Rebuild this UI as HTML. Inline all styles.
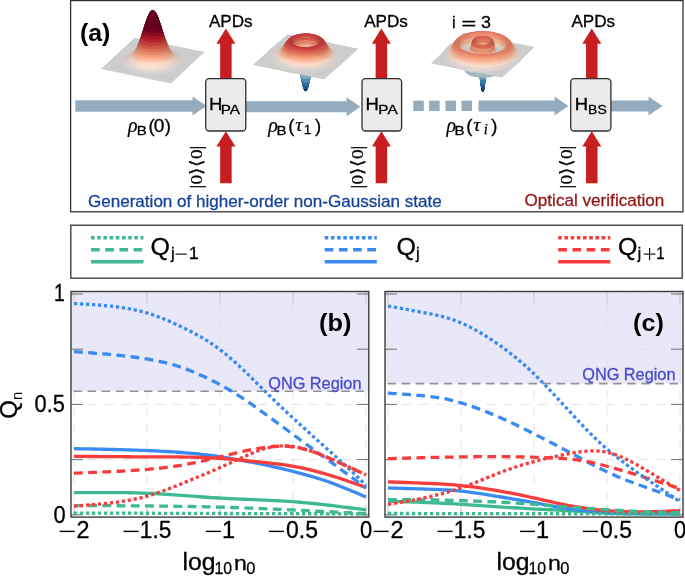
<!DOCTYPE html>
<html><head><meta charset="utf-8"><title>figure</title><style>html,body{margin:0;padding:0;background:#fff;width:685px;height:576px;overflow:hidden}svg{display:block;font-family:"Liberation Sans",sans-serif;will-change:transform}</style></head><body>
<svg width="685" height="576" viewBox="0 0 685 576" font-family="Liberation Sans, sans-serif">
<rect x="70.6" y="0.6" width="612.4" height="211.2" fill="none" stroke="#333" stroke-width="1.3"/>
<text x="79.92" y="40.68" font-size="24.8" font-weight="bold" textLength="30.46" lengthAdjust="spacingAndGlyphs">(a)</text>
<polygon points="101.0,69.1 170.9,83.5 204.6,52.1 134.7,37.8" fill="#cdcdcd"/>
<path fill="#ccc9c6" d="M157 47.8l.6-1.5l-6-.1l.1 1.5zM152.6 47.7l-.1-1.5l-6 .3l.8 1.5zM161.4 48.2l1.3-1.4l-6-.5l-.6 1.5zM148.3 47.9l-.8-1.5l-6 .8l1.5 1.4zM165.5 48.9l1.8-1.3l-5.8-1l-1.3 1.4z"/>
<path fill="#c9c3c0" d="M156.7 48.3l.7-1.4l-5.8-.1l.1 1.4zM152.7 48.2l-.1-1.4l-5.8 .3l1 1.3z"/>
<path fill="#ccc9c6" d="M144.2 48.3l-1.5-1.3l-5.6 1.2l1.9 1.2z"/>
<path fill="#c9c3c0" d="M160.8 48.6l1.5-1.2l-5.8-.5l-.7 1.3zM148.8 48.3l-1-1.3l-5.6 .8l1.6 1.1zM164.7 49.3l1.7-1l-5.3-1l-1.5 1.2z"/>
<path fill="#ccc9c6" d="M169.4 49.9l2-1.1l-5.3-1.5l-1.8 1.2z"/>
<path fill="#c6bdb7" d="M156.4 48.5l1.1-1l-5.8-.2l.2 1.1zM152.8 48.4l-.2-1.1l-5.5 .5l1.1 .9z"/>
<path fill="#c9c3c0" d="M145 48.7l-1.7-1.1l-5.1 1.3l1.7 .9z"/>
<path fill="#ccc9c6" d="M140.2 49l-2-1.2l-5.1 1.7l2.1 1z"/>
<path fill="#c6bdb7" d="M160.1 48.8l1.1-.7l-4.9-.8l-1.2 1zM149.3 48.4l-1.2-.9l-4.8 .9l1.2 .7z"/>
<path fill="#c9c3c0" d="M168.3 50.2l1.9-.8l-4.8-1.4l-1.8 1z"/>
<path fill="#c6bdb7" d="M163.8 49.4l1.3-.6l-4.5-1.1l-1.3 .7zM145.2 48.7l-1.3-.7l-4.4 1.3l1.4 .6z"/>
<path fill="#ccc6c3" d="M140.9 49.3l-1.9-.9l-4.7 1.6l2 .7z"/>
<path fill="#bdb1a8" d="M156.1 47.4l.9 .8l-5.3 .2l.3-1z"/>
<path fill="#ccc9c6" d="M172.9 51.1l2.3-.9l-4.7-1.8l-2.2 1z"/>
<path fill="#c0b1ab" d="M152.9 47.3l-.3 1.1l-4.8-.1l.8-.7z"/>
<path fill="#bdb1a8" d="M159.6 47.7l.8 .7l-4.3 0l-.7-.8z"/>
<path fill="#c0b4ab" d="M149.1 47.9l-.7 .7l-4.2 .1l.8-.7z"/>
<path fill="#ccc9c6" d="M136.3 50l-2.3-.9l-4.6 2l2.4 .8z"/>
<path fill="#c6bdb7" d="M167.1 50.3l1.6-.5l-4.1-1.4l-1.5 .6z"/>
<path fill="#c0b1ab" d="M163 48.3l.9 .7l-3.9-.2l-.7-.7z"/>
<path fill="#ccc3c0" d="M171.5 51.4l2.2-.7l-4.3-1.8l-2.1 .8z"/>
<path fill="#c9c0ba" d="M141.5 49.3l-1.6-.5l-4 1.6l1.7 .4z"/>
<path fill="#baa89f" d="M156.1 47.2l.6 1.2l-4.9-.1l.1-1.2z"/>
<path fill="#c3b4ab" d="M145.3 48.4l-.7 .7l-3.8 .3l.9-.7z"/>
<path fill="#baa89f" d="M152.8 47.1l-.1 1.2l-4.9 .3l.8-1.2zM159.4 47.5l1 1.1l-4.8-.3l-.6-1.2z"/>
<path fill="#ccc6c3" d="M137.3 50.3l-2.1-.7l-4.2 1.9l2.2 .6z"/>
<path fill="#baab9f" d="M149.7 47.2l-.8 1.3l-4.6 .4l.9-1.1z"/>
<path fill="#c0b4ab" d="M166.2 49.1l1 .7l-3.5-.4l-.7-.7z"/>
<path fill="#ccc9c6" d="M175.9 52.6l2.6-.7l-4.2-2.2l-2.5 .8z"/>
<path fill="#b4a296" d="M156 46.8l.4 1.3l-4.6-.1l.1-1.3z"/>
<path fill="#b7a296" d="M152.8 46.7l-.1 1.3l-4.6 .2l.6-1.3z"/>
<path fill="#baa89f" d="M162.7 48l.9 1l-4.2-.4l-.9-1.1z"/>
<path fill="#c6bdb7" d="M170.2 51.4l1.9-.4l-3.7-1.7l-1.8 .5z"/>
<path fill="#b4a296" d="M159.2 47.1l.9 1.4l-4.7-.4l-.4-1.3z"/>
<path fill="#c3b7ae" d="M141.8 49.1l-1.1-.2l-3.2 1.4l1.3 .1z"/>
<path fill="#bdaba2" d="M146.1 47.8l-.8 1l-4.1 .5l.8-1z"/>
<path fill="#b7a599" d="M149.7 46.8l-.6 1.4l-4.7 .6l1.1-1.4z"/>
<path fill="#ccc0ba" d="M138.2 50.3l-1.9-.4l-3.6 1.9l2 .3z"/>
<path fill="#cfc9c9" d="M132.9 51.3l-2.6-.7l-4 2.4l2.6 .6z"/>
<path fill="#ccc6c3" d="M174.3 52.8l2.4-.5l-3.8-2.1l-2.3 .6z"/>
<path fill="#b7a296" d="M162.3 47.6l1 1.3l-4.4-.6l-1-1.4z"/>
<path fill="#b19c8d" d="M155.9 46.2l.3 1.5l-4.4-.1l.1-1.5z"/>
<path fill="#b49c8d" d="M152.8 46.1l-.1 1.5l-4.4 .2l.4-1.5z"/>
<path fill="#baab9f" d="M165.7 48.8l.8 .9l-3.7-.5l-.7-.9z"/>
<path fill="#baa599" d="M146.7 47.2l-1 1.4l-4.2 .7l1-1.3z"/>
<path fill="#b19c8d" d="M159 46.5l.7 1.5l-4.4-.4l-.3-1.5z"/>
<path fill="#c3b4ab" d="M168.8 51l1.6 0l-3-1.6l-1.4 .1z"/>
<path fill="#b49f90" d="M149.8 46.2l-.5 1.5l-4.4 .6l.8-1.6z"/>
<path fill="#c0aea5" d="M142.7 48.6l-.7 .9l-3.6 .6l.7-.9z"/>
<path fill="#cfc9c3" d="M134.1 51.4l-2.4-.5l-3.6 2.3l2.5 .4z"/>
<path fill="#c6bab1" d="M138.9 50l-1.5 0l-2.9 1.7l1.7 0z"/>
<path fill="#b49c8d" d="M161.9 47l1.1 1.6l-4.4-.7l-.7-1.6z"/>
<path fill="#b7a599" d="M165.2 48.3l1 1.2l-3.9-.7l-.9-1.3z"/>
<path fill="#c9c0ba" d="M172.8 52.7l2.2-.2l-3.3-2l-2.1 .3z"/>
<path fill="#ab9081" d="M155.8 45.4l.3 1.7l-4.2-.1l0-1.7z"/>
<path fill="#ae9081" d="M152.8 45.4l0 1.7l-4.2 .2l.4-1.7z"/>
<path fill="#b79f93" d="M146.9 46.5l-.9 1.6l-4.3 .8l1.1-1.6z"/>
<path fill="#bda89c" d="M143.3 48l-.9 1.2l-3.7 .8l.9-1.2z"/>
<path fill="#ab9081" d="M158.7 45.7l.6 1.7l-4.2-.4l-.3-1.7z"/>
<path fill="#ae9384" d="M149.9 45.5l-.4 1.7l-4.2 .5l.7-1.7z"/>
<path fill="#bdaba2" d="M168.4 49.8l.7 .9l-3.2-.7l-.6-.9z"/>
<path fill="#ccc9c6" d="M178.3 54.3l2.8-.4l-3.6-2.5l-2.8 .6z"/>
<path fill="#ccc3bd" d="M135.3 51.4l-2.2-.2l-3.2 2.1l2.3 .1z"/>
<path fill="#b49f90" d="M164.7 47.7l1.1 1.5l-3.9-.8l-1-1.6z"/>
<path fill="#c3b1a8" d="M139.5 49.6l-.6 .9l-3.1 .8l.7-.9z"/>
<path fill="#ae9081" d="M161.5 46.2l.9 1.8l-4.1-.7l-.6-1.7z"/>
<path fill="#b19684" d="M147.1 45.8l-.7 1.8l-4.1 .8l1-1.9z"/>
<path fill="#c3b7ae" d="M171.2 52.2l1.9 .1l-2.7-1.8l-1.8 0z"/>
<path fill="#a58472" d="M155.7 44.5l.3 1.9l-4-.1l0-1.9z"/>
<path fill="#bda296" d="M143.9 47.2l-1 1.6l-3.8 .9l1-1.5z"/>
<path fill="#a58472" d="M152.9 44.4l0 1.9l-4 .2l.3-1.9z"/>
<path fill="#cfccc9" d="M130 52.7l-2.8-.5l-3.4 2.7l2.9 .3z"/>
<path fill="#baa599" d="M167.8 49.3l.9 1.1l-3.4-.8l-.8-1.1z"/>
<path fill="#ccc6c3" d="M176.6 54.3l2.7-.2l-3.2-2.4l-2.7 .4z"/>
<path fill="#a58472" d="M158.5 44.7l.5 1.9l-4-.4l-.3-1.9z"/>
<path fill="#a88775" d="M150.1 44.5l-.3 1.9l-4 .5l.6-1.9z"/>
<path fill="#c3ab9f" d="M140.3 49l-.8 1.1l-3.2 .9l.8-1.1z"/>
<path fill="#c9bdb4" d="M136.3 51l-1.9 .1l-2.6 1.9l2-.2z"/>
<path fill="#ae9384" d="M164.1 46.9l1.2 1.8l-3.9-.9l-1-1.9z"/>
<path fill="#cfc9c6" d="M131.5 52.8l-2.7-.2l-3.1 2.5l2.8 .1z"/>
<path fill="#a88472" d="M161.1 45.2l.8 2l-3.9-.6l-.6-1.9z"/>
<path fill="#b79f93" d="M167.1 48.6l1 1.4l-3.4-.9l-.9-1.5z"/>
<path fill="#b79987" d="M144.5 46.2l-1 1.9l-3.8 1l1.1-1.8z"/>
<path fill="#c0aea5" d="M170.8 50.9l.6 .8l-2.7-.8l-.5-.8z"/>
<path fill="#ccc0ba" d="M174.9 54.1l2.5 0l-2.8-2.3l-2.4 .1z"/>
<path fill="#ab8778" d="M147.4 44.8l-.6 2l-3.9 .8l.9-2z"/>
<path fill="#9f7866" d="M155.6 43.3l.2 2.1l-3.8-.1l0-2.1z"/>
<path fill="#a27866" d="M152.9 43.2l0 2.1l-3.8 .2l.3-2.1z"/>
<path fill="#c0a899" d="M141 48.1l-.9 1.4l-3.3 1l.9-1.4z"/>
<path fill="#9f7866" d="M158.2 43.5l.5 2.1l-3.8-.3l-.2-2.1z"/>
<path fill="#c9b4ab" d="M136.7 50.8l-.5 .8l-2.5 .9l.6-.8z"/>
<path fill="#a27b66" d="M150.2 43.3l-.3 2.1l-3.8 .5l.6-2.1z"/>
<path fill="#cfc6c0" d="M132.8 52.7l-2.5 0l-2.7 2.4l2.6-.1z"/>
<path fill="#bda89c" d="M170 50.4l.8 1.1l-2.8-.9l-.7-1.1z"/>
<path fill="#a88775" d="M163.6 45.8l1.1 2.1l-3.8-1l-.9-2z"/>
<path fill="#b19684" d="M166.5 47.7l1.1 1.8l-3.5-1l-1-1.8z"/>
<path fill="#b18d7b" d="M144.9 45.2l-.9 2.1l-3.8 1.1l1.2-2.1z"/>
<path fill="#a27866" d="M160.7 44l.8 2.2l-3.7-.6l-.5-2.1z"/>
<path fill="#c6bab1" d="M173.1 53.5l2.3 .4l-2.3-2.1l-2.2-.3z"/>
<path fill="#cfc9c9" d="M180.1 56.1l3-.1l-2.8-2.8l-2.8 .3z"/>
<path fill="#c6b1a2" d="M137.6 50.1l-.6 1l-2.6 1l.7-1.1z"/>
<path fill="#a57b69" d="M147.7 43.6l-.6 2.2l-3.7 .8l.8-2.2z"/>
<path fill="#ba9c8d" d="M141.7 47.1l-1 1.8l-3.3 1.1l1-1.7z"/>
<path fill="#bda596" d="M169.3 49.6l.9 1.4l-2.9-1l-.8-1.4z"/>
<path fill="#9c6c57" d="M155.4 41.9l.2 2.3l-3.7-.1l0-2.3zM152.9 41.8l0 2.3l-3.7 .2l.3-2.3z"/>
<path fill="#ccc0b7" d="M134.1 52.2l-2.3 .4l-2.2 2.2l2.4-.5z"/>
<path fill="#9c6c57" d="M157.9 42.1l.5 2.3l-3.6-.3l-.2-2.3z"/>
<path fill="#cfc9c3" d="M178.2 56l3 .1l-2.7-2.7l-2.9 .1z"/>
<path fill="#a27b66" d="M163.1 44.6l1 2.3l-3.6-.9l-.8-2.2z"/>
<path fill="#ab8a78" d="M165.8 46.7l1.1 2.1l-3.4-1.1l-1.1-2.1z"/>
<path fill="#9f6f5a" d="M150.4 41.9l-.3 2.3l-3.6 .5l.5-2.4z"/>
<path fill="#c3b1a8" d="M172.2 53l1.2 .2l-1.9-1.8l-1.1-.1z"/>
<path fill="#cfccc9" d="M127.5 54.4l-2.9-.2l-2.6 2.9l3 0z"/>
<path fill="#c6ab9c" d="M138.4 49.2l-.8 1.3l-2.7 1l.8-1.4z"/>
<path fill="#ab816c" d="M145.3 44l-.9 2.3l-3.6 1.1l1.1-2.4z"/>
<path fill="#b4907e" d="M142.4 46l-1 2.1l-3.3 1.1l1.1-2z"/>
<path fill="#9c6c57" d="M160.3 42.5l.7 2.4l-3.6-.6l-.5-2.4z"/>
<path fill="#b79987" d="M168.5 48.7l1 1.7l-2.9-1.1l-.9-1.7z"/>
<path fill="#a2725a" d="M148 42.1l-.5 2.4l-3.5 .7l.8-2.4z"/>
<path fill="#ccc3bd" d="M176.4 55.7l2.8 .3l-2.3-2.6l-2.8-.2z"/>
<path fill="#ccbaae" d="M134.6 51.9l-1.2 .2l-1.8 1.9l1.3-.2z"/>
<path fill="#d2c9c6" d="M129.3 54.3l-3 0l-2.5 2.9l3.1-.2z"/>
<path fill="#c3ae9f" d="M171.9 51.6l.6 1l-2.2-1l-.6-1z"/>
<path fill="#c0a290" d="M139.2 48.2l-.9 1.6l-2.7 1.1l.9-1.7z"/>
<path fill="#96604b" d="M155.3 40.2l.2 2.5l-3.5-.1l0-2.5z"/>
<path fill="#a87e69" d="M165.2 45.4l1.2 2.4l-3.4-1.2l-1.1-2.4z"/>
<path fill="#96604b" d="M152.9 40.2l0 2.5l-3.5 .2l.3-2.6z"/>
<path fill="#9f6f5a" d="M162.5 43.1l.9 2.5l-3.4-.9l-.7-2.4z"/>
<path fill="#ccb4a8" d="M135.3 51.4l-1.1 .3l-1.5 1.7l1.2-.3z"/>
<path fill="#96604b" d="M157.7 40.5l.4 2.6l-3.5-.3l-.2-2.6z"/>
<path fill="#d2c6c3" d="M131 54l-2.9 .4l-2.1 2.7l2.9-.5z"/>
<path fill="#c0a899" d="M171 50.8l.7 1.3l-2.3-1l-.7-1.2z"/>
<path fill="#99604e" d="M150.5 40.3l-.3 2.6l-3.5 .4l.5-2.6z"/>
<path fill="#b18d7b" d="M167.8 47.6l1 2l-2.9-1.1l-1-2z"/>
<path fill="#b1846f" d="M143 44.6l-1.1 2.4l-3.3 1.2l1.1-2.4z"/>
<path fill="#c9bdb4" d="M174.5 55l2.6 .7l-1.9-2.3l-2.5-.6z"/>
<path fill="#a5755d" d="M145.7 42.5l-.8 2.5l-3.4 1l1-2.6z"/>
<path fill="#96604b" d="M159.9 40.9l.7 2.6l-3.4-.6l-.4-2.6z"/>
<path fill="#ba9381" d="M140 47l-.9 1.9l-2.8 1.2l1-2z"/>
<path fill="#ccb1a2" d="M136.2 50.5l-.6 1.2l-2.1 1.1l.7-1.3z"/>
<path fill="#9c634e" d="M148.2 40.5l-.5 2.6l-3.4 .7l.7-2.7z"/>
<path fill="#d2c3ba" d="M132.4 53.4l-2.6 .7l-1.7 2.4l2.7-.8z"/>
<path fill="#ba9c8d" d="M170.2 49.9l.8 1.6l-2.3-1.1l-.8-1.5z"/>
<path fill="#c9b4ab" d="M173.6 54.4l1.5 .4l-1.5-2.1l-1.5-.4z"/>
<path fill="#a2725a" d="M164.5 43.9l1.2 2.7l-3.3-1.2l-1-2.6z"/>
<path fill="#cfccc9" d="M181.2 58.1l3 .1l-1.8-3l-2.9 .1z"/>
<path fill="#ab816c" d="M167 46.3l1.1 2.3l-2.9-1.2l-1-2.3z"/>
<path fill="#99604e" d="M162 41.4l.9 2.7l-3.3-.8l-.7-2.7z"/>
<path fill="#8d513f" d="M155.2 38.4l.2 2.8l-3.4-.1l0-2.8zM152.9 38.3l0 2.8l-3.4 .2l.3-2.8z"/>
<path fill="#ab7860" d="M143.6 43l-1 2.7l-3.2 1.3l1.2-2.7z"/>
<path fill="#c6a593" d="M137.1 49.4l-.7 1.5l-2.1 1.1l.8-1.5z"/>
<path fill="#cfc9c6" d="M179.3 57.9l3 .3l-1.7-2.9l-2.9-.1z"/>
<path fill="#c6b1a5" d="M172.6 53.7l1.4 .5l-1.3-1.9l-1.3-.4z"/>
<path fill="#8d513f" d="M157.4 38.6l.4 2.8l-3.3-.3l-.2-2.8z"/>
<path fill="#9f6651" d="M146.1 40.9l-.7 2.7l-3.2 1l.9-2.8z"/>
<path fill="#b78772" d="M140.8 45.6l-1 2.3l-2.7 1.2l1-2.3z"/>
<path fill="#d2bdb1" d="M133.1 53l-1.5 .5l-1.4 2.2l1.6-.5z"/>
<path fill="#905442" d="M150.7 38.4l-.3 2.8l-3.3 .4l.5-2.8z"/>
<path fill="#b4907e" d="M169.4 48.7l.9 1.9l-2.3-1.2l-.8-1.8z"/>
<path fill="#d2ccc9" d="M125.6 56.3l-2.9 0l-1.5 3.1l3-.2z"/>
<path fill="#8d513f" d="M159.5 39l.6 2.8l-3.2-.5l-.4-2.8z"/>
<path fill="#cfc6c0" d="M177.3 57.4l3.1 .8l-1.7-2.9l-3-.5z"/>
<path fill="#cfbaab" d="M133.8 52.5l-1.4 .5l-1.2 2l1.5-.6z"/>
<path fill="#c6ab9c" d="M171.7 52.8l1.3 .6l-1.1-1.7l-1.2-.5z"/>
<path fill="#935442" d="M148.6 38.6l-.5 2.8l-3.2 .7l.7-2.9z"/>
<path fill="#c09987" d="M138 48.2l-.8 1.8l-2.2 1.2l.8-1.8z"/>
<path fill="#9c634e" d="M163.9 42.1l1.1 2.9l-3.1-1.1l-.9-2.8z"/>
<path fill="#a8755d" d="M166.3 44.7l1.1 2.6l-2.9-1.2l-1-2.6z"/>
<path fill="#d2ccc9" d="M127.5 56l-2.9 .2l-1.5 3l3-.4z"/>
<path fill="#a56954" d="M144.1 41.3l-1 2.9l-3.1 1.3l1.2-2.9z"/>
<path fill="#b17b63" d="M141.5 43.9l-1 2.6l-2.7 1.3l1.1-2.6z"/>
<path fill="#cfc0b7" d="M175.4 56.5l2.9 1.1l-1.4-2.7l-2.9-1z"/>
<path fill="#905442" d="M161.5 39.5l.8 2.9l-3.1-.8l-.6-2.9z"/>
<path fill="#d2b7a5" d="M134.6 51.8l-1.3 .6l-1 1.8l1.4-.7z"/>
<path fill="#b1846f" d="M168.5 47.3l1 2.2l-2.3-1.2l-.9-2.1z"/>
<path fill="#d5c9c3" d="M129.5 55.5l-3 .6l-1.4 3l3.1-.9z"/>
<path fill="#c0a290" d="M171.4 51.1l.7 1.4l-1.7-1.1l-.6-1.4z"/>
<path fill="#844236" d="M155.1 36.3l.2 3l-3.2-.1l0-3zM153 36.2l0 3l-3.2 .2l.2-3z"/>
<path fill="#965745" d="M146.5 38.9l-.7 2.9l-3.1 .9l.9-3z"/>
<path fill="#844236" d="M157.1 36.5l.4 3l-3.2-.3l-.2-3z"/>
<path fill="#bd8d78" d="M138.8 46.7l-.8 2.1l-2.2 1.2l.9-2.1z"/>
<path fill="#874536" d="M150.9 36.3l-.2 3l-3.2 .4l.5-3z"/>
<path fill="#ccbaae" d="M174.4 55.9l1.8 .8l-1.1-2.4l-1.8-.7z"/>
<path fill="#ccab99" d="M135.3 50.9l-.5 1.3l-1.5 1l.6-1.4z"/>
<path fill="#d5c6bd" d="M131.3 54.6l-3 1.2l-1.2 2.8l3-1.3z"/>
<path fill="#9f6651" d="M165.5 42.9l1.1 2.9l-2.8-1.3l-1.1-2.9z"/>
<path fill="#844236" d="M159.1 36.8l.6 3.1l-3.1-.5l-.4-3z"/>
<path fill="#ba9681" d="M170.5 49.9l.7 1.7l-1.7-1.1l-.7-1.7z"/>
<path fill="#935442" d="M163.2 40.1l1 3.1l-3-1.1l-.9-3z"/>
<path fill="#8a4536" d="M148.9 36.5l-.5 3.1l-3.1 .6l.7-3.1z"/>
<path fill="#ab7860" d="M167.7 45.7l1 2.5l-2.3-1.2l-.9-2.5z"/>
<path fill="#ccb4a8" d="M173.5 55.1l1.7 .9l-.9-2.2l-1.6-.8z"/>
<path fill="#ab6c57" d="M142.3 42.1l-1 2.9l-2.6 1.3l1.1-2.9z"/>
<path fill="#9c5a48" d="M144.7 39.4l-.9 3.1l-2.9 1.2l1.1-3.1z"/>
<path fill="#d5c3b7" d="M132 54.2l-1.8 .9l-.9 2.5l1.8-.9z"/>
<path fill="#c69f8a" d="M136.3 49.5l-.6 1.6l-1.5 1.1l.7-1.7z"/>
<path fill="#b78169" d="M139.7 45l-.9 2.4l-2.1 1.3l.9-2.4z"/>
<path fill="#874536" d="M160.9 37.3l.8 3.1l-3-.7l-.6-3.1z"/>
<path fill="#cfccc9" d="M181.5 60.1l2.9 .3l-.7-3.1l-2.8-.1z"/>
<path fill="#ccb1a2" d="M172.5 54.1l1.6 1l-.7-2l-1.5-.9z"/>
<path fill="#d5bdb1" d="M132.8 53.6l-1.7 1l-.8 2.3l1.7-1z"/>
<path fill="#904839" d="M147 36.8l-.7 3.1l-2.9 .9l.9-3.2z"/>
<path fill="#b78772" d="M169.6 48.5l.8 2l-1.7-1.2l-.7-2z"/>
<path fill="#d2ccc6" d="M179.6 59.7l2.9 .5l-.7-3l-2.9-.3z"/>
<path fill="#7b332a" d="M154.9 34l.2 3.2l-3.1-.1l0-3.2z"/>
<path fill="#7e332a" d="M153 33.9l0 3.2l-3.1 .2l.2-3.2z"/>
<path fill="#995745" d="M164.7 40.9l1.2 3.2l-2.7-1.3l-1.1-3.2z"/>
<path fill="#7b332a" d="M156.8 34.2l.4 3.2l-3-.3l-.2-3.2z"/>
<path fill="#d2c9c3" d="M177.6 59.1l2.9 .9l-.7-2.9l-2.9-.7z"/>
<path fill="#7e362d" d="M151 34l-.2 3.2l-3 .4l.4-3.2z"/>
<path fill="#a56954" d="M166.8 43.9l1 2.8l-2.3-1.3l-.9-2.7z"/>
<path fill="#c6a596" d="M171.5 53l1.5 1.1l-.6-1.8l-1.4-1z"/>
<path fill="#d8baab" d="M133.6 52.8l-1.6 1l-.6 2.1l1.6-1.1z"/>
<path fill="#c3937b" d="M137.2 48l-.7 1.9l-1.6 1.1l.7-2z"/>
<path fill="#8a4539" d="M162.6 37.9l1 3.3l-2.8-1l-.8-3.2z"/>
<path fill="#a25d4b" d="M143 40l-1 3.1l-2.6 1.3l1.1-3.1z"/>
<path fill="#7e332a" d="M158.7 34.5l.6 3.3l-2.9-.5l-.4-3.2z"/>
<path fill="#d2cfcc" d="M124.5 58.2l-2.8 .2l-.4 3.1l2.9-.4z"/>
<path fill="#b1725a" d="M140.5 43.1l-.9 2.7l-2.1 1.3l1-2.7z"/>
<path fill="#d2c3ba" d="M175.7 58.1l3 1.5l-.7-2.9l-2.9-1.3z"/>
<path fill="#81362d" d="M149.2 34.2l-.5 3.2l-2.9 .6l.6-3.3z"/>
<path fill="#934b3c" d="M145.2 37.2l-.9 3.3l-2.8 1.1l1.1-3.3z"/>
<path fill="#d5ccc9" d="M126.4 57.9l-2.8 .4l-.4 3l2.9-.6z"/>
<path fill="#b17b63" d="M168.7 46.8l.8 2.3l-1.7-1.2l-.8-2.3z"/>
<path fill="#d2b19f" d="M134.4 51.8l-1.5 1.2l-.5 2l1.5-1.2z"/>
<path fill="#c09987" d="M170.6 51.7l1.4 1.2l-.5-1.7l-1.4-1.1z"/>
<path fill="#d5ccc6" d="M128.3 57.3l-2.9 .8l-.4 2.9l2.9-1z"/>
<path fill="#d2bdb1" d="M174.7 57.3l2 1.3l-.6-2.8l-2-1.3z"/>
<path fill="#7e362d" d="M160.4 35l.8 3.3l-2.8-.7l-.6-3.3z"/>
<path fill="#c0846c" d="M138.1 46.3l-.7 2.2l-1.6 1.2l.7-2.3z"/>
<path fill="#873930" d="M147.4 34.5l-.7 3.3l-2.8 .8l.8-3.4z"/>
<path fill="#d8c9c0" d="M130.3 56.2l-2.9 1.4l-.4 2.9l2.9-1.6z"/>
<path fill="#9c5a48" d="M166 41.8l1 3l-2.2-1.3l-1-3z"/>
<path fill="#d2baab" d="M173.7 56.5l1.9 1.4l-.4-2.6l-1.9-1.3z"/>
<path fill="#cfa590" d="M135.3 50.6l-1.5 1.3l-.4 1.8l1.5-1.3z"/>
<path fill="#904839" d="M164 38.7l1.2 3.4l-2.7-1.3l-1-3.4z"/>
<path fill="#bd8d78" d="M169.6 50.2l1.4 1.3l-.4-1.5l-1.3-1.3z"/>
<path fill="#752424" d="M154.8 31.6l.2 3.3l-2.9 0l0-3.3zM153 31.5l0 3.3l-2.9 .2l.2-3.3z"/>
<path fill="#ab6f57" d="M167.8 44.9l.8 2.6l-1.7-1.2l-.8-2.6z"/>
<path fill="#dbc6ba" d="M131.3 55.4l-2 1.3l-.4 2.9l2-1.4z"/>
<path fill="#a8604e" d="M141.3 41l-.9 3l-2.1 1.3l1-3z"/>
<path fill="#994e3c" d="M143.7 37.8l-1 3.4l-2.5 1.3l1.1-3.4z"/>
<path fill="#752424" d="M156.6 31.8l.4 3.4l-2.9-.3l-.2-3.3z"/>
<path fill="#d2b7a5" d="M172.8 55.5l1.8 1.5l-.3-2.4l-1.8-1.4z"/>
<path fill="#782724" d="M151.2 31.6l-.2 3.4l-2.9 .4l.4-3.4z"/>
<path fill="#84362d" d="M161.9 35.6l1 3.4l-2.7-1l-.8-3.4z"/>
<path fill="#dbc3b4" d="M132.2 54.6l-1.9 1.5l-.3 2.7l1.9-1.6z"/>
<path fill="#c99681" d="M136.2 49.2l-1.4 1.4l-.3 1.6l1.4-1.5z"/>
<path fill="#ba755d" d="M139 44.3l-.7 2.5l-1.5 1.2l.8-2.5z"/>
<path fill="#8a3930" d="M145.8 34.9l-.9 3.4l-2.7 1.1l1-3.5z"/>
<path fill="#752424" d="M158.2 32.1l.6 3.4l-2.8-.5l-.4-3.4z"/>
<path fill="#ccab99" d="M171.8 54.3l1.7 1.6l-.2-2.2l-1.7-1.5z"/>
<path fill="#7b2727" d="M149.5 31.7l-.4 3.4l-2.8 .6l.6-3.4z"/>
<path fill="#ba8169" d="M169.4 47.9l.6 2l-1.1-1l-.6-2z"/>
<path fill="#dec0b1" d="M133 53.7l-1.8 1.6l-.2 2.5l1.8-1.7z"/>
<path fill="#934b3c" d="M165.1 39.5l1 3.3l-2.2-1.3l-1-3.3z"/>
<path fill="#782724" d="M159.8 32.5l.8 3.5l-2.7-.7l-.6-3.4z"/>
<path fill="#a25d4b" d="M166.9 42.7l.9 2.9l-1.7-1.2l-.8-2.8z"/>
<path fill="#d2ccc9" d="M181.1 62.1l2.8 .5l.4-3.1l-2.8-.3z"/>
<path fill="#c99f8a" d="M170.8 52.9l1.6 1.7l-.1-2.1l-1.6-1.7z"/>
<path fill="#d2ccc9" d="M179.2 61.5l2.8 .7l.4-3l-2.8-.5z"/>
<path fill="#873930" d="M163.2 36.2l1.1 3.6l-2.5-1.2l-1-3.5z"/>
<path fill="#dbb7a2" d="M133.9 52.7l-1.7 1.7l-.1 2.4l1.7-1.8z"/>
<path fill="#c68a6f" d="M137 47.6l-1.4 1.6l-.2 1.5l1.4-1.6z"/>
<path fill="#7e2727" d="M147.9 32l-.6 3.5l-2.7 .8l.8-3.5z"/>
<path fill="#d5c9c3" d="M177.3 60.8l2.8 1.1l.4-2.8l-2.8-.9z"/>
<path fill="#9f513f" d="M142.1 38.7l-.9 3.2l-2 1.3l1-3.3z"/>
<path fill="#903c33" d="M144.4 35.3l-1 3.6l-2.4 1.3l1.1-3.6z"/>
<path fill="#d5c6bd" d="M175.4 59.6l2.8 1.6l.3-2.7l-2.8-1.4z"/>
<path fill="#b16651" d="M139.9 42.1l-.7 2.8l-1.5 1.2l.8-2.8z"/>
<path fill="#b1725a" d="M168.5 46l.6 2.3l-1.1-1l-.6-2.3z"/>
<path fill="#6c151e" d="M154.7 29l.2 3.5l-2.8 0l0-3.5z"/>
<path fill="#d5ab93" d="M134.8 51.4l-1.7 1.9l0 2.2l1.7-1.9z"/>
<path fill="#6c151e" d="M153 29l0 3.5l-2.7 .1l.2-3.5z"/>
<path fill="#7b2727" d="M161.2 33l.9 3.6l-2.6-.9l-.8-3.5z"/>
<path fill="#c3937b" d="M169.8 51.3l1.6 1.9l0-1.9l-1.6-1.8z"/>
<path fill="#d5c3b7" d="M174.4 58.8l1.8 1.4l.3-2.7l-1.8-1.2z"/>
<path fill="#6c151e" d="M156.3 29.2l.4 3.5l-2.7-.2l-.2-3.5z"/>
<path fill="#6f181e" d="M151.4 29l-.2 3.5l-2.7 .3l.4-3.5z"/>
<path fill="#d5cfcc" d="M126 59.8l-2.8 .6l.7 2.9l2.8-.8z"/>
<path fill="#812a27" d="M146.4 32.4l-.8 3.6l-2.5 1l1-3.7z"/>
<path fill="#d2cfcc" d="M124.1 60.2l-2.8 .4l.7 3.1l2.8-.6z"/>
<path fill="#d8c0b1" d="M173.5 57.9l1.8 1.6l.3-2.7l-1.8-1.5z"/>
<path fill="#d8cfc9" d="M127.9 59.1l-2.8 1l.6 2.8l2.8-1.2z"/>
<path fill="#c07b60" d="M137.9 45.7l-.5 2.2l-1 .9l.6-2.2z"/>
<path fill="#6c151e" d="M157.8 29.5l.6 3.5l-2.7-.4l-.4-3.5z"/>
<path fill="#deccc3" d="M129.8 57.9l-2.8 1.5l.6 2.7l2.7-1.7z"/>
<path fill="#994e3f" d="M166 40.4l.9 3.1l-1.6-1.2l-.8-3.1z"/>
<path fill="#8a3930" d="M164.3 37l1 3.5l-2.1-1.3l-1-3.5z"/>
<path fill="#d29c84" d="M135.7 50l-1.6 2l.1 2l1.6-2.1z"/>
<path fill="#72181e" d="M149.8 29.2l-.4 3.5l-2.6 .5l.6-3.6z"/>
<path fill="#d8bdab" d="M172.5 56.8l1.8 1.9l.3-2.7l-1.8-1.8z"/>
<path fill="#deccbd" d="M130.8 57.1l-1.8 1.3l.6 2.6l1.7-1.4z"/>
<path fill="#c0876c" d="M168.9 49.5l1.5 2l0-1.7l-1.5-2z"/>
<path fill="#a8634e" d="M167.5 43.8l.6 2.6l-1.1-1l-.6-2.5z"/>
<path fill="#963f33" d="M142.9 36.2l-.9 3.5l-2 1.3l1-3.5z"/>
<path fill="#a55442" d="M140.8 39.8l-.8 3l-1.5 1.2l.8-3.1z"/>
<path fill="#7e2727" d="M162.4 33.6l1.1 3.8l-2.4-1.2l-1-3.7z"/>
<path fill="#e1c9ba" d="M131.7 56.2l-1.7 1.5l.6 2.6l1.7-1.7z"/>
<path fill="#d5b19f" d="M171.6 55.6l1.7 2.2l.3-2.7l-1.8-2.1z"/>
<path fill="#6f181e" d="M159.3 29.9l.8 3.6l-2.6-.6l-.6-3.6z"/>
<path fill="#751821" d="M148.3 29.4l-.6 3.6l-2.5 .7l.8-3.7z"/>
<path fill="#872a2a" d="M145.1 32.7l-1 3.8l-2.3 1.3l1.1-3.8z"/>
<path fill="#e4c6b4" d="M132.7 55.1l-1.7 1.8l.6 2.6l1.7-1.9z"/>
<path fill="#cf9075" d="M136.6 48.2l-1.6 2.2l.1 1.9l1.6-2.2z"/>
<path fill="#b76954" d="M138.9 43.4l-.5 2.4l-1 .9l.6-2.5z"/>
<path fill="#cfa590" d="M170.6 54.1l1.7 2.4l.4-2.5l-1.7-2.3z"/>
<path fill="#ba785d" d="M167.9 47.4l1.5 2.2l.1-1.6l-1.5-2.2z"/>
<path fill="#e1bda8" d="M133.6 53.8l-1.7 2.1l.6 2.6l1.7-2.2z"/>
<path fill="#72181e" d="M160.6 30.3l.9 3.7l-2.4-.9l-.8-3.7z"/>
<path fill="#600c18" d="M154.5 26.4l.2 3.5l-2.6 0l0-3.5z"/>
<path fill="#903c33" d="M165.1 37.8l.9 3.4l-1.6-1.2l-.8-3.3z"/>
<path fill="#600c18" d="M153 26.3l0 3.5l-2.6 .1l.2-3.5z"/>
<path fill="#781821" d="M147 29.7l-.8 3.7l-2.4 1l1-3.8z"/>
<path fill="#600c18" d="M156 26.5l.4 3.6l-2.6-.2l-.2-3.5z"/>
<path fill="#9f513f" d="M166.6 41.3l.7 2.8l-1.1-1l-.6-2.8z"/>
<path fill="#cc9981" d="M169.6 52.4l1.6 2.5l.4-2.3l-1.6-2.5z"/>
<path fill="#812a2a" d="M163.4 34.3l1.1 3.7l-2-1.2l-1-3.7z"/>
<path fill="#630c18" d="M151.6 26.4l-.2 3.5l-2.6 .3l.4-3.6z"/>
<path fill="#deae99" d="M134.6 52.3l-1.7 2.4l.6 2.6l1.6-2.5z"/>
<path fill="#c98166" d="M137.6 46.3l-1.5 2.3l.2 1.7l1.5-2.4z"/>
<path fill="#9c4236" d="M141.7 37.2l-.8 3.2l-1.4 1.1l.8-3.3z"/>
<path fill="#600c18" d="M157.4 26.8l.6 3.6l-2.5-.4l-.4-3.6z"/>
<path fill="#8d2d2d" d="M143.8 33.5l-.9 3.6l-1.9 1.2l1-3.7z"/>
<path fill="#d8ccc6" d="M176.3 62.4l2.7 1.2l1.3-2.7l-2.8-1.1z"/>
<path fill="#d8c9c0" d="M174.5 61.1l2.6 1.7l1.2-2.6l-2.7-1.6z"/>
<path fill="#630c1b" d="M150.1 26.5l-.4 3.6l-2.5 .5l.6-3.6z"/>
<path fill="#ae5745" d="M139.8 41l-.6 2.7l-.9 .9l.6-2.8z"/>
<path fill="#d5cfc9" d="M178.2 63.3l2.7 .9l1.4-2.8l-2.8-.7z"/>
<path fill="#dbc6ba" d="M173.6 60.3l1.6 1.4l1.2-2.5l-1.7-1.3z"/>
<path fill="#b16651" d="M166.9 45.1l1.5 2.4l.1-1.5l-1.5-2.3z"/>
<path fill="#751821" d="M161.7 30.9l1.1 3.9l-2.3-1.1l-1-3.8z"/>
<path fill="#d8a28a" d="M135.5 50.7l-1.6 2.7l.6 2.4l1.6-2.7z"/>
<path fill="#d2cfcc" d="M180 64l2.8 .7l1.5-3l-2.8-.5z"/>
<path fill="#c68a6f" d="M168.7 50.5l1.6 2.7l.5-2.2l-1.6-2.6z"/>
<path fill="#dbc3b7" d="M172.7 59.3l1.6 1.6l1.2-2.4l-1.7-1.5z"/>
<path fill="#630c18" d="M158.7 27.2l.8 3.7l-2.4-.6l-.6-3.6z"/>
<path fill="#7e1b21" d="M145.8 30.1l-1 3.9l-2.3 1.2l1.1-3.9z"/>
<path fill="#dec0b1" d="M171.8 58.2l1.6 1.9l1.1-2.4l-1.6-1.8z"/>
<path fill="#660c1b" d="M148.8 26.7l-.6 3.7l-2.4 .7l.8-3.7z"/>
<path fill="#bd6f57" d="M138.5 44.1l-1.5 2.5l.2 1.6l1.5-2.6z"/>
<path fill="#e1cfc6" d="M130 59.6l-2.7 1.6l1.5 2.5l2.6-1.8z"/>
<path fill="#dbd2cc" d="M128.2 60.8l-2.7 1.2l1.6 2.6l2.6-1.3z"/>
<path fill="#d59678" d="M136.4 48.9l-1.6 2.8l.6 2.3l1.5-2.9z"/>
<path fill="#dbb7a2" d="M170.9 56.8l1.5 2.1l1.1-2.3l-1.6-2z"/>
<path fill="#872a2a" d="M164.2 35.1l.9 3.5l-1.6-1.1l-.8-3.5z"/>
<path fill="#963f33" d="M165.6 38.7l.7 3.1l-1.1-1l-.6-3z"/>
<path fill="#e4cfc3" d="M131 58.8l-1.7 1.3l1.4 2.4l1.6-1.5z"/>
<path fill="#d8cfcc" d="M126.3 61.7l-2.8 .8l1.7 2.8l2.7-1z"/>
<path fill="#e7ccbd" d="M131.9 57.8l-1.6 1.6l1.4 2.3l1.6-1.7z"/>
<path fill="#c07b60" d="M167.7 48.4l1.5 2.9l.5-2l-1.6-2.8z"/>
<path fill="#630c1b" d="M159.9 27.6l.9 3.8l-2.3-.8l-.8-3.7z"/>
<path fill="#eaccba" d="M132.8 56.7l-1.6 1.8l1.4 2.3l1.5-1.9z"/>
<path fill="#d5ab96" d="M169.9 55.3l1.5 2.4l1.1-2.3l-1.5-2.3z"/>
<path fill="#a85442" d="M165.9 42.6l1.5 2.6l.1-1.4l-1.5-2.5z"/>
<path fill="#781821" d="M162.6 31.6l1.1 3.9l-2-1.2l-1-3.8z"/>
<path fill="#93302d" d="M142.6 34.5l-.8 3.4l-1.4 1.1l.8-3.5z"/>
<path fill="#d2cfcc" d="M124.4 62.2l-2.8 .6l1.7 2.9l2.7-.8z"/>
<path fill="#a54539" d="M140.8 38.4l-.6 2.9l-.9 .9l.6-3z"/>
<path fill="#6c0f1b" d="M147.5 27l-.8 3.8l-2.3 .9l1-3.8z"/>
<path fill="#4e0615" d="M154.4 23.7l.2 3.5l-2.4 0l0-3.5z"/>
<path fill="#510615" d="M153.1 23.7l0 3.5l-2.4 .1l.2-3.6z"/>
<path fill="#e7c0ae" d="M133.8 55.3l-1.5 2.1l1.3 2.2l1.5-2.2z"/>
<path fill="#510615" d="M155.7 23.9l.4 3.6l-2.4-.2l-.2-3.5z"/>
<path fill="#841b24" d="M144.6 30.8l-.9 3.8l-1.8 1.2l1-3.8z"/>
<path fill="#cf8469" d="M137.4 46.9l-1.5 3l.6 2.1l1.5-3z"/>
<path fill="#510615" d="M151.7 23.7l-.2 3.6l-2.4 .3l.4-3.6z"/>
<path fill="#b45a48" d="M139.4 41.7l-1.5 2.7l.2 1.5l1.5-2.8z"/>
<path fill="#d29c84" d="M169 53.6l1.5 2.7l1.1-2.3l-1.5-2.6z"/>
<path fill="#e4b49f" d="M134.7 53.8l-1.5 2.3l1.3 2.2l1.4-2.4z"/>
<path fill="#510615" d="M157 24.1l.6 3.6l-2.4-.4l-.4-3.6z"/>
<path fill="#b76954" d="M166.8 46.1l1.5 3l.5-1.9l-1.5-3z"/>
<path fill="#690c1b" d="M160.9 28.1l1.1 3.9l-2.2-1.1l-.9-3.9z"/>
<path fill="#540618" d="M150.4 23.8l-.4 3.6l-2.4 .5l.6-3.6z"/>
<path fill="#6f0f1e" d="M146.5 27.3l-1 4l-2.2 1.2l1.1-4z"/>
<path fill="#8d2d2d" d="M164.7 36l.7 3.3l-1-.9l-.6-3.2z"/>
<path fill="#cf9075" d="M168.1 51.6l1.4 3l1.1-2.2l-1.5-2.9z"/>
<path fill="#e1a88d" d="M135.6 52.1l-1.5 2.6l1.3 2.2l1.4-2.7z"/>
<path fill="#510615" d="M158.2 24.4l.8 3.7l-2.3-.6l-.6-3.6z"/>
<path fill="#7e1b21" d="M163.3 32.3l.9 3.7l-1.5-1.1l-.8-3.6z"/>
<path fill="#9c4236" d="M165 39.9l1.5 2.7l.2-1.2l-1.4-2.7z"/>
<path fill="#c6725a" d="M138.3 44.6l-1.5 3.2l.6 2l1.5-3.2z"/>
<path fill="#570618" d="M149.2 24l-.6 3.7l-2.3 .7l.8-3.7z"/>
<path fill="#993030" d="M141.7 35.6l-.6 3.1l-.9 .9l.6-3.2z"/>
<path fill="#e1ccc0" d="M172.3 61.6l1.5 1.5l1.9-2.2l-1.6-1.4z"/>
<path fill="#8a1b24" d="M143.5 31.7l-.8 3.6l-1.4 1.1l.8-3.6z"/>
<path fill="#deccc3" d="M173.1 62.6l2.5 1.9l2-2.4l-2.6-1.7z"/>
<path fill="#e1c9ba" d="M171.4 60.6l1.5 1.7l1.9-2.2l-1.6-1.6z"/>
<path fill="#de997b" d="M136.5 50.1l-1.4 2.9l1.3 2.1l1.4-3z"/>
<path fill="#ab483c" d="M140.4 39.1l-1.5 2.9l.2 1.4l1.5-2.9z"/>
<path fill="#ae5745" d="M165.8 43.5l1.5 3.2l.5-1.8l-1.5-3.2z"/>
<path fill="#6c0f1b" d="M161.7 28.7l1.1 3.9l-1.9-1.1l-1-3.9z"/>
<path fill="#e4c6b4" d="M170.6 59.4l1.4 1.9l1.8-2.1l-1.5-1.8z"/>
<path fill="#c98166" d="M167.2 49.4l1.4 3.3l1.1-2.2l-1.4-3.2z"/>
<path fill="#540618" d="M159.2 24.8l.9 3.8l-2.2-.8l-.8-3.7z"/>
<path fill="#d8cfc9" d="M174.8 64l2.5 1.4l2.2-2.5l-2.7-1.3z"/>
<path fill="#e1bda8" d="M169.7 58l1.4 2.2l1.8-2.1l-1.5-2.1z"/>
<path fill="#5a0618" d="M148.1 24.3l-.8 3.8l-2.2 .9l1-3.9z"/>
<path fill="#750f1e" d="M145.4 27.9l-.9 3.9l-1.8 1.1l1-3.9z"/>
<path fill="#d5cfcc" d="M176.5 65l2.6 1.1l2.3-2.7l-2.8-.9z"/>
<path fill="#ba5d4b" d="M139.3 42.1l-1.5 3.4l.6 1.9l1.5-3.4z"/>
<path fill="#deb199" d="M168.9 56.4l1.3 2.4l1.7-2l-1.4-2.3z"/>
<path fill="#3f0012" d="M154.3 21.2l.2 3.5l-2.3 0l0-3.5z"/>
<path fill="#420012" d="M153.1 21.1l0 3.5l-2.3 .1l.2-3.5z"/>
<path fill="#e7d2c6" d="M131.8 60.3l-1.6 1.4l2.1 2.1l1.5-1.6z"/>
<path fill="#d88a6c" d="M137.5 47.9l-1.4 3.2l1.2 2.1l1.3-3.3z"/>
<path fill="#edd2c3" d="M132.6 59.3l-1.5 1.6l2.1 2.1l1.4-1.7z"/>
<path fill="#e4d5c9" d="M130.9 61.2l-2.6 1.8l2.3 2.3l2.4-2z"/>
<path fill="#3f0012" d="M155.4 21.3l.4 3.5l-2.3-.2l-.2-3.5z"/>
<path fill="#f0cfbd" d="M133.5 58.1l-1.5 1.9l2 2l1.4-2z"/>
<path fill="#420012" d="M151.9 21.1l-.2 3.5l-2.3 .3l.4-3.5z"/>
<path fill="#93302d" d="M164 37.1l1.4 2.9l.2-1.1l-1.4-2.8z"/>
<path fill="#841b24" d="M163.7 33.1l.7 3.4l-1-.9l-.6-3.3z"/>
<path fill="#d2cfcc" d="M178.2 65.8l2.7 .9l2.4-2.8l-2.8-.7z"/>
<path fill="#c06f57" d="M166.2 47l1.4 3.6l1.1-2.2l-1.4-3.5z"/>
<path fill="#edc6b1" d="M134.4 56.8l-1.4 2.1l2 2l1.3-2.2z"/>
<path fill="#570618" d="M160.1 25.3l1.1 4l-2.1-1l-.9-3.9z"/>
<path fill="#dba28a" d="M168 54.6l1.3 2.7l1.7-2l-1.4-2.6z"/>
<path fill="#ded2cc" d="M129.1 62.5l-2.7 1.4l2.4 2.4l2.5-1.5z"/>
<path fill="#420012" d="M156.6 21.5l.6 3.6l-2.2-.4l-.4-3.5z"/>
<path fill="#450015" d="M150.8 21.2l-.4 3.6l-2.2 .5l.6-3.6z"/>
<path fill="#5d0918" d="M147.2 24.5l-1 4l-2.1 1.1l1.1-4z"/>
<path fill="#a54539" d="M164.8 40.7l1.5 3.4l.5-1.7l-1.5-3.3z"/>
<path fill="#eabaa2" d="M135.3 55.2l-1.4 2.3l1.9 1.9l1.3-2.4z"/>
<path fill="#6f0f1e" d="M162.4 29.4l.9 3.8l-1.4-1l-.8-3.7z"/>
<path fill="#901e27" d="M142.7 32.7l-.6 3.2l-.9 .8l.6-3.3z"/>
<path fill="#9f3333" d="M141.3 36.3l-1.5 3l.3 1.3l1.5-3.1z"/>
<path fill="#d8d2cf" d="M127.3 63.5l-2.8 1l2.6 2.6l2.6-1.2z"/>
<path fill="#cc755d" d="M138.4 45.5l-1.4 3.4l1.2 2l1.3-3.5z"/>
<path fill="#d59678" d="M167.1 52.6l1.3 2.9l1.7-1.9l-1.4-2.8z"/>
<path fill="#420012" d="M157.6 21.8l.8 3.6l-2.2-.5l-.6-3.6z"/>
<path fill="#780f1e" d="M144.4 28.8l-.8 3.6l-1.3 1l.8-3.7z"/>
<path fill="#e7ab93" d="M136.2 53.4l-1.4 2.6l1.9 1.9l1.3-2.7z"/>
<path fill="#b14b3c" d="M140.2 39.4l-1.5 3.5l.6 1.8l1.5-3.6z"/>
<path fill="#450015" d="M149.7 21.4l-.6 3.6l-2.1 .6l.8-3.7z"/>
<path fill="#b45a48" d="M165.3 44.3l1.4 3.8l1-2.1l-1.4-3.7z"/>
<path fill="#5a0618" d="M160.9 25.9l1.1 3.9l-1.8-1.1l-1-3.9z"/>
<path fill="#d5cfcf" d="M125.5 64.2l-2.8 .8l2.7 2.7l2.6-1z"/>
<path fill="#e49f81" d="M137.1 51.4l-1.3 2.9l1.8 1.8l1.2-2.9z"/>
<path fill="#cf8469" d="M166.3 50.3l1.2 3.2l1.6-1.9l-1.3-3.1z"/>
<path fill="#450015" d="M158.5 22.1l.9 3.7l-2.1-.7l-.8-3.7z"/>
<path fill="#60091b" d="M146.2 25.1l-.9 3.9l-1.7 1.1l1-3.9z"/>
<path fill="#8a1b24" d="M163 34.1l1.4 3l.2-1.1l-1.4-2.9z"/>
<path fill="#480015" d="M148.7 21.6l-.8 3.7l-2.1 .8l1-3.8z"/>
<path fill="#c3634e" d="M139.3 42.9l-1.4 3.7l1.2 2l1.3-3.8z"/>
<path fill="#993030" d="M163.9 37.8l1.5 3.5l.5-1.6l-1.5-3.5z"/>
<path fill="#750f1e" d="M162.8 30.1l.7 3.5l-1-.8l-.6-3.4z"/>
<path fill="#e7cfc0" d="M169.7 61.8l1.3 1.8l2.5-1.9l-1.5-1.7z"/>
<path fill="#eaccba" d="M168.9 60.6l1.3 2l2.4-1.9l-1.4-1.9z"/>
<path fill="#e4cfc3" d="M170.5 62.9l1.4 1.6l2.6-2l-1.5-1.5z"/>
<path fill="#e7c3ae" d="M168.2 59.1l1.2 2.2l2.3-1.8l-1.4-2.1z"/>
<path fill="#de8d6f" d="M138 49.2l-1.3 3.1l1.7 1.8l1.2-3.2z"/>
<path fill="#961e27" d="M142.3 33.4l-1.5 3.1l.3 1.2l1.5-3.2z"/>
<path fill="#e1d2c6" d="M171.2 63.9l2.3 2.1l2.8-2.1l-2.5-1.9z"/>
<path fill="#3c0012" d="M154.1 18.7l.2 3.4l-2.1 0l0-3.4z"/>
<path fill="#e4b49f" d="M167.4 57.5l1.2 2.5l2.3-1.8l-1.3-2.4z"/>
<path fill="#c6725a" d="M165.4 47.8l1.2 3.5l1.6-1.8l-1.3-3.4z"/>
<path fill="#3f0012" d="M153.1 18.6l0 3.4l-2.1 .1l.2-3.4z"/>
<path fill="#7e0f21" d="M143.6 29.8l-.6 3.3l-.9 .8l.6-3.4z"/>
<path fill="#a53633" d="M141.2 36.6l-1.5 3.7l.6 1.7l1.5-3.7z"/>
<path fill="#450015" d="M159.4 22.6l1.1 3.9l-2-1l-1-3.8z"/>
<path fill="#ab483c" d="M164.4 41.5l1.3 4l1-2l-1.4-3.9z"/>
<path fill="#3c0012" d="M155.2 18.8l.4 3.4l-2.1-.2l-.2-3.4z"/>
<path fill="#5d0918" d="M161.4 26.5l.9 3.8l-1.4-1l-.8-3.7z"/>
<path fill="#3f0012" d="M152.1 18.7l-.2 3.4l-2.1 .3l.4-3.4z"/>
<path fill="#e1a88d" d="M166.6 55.6l1.2 2.7l2.2-1.7l-1.3-2.6z"/>
<path fill="#4b0015" d="M147.9 21.8l-1 3.9l-2 1.1l1.1-4z"/>
<path fill="#f3d5c3" d="M134.7 59.5l-1.4 2l2.6 1.8l1.2-2z"/>
<path fill="#f0d5c6" d="M133.9 60.7l-1.4 1.7l2.7 1.8l1.3-1.8z"/>
<path fill="#3f0012" d="M156.1 19l.6 3.4l-2.1-.3l-.4-3.4z"/>
<path fill="#dbd2cc" d="M172.8 65.4l2.4 1.7l2.9-2.3l-2.6-1.5z"/>
<path fill="#f3ccb4" d="M135.6 58.1l-1.3 2.2l2.5 1.7l1.2-2.3z"/>
<path fill="#edd5c9" d="M133.1 61.8l-1.5 1.6l2.8 1.9l1.3-1.7z"/>
<path fill="#66091b" d="M145.2 25.9l-.8 3.7l-1.3 .9l.8-3.7z"/>
<path fill="#3f0012" d="M151.1 18.7l-.4 3.4l-2.1 .4l.6-3.5z"/>
<path fill="#d27b60" d="M138.9 46.7l-1.3 3.4l1.7 1.7l1.2-3.5z"/>
<path fill="#b74e3f" d="M140.3 40.1l-1.3 3.9l1.2 1.9l1.3-4z"/>
<path fill="#f0bda5" d="M136.4 56.4l-1.3 2.4l2.4 1.7l1.2-2.5z"/>
<path fill="#de997e" d="M165.8 53.5l1.1 3l2.1-1.6l-1.2-2.9z"/>
<path fill="#e7d8cc" d="M132.3 62.7l-2.4 2l2.9 2l2.2-2.2z"/>
<path fill="#3f0012" d="M157 19.3l.8 3.5l-2-.5l-.6-3.5z"/>
<path fill="#bd604b" d="M164.5 45.2l1.2 3.7l1.5-1.8l-1.3-3.6z"/>
<path fill="#edb196" d="M137.2 54.6l-1.2 2.6l2.3 1.6l1.1-2.7z"/>
<path fill="#420015" d="M150.2 18.9l-.6 3.5l-2 .6l.8-3.6z"/>
<path fill="#480015" d="M160 23.1l1.1 3.9l-1.7-1l-1-3.9z"/>
<path fill="#901e27" d="M162.9 34.8l1.5 3.6l.5-1.5l-1.5-3.6z"/>
<path fill="#d8cfcc" d="M174.3 66.6l2.5 1.3l3.1-2.4l-2.7-1.1z"/>
<path fill="#7b0f1e" d="M162.1 31.1l1.4 3l.2-1l-1.4-3z"/>
<path fill="#d88a6c" d="M165 51.2l1.1 3.2l2.1-1.6l-1.2-3.1z"/>
<path fill="#4e0018" d="M146.9 22.3l-.9 3.8l-1.6 1l1-3.9z"/>
<path fill="#eaa284" d="M138.1 52.5l-1.2 2.9l2.3 1.5l1.1-3z"/>
<path fill="#e1d5cf" d="M130.6 64.1l-2.5 1.6l3.1 2.1l2.3-1.7z"/>
<path fill="#9f3333" d="M163.5 38.5l1.3 4.1l1-1.9l-1.4-4.1z"/>
<path fill="#60091b" d="M161.8 27.1l.7 3.5l-.9-.8l-.6-3.4z"/>
<path fill="#c96651" d="M139.8 44l-1.2 3.6l1.6 1.6l1.2-3.7z"/>
<path fill="#420012" d="M157.9 19.6l.9 3.6l-2-.7l-.8-3.6z"/>
<path fill="#841221" d="M143.2 30.4l-1.5 3.2l.3 1.1l1.5-3.2z"/>
<path fill="#9c212a" d="M142.2 33.6l-1.5 3.8l.6 1.6l1.5-3.8z"/>
<path fill="#450015" d="M149.3 19l-.8 3.6l-2 .8l1-3.7z"/>
<path fill="#69091e" d="M144.5 26.8l-.6 3.3l-.8 .7l.6-3.4z"/>
<path fill="#ab3636" d="M141.2 37.1l-1.3 4.1l1.1 1.9l1.3-4.2z"/>
<path fill="#d2cfcc" d="M175.8 67.5l2.5 1.1l3.3-2.6l-2.8-.9z"/>
<path fill="#e49072" d="M138.9 50.2l-1.2 3.1l2.2 1.5l1.1-3.2z"/>
<path fill="#b14b3f" d="M163.7 42.3l1.2 3.9l1.5-1.7l-1.3-3.8z"/>
<path fill="#cc755d" d="M164.2 48.7l1.1 3.4l2-1.5l-1.2-3.4z"/>
<path fill="#dbd2cf" d="M128.9 65.2l-2.7 1.2l3.4 2.3l2.4-1.4z"/>
<path fill="#4b0015" d="M160.5 23.6l.9 3.7l-1.3-.9l-.8-3.7z"/>
<path fill="#edc6b1" d="M166.2 60.1l1.1 2.3l2.8-1.6l-1.2-2.2z"/>
<path fill="#f0d2bd" d="M166.9 61.6l1.1 2.1l2.9-1.6l-1.3-2z"/>
<path fill="#420015" d="M158.6 19.9l1.1 3.8l-1.9-.9l-1-3.7z"/>
<path fill="#eabaa2" d="M165.5 58.4l1 2.5l2.7-1.5l-1.2-2.4z"/>
<path fill="#edd2c3" d="M167.6 62.9l1.2 1.9l3-1.7l-1.3-1.8z"/>
<path fill="#3f0012" d="M154 16.4l.2 3.2l-2 0l0-3.2zM153.1 16.4l0 3.2l-2 .1l.2-3.2z"/>
<path fill="#510318" d="M146.1 23.1l-.8 3.6l-1.2 .9l.8-3.7z"/>
<path fill="#bd4e42" d="M140.7 41.1l-1.2 3.8l1.6 1.6l1.1-3.9z"/>
<path fill="#ead2c6" d="M168.3 64.1l1.2 1.7l3.1-1.7l-1.4-1.6z"/>
<path fill="#3f0012" d="M154.9 16.5l.4 3.2l-2-.2l-.2-3.2z"/>
<path fill="#480015" d="M148.6 19.2l-1 3.8l-1.9 1l1.1-3.8z"/>
<path fill="#e7ae93" d="M164.9 56.5l1 2.8l2.6-1.5l-1.2-2.7z"/>
<path fill="#d87e63" d="M139.7 47.7l-1.2 3.4l2.1 1.4l1-3.5z"/>
<path fill="#3f0012" d="M152.3 16.4l-.2 3.2l-2 .2l.4-3.2z"/>
<path fill="#7e0f21" d="M162 31.7l1.5 3.7l.5-1.4l-1.5-3.6z"/>
<path fill="#961e27" d="M162.5 35.4l1.3 4.2l1-1.8l-1.4-4.2z"/>
<path fill="#3f0012" d="M155.7 16.7l.6 3.2l-2-.3l-.4-3.2z"/>
<path fill="#c3634e" d="M163.4 45.9l1.1 3.7l1.9-1.5l-1.2-3.6z"/>
<path fill="#66091b" d="M161.1 28l1.4 3.1l.2-.9l-1.4-3z"/>
<path fill="#f6cfba" d="M137.2 59.2l-1.2 2.3l3 1.5l1-2.3z"/>
<path fill="#e49f81" d="M164.2 54.4l1 3l2.6-1.4l-1.1-2.9z"/>
<path fill="#420015" d="M151.4 16.4l-.5 3.2l-1.9 .4l.6-3.3z"/>
<path fill="#f9d8c6" d="M136.4 60.7l-1.2 2l3.1 1.5l1.1-2.1z"/>
<path fill="#e4d5c9" d="M168.9 65.1l2 2.3l3.4-1.9l-2.3-2.1z"/>
<path fill="#f3c3a8" d="M137.9 57.5l-1.2 2.5l2.9 1.4l1-2.6z"/>
<path fill="#d5d2cf" d="M127.2 66l-2.7 1l3.6 2.4l2.5-1.2z"/>
<path fill="#f3d8c9" d="M135.7 62l-1.3 1.8l3.2 1.6l1.1-1.9z"/>
<path fill="#8a1224" d="M143.1 30.5l-1.5 3.8l.6 1.5l1.4-3.9z"/>
<path fill="#f3b499" d="M138.7 55.7l-1.1 2.7l2.8 1.4l1-2.8z"/>
<path fill="#a53633" d="M162.8 39.2l1.2 4.1l1.4-1.6l-1.2-4z"/>
<path fill="#450015" d="M159.2 20.4l1.1 3.7l-1.6-1l-1-3.7z"/>
<path fill="#3f0012" d="M156.5 16.9l.8 3.3l-1.9-.5l-.6-3.3z"/>
<path fill="#9f212a" d="M142.2 34l-1.3 4.2l1.1 1.8l1.3-4.3z"/>
<path fill="#6f091e" d="M144.2 27.3l-1.5 3.2l.3 1l1.5-3.3z"/>
<path fill="#f0dbcc" d="M134.9 63.1l-1.4 1.7l3.3 1.6l1.2-1.8z"/>
<path fill="#de8d6f" d="M163.5 52l1 3.2l2.5-1.4l-1.1-3.2z"/>
<path fill="#4e0018" d="M160.8 24.2l.7 3.4l-.9-.7l-.6-3.4z"/>
<path fill="#420015" d="M150.6 16.5l-.7 3.3l-1.9 .6l.8-3.4z"/>
<path fill="#cf6951" d="M140.6 45l-1.1 3.6l2 1.4l1-3.7z"/>
<path fill="#f0a587" d="M139.4 53.5l-1.1 3l2.7 1.3l.9-3z"/>
<path fill="#4b0015" d="M147.7 19.7l-.9 3.7l-1.5 .9l1-3.7z"/>
<path fill="#b13936" d="M141.6 38.1l-1.2 4l1.5 1.5l1.1-4.1z"/>
<path fill="#ded2cc" d="M170.2 66.7l2.1 1.8l3.6-2l-2.4-1.7z"/>
<path fill="#540318" d="M145.4 23.9l-.6 3.3l-.8 .6l.6-3.3z"/>
<path fill="#ead8cf" d="M134.2 64.1l-2.2 2.2l3.5 1.7l1.9-2.4z"/>
<path fill="#420015" d="M157.2 17.2l1 3.4l-1.9-.7l-.8-3.4z"/>
<path fill="#b74e3f" d="M162.6 43l1.1 3.9l1.9-1.4l-1.2-3.8z"/>
<path fill="#ea9675" d="M140.2 51.2l-1.1 3.2l2.6 1.3l.9-3.3z"/>
<path fill="#d57b60" d="M162.8 49.4l.9 3.5l2.4-1.3l-1.1-3.4z"/>
<path fill="#450015" d="M149.9 16.7l-.9 3.4l-1.9 .8l1-3.5z"/>
<path fill="#480015" d="M159.6 20.8l.9 3.6l-1.2-.8l-.8-3.5z"/>
<path fill="#841221" d="M161.6 32.2l1.3 4.3l.9-1.8l-1.4-4.2z"/>
<path fill="#69091e" d="M161 28.5l1.5 3.7l.5-1.3l-1.5-3.7z"/>
<path fill="#c35145" d="M141.4 42.1l-1.1 3.8l2 1.3l1-3.9z"/>
<path fill="#9c212a" d="M161.9 36l1.2 4.2l1.4-1.6l-1.2-4.1z"/>
<path fill="#de8166" d="M140.9 48.6l-1 3.4l2.5 1.2l.9-3.5z"/>
<path fill="#f0c0a5" d="M163.4 59.2l.9 2.6l3.1-1.3l-1-2.5z"/>
<path fill="#f3ccb7" d="M164 61l.9 2.4l3.3-1.3l-1.1-2.3z"/>
<path fill="#420015" d="M157.8 17.5l1.1 3.6l-1.8-.9l-1-3.5z"/>
<path fill="#4e0018" d="M147 20.4l-.8 3.5l-1.1 .8l.8-3.5z"/>
<path fill="#edb196" d="M162.8 57.3l.8 2.8l3-1.2l-1-2.7z"/>
<path fill="#f6d5c3" d="M164.5 62.5l.9 2.2l3.4-1.4l-1.1-2.1z"/>
<path fill="#e1d8d2" d="M132.7 65.6l-2.3 1.8l3.8 1.8l2-1.9z"/>
<path fill="#510318" d="M160.1 25l1.4 3l.3-.9l-1.4-2.9z"/>
<path fill="#c96651" d="M162.1 46.6l.9 3.7l2.3-1.3l-1.1-3.6z"/>
<path fill="#8d1224" d="M143.1 30.9l-1.3 4.3l1.1 1.8l1.3-4.4z"/>
<path fill="#d8d2cf" d="M171.6 68l2.2 1.5l3.9-2.1l-2.5-1.4z"/>
<path fill="#480015" d="M149.3 16.8l-1 3.6l-1.8 .9l1.1-3.6z"/>
<path fill="#72091e" d="M144.1 27.4l-1.5 3.9l.6 1.5l1.4-3.9z"/>
<path fill="#3f0012" d="M153.9 14.4l.2 2.9l-1.8 0l0-2.9z"/>
<path fill="#f0d5c6" d="M165.1 63.9l1 2l3.5-1.4l-1.2-1.9z"/>
<path fill="#3f0012" d="M153.1 14.4l0 2.9l-1.8 .1l.3-2.9z"/>
<path fill="#eaa284" d="M162.2 55.1l.8 3.1l2.9-1.2l-1-3z"/>
<path fill="#ae3636" d="M161.9 39.9l1 4.1l1.8-1.4l-1.1-4z"/>
<path fill="#a5212d" d="M142.5 35l-1.2 4.1l1.5 1.5l1.1-4.2z"/>
<path fill="#3f0012" d="M154.6 14.5l.4 2.9l-1.8-.2l-.2-2.9z"/>
<path fill="#420012" d="M152.4 14.4l-.3 2.9l-1.8 .2l.5-2.9z"/>
<path fill="#f9c6ab" d="M139.8 58.5l-1 2.6l3.2 1.1l.8-2.6z"/>
<path fill="#5a031b" d="M145.2 24.4l-1.5 3.1l.3 1l1.5-3.2z"/>
<path fill="#fcd2bd" d="M139.1 60.2l-1 2.3l3.4 1.2l.9-2.4z"/>
<path fill="#f6b79c" d="M140.5 56.6l-1 2.8l3.1 1.1l.8-2.8z"/>
<path fill="#edd8c9" d="M165.7 65l1 1.8l3.6-1.5l-1.2-1.7z"/>
<path fill="#3f0012" d="M155.3 14.7l.6 3l-1.8-.3l-.4-2.9z"/>
<path fill="#d26954" d="M141.7 45.8l-1 3.7l2.4 1.2l.9-3.7z"/>
<path fill="#e49372" d="M161.7 52.7l.8 3.3l2.8-1.1l-1-3.2z"/>
<path fill="#fcdbc9" d="M138.5 61.8l-1.1 2.1l3.5 1.2l.9-2.2z"/>
<path fill="#420015" d="M151.7 14.4l-.5 3l-1.8 .4l.7-3z"/>
<path fill="#450015" d="M158.3 17.9l1 3.5l-1.5-.9l-1-3.5z"/>
<path fill="#4b0018" d="M159.9 21.4l.7 3.3l-.9-.6l-.6-3.2z"/>
<path fill="#f3a88a" d="M141.1 54.4l-.9 3l3 1.1l.8-3.1z"/>
<path fill="#b73c39" d="M142.3 39l-1.1 4l1.9 1.3l1-4.1z"/>
<path fill="#f9dbcc" d="M137.8 63.1l-1.1 1.9l3.6 1.3l.9-2z"/>
<path fill="#420012" d="M155.9 14.8l.8 3.1l-1.8-.5l-.6-3z"/>
<path fill="#4b0018" d="M148.5 17.3l-.9 3.5l-1.4 .8l1-3.5z"/>
<path fill="#bd5142" d="M161.4 43.6l.9 3.9l2.2-1.2l-1-3.8z"/>
<path fill="#510018" d="M146.4 21.1l-.6 3.1l-.7 .5l.6-3.2z"/>
<path fill="#dbd5cf" d="M131.2 66.8l-2.5 1.5l4 2l2.1-1.6z"/>
<path fill="#450015" d="M151.1 14.5l-.7 3.1l-1.8 .5l.9-3.1z"/>
<path fill="#ed9978" d="M141.8 52l-.9 3.3l2.9 1l.8-3.3z"/>
<path fill="#d87e63" d="M161.1 50.1l.8 3.5l2.7-1.1l-.9-3.5z"/>
<path fill="#e7d8cc" d="M166.2 66.1l1.7 2.4l3.9-1.6l-2-2.3z"/>
<path fill="#6f091e" d="M160.7 29.1l1.3 4.3l.9-1.7l-1.4-4.3z"/>
<path fill="#d5cfcf" d="M172.9 69l2.3 1.3l4.1-2.3l-2.6-1.2z"/>
<path fill="#f3dbcf" d="M137.2 64.3l-1.2 1.8l3.7 1.3l1-1.9z"/>
<path fill="#8a1224" d="M161 32.8l1.2 4.3l1.3-1.5l-1.2-4.2z"/>
<path fill="#c95445" d="M142.5 42.9l-1 3.9l2.3 1.1l.9-3.9z"/>
<path fill="#570318" d="M160 25.5l1.5 3.7l.5-1.3l-1.5-3.6z"/>
<path fill="#420015" d="M156.5 15.1l1 3.2l-1.8-.6l-.8-3.1z"/>
<path fill="#a2212d" d="M161.1 36.6l1 4.2l1.7-1.3l-1.1-4.1z"/>
<path fill="#e18466" d="M142.4 49.4l-.9 3.5l2.8 1l.7-3.5z"/>
<path fill="#450015" d="M150.5 14.6l-.9 3.2l-1.8 .7l1.1-3.3z"/>
<path fill="#780921" d="M144.1 27.7l-1.3 4.3l1 1.7l1.3-4.4z"/>
<path fill="#480015" d="M158.7 18.3l.9 3.3l-1.2-.7l-.8-3.3z"/>
<path fill="#931227" d="M143.4 31.8l-1.2 4.2l1.4 1.4l1.1-4.3z"/>
<path fill="#f6c3ab" d="M161 59.9l.7 2.6l3.5-1l-.9-2.6z"/>
<path fill="#cf6954" d="M160.5 47.2l.8 3.7l2.6-1l-.9-3.7z"/>
<path fill="#f3b499" d="M160.5 57.9l.7 2.9l3.3-1l-.8-2.8z"/>
<path fill="#5d031b" d="M145.1 24.4l-1.5 3.8l.6 1.4l1.4-3.9z"/>
<path fill="#f9cfba" d="M161.4 61.7l.7 2.4l3.6-1.1l-.9-2.4z"/>
<path fill="#eddbd2" d="M136.6 65.3l-1.9 2.4l4 1.4l1.6-2.5z"/>
<path fill="#4e0018" d="M159.2 22.1l1.4 2.9l.3-.8l-1.4-2.8zM147.8 17.9l-.8 3.2l-1.1 .7l.8-3.3z"/>
<path fill="#f0a887" d="M160.1 55.7l.6 3.1l3.2-.9l-.8-3z"/>
<path fill="#ab242d" d="M143.1 35.8l-1.1 4.1l1.8 1.2l1-4.2z"/>
<path fill="#b13939" d="M160.7 40.4l.9 4.1l2.1-1.2l-1-4z"/>
<path fill="#450015" d="M157 15.4l1.2 3.3l-1.7-.8l-1-3.3z"/>
<path fill="#f9d8c6" d="M161.9 63.2l.7 2.2l3.7-1.1l-1-2.2z"/>
<path fill="#d86c57" d="M143.1 46.6l-.9 3.7l2.6 .9l.7-3.8z"/>
<path fill="#ea9675" d="M159.6 53.2l.6 3.3l3.1-.9l-.8-3.3z"/>
<path fill="#f9ba9f" d="M142.5 57.4l-.8 2.8l3.4 .9l.6-2.9z"/>
<path fill="#fcc9ae" d="M142 59.4l-.8 2.6l3.5 .9l.6-2.7z"/>
<path fill="#e1d5cf" d="M167.3 67.8l1.8 2l4.2-1.7l-2.2-1.9z"/>
<path fill="#540018" d="M146.1 21.5l-1.5 3l.3 .9l1.5-3.1z"/>
<path fill="#480015" d="M150 14.7l-1 3.3l-1.6 .8l1.1-3.3z"/>
<path fill="#d5d2cf" d="M129.6 67.7l-2.6 1.3l4.3 2.1l2.2-1.4z"/>
<path fill="#f6ab8a" d="M143.1 55.2l-.8 3.1l3.3 .8l.6-3.1z"/>
<path fill="#ffd5bd" d="M141.5 61.1l-.9 2.4l3.7 .9l.7-2.5z"/>
<path fill="#bd3c39" d="M143.2 39.7l-1 4l2.2 1.1l.9-4.1z"/>
<path fill="#f6dbc9" d="M162.3 64.6l.8 2.1l3.9-1.1l-1-2z"/>
<path fill="#c35145" d="M159.9 44.2l.8 3.9l2.5-1l-.9-3.9z"/>
<path fill="#420015" d="M153.7 12.8l.2 2.6l-1.7 0l0-2.6zM153.2 12.7l0 2.6l-1.7 .1l.3-2.6z"/>
<path fill="#ffdecc" d="M140.9 62.7l-.9 2.2l3.8 1l.7-2.3z"/>
<path fill="#f09978" d="M143.6 52.7l-.8 3.3l3.1 .8l.6-3.4z"/>
<path fill="#4b0018" d="M158.9 18.7l.7 3.1l-.8-.5l-.6-3z"/>
<path fill="#de8166" d="M159.2 50.6l.6 3.6l2.9-.9l-.8-3.5z"/>
<path fill="#420015" d="M154.3 12.8l.4 2.6l-1.7-.1l-.2-2.6z"/>
<path fill="#72091e" d="M160.2 29.6l1.2 4.3l1.3-1.5l-1.2-4.2z"/>
<path fill="#420015" d="M152.6 12.7l-.3 2.6l-1.7 .2l.5-2.6z"/>
<path fill="#901224" d="M160.3 33.3l1 4.3l1.6-1.3l-1.1-4.2z"/>
<path fill="#480015" d="M157.4 15.7l1 3.2l-1.4-.7l-1-3.2z"/>
<path fill="#5a031b" d="M159.8 25.9l1.3 4.3l.9-1.6l-1.4-4.2z"/>
<path fill="#f0dbcc" d="M162.7 65.9l.8 1.9l4-1.2l-1-1.8z"/>
<path fill="#420015" d="M154.9 13l.7 2.7l-1.7-.3l-.4-2.6z"/>
<path fill="#510018" d="M147.3 18.6l-.6 2.9l-.7 .4l.6-3z"/>
<path fill="#cc5448" d="M143.8 43.6l-.9 3.9l2.5 .9l.7-4z"/>
<path fill="#450015" d="M152.1 12.7l-.5 2.6l-1.7 .3l.7-2.7z"/>
<path fill="#f9decf" d="M140.4 64l-.9 2l4 1l.7-2.1z"/>
<path fill="#4b0018" d="M149.3 15.1l-.9 3.1l-1.3 .7l1-3.2z"/>
<path fill="#e78469" d="M144.2 50.1l-.7 3.5l3 .8l.6-3.6z"/>
<path fill="#e4d8d2" d="M135.3 66.9l-2.1 2l4.3 1.5l1.7-2.1z"/>
<path fill="#a5212d" d="M160 37.2l.9 4.2l2-1.1l-1-4.1z"/>
<path fill="#7b0921" d="M144.3 28.5l-1.2 4.2l1.4 1.4l1.1-4.3z"/>
<path fill="#510018" d="M159.1 22.5l1.5 3.6l.5-1.2l-1.5-3.5z"/>
<path fill="#60031b" d="M145 24.6l-1.3 4.3l1 1.7l1.3-4.4z"/>
<path fill="#961227" d="M144 32.5l-1.1 4.2l1.7 1.2l1-4.3z"/>
<path fill="#420015" d="M155.4 13.1l.9 2.7l-1.7-.4l-.7-2.7z"/>
<path fill="#d56c54" d="M158.7 47.7l.6 3.8l2.8-.8l-.8-3.7z"/>
<path fill="#f6b79c" d="M158 58.4l.5 2.9l3.6-.7l-.7-2.9z"/>
<path fill="#f9c6ae" d="M158.4 60.4l.5 2.7l3.7-.8l-.7-2.6z"/>
<path fill="#f3ab8a" d="M157.7 56.1l.4 3.1l3.4-.7l-.6-3.1z"/>
<path fill="#450015" d="M151.6 12.8l-.7 2.7l-1.7 .5l.9-2.8z"/>
<path fill="#f6ded2" d="M139.9 65.2l-1 1.9l4.1 1l.8-1.9z"/>
<path fill="#b73c39" d="M159.3 40.9l.8 4.1l2.3-1l-.9-4z"/>
<path fill="#ae2430" d="M144 36.5l-1 4.2l2.1 1l.9-4.2z"/>
<path fill="#fcd2bd" d="M158.7 62.2l.5 2.5l3.8-.8l-.7-2.4z"/>
<path fill="#57001b" d="M146.1 21.5l-1.5 3.7l.6 1.4l1.5-3.7z"/>
<path fill="#dbd2cf" d="M168.4 69.1l1.9 1.7l4.4-1.8l-2.3-1.6z"/>
<path fill="#ed9978" d="M157.4 53.7l.4 3.4l3.3-.7l-.6-3.3z"/>
<path fill="#fcbd9f" d="M144.9 58l-.6 2.9l3.6 .6l.4-2.9z"/>
<path fill="#db6f57" d="M144.7 47.2l-.7 3.8l2.9 .7l.6-3.8z"/>
<path fill="#480015" d="M157.8 16l.9 3l-1.1-.6l-.8-3z"/>
<path fill="#f9ae8d" d="M145.3 55.8l-.6 3.1l3.5 .6l.4-3.1z"/>
<path fill="#ffc9b1" d="M144.5 60l-.6 2.7l3.8 .6l.4-2.7z"/>
<path fill="#450015" d="M155.8 13.3l1.1 2.9l-1.7-.6l-.9-2.8z"/>
<path fill="#ead8cf" d="M163.2 66.9l1.3 2.6l4.3-1.3l-1.7-2.5z"/>
<path fill="#4e0018" d="M158.2 19.5l1.5 2.7l.3-.8l-1.4-2.7z"/>
<path fill="#480015" d="M151.2 12.8l-1 2.9l-1.7 .7l1.1-3z"/>
<path fill="#fcdbc9" d="M159 63.8l.5 2.3l4-.8l-.7-2.2z"/>
<path fill="#f39c7b" d="M145.7 53.3l-.6 3.3l3.3 .5l.4-3.4z"/>
<path fill="#c03c3c" d="M144.4 40.4l-.9 4.1l2.4 .9l.7-4.1z"/>
<path fill="#ffd8c0" d="M144 61.8l-.7 2.5l3.9 .6l.4-2.5z"/>
<path fill="#4e0018" d="M148.7 15.7l-.7 2.9l-1 .6l.8-3z"/>
<path fill="#e48466" d="M157.1 51l.4 3.6l3.1-.6l-.6-3.6z"/>
<path fill="#c95445" d="M158.3 44.6l.6 4l2.7-.8l-.8-3.9z"/>
<path fill="#54001b" d="M147.1 18.8l-1.5 2.9l.3 .9l1.5-2.9z"/>
<path fill="#780921" d="M159.5 30l1 4.3l1.6-1.2l-1.1-4.2z"/>
<path fill="#e78769" d="M146.1 50.6l-.6 3.6l3.2 .5l.4-3.6z"/>
<path fill="#450015" d="M156.2 13.5l1.1 2.9l-1.6-.7l-1.1-2.9z"/>
<path fill="#ffe1cc" d="M143.6 63.4l-.7 2.3l4.1 .7l.5-2.3z"/>
<path fill="#5d031b" d="M159.3 26.4l1.2 4.2l1.2-1.4l-1.2-4.2z"/>
<path fill="#f9decc" d="M159.3 65.2l.5 2.1l4.1-.8l-.8-2.1z"/>
<path fill="#931227" d="M159.3 33.8l.9 4.3l1.9-1l-1-4.2z"/>
<path fill="#cf5748" d="M145.3 44.2l-.7 4l2.7 .7l.5-4z"/>
<path fill="#f9ba9f" d="M155.4 58.7l.2 2.9l3.7-.5l-.5-2.9z"/>
<path fill="#edded2" d="M139.3 66.3l-1.6 2.5l4.4 1.1l1.2-2.6z"/>
<path fill="#f6ab8a" d="M155.3 56.4l.2 3.2l3.6-.4l-.4-3.1z"/>
<path fill="#4b0015" d="M150.7 13l-1 2.9l-1.5 .7l1.1-2.9z"/>
<path fill="#fcc9ae" d="M155.6 60.7l.3 2.7l3.9-.5l-.5-2.7z"/>
<path fill="#d86c57" d="M156.8 48l.4 3.8l3-.6l-.6-3.8z"/>
<path fill="#54001b" d="M158.8 22.9l1.3 4.1l.8-1.6l-1.4-4.1z"/>
<path fill="#dbd5d2" d="M133.9 68.2l-2.2 1.7l4.6 1.6l1.8-1.8z"/>
<path fill="#f09978" d="M155.1 53.9l.2 3.4l3.4-.4l-.4-3.4z"/>
<path fill="#ab242d" d="M158.8 37.6l.7 4.2l2.2-.9l-.9-4.2z"/>
<path fill="#fcbd9f" d="M147.4 58.4l-.4 2.9l3.8 .3l.2-2.9z"/>
<path fill="#fcae8d" d="M147.7 56.2l-.4 3.1l3.6 .3l.2-3.2z"/>
<path fill="#4b0018" d="M158 16.4l.7 2.7l-.7-.4l-.6-2.7z"/>
<path fill="#7e0c21" d="M144.8 29.2l-1.1 4.2l1.6 1.1l1-4.3z"/>
<path fill="#63031e" d="M145.3 25.4l-1.2 4.2l1.3 1.3l1.1-4.2z"/>
<path fill="#ffccb1" d="M147.1 60.5l-.4 2.7l3.9 .3l.2-2.7z"/>
<path fill="#fce1cf" d="M143.2 64.8l-.7 2.1l4.2 .7l.5-2.1z"/>
<path fill="#ffd5c0" d="M155.8 62.5l.3 2.5l4-.5l-.5-2.5z"/>
<path fill="#9c1527" d="M144.8 33.1l-1 4.2l2 1l.9-4.3z"/>
<path fill="#f39c7b" d="M147.9 53.7l-.4 3.4l3.5 .3l.2-3.4z"/>
<path fill="#de6f57" d="M146.5 47.7l-.6 3.8l3 .5l.4-3.8z"/>
<path fill="#f3decf" d="M159.6 66.5l.6 2l4.3-.9l-.8-1.9z"/>
<path fill="#bd3c3c" d="M157.8 41.4l.6 4.1l2.6-.8l-.8-4.1z"/>
<path fill="#e78469" d="M154.9 51.2l.2 3.6l3.3-.4l-.4-3.6z"/>
<path fill="#540018" d="M148.2 16.3l-.6 2.6l-.6 .3l.6-2.7z"/>
<path fill="#5a001b" d="M146 21.6l-1.3 4.1l.9 1.6l1.3-4.2z"/>
<path fill="#480015" d="M156.6 13.8l1 2.8l-1.3-.6l-.9-2.8z"/>
<path fill="#f9ae8d" d="M152.7 56.5l0 3.2l3.7-.2l-.2-3.2z"/>
<path fill="#450015" d="M153.6 11.5l.2 2.2l-1.6 0l0-2.2z"/>
<path fill="#510018" d="M158.1 19.8l1.5 3.4l.4-1.2l-1.5-3.3z"/>
<path fill="#b42430" d="M145.1 37.1l-.9 4.2l2.3 .8l.7-4.2z"/>
<path fill="#fcbd9f" d="M152.7 58.8l0 2.9l3.8-.2l-.2-2.9z"/>
<path fill="#450015" d="M153.2 11.5l0 2.2l-1.6 .1l.3-2.2z"/>
<path fill="#ffd8c0" d="M146.8 62.3l-.4 2.5l4.1 .4l.2-2.5z"/>
<path fill="#fcae8d" d="M150.2 56.4l-.2 3.2l3.7 .1l0-3.2z"/>
<path fill="#fcbd9f" d="M150 58.7l-.2 2.9l3.8 .1l0-2.9z"/>
<path fill="#450015" d="M154 11.6l.5 2.2l-1.6-.1l-.2-2.2z"/>
<path fill="#ea8769" d="M148.2 51l-.4 3.6l3.3 .3l.2-3.6z"/>
<path fill="#450015" d="M152.8 11.4l-.3 2.2l-1.6 .2l.6-2.2z"/>
<path fill="#f39c7b" d="M152.7 54l0 3.4l3.5-.2l-.2-3.4z"/>
<path fill="#d5d2cf" d="M169.5 70.2l2 1.5l4.7-1.9l-2.4-1.4z"/>
<path fill="#4e0018" d="M150.1 13.4l-.9 2.7l-1.2 .6l1-2.8z"/>
<path fill="#ffc9b1" d="M152.8 60.8l0 2.7l4-.2l-.3-2.7z"/>
<path fill="#e1d8d2" d="M164 68.7l1.4 2.2l4.6-1.4l-1.8-2.1z"/>
<path fill="#ffdecc" d="M155.9 64.1l.3 2.3l4.2-.5l-.5-2.3z"/>
<path fill="#f39c7b" d="M150.3 53.9l-.2 3.4l3.5 .1l0-3.4z"/>
<path fill="#cc5748" d="M156.5 44.9l.4 4l2.9-.6l-.6-4z"/>
<path fill="#ffccb1" d="M149.9 60.8l-.2 2.7l4 .1l0-2.7z"/>
<path fill="#c33f3c" d="M145.8 40.9l-.7 4.1l2.6 .7l.5-4.2z"/>
<path fill="#450015" d="M154.4 11.6l.7 2.3l-1.6-.3l-.5-2.2z"/>
<path fill="#57001b" d="M147 18.7l-1.5 3.5l.5 1.3l1.5-3.6z"/>
<path fill="#450015" d="M152.4 11.4l-.6 2.3l-1.6 .3l.8-2.3z"/>
<path fill="#f6e1d2" d="M142.8 66l-.8 1.9l4.4 .7l.5-2z"/>
<path fill="#db6f57" d="M154.7 48.3l.2 3.8l3.1-.4l-.4-3.8z"/>
<path fill="#e78769" d="M152.7 51.3l0 3.6l3.3-.2l-.2-3.6z"/>
<path fill="#ffe1cc" d="M146.6 63.9l-.5 2.3l4.2 .4l.2-2.3z"/>
<path fill="#ffd8c0" d="M152.8 62.7l0 2.5l4.1-.2l-.3-2.5z"/>
<path fill="#d25748" d="M146.9 44.6l-.5 4l2.9 .5l.4-4z"/>
<path fill="#ea8769" d="M150.4 51.2l-.2 3.6l3.4 .1l0-3.6z"/>
<path fill="#ffd8c0" d="M149.8 62.6l-.2 2.5l4.1 .1l0-2.5z"/>
<path fill="#450015" d="M154.8 11.8l1 2.4l-1.6-.4l-.7-2.3z"/>
<path fill="#de6f5a" d="M148.5 48.1l-.4 3.8l3.2 .3l.2-3.8z"/>
<path fill="#480015" d="M152.1 11.4l-.8 2.4l-1.7 .5l1.1-2.4z"/>
<path fill="#510018" d="M157.2 17.1l1.5 2.5l.3-.8l-1.5-2.4z"/>
<path fill="#4b0018" d="M156.8 14.1l.8 2.6l-1-.5l-.8-2.6z"/>
<path fill="#7b0921" d="M158.6 30.4l.9 4.3l1.8-1l-1-4.2z"/>
<path fill="#f9decf" d="M156.1 65.6l.3 2.2l4.3-.5l-.5-2.1z"/>
<path fill="#60031b" d="M158.7 26.8l1 4.2l1.5-1.1l-1.1-4.1z"/>
<path fill="#991527" d="M158.2 34.2l.7 4.3l2.1-.9l-.9-4.2z"/>
<path fill="#57001b" d="M158.4 23.3l1.2 4.1l1.1-1.3l-1.2-4z"/>
<path fill="#de6f57" d="M152.6 48.3l0 3.8l3.2-.2l-.2-3.8z"/>
<path fill="#ffe1cc" d="M152.8 64.3l0 2.3l4.3-.2l-.3-2.3z"/>
<path fill="#ae2430" d="M157.4 38l.6 4.3l2.4-.7l-.7-4.2z"/>
<path fill="#510018" d="M149.5 13.8l-.7 2.5l-.9 .4l.8-2.6z"/>
<path fill="#e4dbd2" d="M138.3 68l-1.7 2.1l4.7 1.2l1.3-2.2z"/>
<path fill="#480015" d="M155.1 11.9l1.2 2.5l-1.7-.6l-1-2.5z"/>
<path fill="#eddbd2" d="M159.9 67.6l.9 2.7l4.6-.9l-1.4-2.6z"/>
<path fill="#57001b" d="M148.1 16.4l-1.5 2.6l.3 .9l1.5-2.7z"/>
<path fill="#de6f5a" d="M150.5 48.3l-.2 3.8l3.2 .1l0-3.8z"/>
<path fill="#fce1cf" d="M146.3 65.3l-.5 2.1l4.4 .4l.2-2.2z"/>
<path fill="#ffe1cc" d="M149.6 64.2l-.2 2.3l4.3 .1l0-2.3z"/>
<path fill="#c03c3c" d="M156.2 41.7l.4 4.2l2.7-.6l-.6-4.1z"/>
<path fill="#cf5748" d="M154.6 45.1l.2 4l3-.4l-.4-4z"/>
<path fill="#4b0015" d="M151.9 11.4l-1.1 2.5l-1.6 .6l1.2-2.5z"/>
<path fill="#810c24" d="M145.5 29.8l-1 4.2l1.9 .9l.9-4.3z"/>
<path fill="#66031e" d="M145.7 26l-1.1 4.2l1.5 1.1l1-4.2z"/>
<path fill="#9f152a" d="M145.8 33.7l-.8 4.3l2.2 .8l.7-4.3z"/>
<path fill="#d5d2cf" d="M132.6 69.2l-2.3 1.5l4.9 1.7l1.9-1.6z"/>
<path fill="#54001b" d="M157.9 20.1l1.3 4l.8-1.6l-1.4-3.9z"/>
<path fill="#d25748" d="M148.8 45l-.4 4l3 .3l.2-4z"/>
<path fill="#b42430" d="M146.4 37.6l-.7 4.2l2.5 .6l.5-4.3z"/>
<path fill="#5d001b" d="M146.2 22.3l-1.2 4l1.2 1.2l1.1-4.1z"/>
<path fill="#c33f3c" d="M147.4 41.4l-.5 4.2l2.8 .5l.4-4.2z"/>
<path fill="#f6ded2" d="M156.3 66.8l.3 2l4.5-.6l-.6-2z"/>
<path fill="#480015" d="M155.4 12.1l1.1 2.4l-1.4-.5l-1-2.4z"/>
<path fill="#f0ded5" d="M142.4 67.1l-1.2 2.6l4.7 .8l.8-2.7z"/>
<path fill="#fce1cf" d="M152.8 65.7l0 2.2l4.4-.2l-.3-2.2z"/>
<path fill="#d25748" d="M152.6 45.2l0 4l3-.2l-.2-4z"/>
<path fill="#4e0018" d="M157 14.4l.6 2.3l-.7-.2l-.6-2.3zM151.3 11.7l-1 2.4l-1.3 .5l1.1-2.4z"/>
<path fill="#5d001b" d="M147 18.9l-1.3 3.9l.9 1.5l1.3-4z"/>
<path fill="#d25748" d="M150.7 45.2l-.2 4l3 .1l0-4z"/>
<path fill="#fce1d2" d="M149.5 65.6l-.2 2.2l4.5 .1l0-2.2z"/>
<path fill="#f6e1d2" d="M146 66.6l-.5 2l4.5 .4l.2-2z"/>
<path fill="#540018" d="M157.1 17.3l1.5 3.2l.4-1.2l-1.5-3.1zM149.1 14.4l-.5 2.2l-.6 .2l.6-2.3z"/>
<path fill="#c33f3c" d="M154.4 41.9l.2 4.2l2.8-.4l-.4-4.2z"/>
<path fill="#dbd5cf" d="M164.9 70.1l1.5 1.9l4.9-1.4l-2-1.8z"/>
<path fill="#4b0015" d="M155.7 12.3l1 2.3l-1.1-.4l-.9-2.3z"/>
<path fill="#b42430" d="M155.8 38.3l.4 4.3l2.6-.5l-.6-4.3z"/>
<path fill="#c63f3c" d="M149 41.7l-.4 4.2l2.9 .3l.2-4.2z"/>
<path fill="#5a001b" d="M148 16.2l-1.5 3.3l.5 1.3l1.5-3.3z"/>
<path fill="#9c1527" d="M156.9 34.6l.6 4.3l2.3-.7l-.7-4.3z"/>
<path fill="#7e0c21" d="M157.6 30.8l.7 4.3l2-.8l-.9-4.3z"/>
<path fill="#63031e" d="M157.9 27.1l.9 4.2l1.7-.9l-1-4.2z"/>
<path fill="#510018" d="M150.8 12l-.8 2.2l-1 .4l.9-2.3z"/>
<path fill="#f6e1d2" d="M152.8 67l0 2l4.6-.2l-.3-2z"/>
<path fill="#5d001b" d="M157.9 23.6l1 4.1l1.4-1.1l-1.1-4z"/>
<path fill="#b72733" d="M147.8 38l-.5 4.3l2.6 .4l.4-4.3z"/>
<path fill="#480015" d="M153.4 10.7l.3 1.7l-1.4 0l0-1.7zM153.2 10.6l0 1.7l-1.5 .1l.4-1.7z"/>
<path fill="#c33f3c" d="M152.6 41.9l0 4.2l2.9-.2l-.2-4.2z"/>
<path fill="#f9e1d2" d="M149.4 66.9l-.2 2l4.6 .1l0-2z"/>
<path fill="#480015" d="M153.7 10.7l.6 1.8l-1.5-.1l-.3-1.7z"/>
<path fill="#c63f3c" d="M150.8 41.9l-.2 4.2l2.9 0l0-4.2z"/>
<path fill="#a2152a" d="M146.9 34.2l-.7 4.3l2.3 .6l.5-4.4z"/>
<path fill="#4b0015" d="M153 10.6l-.4 1.8l-1.5 .2l.7-1.8z"/>
<path fill="#840c24" d="M146.4 30.3l-.8 4.3l2.1 .7l.7-4.3z"/>
<path fill="#510018" d="M156.3 15l1.5 2.2l.2-.8l-1.5-2.2z"/>
<path fill="#5a001b" d="M157.5 20.4l1.2 3.9l1.1-1.3l-1.3-3.8z"/>
<path fill="#69031e" d="M146.3 26.5l-1 4.2l1.8 .9l.9-4.2z"/>
<path fill="#480015" d="M153.9 10.8l.9 1.9l-1.6-.3l-.6-1.8z"/>
<path fill="#4b0018" d="M152.9 10.6l-.7 1.8l-1.6 .3l1-1.9z"/>
<path fill="#4e0018" d="M155.9 12.5l.8 2.1l-.8-.3l-.7-2.1z"/>
<path fill="#edded2" d="M156.4 67.9l.5 2.7l4.8-.6l-.9-2.7z"/>
<path fill="#60001e" d="M146.6 22.9l-1.1 4l1.5 1l1-4.1z"/>
<path fill="#57001b" d="M149.1 14.3l-1.5 2.4l.3 .9l1.5-2.4z"/>
<path fill="#e4d8d2" d="M160.5 69.4l1 2.3l4.9-1l-1.5-2.2z"/>
<path fill="#4b0015" d="M154.2 10.9l1.2 1.9l-1.6-.4l-.9-1.9z"/>
<path fill="#b72430" d="M154.2 38.4l.2 4.3l2.7-.3l-.4-4.3z"/>
<path fill="#dbd5d2" d="M137.2 69.4l-1.9 1.8l5 1.3l1.4-2z"/>
<path fill="#540018" d="M150.3 12.5l-.7 2l-.7 .2l.7-2.1z"/>
<path fill="#4e0018" d="M152.8 10.5l-1 2l-1.5 .4l1.1-1.9z"/>
<path fill="#60001e" d="M147.1 19.5l-1.2 3.8l1.2 1.2l1.1-3.9z"/>
<path fill="#57001b" d="M157 17.6l1.4 3.7l.7-1.5l-1.4-3.6z"/>
<path fill="#b72733" d="M149.3 38.3l-.4 4.3l2.7 .2l.2-4.3z"/>
<path fill="#f0ded5" d="M145.8 67.7l-.8 2.7l4.8 .4l.4-2.8z"/>
<path fill="#4b0018" d="M154.4 11l1.1 1.8l-1.4-.3l-1-1.9z"/>
<path fill="#9f152a" d="M155.5 34.8l.4 4.4l2.4-.5l-.6-4.3z"/>
<path fill="#4e0018" d="M152.3 10.7l-1 1.9l-1.3 .3l1.1-1.8z"/>
<path fill="#5d001b" d="M147.9 16.4l-1.4 3.6l.8 1.4l1.3-3.7z"/>
<path fill="#b72733" d="M152.6 38.5l0 4.3l2.7-.1l-.2-4.3z"/>
<path fill="#810c24" d="M156.4 31.1l.6 4.3l2.2-.6l-.7-4.3z"/>
<path fill="#b72733" d="M150.9 38.4l-.2 4.3l2.7 0l0-4.3z"/>
<path fill="#510018" d="M156.1 12.7l.6 1.8l-.5 0l-.5-1.8z"/>
<path fill="#e4dbd5" d="M141.6 68.9l-1.3 2.2l5 .8l.9-2.3z"/>
<path fill="#a2152a" d="M148.2 34.5l-.5 4.3l2.5 .4l.4-4.4z"/>
<path fill="#540018" d="M156.2 15.2l1.5 2.9l.4-1.2l-1.6-2.8z"/>
<path fill="#66031e" d="M157 27.5l.7 4.3l1.9-.8l-.9-4.2z"/>
<path fill="#4e0018" d="M154.6 11.1l1 1.8l-1.1-.2l-.9-1.8z"/>
<path fill="#57001b" d="M150.1 12.8l-1.4 1.5l.2 .6l1.4-1.5z"/>
<path fill="#510018" d="M151.9 11l-.9 1.7l-1 .2l1-1.7z"/>
<path fill="#60001b" d="M157.2 24l.9 4.1l1.6-.9l-1-4z"/>
<path fill="#f0ded5" d="M152.9 68.1l.1 2.8l4.9-.3l-.5-2.7z"/>
<path fill="#870c24" d="M147.5 30.7l-.7 4.3l2.2 .6l.5-4.4z"/>
<path fill="#5a001b" d="M149 14l-1.5 3l.5 1.3l1.5-3.1z"/>
<path fill="#f0ded5" d="M149.3 68l-.4 2.8l4.9 .1l-.1-2.8z"/>
<path fill="#5d001b" d="M157.1 20.7l1.1 3.9l1.3-1l-1.2-3.8z"/>
<path fill="#6c031e" d="M147.1 27l-.8 4.2l1.9 .7l.7-4.3z"/>
<path fill="#a2152a" d="M154.1 35l.2 4.4l2.5-.3l-.4-4.4z"/>
<path fill="#4e0018" d="M154.8 11.2l.9 1.7l-.9-.1l-.8-1.6z"/>
<path fill="#63001e" d="M147.1 23.4l-1 4.1l1.7 .8l.9-4.1z"/>
<path fill="#d5d2cf" d="M165.7 71.3l1.6 1.7l5.2-1.5l-2.1-1.6z"/>
<path fill="#540018" d="M151.5 11.2l-.7 1.6l-.8 .1l.8-1.6z"/>
<path fill="#a2152a" d="M149.6 34.8l-.4 4.4l2.6 .2l.2-4.4z"/>
<path fill="#5a001b" d="M156.7 17.8l1.2 3.6l1-1.2l-1.3-3.5z"/>
<path fill="#540018" d="M155.3 13.3l1.6 1.9l.2-.9l-1.5-1.9z"/>
<path fill="#60001e" d="M147.4 20l-1.1 3.8l1.4 .9l1-3.9z"/>
<path fill="#a2152a" d="M152.6 35l0 4.4l2.6-.1l-.2-4.4z"/>
<path fill="#840c24" d="M155.2 31.3l.4 4.4l2.3-.5l-.6-4.3z"/>
<path fill="#5a001b" d="M150.1 12.5l-1.6 2.1l.2 1l1.6-2.1z"/>
<path fill="#a2152a" d="M151.1 35l-.2 4.4l2.6 0l0-4.4z"/>
<path fill="#60001e" d="M148 16.9l-1.2 3.5l1.1 1.1l1.2-3.6z"/>
<path fill="#510018" d="M155 11.4l.7 1.5l-.6 0l-.6-1.4z"/>
<path fill="#57001b" d="M156 15.4l1.4 3.3l.7-1.4l-1.4-3.2z"/>
<path fill="#510018" d="M153.2 10.3l.5 1.2l-1.4 0l.1-1.2zM153.3 10.3l-.1 1.2l-1.5 .1l.6-1.3z"/>
<path fill="#57001b" d="M151.1 11.6l-.6 1.4l-.5-.1l.6-1.5z"/>
<path fill="#870c24" d="M148.6 31.1l-.5 4.4l2.3 .4l.4-4.4z"/>
<path fill="#510018" d="M153.3 10.4l1.1 1.3l-1.6-.1l-.5-1.3zM153.4 10.2l-.7 1.3l-1.5 .1l1-1.3z"/>
<path fill="#69031e" d="M156 27.7l.6 4.3l2-.6l-.7-4.2z"/>
<path fill="#510018" d="M153.4 10.4l1 1.2l-1.3 0l-1-1.3z"/>
<path fill="#540018" d="M153.3 10.3l-.9 1.2l-1.2 0l.9-1.1z"/>
<path fill="#5d001b" d="M148.9 14.3l-1.4 3.2l.8 1.3l1.3-3.3z"/>
<path fill="#e4dbd2" d="M156.7 69.8l.6 2.4l5.1-.6l-1-2.3z"/>
<path fill="#510018" d="M153.5 10.4l.9 1.1l-1 .1l-.8-1.1z"/>
<path fill="#60001e" d="M156.4 24.2l.8 4.1l1.8-.7l-.9-4.1z"/>
<path fill="#540018" d="M152.9 10.5l-.8 1.1l-.9-.1l.8-1.1z"/>
<path fill="#6c0321" d="M148 27.4l-.7 4.3l2.1 .5l.5-4.3z"/>
<path fill="#57001b" d="M155.2 13.5l1.6 2.6l.3-1.3l-1.6-2.5z"/>
<path fill="#540018" d="M154.3 12.1l1.5 1.1l.1-.6l-1.4-1z"/>
<path fill="#dbd5d2" d="M161.1 70.8l1.1 2l5.2-1.1l-1.6-1.9z"/>
<path fill="#60001e" d="M156.5 21l.9 3.9l1.5-.8l-1-3.8z"/>
<path fill="#540018" d="M153.7 10.5l.8 1l-.8 .2l-.7-1z"/>
<path fill="#870c24" d="M153.9 31.5l.2 4.4l2.4-.3l-.4-4.4z"/>
<path fill="#d5d2cf" d="M136.1 70.5l-2 1.7l5.3 1.3l1.5-1.8z"/>
<path fill="#57001b" d="M152.5 10.7l-.7 1l-.7-.2l.8-1z"/>
<path fill="#5a001b" d="M151.1 11.4l-1.5 1.2l.1 .7l1.5-1.2z"/>
<path fill="#e7dbd5" d="M145.2 69.5l-.9 2.3l5.2 .5l.4-2.4z"/>
<path fill="#66001e" d="M147.8 23.8l-.9 4.1l1.8 .6l.7-4.2z"/>
<path fill="#5d001b" d="M150 12.2l-1.6 2.7l.4 1.4l1.6-2.8z"/>
<path fill="#870c24" d="M149.9 31.3l-.4 4.4l2.4 .2l.2-4.4z"/>
<path fill="#5d001b" d="M156.3 18l1.1 3.6l1.2-1l-1.2-3.5z"/>
<path fill="#540018" d="M153.8 10.5l.7 1l-.6 .2l-.6-.9z"/>
<path fill="#63001e" d="M147.9 20.4l-1 3.9l1.6 .8l.9-3.9z"/>
<path fill="#57001b" d="M152.2 10.8l-.6 .9l-.5-.2l.7-1z"/>
<path fill="#5a001b" d="M155.8 15.6l1.2 3.2l.9-1.1l-1.3-3.1z"/>
<path fill="#870c24" d="M152.5 31.5l0 4.4l2.4-.1l-.2-4.4zM151.2 31.5l-.2 4.4l2.4 0l0-4.4z"/>
<path fill="#63001e" d="M148.3 17.4l-1.1 3.5l1.3 .9l1-3.6z"/>
<path fill="#57001b" d="M154.3 12.1l1.7 1.6l.1-1l-1.7-1.6zM153.4 11.4l1.1 .2l.1-.5l-1.1-.1z"/>
<path fill="#6c0321" d="M154.9 27.9l.4 4.3l2.2-.4l-.6-4.3z"/>
<path fill="#5a001b" d="M152.1 10.9l-1.1 .2l0 .5l1.2-.3z"/>
<path fill="#ded5d2" d="M140.8 70.3l-1.4 2l5.3 .9l.9-2.1z"/>
<path fill="#5d001b" d="M151.2 11.1l-1.7 1.8l.1 1.1l1.7-1.8z"/>
<path fill="#60001e" d="M149 14.7l-1.3 3.1l1 1l1.2-3.2z"/>
<path fill="#5a001b" d="M155.1 13.6l1.4 2.8l.6-1.3l-1.5-2.7z"/>
<path fill="#6f0321" d="M149 27.7l-.5 4.3l2.2 .4l.4-4.3z"/>
<path fill="#e4dbd5" d="M152.9 70l.1 2.4l5.2-.3l-.6-2.4z"/>
<path fill="#57001b" d="M153.4 11.4l1.4 .5l-.1-.7l-1.4-.4z"/>
<path fill="#63001e" d="M155.5 24.5l.6 4.2l1.9-.6l-.7-4.1z"/>
<path fill="#5d001b" d="M152.2 10.8l-1.5 .5l-.1 .7l1.5-.6z"/>
<path fill="#60001e" d="M149.9 12.6l-1.5 2.7l.7 1.2l1.4-2.8z"/>
<path fill="#e7dbd5" d="M149 69.9l-.4 2.4l5.3 .1l-.1-2.4z"/>
<path fill="#5a001b" d="M154.3 12.2l1.7 2.3l.2-1.4l-1.7-2.2z"/>
<path fill="#63001e" d="M155.8 21.2l.8 3.9l1.7-.7l-.9-3.9z"/>
<path fill="#66001e" d="M148.6 24.1l-.7 4.1l1.9 .5l.5-4.2z"/>
<path fill="#5a001b" d="M153.4 11.4l1.7 .8l-.2-.9l-1.7-.8z"/>
<path fill="#6c0321" d="M153.7 28l.2 4.3l2.2-.3l-.4-4.3z"/>
<path fill="#60001e" d="M155.8 18.3l.9 3.6l1.4-.8l-1.1-3.6zM151.1 11l-1.7 2.2l.3 1.4l1.7-2.3zM152.4 10.5l-1.8 .9l-.2 1l1.8-1z"/>
<path fill="#6f0321" d="M150.2 27.9l-.4 4.3l2.3 .2l.2-4.3z"/>
<path fill="#66001e" d="M148.4 20.8l-.9 3.9l1.7 .6l.7-4z"/>
<path fill="#5d001b" d="M155.5 15.7l1.1 3.2l1.1-.9l-1.2-3.1z"/>
<path fill="#60001e" d="M152.5 12l1.3-1.7l-1.6 0zM153.3 11.9l-.1-1.5l-1.6 .1zM152.3 11.3l1.6-.7l-1.2-.3zM153.2 11.2l-.4-.9l-1.1 .4zM152.5 11.1l1.4-.3l-.9-.4zM153.1 11l-.5-.7l-.9 .5z"/>
<path fill="#5d001b" d="M154.9 13.7l1.3 2.8l.9-1l-1.4-2.7zM153.4 11.4l1.9 1.3l-.2-1.3l-1.9-1.3z"/>
<path fill="#66001e" d="M148.7 17.7l-1 3.6l1.4 .7l.9-3.6z"/>
<path fill="#60001e" d="M152.6 11l1.4-.1l-.8-.5z"/>
<path fill="#6f0321" d="M152.5 28.1l0 4.3l2.3-.1l-.2-4.3z"/>
<path fill="#60001e" d="M153 11l-.6-.6l-.7 .6z"/>
<path fill="#6f0321" d="M151.3 28l-.2 4.3l2.3 0l0-4.3z"/>
<path fill="#60001e" d="M152.7 11l1.4 0l-.7-.6zM152.4 10.2l-2 1.5l-.1 1.4l1.9-1.5z"/>
<path fill="#63001e" d="M149.2 15.1l-1.2 3.2l1.2 .8l1.1-3.3zM152.9 11l-.8-.6l-.7 .6z"/>
<path fill="#5d001b" d="M154.1 12.2l1.5 2.2l.6-1.1l-1.6-2.1z"/>
<path fill="#60001e" d="M152.7 11l1.6 .1l-.7-.7z"/>
<path fill="#66001e" d="M154.6 24.6l.4 4.2l2-.4l-.6-4.2z"/>
<path fill="#63001e" d="M152.9 11l-.9-.5l-.7 .7zM149.9 12.9l-1.3 2.7l.9 .9l1.2-2.8zM152.7 10.9l1.7 .3l-.7-.8zM152.9 10.9l-1.1-.4l-.7 .8zM150.9 11.3l-1.5 2.1l.6 1.1l1.5-2.2z"/>
<path fill="#60001e" d="M153.3 11.4l1.8 1.5l.2-1.2l-1.8-1.4z"/>
<path fill="#63001e" d="M152.7 10.9l1.9 .5l-.8-.9z"/>
<path fill="#69001e" d="M149.5 24.4l-.5 4.2l2 .3l.4-4.2z"/>
<path fill="#63001e" d="M152.9 10.9l-1.2-.3l-.7 1zM152.1 10.4l-1.7 1.4l.3 1.2l1.7-1.5zM152.7 10.9l1.9 .8l-.7-1.1zM155.1 21.4l.6 4l1.8-.5l-.8-3.9z"/>
<path fill="#66001e" d="M152.9 10.9l-1.3-.3l-.5 1.1z"/>
<path fill="#63001e" d="M152.7 10.9l1.7 .9l-.2-1.1z"/>
<path fill="#66001e" d="M152.9 10.9l-1.5-.1l-.1 1.1z"/>
<path fill="#63001e" d="M155.2 18.4l.8 3.7l1.5-.6l-.9-3.6z"/>
<path fill="#dbd5d2" d="M157.1 71.3l.6 2.1l5.5-.7l-1.1-2z"/>
<path fill="#60001e" d="M153.2 11.4l1.6 1.5l.5-1l-1.7-1.4z"/>
<path fill="#66001e" d="M152.7 10.9l1.4 .9l.1-1z"/>
<path fill="#60001e" d="M154 12.3l1.4 2.2l.8-.9l-1.5-2.1z"/>
<path fill="#66001e" d="M149.1 21l-.7 3.9l1.8 .5l.5-4z"/>
<path fill="#60001e" d="M155.1 15.9l1 3.3l1.3-.7l-1.1-3.2zM154.6 13.8l1.2 2.8l1.1-.8l-1.3-2.7z"/>
<path fill="#66001e" d="M152.9 10.9l-1.6 0l.2 1zM153.5 24.7l.2 4.2l2.1-.3l-.4-4.2zM152 10.6l-1.6 1.5l.6 .9l1.6-1.6zM152.7 10.9l1.3 1l.4-.9z"/>
<path fill="#69001e" d="M152.9 10.9l-1.7 .1l.5 .9z"/>
<path fill="#66001e" d="M150.9 11.6l-1.4 2.2l.9 .9l1.3-2.3z"/>
<path fill="#690021" d="M150.4 24.6l-.4 4.2l2.1 .2l.2-4.2z"/>
<path fill="#66001e" d="M149.1 18l-.9 3.6l1.6 .6l.7-3.7z"/>
<path fill="#d5d2cf" d="M161.7 72l1.1 1.8l5.6-1.1l-1.6-1.7z"/>
<path fill="#66001e" d="M150 13.2l-1.2 2.7l1.1 .8l1.1-2.8zM152.7 10.9l1.1 1l.7-.8zM149.4 15.4l-1.1 3.2l1.3 .7l.9-3.3z"/>
<path fill="#690021" d="M152.9 10.9l-1.8 .3l.8 .8z"/>
<path fill="#63001e" d="M153.1 11.4l1.5 1.6l.7-.8l-1.6-1.5z"/>
<path fill="#69001e" d="M152.7 10.9l.9 1.1l.9-.7z"/>
<path fill="#690021" d="M152.9 10.9l-1.8 .5l.9 .6z"/>
<path fill="#69001e" d="M152.5 24.7l0 4.2l2.1-.1l-.2-4.2z"/>
<path fill="#ded5d2" d="M144.7 71l-1 2.1l5.5 .5l.4-2.1z"/>
<path fill="#690021" d="M151.5 24.7l-.2 4.2l2.1 0l0-4.2z"/>
<path fill="#69001e" d="M151.9 10.7l-1.6 1.6l.8 .8l1.4-1.7z"/>
<path fill="#690021" d="M152.7 10.9l.8 1.2l1-.6z"/>
<path fill="#6c0021" d="M152.9 10.8l-1.8 .7l1.1 .5z"/>
<path fill="#66001e" d="M154.2 21.5l.4 4l1.9-.4l-.6-4z"/>
<path fill="#690021" d="M152.7 10.8l.6 1.3l1.1-.5z"/>
<path fill="#63001e" d="M153.8 12.3l1.2 2.3l1-.7l-1.3-2.2z"/>
<path fill="#6c0021" d="M152.9 10.8l-1.7 .9l1.1 .4zM152.7 10.8l.4 1.3l1.2-.3zM152.9 10.8l-1.5 1.1l1.2 .3zM152.7 10.7l.2 1.4l1.2-.2z"/>
<path fill="#66001e" d="M153 11.4l1.4 1.7l.9-.7l-1.5-1.6z"/>
<path fill="#6c0021" d="M152.9 10.7l-1.3 1.2l1.2 .2z"/>
<path fill="#66001e" d="M150.9 11.8l-1.3 2.2l1 .7l1.2-2.3z"/>
<path fill="#69001e" d="M149.9 21.3l-.5 4l1.9 .3l.4-4z"/>
<path fill="#6c0021" d="M152.7 10.7l-.1 1.5l1.2-.1zM152.9 10.7l-1 1.4l1.2 .1z"/>
<path fill="#63001e" d="M154.4 13.9l1 2.9l1.2-.7l-1.1-2.8z"/>
<path fill="#6c0021" d="M152.8 10.6l-.4 1.5l1.2-.1zM152.8 10.6l-.7 1.5l1.2 0z"/>
<path fill="#690021" d="M151.9 10.8l-1.5 1.7l.9 .6l1.3-1.8z"/>
<path fill="#66001e" d="M154.6 18.6l.6 3.7l1.7-.5l-.8-3.7z"/>
<path fill="#63001e" d="M154.6 16l.8 3.3l1.4-.6l-1-3.3z"/>
<path fill="#66001e" d="M150.2 13.4l-1.1 2.8l1.2 .6l1-2.9z"/>
<path fill="#69001e" d="M149.7 18.3l-.7 3.7l1.7 .4l.6-3.7zM152.9 11.3l1.2 1.8l1-.6l-1.4-1.7zM149.8 15.6l-.9 3.3l1.5 .5l.8-3.3z"/>
<path fill="#d8d2cf" d="M140 71.5l-1.5 1.8l5.6 .9l1-1.9z"/>
<path fill="#6c0021" d="M151.9 10.9l-1.3 1.8l1.1 .5l1.1-1.9z"/>
<path fill="#69001e" d="M153.4 21.6l.2 4l1.9-.2l-.4-4z"/>
<path fill="#66001e" d="M153.6 12.4l1.1 2.4l1.1-.6l-1.2-2.3z"/>
<path fill="#690021" d="M150.7 21.5l-.4 4l2 .2l.2-4zM151.1 11.9l-1.2 2.3l1.1 .6l1-2.4z"/>
<path fill="#ded5d2" d="M152.9 71.5l.1 2.1l5.6-.3l-.6-2.1z"/>
<path fill="#690021" d="M152.8 11.3l1 1.9l1.1-.5l-1.2-1.8z"/>
<path fill="#6c0021" d="M151.9 11l-1.2 1.9l1.1 .4l1-1.9z"/>
<path fill="#69001e" d="M152.5 21.6l0 4l2-.1l-.2-4z"/>
<path fill="#66001e" d="M154 14l.8 2.9l1.3-.5l-1-2.8z"/>
<path fill="#ded5d2" d="M148.8 71.4l-.5 2.1l5.6 .1l-.1-2.1z"/>
<path fill="#690021" d="M151.6 21.6l-.2 4l2 0l0-4z"/>
<path fill="#66001e" d="M153.9 18.7l.4 3.7l1.7-.4l-.6-3.7z"/>
<path fill="#6c0021" d="M152.7 11.3l.8 2l1.2-.3l-1-1.9z"/>
<path fill="#66001e" d="M154.1 16.1l.6 3.4l1.5-.5l-.8-3.3z"/>
<path fill="#690021" d="M150.5 13.6l-1 2.9l1.3 .5l.8-2.9z"/>
<path fill="#66001e" d="M153.4 12.4l.9 2.4l1.2-.5l-1.1-2.4z"/>
<path fill="#6f0021" d="M152 11l-1 2l1.2 .3l.7-2z"/>
<path fill="#690021" d="M150.3 18.5l-.6 3.7l1.8 .3l.4-3.7z"/>
<path fill="#6c0021" d="M151.2 12l-1 2.4l1.2 .4l.8-2.5zM152.6 11.3l.6 2l1.2-.2l-.8-2z"/>
<path fill="#690021" d="M150.3 15.8l-.8 3.3l1.6 .4l.6-3.4z"/>
<path fill="#6f0021" d="M152.1 11.1l-.7 2l1.2 .2l.5-2.1zM152.5 11.2l.3 2.1l1.2-.2l-.6-2zM152.2 11.1l-.5 2.1l1.3 .1l.2-2.1zM152.4 11.2l0 2.1l1.3-.1l-.3-2.1zM152.3 11.2l-.2 2.1l1.3 0l0-2.1z"/>
<path fill="#69001e" d="M153.2 18.7l.2 3.8l1.8-.2l-.4-3.7z"/>
<path fill="#66001e" d="M153.6 14l.7 3l1.4-.4l-.8-2.9z"/>
<path fill="#690021" d="M153.2 12.4l.7 2.5l1.3-.4l-.9-2.4zM151 18.6l-.4 3.7l1.8 .2l.2-3.8z"/>
<path fill="#6c0021" d="M151.4 12.2l-.8 2.5l1.3 .3l.6-2.5z"/>
<path fill="#690021" d="M150.8 13.8l-.8 2.9l1.4 .4l.6-3z"/>
<path fill="#69001e" d="M153.6 16.2l.4 3.4l1.6-.3l-.6-3.4z"/>
<path fill="#690021" d="M152.5 18.7l0 3.8l1.8-.1l-.2-3.8zM151.7 18.7l-.2 3.8l1.8 0l0-3.8zM150.7 16l-.6 3.4l1.6 .3l.4-3.4z"/>
<path fill="#6c0021" d="M152.9 12.4l.5 2.5l1.3-.3l-.7-2.5zM151.6 12.2l-.6 2.5l1.4 .2l.4-2.6z"/>
<path fill="#690021" d="M153.3 14.1l.5 3l1.5-.3l-.7-3z"/>
<path fill="#6c0021" d="M151.2 13.9l-.6 3l1.5 .2l.4-3z"/>
<path fill="#690021" d="M153 16.2l.2 3.4l1.7-.2l-.4-3.4z"/>
<path fill="#6c0021" d="M152.7 12.4l.3 2.6l1.4-.2l-.5-2.5z"/>
<path fill="#6f0021" d="M151.9 12.3l-.4 2.6l1.4 .1l.2-2.6z"/>
<path fill="#6c0021" d="M151.3 16.1l-.4 3.4l1.7 .1l.2-3.4zM152.4 12.4l0 2.6l1.4-.1l-.3-2.6z"/>
<path fill="#6f0021" d="M152.1 12.4l-.2 2.6l1.4 0l0-2.6z"/>
<path fill="#690021" d="M152.8 14.1l.2 3l1.5-.2l-.5-3zM152.4 16.2l0 3.4l1.7-.1l-.2-3.4z"/>
<path fill="#6c0021" d="M151.9 16.2l-.2 3.4l1.7 0l0-3.4zM151.6 14l-.4 3l1.5 .1l.2-3zM152.4 14.1l0 3l1.5-.1l-.2-3z"/>
<path fill="#d5d2cf" d="M157.4 72.5l.6 1.9l5.8-.7l-1.2-1.9z"/>
<path fill="#6c0021" d="M152 14.1l-.2 3l1.5 0l0-3z"/>
<path fill="#d8d2cf" d="M144.2 72.2l-1 1.9l5.8 .5l.5-2zM153 72.7l.1 2l5.9-.3l-.6-2zM148.5 72.6l-.5 2l5.9 .1l-.1-2z"/>
<polygon points="252.9,64.8 323.9,79.3 358.4,48.8 287.4,34.3" fill="#cdcdcd"/>
<path fill="#cccccc" d="M309.5 42.3l.7-2.8l-8 0l.5 2.8zM303.7 42.3l-.5-2.8l-7.9 .6l1.7 2.7zM315.3 42.8l1.9-2.7l-7.9-.6l-.7 2.8zM297.9 42.6l-1.7-2.7l-7.7 1.2l2.8 2.5zM320.9 43.7l3-2.5l-7.7-1.2l-1.9 2.6z"/>
<path fill="#ccc6c3" d="M309.1 43.3l.8-1.9l-7.3 0l.5 1.9z"/>
<path fill="#cccccc" d="M292.4 43.4l-2.8-2.4l-7.2 1.8l3.7 2.2z"/>
<path fill="#ccc9c3" d="M304 43.3l-.5-1.9l-7.3 .5l1.8 1.8z"/>
<path fill="#ccc6c3" d="M314.2 43.8l2-1.8l-7.3-.6l-.8 1.9z"/>
<path fill="#cccccc" d="M326 45l3.8-2.1l-7.1-1.8l-2.9 2.4z"/>
<path fill="#ccc9c6" d="M299 43.6l-1.7-1.8l-6.8 1.2l2.5 1.5z"/>
<path fill="#ccc6c3" d="M319.1 44.6l2.6-1.5l-6.7-1.2l-1.9 1.7z"/>
<path fill="#ccc0b7" d="M308.7 43.4l.6-.6l-6.6-.1l.7 .7z"/>
<path fill="#ccc0ba" d="M304.3 43.1l-.8-.7l-5.7 .8l.6 .5z"/>
<path fill="#ccc0b7" d="M313.7 43.8l.6-.5l-5.6-.9l-.7 .6z"/>
<path fill="#cccccc" d="M287.2 44.5l-3.7-2.1l-6.4 2.3l4.3 1.8z"/>
<path fill="#cfc9c6" d="M294.1 44.2l-2.6-1.5l-6.2 1.7l3 1.2z"/>
<path fill="#c9bab1" d="M308.7 42.3l.9 1l-6.9 0l.6-1z"/>
<path fill="#cccccc" d="M330.6 46.7l4.5-1.8l-6.3-2.4l-3.8 2.1z"/>
<path fill="#ccc0ba" d="M298.8 43.3l-.7-.5l-5.3 1.2l.8 .4z"/>
<path fill="#ccc9c6" d="M323.7 45.7l3.1-1.2l-6.1-1.8l-2.7 1.5z"/>
<path fill="#c9bab1" d="M304.4 42.3l-.6 1.1l-6 .1l.8-.8z"/>
<path fill="#ccc0b7" d="M318.5 44.6l.8-.4l-5.2-1.3l-.7 .5z"/>
<path fill="#c9bab1" d="M313.5 42.7l.8 .8l-5.8-.1l-.9-1.1z"/>
<path fill="#c9b4a5" d="M308.7 42l.4 1.3l-6.1 0l.3-1.3z"/>
<path fill="#ccbab1" d="M299.2 43l-.6 .8l-5.3 .4l.7-.7z"/>
<path fill="#c9bab1" d="M318.1 43.5l.7 .7l-5.2-.4l-.6-.7z"/>
<path fill="#c9b4a8" d="M304.2 41.9l-.3 1.3l-6.2 .4l1-1.3z"/>
<path fill="#c9b4a5" d="M313.3 42.4l1.1 1.4l-6.2-.5l-.4-1.3z"/>
<path fill="#ccc0ba" d="M293.9 44l-.9-.4l-4.9 1.6l1 .4zM322.9 45.7l1-.4l-4.8-1.7l-.9 .4z"/>
<path fill="#cfc9c6" d="M289.3 45.2l-3.2-1.2l-5.5 2.2l3.6 1z"/>
<path fill="#c9b4a8" d="M300 42.2l-1 1.4l-5.7 .6l1-1.2z"/>
<path fill="#c9ab9c" d="M308.7 41.3l.3 1.5l-5.8 0l.2-1.5z"/>
<path fill="#c9b4a8" d="M317.7 43.1l1 1.2l-5.6-.6l-1-1.3z"/>
<path fill="#ccc9c6" d="M327.7 47.2l3.7-.9l-5.4-2.2l-3.3 1.2z"/>
<path fill="#c9ae9c" d="M304.3 41.3l-.2 1.5l-5.8 .4l.7-1.6z"/>
<path fill="#ccbdb4" d="M294.2 43.8l-.5 .7l-4.8 .7l.7-.7z"/>
<path fill="#c6ab9c" d="M313 41.7l.8 1.6l-5.8-.5l-.3-1.6z"/>
<path fill="#cfcccc" d="M282.5 46l-4.4-1.8l-5.6 2.8l4.9 1.4z"/>
<path fill="#c9bab1" d="M322.4 44.6l.7 .7l-4.7-.7l-.5-.7z"/>
<path fill="#c9ae9f" d="M300 41.5l-.7 1.6l-5.8 .9l1.2-1.7z"/>
<path fill="#cccccc" d="M334.3 48.7l5.1-1.4l-5.4-2.9l-4.5 1.7z"/>
<path fill="#c9ae9c" d="M317.2 42.4l1.2 1.7l-5.7-.9l-.8-1.6z"/>
<path fill="#ccb7ab" d="M295.1 43.1l-.9 1.2l-5 .9l1-1.1z"/>
<path fill="#c09c87" d="M308.6 40.4l.2 1.8l-5.5 0l.2-1.8z"/>
<path fill="#cfc3bd" d="M289.4 45l-1.2-.3l-4.4 2l1.2 .3z"/>
<path fill="#c39c87" d="M304.3 40.4l-.2 1.8l-5.5 .4l.6-1.8z"/>
<path fill="#c9b4a8" d="M321.8 44.1l1 1.1l-4.9-.9l-.9-1.1z"/>
<path fill="#c09c87" d="M312.7 40.8l.7 1.8l-5.5-.4l-.2-1.8z"/>
<path fill="#ccc0ba" d="M326.8 47.1l1.3-.3l-4.3-2l-1.2 .3z"/>
<path fill="#cfbdb4" d="M289.7 44.9l-.8-.2l-3.9 1.8l1 .1z"/>
<path fill="#c39c8a" d="M300.2 40.6l-.6 1.9l-5.4 .8l1-1.9z"/>
<path fill="#ccb19f" d="M295.8 42.2l-1.1 1.7l-5.2 1l1.2-1.6z"/>
<path fill="#c39c87" d="M316.8 41.5l1.1 1.9l-5.4-.9l-.7-1.9z"/>
<path fill="#cfc9c6" d="M285.1 46.5l-3.8-.9l-4.7 2.6l4.1 .6z"/>
<path fill="#c9ae9f" d="M321.1 43.4l1.2 1.5l-5.1-1l-1.1-1.6z"/>
<path fill="#ccbdb1" d="M325.9 46.8l1-.1l-3.8-1.9l-.9 .2z"/>
<path fill="#bd8a72" d="M308.4 39.3l.2 2l-5.3 0l.2-2z"/>
<path fill="#bd8a75" d="M304.4 39.3l-.2 2l-5.3 .4l.5-2.1z"/>
<path fill="#bd8a72" d="M312.4 39.7l.6 2.1l-5.3-.4l-.2-2z"/>
<path fill="#cfc9c6" d="M331 49l4.2-.6l-4.6-2.6l-3.9 .8z"/>
<path fill="#cfbaab" d="M290.7 44.2l-.8 1.1l-4.4 1.1l.9-1.1z"/>
<path fill="#c69f8d" d="M296.3 41.1l-1 2l-5.2 1.2l1.3-2z"/>
<path fill="#ccb7a8" d="M325.4 45.4l.9 1.1l-4.2-1.1l-.8-1z"/>
<path fill="#c08d75" d="M300.4 39.5l-.5 2.1l-5.2 .8l.9-2.1z"/>
<path fill="#bd8a72" d="M316.3 40.3l.9 2.2l-5.1-.8l-.6-2.1z"/>
<path fill="#c39c8a" d="M320.5 42.4l1.3 2l-5.1-1.2l-1.1-2z"/>
<path fill="#d2c6bd" d="M285.5 46.4l-1.4-.2l-3.8 2.3l1.5 .1z"/>
<path fill="#cfcccc" d="M278.5 47.9l-5-1.4l-4.6 3.3l5.5 1z"/>
<path fill="#b77860" d="M308.3 38l.2 2.2l-5.1 0l.1-2.2z"/>
<path fill="#cfb4a2" d="M291.6 43.3l-1 1.5l-4.5 1.2l1.1-1.5z"/>
<path fill="#ba7b60" d="M304.5 38l-.1 2.2l-5.1 .4l.5-2.2z"/>
<path fill="#b77860" d="M312.1 38.3l.6 2.2l-5.1-.4l-.2-2.2z"/>
<path fill="#cfc3ba" d="M330 48.8l1.6-.1l-3.7-2.4l-1.5 .2z"/>
<path fill="#0f457e" d="M306.1 90.1l.1-3.4l-1.3 0l.1 3.4z"/>
<path fill="#0f427e" d="M306 90.1l-.1-3.4l-1.3 .1l.3 3.4z"/>
<path fill="#0f457e" d="M306.3 90.1l.4-3.4l-1.3-.1l-.1 3.4z"/>
<path fill="#ccb19f" d="M324.6 44.7l1.1 1.5l-4.3-1.2l-1-1.5z"/>
<path fill="#0f427b" d="M305.8 90l-.3-3.4l-1.2 .2l.5 3.4z"/>
<path fill="#0f457e" d="M306.4 90.2l.6-3.4l-1.2-.2l-.4 3.4z"/>
<path fill="#0f427b" d="M305.7 90l-.5-3.4l-1.2 .3l.7 3.3zM306.5 90.3l.8-3.3l-1.2-.3l-.6 3.4z"/>
<path fill="#063669" d="M305.6 91l.6-1.8l-1.1 0zM305.6 91l.3-1.9l-1.1 .1z"/>
<path fill="#d2c0b7" d="M286 46.2l-1.2-.1l-3.4 2.2l1.3 0z"/>
<path fill="#063669" d="M305.6 91l.9-1.8l-1.1-.1z"/>
<path fill="#063369" d="M305.7 91l.1-1.9l-1.1 .2z"/>
<path fill="#063669" d="M305.5 91l1.1-1.7l-1.1-.2z"/>
<path fill="#063369" d="M305.7 91l-.2-1.8l-1.1 .3z"/>
<path fill="#063669" d="M305.5 91l1.3-1.5l-1.1-.3z"/>
<path fill="#0f4278" d="M305.6 90l-.8-3.3l-1.1 .4l.9 3.3z"/>
<path fill="#063366" d="M305.7 90.9l-.4-1.8l-1 .4z"/>
<path fill="#063369" d="M305.5 90.9l1.5-1.4l-1-.4z"/>
<path fill="#0f427b" d="M306.6 90.3l1-3.3l-1.1-.4l-.8 3.3z"/>
<path fill="#063366" d="M305.7 90.9l-.6-1.7l-1 .5z"/>
<path fill="#cccccc" d="M337.2 51l5.5-.9l-4.3-3.3l-5 1.3z"/>
<path fill="#063366" d="M305.5 90.9l1.6-1.2l-1-.5z"/>
<path fill="#c38d78" d="M296.7 40l-.9 2.2l-5 1.2l1.2-2.3z"/>
<path fill="#1e60a5" d="M306.2 87.5l.1-4.6l-1.4 0l.1 4.6z"/>
<path fill="#063363" d="M305.7 90.9l-.8-1.7l-.9 .6z"/>
<path fill="#1e60a2" d="M305.9 87.5l-.1-4.6l-1.4 .1l.3 4.6z"/>
<path fill="#063366" d="M305.5 90.9l1.7-1.1l-.8-.6z"/>
<path fill="#1e60a5" d="M306.6 87.6l.3-4.6l-1.4-.1l-.1 4.6z"/>
<path fill="#0f3f75" d="M305.4 90l-.9-3.3l-1.1 .5l1.1 3.2z"/>
<path fill="#063063" d="M305.7 90.9l-1-1.7l-.7 .8z"/>
<path fill="#0f4278" d="M306.7 90.5l1.1-3.2l-1-.5l-1 3.3z"/>
<path fill="#063363" d="M305.5 90.9l1.7-.9l-.6-.8z"/>
<path fill="#1e60a2" d="M305.6 87.5l-.3-4.6l-1.4 .2l.5 4.5zM306.9 87.7l.5-4.5l-1.4-.2l-.3 4.6z"/>
<path fill="#063060" d="M305.7 90.9l-1.2-1.7l-.4 1z"/>
<path fill="#063063" d="M305.5 90.9l1.6-.7l-.4-1z"/>
<path fill="#06305d" d="M305.7 90.8l-1.5-1.7l0 1.2z"/>
<path fill="#ba7b60" d="M300.7 38.2l-.5 2.3l-5 .8l.8-2.3z"/>
<path fill="#0c3f72" d="M305.3 90l-1.1-3.3l-1 .7l1.2 3.2z"/>
<path fill="#063060" d="M305.5 90.8l1.5-.5l0-1.3z"/>
<path fill="#1e5d9f" d="M305.3 87.5l-.5-4.5l-1.3 .3l.7 4.5z"/>
<path fill="#0f3f75" d="M306.7 90.6l1.2-3.2l-.9-.7l-1.1 3.3z"/>
<path fill="#1e60a2" d="M307.1 87.8l.7-4.5l-1.3-.3l-.5 4.5z"/>
<path fill="#062d5d" d="M305.6 90.8l-1.6-1.4l.2 1.1z"/>
<path fill="#bd8a75" d="M319.8 41.2l1.3 2.3l-5-1.3l-1-2.2z"/>
<path fill="#063060" d="M305.6 90.8l1.3-.4l.2-1z"/>
<path fill="#062d5a" d="M305.6 90.8l-1.3-1l.1 .7z"/>
<path fill="#06305d" d="M305.6 90.8l1.2-.2l.1-.7z"/>
<path fill="#cfbdb4" d="M329 48.4l1.3 0l-3.3-2.2l-1.2 0z"/>
<path fill="#0c3c6f" d="M305.2 90l-1.3-3.2l-.8 .9l1.3 3.1z"/>
<path fill="#062d5a" d="M305.6 90.8l-1-.7l-.1 .5z"/>
<path fill="#b77860" d="M315.8 38.9l.9 2.3l-4.9-.8l-.6-2.3z"/>
<path fill="#062d5d" d="M305.6 90.8l1.1-.1l-.1-.5z"/>
<path fill="#1b5d9c" d="M305 87.5l-.7-4.5l-1.3 .4l.9 4.4z"/>
<path fill="#0f3f75" d="M306.7 90.8l1.4-3.2l-.8-.9l-1.3 3.3z"/>
<path fill="#062d57" d="M305.6 90.8l-.9-.6l.4-.3z"/>
<path fill="#1e5d9f" d="M307.4 87.9l.9-4.4l-1.3-.5l-.7 4.5z"/>
<path fill="#062d5a" d="M305.6 90.8l.5-.8l.5 .3z"/>
<path fill="#c9a28d" d="M292.4 42.1l-1.1 1.9l-4.5 1.3l1.2-1.9z"/>
<path fill="#062d57" d="M305.7 90.8l-1-.6l.6-.2z"/>
<path fill="#062d5a" d="M305.5 90.8l.4-.8l.7 .2z"/>
<path fill="#062a57" d="M305.7 90.9l-1.2-.7l.8-.2z"/>
<path fill="#062d57" d="M305.5 90.9l.3-.9l.9 .1z"/>
<path fill="#062a57" d="M305.8 91l-1.4-.9l1.1-.1zM305.4 91l.2-1l1.2 0z"/>
<path fill="#0c3c6c" d="M305.1 89.9l-1.4-3.4l-.6 1.3l1.5 3.2z"/>
<path fill="#062a54" d="M305.9 91.3l-1.6-1.4l1.5 .1z"/>
<path fill="#062a57" d="M305.3 91.4l0-1.3l1.5-.1zM305.6 91.6l-.8-1.6l1.3 0z"/>
<path fill="#0c3c72" d="M306.5 91.2l1.5-3.3l-.5-1.3l-1.5 3.3z"/>
<path fill="#1b5a99" d="M304.7 87.6l-.9-4.5l-1.2 .6l1 4.4z"/>
<path fill="#1e5d9c" d="M307.5 88.1l1-4.4l-1.2-.6l-.9 4.5z"/>
<path fill="#3681ba" d="M306.3 83.9l.1-5.4l-1.6 0l.1 5.4z"/>
<path fill="#d2bdae" d="M286.8 45.6l-.7 1l-3.6 1.3l.9-1z"/>
<path fill="#337eb7" d="M305.8 83.8l-.1-5.4l-1.6 .1l.3 5.3z"/>
<path fill="#3681ba" d="M306.8 84l.3-5.3l-1.6-.1l-.1 5.4z"/>
<path fill="#0c3969" d="M305.1 89.9l-1.6-2.7l-.3 .9l1.6 2.7z"/>
<path fill="#0c3c6f" d="M306.4 90.7l1.6-2.6l-.3-.8l-1.6 2.6z"/>
<path fill="#337eb7" d="M305.4 83.8l-.3-5.3l-1.6 .2l.5 5.3z"/>
<path fill="#c69f8a" d="M323.7 43.6l1.2 1.9l-4.4-1.3l-1.1-1.9z"/>
<path fill="#ae6651" d="M308.2 36.6l.2 2.3l-4.9 0l.1-2.3z"/>
<path fill="#3381ba" d="M307.3 84.1l.5-5.3l-1.6-.2l-.3 5.3z"/>
<path fill="#1b5796" d="M304.5 87.6l-1-4.4l-1.1 .8l1.1 4.4z"/>
<path fill="#1b5a99" d="M307.7 88.4l1.1-4.4l-1-.8l-1 4.5z"/>
<path fill="#0c3969" d="M305 89.9l-1.4-2l-.3 .4l1.4 2z"/>
<path fill="#0c396c" d="M306.5 90.2l1.4-1.8l-.3-.4l-1.4 1.9z"/>
<path fill="#cfccc9" d="M281.7 48.1l-4.3-.5l-3.9 3l4.6 .2z"/>
<path fill="#337bb4" d="M304.9 83.9l-.5-5.3l-1.5 .4l.7 5.3z"/>
<path fill="#ae6651" d="M304.6 36.6l-.1 2.3l-4.9 .4l.5-2.3z"/>
<path fill="#337eb7" d="M307.7 84.2l.7-5.3l-1.5-.4l-.5 5.3z"/>
<path fill="#0c3969" d="M304.3 90.4l-.8-2.6l.7 .2l.7 2.5z"/>
<path fill="#ae6651" d="M311.8 36.9l.5 2.3l-4.8-.4l-.2-2.3z"/>
<path fill="#0c3969" d="M306.2 90.6l.7-2.6l.7-.2l-.8 2.6z"/>
<path fill="#1b5490" d="M304.3 87.7l-1.2-4.5l-.9 1l1.2 4.4z"/>
<path fill="#cfb7ab" d="M328.4 47l.8 1l-3.4-1.3l-.7-1z"/>
<path fill="#1b5796" d="M307.7 88.7l1.3-4.4l-.9-1.1l-1.2 4.5z"/>
<path fill="#337bb1" d="M304.4 83.9l-.7-5.3l-1.4 .5l.8 5.2z"/>
<path fill="#0c3969" d="M304.3 90.5l-1-2.8l1 .4l.9 2.8z"/>
<path fill="#337eb4" d="M308.1 84.4l.9-5.2l-1.4-.5l-.7 5.3z"/>
<path fill="#0c3969" d="M305.9 90.9l.9-2.8l1-.4l-1 2.8z"/>
<path fill="#bd7e63" d="M297.1 38.6l-.8 2.4l-4.8 1.2l1.2-2.4z"/>
<path fill="#0c3969" d="M304.4 90.6l-1.1-2.9l1.3 .5l1.1 2.9z"/>
<path fill="#1b548d" d="M304.2 87.7l-1.4-4.4l-.7 1.2l1.4 4.4z"/>
<path fill="#0c3969" d="M305.6 91.2l1.1-3l1.3-.5l-1.2 3z"/>
<path fill="#1b5793" d="M307.6 88.8l1.4-4.3l-.6-1.1l-1.4 4.3z"/>
<path fill="#3078ae" d="M304 84l-.8-5.3l-1.3 .6l1 5.2z"/>
<path fill="#0c3969" d="M304.5 90.7l-1.1-2.9l1.4 .5l.9 2.9zM305.5 91.1l.9-2.8l1.4-.5l-1.1 2.9z"/>
<path fill="#5da5cc" d="M306.4 79.4l.1-5.8l-1.8 0l.1 5.8z"/>
<path fill="#337bb1" d="M308.4 84.6l1-5.2l-1.3-.7l-.9 5.3z"/>
<path fill="#cfc9c6" d="M333.6 51l4.7-.2l-3.7-3l-4.5 .5z"/>
<path fill="#5da2cc" d="M305.8 79.4l-.1-5.8l-1.8 .1l.3 5.8z"/>
<path fill="#d5b7a5" d="M287.8 44.7l-.9 1.4l-3.7 1.4l1-1.4z"/>
<path fill="#ba7b60" d="M319.1 39.8l1.2 2.5l-4.7-1.2l-.9-2.4z"/>
<path fill="#5da5cc" d="M307.1 79.5l.3-5.8l-1.8-.1l-.1 5.8z"/>
<path fill="#0c3969" d="M304.7 90.8l-.9-2.8l1.3 .3l.7 2.7zM305.4 91l.6-2.7l1.3-.3l-.9 2.8z"/>
<path fill="#c69078" d="M293.1 40.8l-1.2 2.3l-4.4 1.4l1.3-2.3z"/>
<path fill="#b16651" d="M301 36.8l-.5 2.3l-4.7 .7l.8-2.4z"/>
<path fill="#0c3969" d="M304.8 90.8l-.7-2.7l1.3 .2l.4 2.6z"/>
<path fill="#18518a" d="M304.1 87.8l-1.5-3.7l-.4 .8l1.5 3.7z"/>
<path fill="#0c3969" d="M305.3 91l.4-2.6l1.3-.2l-.6 2.7z"/>
<path fill="#5da2c9" d="M305.1 79.4l-.3-5.8l-1.7 .3l.5 5.7z"/>
<path fill="#0c3969" d="M304.9 90.9l-.4-2.6l1.3 .1l.2 2.6z"/>
<path fill="#5da2cc" d="M307.7 79.6l.5-5.7l-1.7-.3l-.3 5.8z"/>
<path fill="#0c3969" d="M305.2 91l.1-2.6l1.3-.1l-.4 2.6z"/>
<path fill="#1b548d" d="M307.5 88.4l1.5-3.5l-.4-.7l-1.5 3.6z"/>
<path fill="#0c3969" d="M305.1 90.9l-.2-2.6l1.3 0l-.1 2.6z"/>
<path fill="#ae6651" d="M315.2 37.5l.9 2.4l-4.7-.8l-.5-2.3z"/>
<path fill="#3075a8" d="M303.7 84.2l-1-5.3l-1.2 .8l1.1 5.2z"/>
<path fill="#3078ae" d="M308.6 84.9l1.1-5.2l-1.1-.9l-1 5.3z"/>
<path fill="#5a9fc6" d="M304.5 79.5l-.5-5.7l-1.6 .4l.7 5.7z"/>
<path fill="#5da2c9" d="M308.3 79.8l.7-5.7l-1.6-.4l-.5 5.7z"/>
<path fill="#c08d75" d="M322.9 42.4l1.3 2.2l-4.3-1.4l-1.2-2.3z"/>
<path fill="#18518a" d="M303.2 88.2l-.6-3.5l.5 .2l.6 3.4z"/>
<path fill="#cfb4a2" d="M327.4 46.2l1 1.4l-3.5-1.4l-.9-1.4z"/>
<path fill="#18518a" d="M307.4 88.3l.6-3.5l.6-.2l-.6 3.5z"/>
<path fill="#d2c6c0" d="M282.2 47.9l-1.8 0l-3.1 2.7l1.8-.1z"/>
<path fill="#2d72a5" d="M303.4 84.3l-1.1-5.3l-1 1.1l1.2 5.2z"/>
<path fill="#5a9cc3" d="M303.9 79.6l-.7-5.7l-1.5 .5l.8 5.7z"/>
<path fill="#3075ab" d="M308.7 85.4l1.2-5.3l-1-1.2l-1.1 5.3z"/>
<path fill="#18518a" d="M303.3 88.4l-.8-3.9l.8 .5l.8 3.8z"/>
<path fill="#5a9fc6" d="M308.8 80.1l.8-5.7l-1.5-.6l-.7 5.7z"/>
<path fill="#a85442" d="M308.1 35.3l.2 2.2l-4.7 0l.1-2.2z"/>
<path fill="#18518a" d="M307.1 88.9l.8-3.9l.9-.5l-.9 3.9z"/>
<path fill="#a85442" d="M304.6 35.3l-.1 2.2l-4.7 .3l.5-2.2z"/>
<path fill="#96c6de" d="M306.5 74.5l.1-5.9l-1.9 0l.1 5.9zM305.7 74.5l-.1-5.9l-1.9 .1l.3 5.8z"/>
<path fill="#18518a" d="M303.4 88.6l-1-4.1l1.2 .7l1 4.1z"/>
<path fill="#96c6de" d="M307.4 74.6l.3-5.8l-1.9-.2l-.1 5.9z"/>
<path fill="#a85442" d="M311.5 35.6l.6 2.2l-4.6-.4l-.2-2.2z"/>
<path fill="#cfa590" d="M288.8 43.5l-1 1.8l-3.7 1.5l1.1-1.8z"/>
<path fill="#18518a" d="M306.6 89.3l1-4.1l1.2-.7l-1.1 4.1z"/>
<path fill="#5799bd" d="M303.3 79.7l-.8-5.7l-1.4 .7l1 5.6z"/>
<path fill="#2d6f9f" d="M303.2 84.4l-1.3-5.1l-.7 1.2l1.4 5.1z"/>
<path fill="#cfc3bd" d="M332.4 50.7l1.9 .1l-3-2.7l-1.8 0z"/>
<path fill="#5a9cc3" d="M309.2 80.4l1-5.6l-1.4-.7l-.8 5.7z"/>
<path fill="#3072a5" d="M308.6 85.5l1.4-5l-.6-1.1l-1.4 5z"/>
<path fill="#93c3db" d="M304.9 74.5l-.3-5.8l-1.9 .3l.5 5.8z"/>
<path fill="#d5c3ba" d="M282.9 47.7l-1.5 .1l-2.7 2.5l1.6-.2z"/>
<path fill="#b46954" d="M297.6 37.2l-.8 2.4l-4.6 1.1l1.1-2.5z"/>
<path fill="#96c6de" d="M308.2 74.8l.5-5.8l-1.9-.3l-.3 5.8z"/>
<path fill="#18518a" d="M303.6 88.7l-1.1-4.2l1.4 .7l1 4.1zM306.3 89.4l1-4.1l1.4-.7l-1.1 4.2z"/>
<path fill="#c37e63" d="M293.8 39.3l-1.2 2.5l-4.3 1.4l1.3-2.5z"/>
<path fill="#b16651" d="M318.4 38.3l1.2 2.5l-4.5-1.1l-.9-2.4z"/>
<path fill="#90c0d8" d="M304.1 74.6l-.5-5.8l-1.8 .4l.7 5.8z"/>
<path fill="#18518a" d="M303.8 88.9l-1-4l1.4 .5l.8 3.9z"/>
<path fill="#c9a28d" d="M326.5 45.1l1.1 1.8l-3.6-1.5l-1-1.8z"/>
<path fill="#2d6c9c" d="M303.1 84.5l-1.5-4.4l-.4 .7l1.5 4.4z"/>
<path fill="#93c3db" d="M308.9 75l.7-5.8l-1.8-.4l-.5 5.8z"/>
<path fill="#5496ba" d="M302.9 79.9l-1-5.7l-1.3 .9l1.1 5.6z"/>
<path fill="#18518a" d="M306.1 89.3l.7-3.9l1.4-.5l-.9 4z"/>
<path fill="#ab5442" d="M301.3 35.5l-.5 2.2l-4.6 .7l.8-2.3z"/>
<path fill="#2d6f9f" d="M308.5 85.1l1.5-4.2l-.4-.7l-1.5 4.3z"/>
<path fill="#5799c0" d="M309.5 80.7l1.1-5.6l-1.2-.9l-1 5.7z"/>
<path fill="#18518a" d="M304.1 89l-.8-3.9l1.4 .4l.6 3.8zM305.9 89.3l.5-3.8l1.4-.3l-.7 3.9z"/>
<path fill="#bd7b63" d="M322.1 40.9l1.3 2.5l-4.2-1.4l-1.2-2.5z"/>
<path fill="#a85442" d="M314.7 36.2l.9 2.3l-4.5-.7l-.6-2.3z"/>
<path fill="#cfc0b7" d="M331.3 50.2l1.7 .2l-2.6-2.5l-1.6-.2z"/>
<path fill="#cfcccc" d="M275.2 50l-5.3-.9l-3.2 3.6l5.7 .5z"/>
<path fill="#18518a" d="M304.3 89.1l-.6-3.8l1.4 .2l.4 3.8zM305.6 89.3l.3-3.8l1.4-.2l-.5 3.8z"/>
<path fill="#90bdd2" d="M303.3 74.8l-.7-5.8l-1.7 .6l.8 5.7z"/>
<path fill="#18518a" d="M304.6 89.2l-.4-3.8l1.4 .1l.1 3.7z"/>
<path fill="#d5c0b1" d="M283.6 47.2l-1.3 .3l-2.4 2.3l1.4-.3z"/>
<path fill="#18518a" d="M305.3 89.3l.1-3.7l1.4-.1l-.3 3.8z"/>
<path fill="#93c0d8" d="M309.5 75.3l.8-5.7l-1.7-.6l-.7 5.8z"/>
<path fill="#18518a" d="M305 89.2l-.1-3.7l1.4 0l-.1 3.7z"/>
<path fill="#2d6c9c" d="M302.2 84.9l-.6-4.3l.6 .3l.6 4.2z"/>
<path fill="#b7d2e1" d="M306.7 69.6l.1-5.7l-2.1 0l.1 5.7zM305.6 69.6l-.1-5.7l-2.1 .2l.3 5.7z"/>
<path fill="#2d6c9c" d="M308.4 85.3l.6-4.3l.6-.4l-.6 4.4z"/>
<path fill="#5490b4" d="M302.5 80.1l-1.1-5.7l-1.1 1.2l1.2 5.7z"/>
<path fill="#b7d2e1" d="M307.6 69.7l.3-5.7l-2.1-.2l-.1 5.7z"/>
<path fill="#5796ba" d="M309.7 81.2l1.2-5.7l-1-1.3l-1.1 5.8z"/>
<path fill="#c9937b" d="M289.7 42.1l-1.1 2.2l-3.7 1.5l1.2-2.2z"/>
<path fill="#b4cfde" d="M304.6 69.6l-.3-5.7l-2 .3l.5 5.7z"/>
<path fill="#b7d2e1" d="M308.6 69.9l.5-5.7l-2-.3l-.3 5.7z"/>
<path fill="#a24539" d="M308 34.3l.2 2l-4.5 0l.2-2z"/>
<path fill="#8db7cf" d="M302.7 75l-.8-5.8l-1.5 .8l1 5.7z"/>
<path fill="#2d6c9c" d="M302.3 85.2l-.8-4.7l.9 .7l.8 4.7z"/>
<path fill="#90bdd5" d="M310 75.7l1-5.7l-1.5-.8l-.8 5.8z"/>
<path fill="#a24539" d="M304.7 34.2l-.2 2l-4.5 .3l.5-2z"/>
<path fill="#2d6c9c" d="M307.9 85.9l.8-4.7l1-.7l-.9 4.8z"/>
<path fill="#d2baae" d="M330.2 49.5l1.5 .4l-2.3-2.3l-1.4-.3z"/>
<path fill="#a24539" d="M311.1 34.6l.6 2l-4.5-.4l-.2-2z"/>
<path fill="#b1ccdb" d="M303.7 69.7l-.5-5.7l-1.9 .5l.7 5.6z"/>
<path fill="#518dae" d="M302.3 80.3l-1.3-5.5l-.7 1.2l1.4 5.5z"/>
<path fill="#b4cfde" d="M309.5 70.2l.7-5.6l-1.9-.5l-.5 5.7z"/>
<path fill="#cfcccc" d="M339.1 53.4l5.7-.5l-3-3.6l-5.3 .9z"/>
<path fill="#c39078" d="M325.5 43.7l1.2 2.1l-3.6-1.5l-1.1-2.1z"/>
<path fill="#ab5745" d="M298.1 35.9l-.9 2.3l-4.4 1.1l1.2-2.4z"/>
<path fill="#5493b4" d="M309.6 81.4l1.4-5.4l-.7-1.2l-1.4 5.4z"/>
<path fill="#d8baa8" d="M284.6 46.3l-.8 1.3l-2.8 1.5l.9-1.4z"/>
<path fill="#b76c54" d="M294.5 37.9l-1.2 2.6l-4.2 1.4l1.3-2.6z"/>
<path fill="#2d6c9c" d="M302.5 85.5l-1-5l1.3 .8l1 4.9zM307.4 86.3l1-5l1.3-.9l-1.1 5z"/>
<path fill="#c6d5de" d="M306.8 64.8l.1-5.5l-2.3 0l.1 5.5z"/>
<path fill="#87b4c9" d="M302.1 75.2l-1-5.8l-1.4 1l1.1 5.7z"/>
<path fill="#a85442" d="M317.7 37l1.2 2.4l-4.4-1.1l-.9-2.4z"/>
<path fill="#c6d2db" d="M305.6 64.7l-.1-5.5l-2.3 .2l.3 5.5z"/>
<path fill="#c6d5de" d="M307.9 64.9l.3-5.5l-2.3-.2l-.1 5.5z"/>
<path fill="#8dbacf" d="M310.4 76.1l1.1-5.7l-1.3-1l-1 5.8z"/>
<path fill="#aec9d8" d="M302.8 69.9l-.7-5.7l-1.8 .6l.8 5.6z"/>
<path fill="#a54539" d="M301.6 34.4l-.5 2l-4.4 .7l.9-2.1z"/>
<path fill="#d2ccc9" d="M278.9 49.9l-4.7-.1l-3 3.4l5-.3z"/>
<path fill="#b46951" d="M321.2 39.4l1.3 2.6l-4.1-1.4l-1.2-2.6z"/>
<path fill="#b4cfdb" d="M310.2 70.5l.8-5.6l-1.8-.7l-.7 5.7z"/>
<path fill="#518aae" d="M302.1 80.4l-1.5-4.8l-.4 .8l1.5 4.8z"/>
<path fill="#2d6c9c" d="M302.8 85.7l-1.1-4.9l1.5 .8l.9 4.9z"/>
<path fill="#c3d2db" d="M304.4 64.8l-.3-5.5l-2.2 .3l.5 5.4z"/>
<path fill="#2d6c9c" d="M307.1 86.4l.9-4.8l1.5-.7l-1 4.9z"/>
<path fill="#a24539" d="M314.2 35.1l1 2.1l-4.4-.7l-.6-2z"/>
<path fill="#c6d5db" d="M309 65.1l.5-5.4l-2.2-.4l-.3 5.5z"/>
<path fill="#518db1" d="M309.5 81.1l1.5-4.6l-.4-.7l-1.5 4.7z"/>
<path fill="#d2b7a5" d="M329.7 47.9l.9 1.3l-2.7-1.5l-.8-1.3z"/>
<path fill="#c68166" d="M290.6 40.6l-1.1 2.4l-3.6 1.5l1.2-2.4z"/>
<path fill="#2d6c9c" d="M303.1 85.9l-.9-4.8l1.5 .6l.7 4.7z"/>
<path fill="#84aec3" d="M301.6 75.4l-1.1-5.8l-1.1 1.3l1.2 5.7z"/>
<path fill="#2d6c9c" d="M306.7 86.4l.7-4.7l1.5-.5l-.9 4.8z"/>
<path fill="#c0cfd8" d="M303.3 64.9l-.5-5.4l-2.1 .5l.7 5.4z"/>
<path fill="#abc3d2" d="M302 70.1l-.8-5.6l-1.6 .8l1 5.6z"/>
<path fill="#8ab4cc" d="M310.6 76.7l1.2-5.8l-1.1-1.3l-1.1 5.9z"/>
<path fill="#c3d2db" d="M310 65.4l.7-5.4l-2.1-.5l-.5 5.4z"/>
<path fill="#a23933" d="M307.8 33.6l.3 1.6l-4.4 0l.2-1.6z"/>
<path fill="#d2a893" d="M285.7 45.1l-.9 1.7l-2.9 1.6l1-1.7z"/>
<path fill="#aec9d8" d="M310.8 70.9l1-5.6l-1.6-.8l-.9 5.6z"/>
<path fill="#cccfd5" d="M306.9 60.2l.1-5.2l-2.5 0l.1 5.2z"/>
<path fill="#518aae" d="M301.2 80.9l-.6-4.7l.6 .4l.6 4.7z"/>
<path fill="#2d6c9c" d="M303.5 86.1l-.7-4.7l1.6 .4l.5 4.6zM306.3 86.4l.5-4.6l1.6-.4l-.7 4.7z"/>
<path fill="#c9cfd2" d="M305.5 60.2l-.1-5.2l-2.4 .2l.3 5.2z"/>
<path fill="#cfccc6" d="M335.2 53.1l5 .3l-2.8-3.4l-4.8 .1z"/>
<path fill="#ccd2d5" d="M308.2 60.3l.3-5.2l-2.4-.2l-.1 5.2z"/>
<path fill="#518aae" d="M309.3 81.4l.6-4.8l.7-.5l-.6 4.8z"/>
<path fill="#a23936" d="M304.9 33.6l-.2 1.6l-4.4 .3l.7-1.6z"/>
<path fill="#c07e63" d="M324.5 42.2l1.2 2.4l-3.5-1.5l-1.1-2.4z"/>
<path fill="#2d6c9c" d="M303.9 86.2l-.5-4.6l1.6 .3l.3 4.6z"/>
<path fill="#a23933" d="M310.8 33.9l.8 1.6l-4.4-.3l-.3-1.6z"/>
<path fill="#2d6c9c" d="M305.8 86.4l.3-4.5l1.6-.2l-.5 4.6z"/>
<path fill="#d5c9c3" d="M279.8 49.6l-2.1 .3l-2.4 3l2.1-.4z"/>
<path fill="#c9ccd2" d="M304.2 60.2l-.3-5.2l-2.4 .4l.5 5.2z"/>
<path fill="#2d6c9c" d="M304.4 86.3l-.3-4.5l1.6 .1l.1 4.5zM305.4 86.4l.1-4.5l1.6-.1l-.3 4.5z"/>
<path fill="#a84539" d="M298.6 34.8l-.9 2.1l-4.3 1l1.3-2.2z"/>
<path fill="#2d6c9c" d="M304.9 86.4l-.1-4.5l1.6 0l-.1 4.5z"/>
<path fill="#bdccd2" d="M302.2 65.1l-.7-5.4l-1.9 .7l.8 5.4z"/>
<path fill="#c9cfd2" d="M309.5 60.6l.5-5.2l-2.4-.4l-.3 5.2z"/>
<path fill="#b15745" d="M295.2 36.5l-1.2 2.5l-4 1.3l1.3-2.5z"/>
<path fill="#81a8bd" d="M301.3 75.7l-1.3-5.6l-.8 1.3l1.4 5.6z"/>
<path fill="#cca590" d="M328.6 46.7l1 1.7l-2.7-1.5l-.9-1.6z"/>
<path fill="#c3cfd8" d="M310.9 65.8l.9-5.4l-1.9-.7l-.7 5.4z"/>
<path fill="#a5c0cc" d="M301.3 70.4l-1-5.6l-1.4 1l1.1 5.6z"/>
<path fill="#518aae" d="M301.4 81.3l-.8-5.2l1 .8l.8 5.1z"/>
<path fill="#84b1c6" d="M310.6 76.9l1.4-5.4l-.7-1.2l-1.4 5.5z"/>
<path fill="#a54539" d="M317 35.8l1.3 2.2l-4.2-1.1l-1-2.2z"/>
<path fill="#518aae" d="M308.8 82.1l.8-5.2l1.1-.8l-.9 5.2z"/>
<path fill="#abc6d5" d="M311.3 71.4l1.1-5.6l-1.4-1.1l-1 5.6z"/>
<path fill="#a53936" d="M302 33.7l-.7 1.6l-4.4 .7l1.2-1.7z"/>
<path fill="#cfcfcf" d="M307 55.9l.1-5l-2.6 0l.1 5z"/>
<path fill="#ab5745" d="M320.4 38l1.3 2.5l-3.9-1.3l-1.2-2.5z"/>
<path fill="#c6c9cf" d="M302.9 60.4l-.5-5.2l-2.3 .5l.7 5.2z"/>
<path fill="#d8c6bd" d="M280.6 49.3l-1.9 .4l-2.1 2.8l1.9-.5z"/>
<path fill="#cccccc" d="M305.4 55.8l-.1-5l-2.6 .2l.3 5z"/>
<path fill="#a23933" d="M313.6 34.4l1.2 1.7l-4.4-.7l-.8-1.7z"/>
<path fill="#cfcfcf" d="M308.5 56l.3-5l-2.6-.2l-.1 5z"/>
<path fill="#c9cfd2" d="M310.6 60.9l.7-5.2l-2.2-.6l-.5 5.2z"/>
<path fill="#d2c6c0" d="M334.1 52.8l2.2 .4l-2.3-3.1l-2.2-.4z"/>
<path fill="#cf997e" d="M286.8 43.6l-1 2l-2.9 1.6l1.1-2.1z"/>
<path fill="#bd6c57" d="M291.4 39l-1.1 2.5l-3.5 1.5l1.3-2.5z"/>
<path fill="#bac6cf" d="M301.3 65.4l-.8-5.4l-1.8 .9l1 5.3z"/>
<path fill="#518aae" d="M301.6 81.6l-1.1-5.4l1.4 .9l1 5.4z"/>
<path fill="#c9cccc" d="M303.9 55.9l-.3-5l-2.5 .4l.5 5z"/>
<path fill="#518aae" d="M308.2 82.6l1-5.4l1.4-1l-1.1 5.4z"/>
<path fill="#81a8bd" d="M301.1 76l-1.5-4.9l-.4 .9l1.5 4.8z"/>
<path fill="#bdccd5" d="M311.7 66.3l1-5.3l-1.7-.9l-.9 5.4z"/>
<path fill="#cccccc" d="M309.9 56.3l.5-5l-2.5-.4l-.3 5z"/>
<path fill="#ab3333" d="M307.5 33.5l1 1l-5 0l.7-1z"/>
<path fill="#a2bac6" d="M300.8 70.7l-1.1-5.7l-1.2 1.3l1.2 5.6z"/>
<path fill="#81abc0" d="M310.5 76.7l1.5-4.7l-.4-.8l-1.5 4.8z"/>
<path fill="#ab3333" d="M305.3 33.4l-.7 1.1l-3.9-.1l.7-.7z"/>
<path fill="#c0c6c9" d="M301.7 60.6l-.7-5.2l-2.1 .7l.8 5.1z"/>
<path fill="#f3d2c0" d="M307.1 51.7l.1-4.9l-2.8 0l.1 4.9z"/>
<path fill="#b76954" d="M323.6 40.6l1.2 2.5l-3.4-1.5l-1.1-2.4z"/>
<path fill="#dbc3b4" d="M281.4 48.7l-1.7 .6l-1.8 2.6l1.7-.7z"/>
<path fill="#ab3333" d="M310.3 33.7l.7 .7l-3.7 .1l-.9-1z"/>
<path fill="#a8c0cf" d="M311.6 72l1.2-5.6l-1.1-1.4l-1.1 5.7z"/>
<path fill="#d2c3b7" d="M332.9 52.2l2 .6l-2-2.9l-2-.5z"/>
<path fill="#c6cccf" d="M311.6 61.4l.9-5.1l-2-.8l-.7 5.2z"/>
<path fill="#f0d2c0" d="M305.4 51.7l-.1-4.9l-2.8 .2l.3 4.9z"/>
<path fill="#c9937b" d="M327.5 45.3l1 2l-2.7-1.6l-1-2z"/>
<path fill="#f3d2c0" d="M308.7 51.9l.3-4.9l-2.8-.2l-.1 4.9z"/>
<path fill="#518aae" d="M301.9 81.9l-1-5.3l1.6 .8l.9 5.3z"/>
<path fill="#c9c9c9" d="M302.5 56.1l-.5-5l-2.4 .6l.7 5z"/>
<path fill="#518aae" d="M307.8 82.6l.9-5.2l1.6-.8l-1 5.3z"/>
<path fill="#a83936" d="M299.2 34.1l-1.1 1.7l-3.9 .8l1.2-1.6z"/>
<path fill="#cccccc" d="M311.2 56.7l.7-5l-2.4-.6l-.5 5z"/>
<path fill="#ab483c" d="M295.8 35.5l-1.2 2.2l-3.8 1.2l1.3-2.1z"/>
<path fill="#b4c0c9" d="M300.5 65.8l-1-5.4l-1.5 1.1l1.1 5.3z"/>
<path fill="#f0cfbd" d="M303.7 51.8l-.3-4.9l-2.7 .4l.5 4.8z"/>
<path fill="#81a8bd" d="M300.2 76.5l-.6-4.8l.7 .5l.6 4.8z"/>
<path fill="#ae3336" d="M302 34l-.6 .7l-3.3 .1l.7-.7z"/>
<path fill="#a53936" d="M316.3 35l1.2 1.6l-3.8-.8l-1.1-1.7z"/>
<path fill="#f0d2c0" d="M310.3 52.2l.5-4.8l-2.7-.4l-.3 4.9z"/>
<path fill="#518aae" d="M302.4 82.2l-.9-5.2l1.6 .6l.7 5.1z"/>
<path fill="#bac9cf" d="M312.2 66.8l1.1-5.3l-1.5-1.1l-1 5.4z"/>
<path fill="#81a8bd" d="M310.2 77.1l.6-4.9l.7-.6l-.6 4.9z"/>
<path fill="#f3ae8d" d="M307.2 47.8l.1-4.7l-3 0l.1 4.7z"/>
<path fill="#ab3333" d="M313 34.2l.7 .7l-3.3-.1l-.6-.7z"/>
<path fill="#518aae" d="M307.3 82.7l.7-5.1l1.6-.6l-.9 5.2z"/>
<path fill="#d5bdb1" d="M331.7 51.4l1.8 .7l-1.7-2.6l-1.8-.7z"/>
<path fill="#9cb4c0" d="M300.4 71l-1.3-5.5l-.8 1.4l1.4 5.4z"/>
<path fill="#a84539" d="M319.5 36.7l1.3 2.1l-3.7-1.1l-1.2-2.1z"/>
<path fill="#debdae" d="M282.3 48l-1.5 .7l-1.5 2.4l1.6-.8z"/>
<path fill="#f0ab8d" d="M305.3 47.7l-.1-4.7l-3 .2l.3 4.7z"/>
<path fill="#bdc3c6" d="M300.6 61l-.8-5.1l-1.9 .9l1 5.1z"/>
<path fill="#cc8769" d="M287.8 42l-1 2.2l-2.8 1.6l1.1-2.3z"/>
<path fill="#f3ae8d" d="M309 47.9l.3-4.7l-2.9-.2l-.1 4.7z"/>
<path fill="#c03639" d="M307.5 34.9l.3-1.4l-4 0l.2 1.5z"/>
<path fill="#a2bdc9" d="M311.6 72.3l1.4-5.3l-.7-1.3l-1.4 5.4z"/>
<path fill="#c3c9cc" d="M312.5 61.9l1-5.1l-1.8-1l-.9 5.1z"/>
<path fill="#c3c3c3" d="M301.1 56.4l-.7-5l-2.2 .8l.8 4.9z"/>
<path fill="#518aae" d="M302.9 82.4l-.7-5.1l1.7 .4l.5 5z"/>
<path fill="#b45a48" d="M292.2 37.6l-1.1 2.4l-3.4 1.4l1.2-2.4z"/>
<path fill="#c03639" d="M305 34.9l-.2-1.4l-4 .3l.8 1.4z"/>
<path fill="#518aae" d="M306.7 82.8l.5-5l1.7-.4l-.7 5.1z"/>
<path fill="#eaccba" d="M302.1 52l-.5-4.8l-2.6 .6l.7 4.8z"/>
<path fill="#c03639" d="M310.1 35.2l.8-1.4l-4-.3l-.3 1.4z"/>
<path fill="#c9c9c9" d="M312.3 57.1l.9-4.9l-2.2-.8l-.7 5z"/>
<path fill="#f0ab8d" d="M303.4 47.8l-.3-4.7l-2.9 .4l.5 4.6z"/>
<path fill="#f0cfbd" d="M311.8 52.6l.7-4.8l-2.5-.6l-.5 4.8z"/>
<path fill="#81a8bd" d="M300.4 76.9l-.8-5.3l1.1 .8l.8 5.2z"/>
<path fill="#518aae" d="M303.5 82.6l-.5-5l1.7 .3l.3 5z"/>
<path fill="#e48166" d="M307.3 44l.1-4.9l-3.2 0l.1 4.9z"/>
<path fill="#f0ab8d" d="M310.7 48.3l.5-4.6l-2.8-.5l-.3 4.7z"/>
<path fill="#518aae" d="M306.1 82.8l.3-5l1.7-.3l-.5 5z"/>
<path fill="#c68166" d="M326.5 43.7l1.1 2.3l-2.7-1.6l-1-2.2z"/>
<path fill="#81a8bd" d="M309.7 77.8l.8-5.3l1.1-.9l-.9 5.3z"/>
<path fill="#aebdc3" d="M299.9 66.1l-1.1-5.4l-1.2 1.4l1.2 5.3z"/>
<path fill="#ae5745" d="M322.6 39.1l1.2 2.4l-3.2-1.4l-1.1-2.3z"/>
<path fill="#e48166" d="M305.2 44l-.1-4.9l-3.2 .2l.4 4.9z"/>
<path fill="#cfcccc" d="M272.9 52.3l-5.5-.5l-1.7 3.8l5.7 .1z"/>
<path fill="#518aae" d="M304.1 82.7l-.3-5l1.8 .1l.1 4.9z"/>
<path fill="#d8baa8" d="M330.5 50.4l1.6 .9l-1.4-2.4l-1.6-.8z"/>
<path fill="#518aae" d="M305.4 82.8l.1-4.9l1.8-.1l-.3 4.9z"/>
<path fill="#e48166" d="M309.3 44.2l.4-4.9l-3.1-.2l-.1 4.9z"/>
<path fill="#518aae" d="M304.8 82.8l-.1-4.9l1.8 0l-.1 4.9z"/>
<path fill="#ae3336" d="M299 34.5l-.5 .7l-2.9 .3l.7-.7z"/>
<path fill="#cc3f3f" d="M307.5 36.8l.2-2.8l-3.6 0l.1 2.8z"/>
<path fill="#b7c3c9" d="M312.5 67.5l1.2-5.4l-1.2-1.5l-1.1 5.5z"/>
<path fill="#c03639" d="M302.6 35l-.7-1.4l-3.9 .6l1.2 1.3z"/>
<path fill="#9cb4c0" d="M300.2 71.4l-1.5-4.8l-.4 .9l1.5 4.7z"/>
<path fill="#d25a4b" d="M307.4 40l.2-4l-3.4 0l.1 4z"/>
<path fill="#d8ae99" d="M283.2 46.9l-1.4 .9l-1.3 2.1l1.5-1z"/>
<path fill="#c93f3f" d="M305.1 36.8l-.1-2.8l-3.6 .3l.4 2.7z"/>
<path fill="#c03639" d="M312.5 35.6l1.3-1.3l-3.9-.6l-.8 1.4z"/>
<path fill="#ae3336" d="M315.4 34.8l.7 .7l-2.9-.3l-.5-.6z"/>
<path fill="#a83c36" d="M296.3 35l-1 1.6l-3.4 .9l1.1-1.5z"/>
<path fill="#b7bdc0" d="M299.7 61.4l-1-5.1l-1.6 1.2l1.1 5.1z"/>
<path fill="#cc3f3f" d="M309.9 37l.5-2.7l-3.6-.3l-.2 2.8z"/>
<path fill="#d25a48" d="M305.1 39.9l-.1-4l-3.4 .2l.4 4z"/>
<path fill="#9fb7c3" d="M311.5 72.2l1.5-4.6l-.4-.8l-1.5 4.6z"/>
<path fill="#e17e63" d="M303.2 44.1l-.4-4.9l-3.1 .5l.6 4.9z"/>
<path fill="#eaa88a" d="M301.7 48.1l-.5-4.6l-2.7 .7l.7 4.6z"/>
<path fill="#d55a4b" d="M309.6 40.2l.4-4l-3.4-.3l-.2 4z"/>
<path fill="#e7c9b7" d="M300.6 52.3l-.7-4.8l-2.3 .8l.8 4.7z"/>
<path fill="#c0c0c0" d="M299.9 56.7l-.8-4.9l-2 1l1 4.9z"/>
<path fill="#bdc3c6" d="M313.1 62.5l1.1-5.1l-1.6-1.2l-1 5.1z"/>
<path fill="#e48166" d="M311.2 44.5l.6-4.9l-3-.5l-.4 4.9z"/>
<path fill="#81a8bd" d="M300.7 77.3l-1.1-5.5l1.5 1l1 5.5z"/>
<path fill="#f0ab8d" d="M312.3 48.7l.7-4.6l-2.7-.7l-.5 4.6z"/>
<path fill="#a53936" d="M318.6 35.9l1.1 1.5l-3.3-.9l-1-1.5z"/>
<path fill="#edcfbd" d="M313 53.1l.9-4.7l-2.3-.8l-.7 4.8z"/>
<path fill="#c6c6c6" d="M313.3 57.7l1-4.9l-1.9-1l-.9 4.9z"/>
<path fill="#81a8bd" d="M309 78.4l1-5.5l1.5-1l-1.1 5.5z"/>
<path fill="#c06f5a" d="M288.7 40.4l-1 2.3l-2.7 1.5l1.1-2.4z"/>
<path fill="#d2ccc9" d="M276.7 52l-4.8 .3l-1.6 3.5l5-.6z"/>
<path fill="#c93f3f" d="M302.7 36.9l-.4-2.7l-3.5 .5l.7 2.7z"/>
<path fill="#cf5748" d="M302.9 40l-.4-4l-3.3 .5l.6 4z"/>
<path fill="#d2a893" d="M329.4 49.1l1.5 1l-1.2-2.2l-1.5-1z"/>
<path fill="#ae483c" d="M293 36.5l-1.1 2l-3.1 1.2l1.2-2.1z"/>
<path fill="#cc3f3f" d="M312.1 37.4l.8-2.7l-3.4-.6l-.5 2.7z"/>
<path fill="#cfcccc" d="M339.9 55.9l5.7 0l-1.4-3.8l-5.5 .5z"/>
<path fill="#d25a48" d="M311.7 40.5l.7-4l-3.2-.5l-.4 4z"/>
<path fill="#abb7bd" d="M299.4 66.5l-1.3-5.3l-.8 1.5l1.4 5.2z"/>
<path fill="#c03639" d="M300.2 35.3l-1.2-1.3l-3.7 .9l1.6 1.2z"/>
<path fill="#9cb4c0" d="M299.3 72l-.6-4.7l.7 .6l.6 4.6z"/>
<path fill="#de7e63" d="M301.3 44.3l-.6-4.9l-2.9 .7l.8 4.8z"/>
<path fill="#ba6c57" d="M325.4 42.1l1.1 2.3l-2.6-1.5l-1-2.3z"/>
<path fill="#81a8bd" d="M301.1 77.7l-1-5.4l1.7 .9l.9 5.4z"/>
<path fill="#b1bdc6" d="M312.5 67.9l1.4-5.1l-.7-1.4l-1.4 5.1z"/>
<path fill="#d59c81" d="M284.4 45.4l-.8 1.8l-2 1.5l.9-1.9z"/>
<path fill="#81a8bd" d="M308.4 78.5l.9-5.3l1.7-.8l-1 5.4z"/>
<path fill="#9cb4c0" d="M311.2 72.6l.6-4.7l.8-.7l-.6 4.8z"/>
<path fill="#c03639" d="M314.7 36.2l1.7-1.1l-3.7-.9l-1.3 1.2z"/>
<path fill="#e17e66" d="M312.9 45l.9-4.8l-2.8-.7l-.6 4.9z"/>
<path fill="#a8483c" d="M321.6 37.9l1.2 2l-3-1.2l-1.1-2z"/>
<path fill="#e7a587" d="M300 48.4l-.7-4.6l-2.5 .9l.9 4.5z"/>
<path fill="#b4b7ba" d="M299 61.8l-1.1-5.2l-1.3 1.5l1.2 5.1z"/>
<path fill="#d8ccc3" d="M277.9 51.5l-2.3 .6l-1.5 3.4l2.3-.8z"/>
<path fill="#b13636" d="M296.3 35.2l-.8-.2l-2.3 1.3l1 .1z"/>
<path fill="#e1c6b4" d="M299.2 52.7l-.9-4.8l-2.1 1l1 4.7z"/>
<path fill="#eda88a" d="M313.7 49.3l.9-4.5l-2.4-.9l-.7 4.6z"/>
<path fill="#bababa" d="M298.9 57.2l-1-4.9l-1.7 1.2l1.1 4.8z"/>
<path fill="#bac0c3" d="M313.5 63.3l1.2-5.1l-1.2-1.5l-1.1 5.2z"/>
<path fill="#d2ccc9" d="M336 55.4l4.9 .7l-1.3-3.5l-4.8-.3z"/>
<path fill="#cf5748" d="M300.8 40.3l-.6-4l-3.1 .7l.9 3.9z"/>
<path fill="#c63f3f" d="M300.4 37.2l-.7-2.7l-3.3 .8l1 2.6z"/>
<path fill="#e7c9b7" d="M314.1 53.8l1-4.7l-2-1.1l-.9 4.8z"/>
<path fill="#81a8bd" d="M301.7 78l-.9-5.3l1.8 .6l.7 5.2z"/>
<path fill="#ae3336" d="M317.4 36.5l1-.1l-2.2-1.3l-.9 .2z"/>
<path fill="#c0c0c0" d="M314 58.4l1.1-4.9l-1.6-1.3l-1 4.9z"/>
<path fill="#d25748" d="M313.6 41.1l.9-3.9l-3-.8l-.7 4z"/>
<path fill="#81a8bd" d="M307.8 78.6l.7-5.2l1.8-.6l-.9 5.2z"/>
<path fill="#cc967e" d="M328.9 47l.8 1.8l-1.8-1.5l-.8-1.7z"/>
<path fill="#c93f3f" d="M314.2 38l1-2.6l-3.2-.8l-.8 2.7z"/>
<path fill="#dbc9c0" d="M279 50.9l-2.2 .9l-1.3 3.2l2.2-1z"/>
<path fill="#b75d48" d="M289.7 39l-1 2.2l-2.6 1.4l1.1-2.3z"/>
<path fill="#9cb4c0" d="M299.4 72.5l-.8-5.1l1.1 .9l.8 5.1z"/>
<path fill="#a8b4bd" d="M299.2 66.9l-1.5-4.5l-.4 1l1.5 4.5z"/>
<path fill="#d87b60" d="M299.5 44.7l-.8-4.9l-2.6 .9l1 4.8z"/>
<path fill="#ae3c39" d="M293.6 36l-.9 1.4l-2.8 .9l1-1.5z"/>
<path fill="#9cb4c0" d="M310.6 73.4l.8-5.1l1.2-.9l-.9 5.2z"/>
<path fill="#81a8bd" d="M302.3 78.3l-.7-5.2l1.8 .5l.5 5.1z"/>
<path fill="#abb7c0" d="M312.4 67.8l1.5-4.3l-.4-.9l-1.5 4.4z"/>
<path fill="#d5c9c0" d="M334.8 54.9l2.3 .8l-1.3-3.4l-2.2-.6z"/>
<path fill="#81a8bd" d="M307.1 78.7l.5-5.1l1.9-.4l-.7 5.1z"/>
<path fill="#cf8a6c" d="M285.5 43.7l-.8 2l-2 1.5l.9-2.1z"/>
<path fill="#de7e63" d="M314.4 45.6l1-4.8l-2.6-1l-.9 4.9z"/>
<path fill="#c03639" d="M298 35.8l-1.6-1.1l-3.5 1.2l2 1z"/>
<path fill="#dec6b7" d="M280 50.3l-2 1.1l-1.1 3l2-1.1z"/>
<path fill="#b15a48" d="M324.3 40.5l1.1 2.2l-2.5-1.4l-1-2.2z"/>
<path fill="#e1a284" d="M298.6 48.9l-.9-4.6l-2.2 1.1l1 4.5z"/>
<path fill="#a83c36" d="M320.6 37l1 1.5l-2.7-.9l-.9-1.4z"/>
<path fill="#81a8bd" d="M303 78.5l-.5-5.1l1.9 .3l.3 5z"/>
<path fill="#aeb4b4" d="M298.5 62.3l-1.3-5l-.9 1.6l1.4 5z"/>
<path fill="#81a8bd" d="M306.3 78.8l.3-5l1.9-.3l-.5 5.1z"/>
<path fill="#d5c6ba" d="M333.6 54.3l2.3 1.1l-1.2-3.3l-2.3-1z"/>
<path fill="#c03639" d="M316.7 36.9l2-.9l-3.4-1.3l-1.6 1.1z"/>
<path fill="#e7a587" d="M314.9 50l1-4.5l-2.1-1.1l-.9 4.6z"/>
<path fill="#dbc0ae" d="M298.1 53.2l-1-4.8l-1.8 1.3l1.1 4.7z"/>
<path fill="#c95445" d="M298.8 40.8l-.9-3.9l-2.8 1l1.1 3.9z"/>
<path fill="#81a8bd" d="M303.8 78.7l-.3-5l1.9 .2l.1 5z"/>
<path fill="#b7b7b7" d="M298.1 57.7l-1.1-5l-1.4 1.5l1.2 4.9z"/>
<path fill="#81a8bd" d="M305.5 78.8l.1-5l1.9-.1l-.3 5z"/>
<path fill="#b4babd" d="M313.5 63.7l1.4-4.9l-.8-1.5l-1.4 4.9z"/>
<path fill="#81a8bd" d="M304.7 78.7l-.1-5l2 0l-.1 5z"/>
<path fill="#c33f3c" d="M298.2 37.7l-1-2.6l-3 1l1.2 2.5z"/>
<path fill="#9cb4c0" d="M299.8 73l-1.1-5.4l1.5 1.1l1 5.3z"/>
<path fill="#c98469" d="M327.8 45.3l.9 2l-1.8-1.5l-.8-2z"/>
<path fill="#e4c6b4" d="M314.9 54.5l1.1-4.7l-1.7-1.3l-1 4.8z"/>
<path fill="#cf5748" d="M315.3 41.7l1.1-3.9l-2.7-1l-.9 3.9z"/>
<path fill="#bdbdbd" d="M314.4 59.2l1.2-4.9l-1.3-1.6l-1.2 5z"/>
<path fill="#9cb4c0" d="M309.8 74.1l1-5.3l1.6-1.1l-1.1 5.4z"/>
<path fill="#e1c3b1" d="M280.9 49.4l-1.9 1.2l-.9 2.8l1.9-1.3z"/>
<path fill="#a8b4bd" d="M298.3 67.6l-.6-4.4l.7 .6l.6 4.4z"/>
<path fill="#c63f3f" d="M316 38.7l1.3-2.5l-2.9-1.1l-1 2.6z"/>
<path fill="#d8c3b4" d="M332.4 53.4l2.1 1.2l-.9-3.1l-2.1-1.2z"/>
<path fill="#b13636" d="M294.3 35.9l-1.2-.1l-2 1.5l1.3 0z"/>
<path fill="#b14b3f" d="M290.6 37.8l-1 1.9l-2.4 1.3l1.1-2z"/>
<path fill="#a8b4bd" d="M312.1 68.3l.6-4.5l.8-.7l-.6 4.5z"/>
<path fill="#d57860" d="M297.9 45.2l-1-4.8l-2.3 1.2l1.2 4.7z"/>
<path fill="#c6725a" d="M286.6 42.1l-.8 2.1l-1.9 1.5l.9-2.2z"/>
<path fill="#ae3636" d="M319.1 37.4l1.4 0l-2-1.5l-1.3 0z"/>
<path fill="#9cb4c0" d="M300.3 73.4l-1-5.3l1.8 .9l.9 5.2z"/>
<path fill="#db7b63" d="M315.7 46.4l1.2-4.7l-2.3-1.2l-1 4.8z"/>
<path fill="#ae483c" d="M323.2 39.1l1 1.9l-2.3-1.2l-.9-1.9z"/>
<path fill="#dbbdab" d="M331.2 52.3l1.9 1.4l-.8-2.8l-1.9-1.3z"/>
<path fill="#deb19c" d="M281.9 48.3l-1.8 1.4l-.7 2.5l1.8-1.5z"/>
<path fill="#9cb4c0" d="M309.1 74.3l.9-5.2l1.8-.9l-1 5.3z"/>
<path fill="#abb1b4" d="M298.2 62.7l-1.5-4.3l-.4 1.1l1.5 4.3z"/>
<path fill="#db9c81" d="M297.3 49.4l-1-4.5l-1.9 1.3l1.1 4.5z"/>
<path fill="#c03639" d="M295.9 36.4l-1.8-.9l-3 1.5l2.1 .8z"/>
<path fill="#aeb4b7" d="M313.4 63.7l1.5-4.1l-.4-1l-1.5 4.2z"/>
<path fill="#c06f57" d="M326.6 43.6l.9 2.1l-1.7-1.4l-.8-2.1z"/>
<path fill="#e4a284" d="M315.8 50.8l1.1-4.5l-1.8-1.4l-1 4.6z"/>
<path fill="#d5baab" d="M297.2 53.8l-1.1-4.8l-1.4 1.6l1.2 4.7z"/>
<path fill="#b1b1b1" d="M297.5 58.2l-1.3-4.8l-.9 1.7l1.4 4.8z"/>
<path fill="#c65445" d="M297.1 41.3l-1.1-3.9l-2.5 1.2l1.2 3.8z"/>
<path fill="#a8b4bd" d="M298.5 68.2l-.8-4.9l1.2 1l.8 4.8z"/>
<path fill="#9cb4c0" d="M300.9 73.8l-.9-5.1l1.9 .7l.7 5.1z"/>
<path fill="#b13f39" d="M291.3 37.1l-.8 1.3l-2.1 1l.9-1.4z"/>
<path fill="#c03639" d="M318.3 37.8l2.2-.7l-3-1.5l-1.9 .9z"/>
<path fill="#dec0b1" d="M315.4 55.4l1.2-4.7l-1.3-1.6l-1.2 4.8z"/>
<path fill="#b7b7b7" d="M314.5 59.8l1.4-4.7l-.8-1.6l-1.4 4.7z"/>
<path fill="#a8b4bd" d="M311.5 69.2l.8-4.9l1.2-1l-.9 4.9z"/>
<path fill="#c03c3c" d="M296.3 38.3l-1.2-2.5l-2.6 1.3l1.4 2.4z"/>
<path fill="#cc5748" d="M316.6 42.5l1.3-3.8l-2.4-1.3l-1.1 3.9z"/>
<path fill="#9cb4c0" d="M308.4 74.4l.7-5.1l1.9-.7l-.9 5.1z"/>
<path fill="#d5ab96" d="M330 50.9l1.8 1.6l-.6-2.6l-1.8-1.5z"/>
<path fill="#db9f84" d="M283 46.9l-1.7 1.6l-.6 2.3l1.7-1.6z"/>
<path fill="#bd5d4b" d="M287.6 40.5l-.8 2l-1.8 1.4l.9-2.1z"/>
<path fill="#c63f3c" d="M317.5 39.6l1.4-2.4l-2.5-1.3l-1.3 2.5z"/>
<path fill="#ab3c36" d="M322.1 38.1l.9 1.4l-2-.9l-.8-1.3z"/>
<path fill="#cf755d" d="M296.5 45.8l-1.2-4.8l-2 1.4l1.3 4.7z"/>
<path fill="#9cb4c0" d="M301.7 74.1l-.7-5l2 .5l.5 5zM307.5 74.6l.5-5l2-.5l-.7 5z"/>
<path fill="#abb1b4" d="M297.3 63.5l-.6-4.2l.7 .7l.6 4.1z"/>
<path fill="#a8b4bd" d="M298.9 68.8l-1-5.1l1.6 1.1l1 5.1z"/>
<path fill="#d57860" d="M316.7 47.2l1.3-4.7l-1.9-1.4l-1.2 4.8z"/>
<path fill="#b75a48" d="M325.5 41.9l.9 2l-1.6-1.3l-.8-2z"/>
<path fill="#abb1b4" d="M313.1 64.3l.6-4.2l.8-.8l-.6 4.3z"/>
<path fill="#b43636" d="M292.5 36.7l-1.5 .1l-1.7 1.7l1.6-.2z"/>
<path fill="#d29981" d="M328.8 49.2l1.8 1.7l-.5-2.4l-1.8-1.7z"/>
<path fill="#9cb4c0" d="M302.6 74.3l-.5-4.9l2.1 .3l.3 4.9z"/>
<path fill="#d5997e" d="M296.3 50.1l-1.2-4.6l-1.5 1.6l1.2 4.5z"/>
<path fill="#a8b4bd" d="M310.6 69.9l1-5.1l1.7-1.1l-1.1 5.1z"/>
<path fill="#cfcccc" d="M271.5 54.8l-5.6-.1l-.1 3.9l5.6-.3z"/>
<path fill="#9cb4c0" d="M306.6 74.6l.3-4.9l2.1-.3l-.5 4.9z"/>
<path fill="#aeaeae" d="M297.2 58.8l-1.5-4.1l-.4 1.2l1.5 4.1z"/>
<path fill="#d2cfcc" d="M275.4 54.2l-4.8 .6l-.1 3.5l4.8-1z"/>
<path fill="#cfb4a5" d="M296.6 54.4l-1.3-4.7l-.9 1.8l1.4 4.6z"/>
<path fill="#9cb4c0" d="M303.6 74.5l-.3-4.9l2.1 .2l.1 4.9zM305.6 74.7l.1-4.9l2.1-.2l-.3 4.9z"/>
<path fill="#de9f81" d="M316.3 51.7l1.3-4.5l-1.4-1.7l-1.2 4.6z"/>
<path fill="#d58d6f" d="M284.1 45.2l-1.7 1.7l-.5 2.2l1.7-1.8z"/>
<path fill="#9cb4c0" d="M304.6 74.6l-.1-4.9l2.1 0l-.1 4.9z"/>
<path fill="#b13636" d="M320.5 38.5l1.7 .2l-1.7-1.8l-1.6-.2z"/>
<path fill="#b1b1b1" d="M314.4 59.9l1.5-3.9l-.4-1.1l-1.5 4z"/>
<path fill="#c05142" d="M295.6 42l-1.3-3.8l-2.1 1.5l1.4 3.7z"/>
<path fill="#b74e3f" d="M288.6 39.3l-.8 1.7l-1.6 1.2l.8-1.8z"/>
<path fill="#d8bdab" d="M315.5 56.1l1.4-4.5l-.8-1.7l-1.4 4.6z"/>
<path fill="#dbccc6" d="M276.6 53.7l-2.1 .7l-.1 3.3l2.1-.9z"/>
<path fill="#bd3639" d="M294.1 37.1l-2-.7l-2.5 1.8l2.2 .5z"/>
<path fill="#a8b4bd" d="M299.5 69.2l-1.1-5.1l1.9 1l.9 5z"/>
<path fill="#c65445" d="M317.7 43.5l1.4-3.7l-2-1.5l-1.3 3.8z"/>
<path fill="#deccc0" d="M277.8 53l-2.1 1.1l-.1 3.3l2.1-1.2z"/>
<path fill="#bd3c3c" d="M294.7 39l-1.4-2.4l-2.1 1.5l1.6 2.3z"/>
<path fill="#cf876c" d="M327.6 47.5l1.7 1.9l-.4-2.3l-1.7-1.8z"/>
<path fill="#a8b4bd" d="M309.8 70.2l.9-5l1.9-1l-1 5z"/>
<path fill="#abb1b4" d="M297.5 64.2l-.8-4.6l1.2 1l.8 4.5z"/>
<path fill="#c03639" d="M319.5 38.8l2.2-.5l-2.3-1.8l-2 .7z"/>
<path fill="#b14b3c" d="M324.3 40.5l.8 1.7l-1.5-1.1l-.7-1.6z"/>
<path fill="#cfcccc" d="M339.7 58.5l5.6 .4l.1-3.9l-5.6 0z"/>
<path fill="#d2ccc9" d="M335.8 57.6l4.8 1l.1-3.5l-4.8-.6z"/>
<path fill="#abb1b4" d="M312.4 65.2l.8-4.6l1.3-1l-.9 4.6z"/>
<path fill="#e1c9bd" d="M279 52l-2.1 1.5l-.1 3.3l2.1-1.6z"/>
<path fill="#c33c3c" d="M318.7 40.5l1.6-2.3l-2-1.6l-1.4 2.4z"/>
<path fill="#c9725a" d="M295.5 46.5l-1.4-4.8l-1.5 1.7l1.4 4.7z"/>
<path fill="#cc755d" d="M285.2 43.5l-1.6 1.7l-.5 2.1l1.7-1.8z"/>
<path fill="#d8c9c3" d="M334.6 57l2.1 .9l.1-3.3l-2.1-.7z"/>
<path fill="#b43f39" d="M289.7 38.3l-1.5 .8l-1 1.8l1.6-.8z"/>
<path fill="#d2755d" d="M317.3 48.2l1.5-4.7l-1.4-1.8l-1.4 4.8z"/>
<path fill="#aeaeae" d="M296.3 59.6l-.6-4l.7 .7l.6 3.9z"/>
<path fill="#a8b4bd" d="M300.2 69.7l-.9-4.9l2 .7l.7 4.8z"/>
<path fill="#d8c9bd" d="M333.4 56.3l2.1 1.2l.1-3.2l-2.1-1.1z"/>
<path fill="#cf937b" d="M295.6 50.7l-1.3-4.5l-.9 1.8l1.4 4.5z"/>
<path fill="#e7c6b4" d="M280.2 50.8l-2.1 1.9l-.1 3.2l2.1-2z"/>
<path fill="#a8b4bd" d="M308.9 70.4l.7-4.8l2.1-.7l-.9 4.9z"/>
<path fill="#c9ae9f" d="M296.2 55l-1.5-4l-.4 1.3l1.5 3.9z"/>
<path fill="#aeaeae" d="M314.1 60.4l.6-4l.8-.8l-.6 4.1z"/>
<path fill="#c3725a" d="M326.5 45.6l1.7 1.9l-.4-2.1l-1.7-1.8z"/>
<path fill="#d8997e" d="M316.5 52.5l1.4-4.3l-.8-1.8l-1.4 4.4z"/>
<path fill="#dbc6b7" d="M332.2 55.3l2.1 1.6l.1-3.2l-2.1-1.5z"/>
<path fill="#ae3c39" d="M322.5 40l1.6 .9l-.9-1.8l-1.6-.8z"/>
<path fill="#d2b7a8" d="M315.4 56.2l1.5-3.8l-.4-1.2l-1.5 3.9z"/>
<path fill="#abb1b4" d="M298 64.8l-1-4.8l1.7 1.2l1 4.8z"/>
<path fill="#a8b4bd" d="M301.1 70l-.7-4.8l2.1 .5l.5 4.7z"/>
<path fill="#e1b49f" d="M281.2 49.5l-2 2.1l0 3l2-2.2z"/>
<path fill="#b73639" d="M291.3 37.6l-1.9 .4l-1.4 2l1.9-.5z"/>
<path fill="#abb1b4" d="M311.4 66l1-4.8l1.8-1.2l-1.1 4.9z"/>
<path fill="#bd5142" d="M294.4 42.8l-1.4-3.8l-1.6 1.8l1.5 3.7z"/>
<path fill="#a8b4bd" d="M307.9 70.5l.5-4.7l2.2-.5l-.7 4.8z"/>
<path fill="#c3604e" d="M286.4 41.8l-1.7 1.7l-.4 2l1.7-1.8z"/>
<path fill="#e1c0ae" d="M331.1 54.1l2 2.1l.1-3.3l-2.1-1.9z"/>
<path fill="#c35145" d="M318.4 44.5l1.5-3.7l-1.5-1.8l-1.4 3.8z"/>
<path fill="#b43636" d="M321.4 39.6l2 .6l-1.3-2.1l-2-.5z"/>
<path fill="#a8b4bd" d="M302.2 70.3l-.5-4.7l2.2 .4l.3 4.7z"/>
<path fill="#bd3639" d="M292.6 38l-2.1-.5l-1.8 2l2.2 .3z"/>
<path fill="#a8b4bd" d="M306.8 70.7l.3-4.7l2.2-.3l-.5 4.7z"/>
<path fill="#ba3c39" d="M293.4 39.8l-1.6-2.3l-1.6 1.8l1.7 2.2z"/>
<path fill="#bd5d4b" d="M325.3 43.9l1.7 1.9l-.3-2.1l-1.7-1.8z"/>
<path fill="#aeaeae" d="M296.6 60.4l-.8-4.4l1.3 1l.8 4.3z"/>
<path fill="#dbb199" d="M329.9 52.6l2 2.3l.2-3.1l-2-2.2z"/>
<path fill="#dea287" d="M282.3 48l-1.9 2.3l.1 2.8l1.9-2.3z"/>
<path fill="#a8b4bd" d="M303.3 70.5l-.3-4.7l2.3 .2l.1 4.6z"/>
<path fill="#c36f57" d="M294.7 47.3l-1.6-4.8l-1 2l1.6 4.7z"/>
<path fill="#a8b4bd" d="M305.6 70.7l.1-4.6l2.3-.2l-.3 4.7z"/>
<path fill="#abb1b4" d="M298.7 65.3l-1.1-4.8l2 1.1l.9 4.7z"/>
<path fill="#a8b4bd" d="M304.5 70.7l-.1-4.6l2.3 0l-.1 4.6z"/>
<path fill="#aeaeae" d="M313.3 61.5l.8-4.4l1.4-1.1l-.9 4.4z"/>
<path fill="#bd3639" d="M320.3 39.9l2.2-.3l-1.6-2l-2.1 .5z"/>
<path fill="#bd3c3c" d="M319.4 41.6l1.7-2.2l-1.5-1.8l-1.6 2.3z"/>
<path fill="#abb1b4" d="M310.5 66.3l.9-4.7l2.1-1l-1 4.8z"/>
<path fill="#ba4e42" d="M287.6 40.3l-1.7 1.5l-.5 2l1.8-1.6z"/>
<path fill="#c99075" d="M295.3 51.4l-1.5-3.8l-.4 1.4l1.5 3.7z"/>
<path fill="#c3ab9c" d="M295.3 56l-.6-3.8l.8 .8l.6 3.7z"/>
<path fill="#cc725a" d="M317.4 49.2l1.6-4.6l-.9-1.9l-1.6 4.7z"/>
<path fill="#d89f84" d="M328.7 50.9l1.9 2.5l.3-2.9l-1.9-2.4z"/>
<path fill="#ccb1a2" d="M315 56.8l.6-3.8l.9-.9l-.6 3.9z"/>
<path fill="#d2967b" d="M316.3 52.7l1.5-3.6l-.4-1.3l-1.5 3.7z"/>
<path fill="#db9072" d="M283.5 46.3l-1.9 2.4l.1 2.7l1.9-2.5z"/>
<path fill="#b44b3f" d="M324.1 42.4l1.8 1.7l-.4-2.1l-1.8-1.6z"/>
<path fill="#abb1b4" d="M299.5 65.8l-.9-4.6l2.2 .8l.7 4.6z"/>
<path fill="#b73f3c" d="M288.9 39.1l-1.9 1.3l-.6 2.1l1.9-1.3z"/>
<path fill="#abb1b4" d="M309.5 66.6l.7-4.6l2.2-.8l-.9 4.6z"/>
<path fill="#aeaeae" d="M297.1 61l-1-4.6l1.8 1.2l1 4.6z"/>
<path fill="#b74e3f" d="M293.6 43.6l-1.6-3.9l-1 2.2l1.7 3.8z"/>
<path fill="#d58d6f" d="M327.5 49.1l1.9 2.6l.3-2.8l-1.9-2.5z"/>
<path fill="#aeaeae" d="M312.2 62.3l1-4.6l1.9-1.2l-1.1 4.7z"/>
<path fill="#d27860" d="M284.6 44.5l-1.9 2.4l.2 2.6l1.8-2.5z"/>
<path fill="#b43f39" d="M322.9 41.3l1.9 1.4l-.5-2.2l-1.9-1.4z"/>
<path fill="#bd5142" d="M318.6 45.7l1.7-3.8l-.9-2.2l-1.7 3.9z"/>
<path fill="#ba3939" d="M290.4 38.4l-2.2 .9l-.9 2.4l2.2-1z"/>
<path fill="#abb1b4" d="M300.6 66.2l-.7-4.5l2.3 .6l.5 4.5z"/>
<path fill="#bda596" d="M295.6 56.8l-.8-4.2l1.3 1.1l.8 4.1z"/>
<path fill="#abb1b4" d="M308.3 66.8l.5-4.5l2.3-.6l-.7 4.5z"/>
<path fill="#bd6c54" d="M294.3 48l-1.7-4l-.4 1.6l1.7 4z"/>
<path fill="#b43939" d="M292.5 40.7l-1.8-2.3l-.9 2.1l1.8 2.2z"/>
<path fill="#c38a72" d="M294.3 52.4l-.6-3.6l.8 .8l.6 3.5z"/>
<path fill="#bd3639" d="M291.4 38.9l-2.1-.3l-1 2.1l2.1 .2z"/>
<path fill="#dbcfc9" d="M276.3 56l-2 .8l1.2 3.1l2-1z"/>
<path fill="#c6ab9c" d="M314.1 57.9l.8-4.2l1.4-1.1l-.9 4.3z"/>
<path fill="#d5cfcc" d="M275.2 56.5l-4.8 1l1.3 3.4l4.7-1.3z"/>
<path fill="#e1cfc3" d="M277.5 55.2l-2 1.2l1.1 3.1l1.9-1.3z"/>
<path fill="#c9755d" d="M326.3 47.1l1.9 2.6l.3-2.6l-1.9-2.6z"/>
<path fill="#b73639" d="M321.8 40.8l2.3 1.1l-.9-2.5l-2.3-1z"/>
<path fill="#c66f5a" d="M317.3 49.5l1.7-3.8l-.3-1.5l-1.7 3.9z"/>
<path fill="#abb1b4" d="M301.7 66.6l-.5-4.5l2.4 .4l.3 4.4z"/>
<path fill="#cc9078" d="M316 53.4l.6-3.6l.9-.9l-.6 3.7z"/>
<path fill="#e7cfc0" d="M278.6 54.2l-1.9 1.5l1.1 3l1.9-1.6z"/>
<path fill="#aeaeae" d="M297.9 61.7l-1.1-4.6l2.1 1.1l.9 4.6z"/>
<path fill="#ba3c39" d="M319.6 42.8l1.8-2.2l-.8-2.1l-1.8 2.3z"/>
<path fill="#abb1b4" d="M307 66.9l.3-4.4l2.4-.4l-.5 4.5z"/>
<path fill="#c6634e" d="M285.8 42.8l-1.9 2.4l.1 2.5l1.9-2.5z"/>
<path fill="#bd3639" d="M320.7 41l2.1-.2l-.8-2.1l-2.1 .3z"/>
<path fill="#aeaeae" d="M311.2 62.7l.9-4.5l2.2-1.1l-1.1 4.6z"/>
<path fill="#cfcccc" d="M271.3 57.4l-5.7 .3l1.4 3.8l5.5-.8z"/>
<path fill="#eaccb7" d="M279.8 53l-1.9 1.9l1.1 3l1.8-2z"/>
<path fill="#abb1b4" d="M303 66.8l-.3-4.4l2.4 .2l.1 4.4zM305.7 67l.1-4.4l2.5-.2l-.3 4.4zM304.3 66.9l-.1-4.4l2.5 0l-.1 4.4z"/>
<path fill="#d8ccc6" d="M333.5 59.1l1.9 1l1.4-3.1l-2-.9z"/>
<path fill="#dbccc0" d="M332.4 58.3l1.9 1.3l1.4-3l-2-1.2z"/>
<path fill="#d2cfc9" d="M334.6 59.8l4.7 1.4l1.5-3.4l-4.8-1z"/>
<path fill="#c0604b" d="M325.2 45.3l1.9 2.6l.3-2.6l-1.9-2.5z"/>
<path fill="#e7baa2" d="M280.9 51.4l-1.8 2.2l1.1 2.9l1.8-2.4z"/>
<path fill="#e1c9ba" d="M331.2 57.2l1.8 1.6l1.3-3l-1.9-1.5z"/>
<path fill="#c05142" d="M287.1 41.2l-1.9 2.2l.1 2.5l1.9-2.3z"/>
<path fill="#b79f93" d="M296.2 57.5l-1-4.4l1.9 1.2l1 4.4z"/>
<path fill="#b14b3f" d="M293.1 44.4l-1.8-3.3l-.4 1.8l1.8 3.2z"/>
<path fill="#e4c6b4" d="M330.1 55.9l1.8 2l1.3-2.9l-1.9-1.9z"/>
<path fill="#aeaeae" d="M298.8 62.2l-.9-4.5l2.3 .8l.8 4.4z"/>
<path fill="#c0a599" d="M313 58.8l1-4.4l1.9-1.3l-1.1 4.5z"/>
<path fill="#aeaeae" d="M310 63l.7-4.4l2.3-.8l-.9 4.4z"/>
<path fill="#e4a88d" d="M282.1 49.7l-1.8 2.6l1.1 2.9l1.8-2.7z"/>
<path fill="#cfcccc" d="M338.3 61l5.5 .8l1.7-3.8l-5.7-.4z"/>
<path fill="#ba4e3f" d="M318.4 46.1l1.8-3.1l-.3-1.7l-1.8 3.1z"/>
<path fill="#bd876f" d="M294.7 53.3l-.8-4l1.4 1.1l.8 3.9z"/>
<path fill="#e1b49f" d="M329 54.4l1.8 2.4l1.3-2.9l-1.8-2.2z"/>
<path fill="#b76954" d="M293.4 49.1l-.8-3.7l.8 .9l.7 3.6z"/>
<path fill="#ba4e42" d="M324 43.7l1.9 2.4l.2-2.6l-2-2.3z"/>
<path fill="#bd423c" d="M288.4 39.9l-2.1 1.9l0 2.6l2.1-2z"/>
<path fill="#c68d72" d="M315 54.5l.8-4l1.5-1.2l-.9 4z"/>
<path fill="#c06c57" d="M316.9 50.1l.8-3.7l.9-.9l-.8 3.8z"/>
<path fill="#b13936" d="M291.9 41.7l-2-2.3l-.1 2.3l2 2.2z"/>
<path fill="#e19375" d="M283.3 47.8l-1.8 2.8l1.1 2.8l1.7-2.9z"/>
<path fill="#aeaeae" d="M300 62.7l-.7-4.3l2.4 .6l.6 4.3z"/>
<path fill="#dea287" d="M327.9 52.6l1.7 2.7l1.3-2.8l-1.8-2.5z"/>
<path fill="#bd3939" d="M289.6 39.6l-2.1 1l-.1 2.4l2.1-1.2z"/>
<path fill="#aeaeae" d="M308.7 63.2l.5-4.3l2.5-.6l-.7 4.3z"/>
<path fill="#b73f3c" d="M322.8 42.5l2 2.1l.1-2.7l-2.1-2z"/>
<path fill="#bd3639" d="M290.8 40l-2.1-.2l-.1 2.2l2.1 0z"/>
<path fill="#b49c8d" d="M297 58.2l-1.1-4.5l2.3 1.2l1 4.4z"/>
<path fill="#b73939" d="M319.3 43.9l2-2.1l0-2.2l-2 2.1z"/>
<path fill="#baa293" d="M311.8 59.3l.9-4.4l2.3-1.1l-1.1 4.4z"/>
<path fill="#ba3939" d="M321.6 41.9l2.1 1.2l.1-2.4l-2.1-1z"/>
<path fill="#db9072" d="M326.7 50.6l1.7 2.9l1.2-2.8l-1.8-2.8z"/>
<path fill="#aeaeae" d="M301.3 63l-.6-4.3l2.5 .4l.3 4.2z"/>
<path fill="#d57b63" d="M284.4 45.9l-1.8 2.9l1 2.8l1.7-3z"/>
<path fill="#bd3639" d="M320.4 42.1l2.1 0l.1-2.2l-2.1 .2z"/>
<path fill="#aeaeae" d="M307.3 63.4l.3-4.2l2.6-.4l-.5 4.3zM302.7 63.3l-.3-4.2l2.6 .2l.1 4.2z"/>
<path fill="#b7846c" d="M295.3 54.1l-1-4.2l1.9 1.3l1 4.2z"/>
<path fill="#aeaeae" d="M305.8 63.5l.1-4.2l2.6-.2l-.3 4.2z"/>
<path fill="#ae483c" d="M293 45.3l-1.6-2.5l0 1.3l1.6 2.4z"/>
<path fill="#aeaeae" d="M304.2 63.4l-.1-4.2l2.6 0l-.1 4.2z"/>
<path fill="#cf7860" d="M325.6 48.6l1.7 3l1.2-2.7l-1.7-2.8z"/>
<path fill="#c0876f" d="M313.8 55.5l1-4.2l2-1.3l-1.1 4.3z"/>
<path fill="#cc6651" d="M285.6 44.1l-1.8 2.8l1 2.7l1.7-2.9z"/>
<path fill="#b46651" d="M293.7 50.1l-1-4.1l1.4 1.2l.9 4z"/>
<path fill="#ae998a" d="M298.1 58.8l-.9-4.3l2.4 .9l.8 4.2z"/>
<path fill="#b44b3f" d="M318.1 46.5l1.6-2.3l.1-1.2l-1.6 2.4z"/>
<path fill="#b49c90" d="M310.6 59.6l.7-4.2l2.5-.9l-.9 4.3z"/>
<path fill="#ba6954" d="M315.9 51.3l1-4.1l1.5-1.2l-1 4.2z"/>
<path fill="#c6634e" d="M324.5 46.7l1.7 2.9l1.2-2.6l-1.8-2.7z"/>
<path fill="#c65145" d="M286.8 42.5l-1.8 2.5l.9 2.5l1.8-2.6z"/>
<path fill="#e4d2c6" d="M278.1 57.4l-1.9 1.3l2.3 2.8l1.8-1.4z"/>
<path fill="#ead2c3" d="M279.2 56.3l-1.8 1.6l2.2 2.7l1.7-1.7z"/>
<path fill="#ae3636" d="M291.8 42.7l-1.9-1.6l.3 1.9l1.8 1.5z"/>
<path fill="#ded2c9" d="M277 58.2l-2 1l2.4 2.9l1.9-1.1z"/>
<path fill="#f0cfba" d="M280.4 55l-1.8 1.9l2.1 2.6l1.7-2.1z"/>
<path fill="#ab9687" d="M299.4 59.3l-.8-4.2l2.6 .7l.6 4.1z"/>
<path fill="#c0423f" d="M288.1 41.4l-1.9 1.9l.9 2.4l1.8-2.1z"/>
<path fill="#b48169" d="M296.2 54.9l-1.1-4.3l2.4 1.2l1 4.2z"/>
<path fill="#c05142" d="M323.3 45l1.7 2.6l1.1-2.5l-1.8-2.4z"/>
<path fill="#b1998d" d="M309.1 59.9l.5-4.1l2.6-.6l-.7 4.2z"/>
<path fill="#edbda5" d="M281.5 53.4l-1.7 2.3l2.1 2.6l1.6-2.4z"/>
<path fill="#b13936" d="M319 44.4l1.8-1.4l.4-1.8l-1.8 1.4z"/>
<path fill="#bd3639" d="M290.6 41.1l-2.1 0l.8 2.1l2.1-.1z"/>
<path fill="#c03939" d="M289.3 40.9l-2 1.1l.8 2.2l1.9-1.3z"/>
<path fill="#ba846c" d="M312.5 56.1l.9-4.2l2.4-1.2l-1.1 4.3z"/>
<path fill="#d5cfcc" d="M275.9 58.8l-4.8 1.4l2.6 3.2l4.5-1.7z"/>
<path fill="#eaab90" d="M282.6 51.6l-1.7 2.6l2 2.5l1.6-2.7z"/>
<path fill="#ba423c" d="M322.2 43.7l1.8 2l1-2.3l-1.9-1.9z"/>
<path fill="#e4ccbd" d="M329.5 59l1.7 1.7l2.4-2.7l-1.8-1.6z"/>
<path fill="#e1cfc3" d="M330.5 60.2l1.8 1.4l2.5-2.8l-1.9-1.3z"/>
<path fill="#eac9b7" d="M328.4 57.6l1.6 2.1l2.3-2.6l-1.7-1.9z"/>
<path fill="#dbcfc6" d="M331.5 61.1l1.8 1.2l2.6-2.9l-2-1z"/>
<path fill="#ab9387" d="M300.9 59.7l-.6-4.1l2.7 .4l.4 4.1z"/>
<path fill="#ae634e" d="M294.4 51l-1.2-4.3l2 1.3l1.1 4.3z"/>
<path fill="#bd3639" d="M319.7 43.2l2.1 .2l1-2.1l-2.2 0z"/>
<path fill="#a84839" d="M292.6 46.7l-1-3.1l1.4 1.1l.9 3z"/>
<path fill="#bd3939" d="M321 43.1l1.9 1.3l1-2.2l-2-1.1z"/>
<path fill="#ae968a" d="M307.5 60.1l.3-4.1l2.7-.4l-.5 4.1z"/>
<path fill="#e7b7a2" d="M327.4 56l1.6 2.4l2.3-2.5l-1.7-2.3z"/>
<path fill="#b46651" d="M314.6 52.3l1.1-4.3l2.1-1.3l-1.2 4.4z"/>
<path fill="#e79978" d="M283.7 49.7l-1.6 2.8l2 2.4l1.5-2.9z"/>
<path fill="#ae4b3c" d="M317.1 47.8l.9-3.1l1.5-1.1l-1 3.1z"/>
<path fill="#a89387" d="M302.5 60l-.3-4.1l2.8 .2l.1 4z"/>
<path fill="#ab9387" d="M305.8 60.2l.1-4l2.8-.2l-.3 4.1z"/>
<path fill="#e4a58a" d="M326.3 54.1l1.5 2.7l2.2-2.5l-1.6-2.6z"/>
<path fill="#d5cfcc" d="M332.5 61.8l4.4 1.7l2.8-3.2l-4.8-1.4z"/>
<path fill="#a89387" d="M304.1 60.1l-.1-4l2.8 0l-.1 4z"/>
<path fill="#ae7e66" d="M297.4 55.5l-1-4.1l2.6 .9l.8 4z"/>
<path fill="#cfcfcc" d="M272.1 59.9l-5.6 .8l2.9 3.6l5.3-1.2z"/>
<path fill="#db7e66" d="M284.9 47.7l-1.6 2.8l1.9 2.4l1.5-3z"/>
<path fill="#b48169" d="M311.1 56.4l.7-4l2.6-.9l-.9 4.1z"/>
<path fill="#de9375" d="M325.3 52.1l1.5 2.9l2.1-2.4l-1.6-2.8z"/>
<path fill="#a83633" d="M292.2 43.6l-1.6-1l.6 1.5l1.5 .9z"/>
<path fill="#d26954" d="M286 45.7l-1.6 2.7l1.8 2.3l1.5-2.9z"/>
<path fill="#d57b63" d="M324.2 50l1.5 2.9l2.1-2.3l-1.6-2.8z"/>
<path fill="#a8604b" d="M295.4 51.8l-1.3-4.5l2.6 1.3l1.2 4.4z"/>
<path fill="#ab7b66" d="M298.8 56.1l-.8-4l2.7 .7l.6 3.9z"/>
<path fill="#cfcccc" d="M336 63.3l5.3 1.2l3.2-3.6l-5.6-.8z"/>
<path fill="#ae3636" d="M318.4 45l1.4-.9l.6-1.4l-1.5 .9z"/>
<path fill="#c95445" d="M287.2 44.1l-1.7 2.5l1.8 2.2l1.6-2.6z"/>
<path fill="#b17e66" d="M309.5 56.8l.5-3.9l2.8-.7l-.7 4z"/>
<path fill="#ae634e" d="M313.2 53l1.1-4.3l2.6-1.3l-1.3 4.4z"/>
<path fill="#cc6651" d="M323.2 48l1.5 2.9l2-2.2l-1.6-2.7z"/>
<path fill="#a54539" d="M293.3 47.7l-1.2-3.3l2 1.2l1.1 3.3z"/>
<path fill="#bd3639" d="M290.9 42.2l-2.2 .2l1.7 2l2.1-.3z"/>
<path fill="#c3453f" d="M288.4 42.9l-1.8 2l1.7 2.1l1.7-2.1z"/>
<path fill="#c3393c" d="M289.6 42.2l-1.9 1.3l1.6 2l1.8-1.4z"/>
<path fill="#ab483c" d="M315.6 48.9l1.1-3.3l2.1-1.2l-1.2 3.3z"/>
<path fill="#c35145" d="M322.1 46.2l1.5 2.6l1.9-2.1l-1.7-2.5z"/>
<path fill="#bd3639" d="M318.6 44.2l2.1 .3l1.8-2l-2.3-.2z"/>
<path fill="#ab7863" d="M300.5 56.5l-.6-3.9l2.9 .5l.4 3.9z"/>
<path fill="#ae7b66" d="M307.7 57l.3-3.9l2.9-.4l-.5 3.9z"/>
<path fill="#bd423c" d="M321 44.9l1.6 2.1l1.8-2l-1.7-2z"/>
<path fill="#bd3939" d="M319.9 44.1l1.8 1.4l1.7-1.9l-1.9-1.3z"/>
<path fill="#a87863" d="M302.2 56.8l-.4-3.8l3 .2l.1 3.8z"/>
<path fill="#ab7b63" d="M305.9 57l.1-3.8l3-.2l-.3 3.8z"/>
<path fill="#a55d4b" d="M296.7 52.5l-1.1-4.2l2.8 1l.9 4.2z"/>
<path fill="#f3d2c0" d="M281.7 56.9l-1.6 2.1l3 2.3l1.5-2.2z"/>
<path fill="#edd5c6" d="M280.7 58.3l-1.7 1.7l3.2 2.4l1.6-1.9z"/>
<path fill="#f0c0a8" d="M282.8 55.3l-1.6 2.4l2.9 2.3l1.4-2.5z"/>
<path fill="#a87863" d="M304 57l-.1-3.8l3 0l-.1 3.8z"/>
<path fill="#e7d5c9" d="M279.7 59.4l-1.8 1.4l3.3 2.5l1.6-1.6z"/>
<path fill="#ab604b" d="M311.6 53.5l.9-4.2l2.8-1l-1.1 4.2z"/>
<path fill="#edae93" d="M283.8 53.4l-1.5 2.6l2.9 2.2l1.4-2.7z"/>
<path fill="#a53333" d="M292.3 45.3l-1-1.6l1.8 .8l.9 1.6z"/>
<path fill="#e1d2cc" d="M278.6 60.3l-1.9 1.2l3.4 2.6l1.7-1.3z"/>
<path fill="#ea9c7b" d="M284.9 51.4l-1.5 2.8l2.8 2.1l1.4-2.9z"/>
<path fill="#edccba" d="M326.1 59.2l1.5 2.2l3.2-2.3l-1.6-2.1z"/>
<path fill="#eabda5" d="M325.1 57.5l1.4 2.5l3.1-2.2l-1.6-2.4z"/>
<path fill="#9f4239" d="M294.5 48.5l-1.3-3.4l2.6 1.3l1.2 3.4z"/>
<path fill="#e7cfc0" d="M327 60.7l1.5 1.9l3.3-2.4l-1.7-1.8z"/>
<path fill="#ab3636" d="M316.9 46.1l.9-1.6l1.9-.8l-1 1.7z"/>
<path fill="#e7ab8d" d="M324.2 55.6l1.4 2.7l3-2.1l-1.5-2.6z"/>
<path fill="#e4d2c6" d="M327.9 61.9l1.6 1.6l3.4-2.5l-1.8-1.5z"/>
<path fill="#e18166" d="M286 49.3l-1.5 2.9l2.7 2l1.4-3z"/>
<path fill="#a54539" d="M313.9 49.9l1.2-3.4l2.7-1.3l-1.3 3.5z"/>
<path fill="#a25d48" d="M298.3 53.1l-.9-4.1l2.9 .7l.7 4z"/>
<path fill="#e49678" d="M323.3 53.5l1.3 2.9l2.9-2.1l-1.5-2.8z"/>
<path fill="#ded2c9" d="M328.8 62.9l1.7 1.3l3.6-2.6l-1.9-1.2z"/>
<path fill="#bd3639" d="M291.7 43.3l-2.3 .4l2.4 1.8l2.1-.5z"/>
<path fill="#d5d2cc" d="M277.6 61l-4.6 1.7l3.8 2.9l4.2-2.1z"/>
<path fill="#d56c54" d="M287.1 47.3l-1.5 2.8l2.6 2l1.4-2.9z"/>
<path fill="#a85d4b" d="M309.9 53.8l.6-4l3-.7l-.9 4.1z"/>
<path fill="#d87e63" d="M322.3 51.3l1.3 3l2.8-2l-1.5-2.9z"/>
<path fill="#cc5748" d="M288.2 45.5l-1.6 2.5l2.4 1.9l1.4-2.7z"/>
<path fill="#c33c3c" d="M290.5 43.4l-1.8 1.4l2.3 1.7l1.6-1.5z"/>
<path fill="#bd3639" d="M317 45.1l2.1 .5l2.5-1.8l-2.3-.4z"/>
<path fill="#c6453f" d="M289.3 44.2l-1.6 2.1l2.3 1.8l1.5-2.2z"/>
<path fill="#cf6951" d="M321.3 49.2l1.3 2.9l2.7-1.9l-1.5-2.8z"/>
<path fill="#a25a48" d="M300 53.6l-.7-4l3.1 .5l.4 4z"/>
<path fill="#c0393c" d="M318.3 45.1l1.6 1.6l2.4-1.7l-1.8-1.4z"/>
<path fill="#c95445" d="M320.4 47.4l1.4 2.7l2.6-1.8l-1.5-2.6z"/>
<path fill="#d5cfcc" d="M329.7 63.7l4.1 2.1l4-2.9l-4.5-1.8z"/>
<path fill="#a55d48" d="M308 54l.4-4l3.1-.5l-.6 4z"/>
<path fill="#c3453f" d="M319.4 45.9l1.5 2.2l2.5-1.8l-1.6-2.1z"/>
<path fill="#9c4236" d="M295.9 49.3l-1.3-3.4l3 1.1l1 3.3z"/>
<path fill="#a23333" d="M293.6 46.2l-1.1-1.7l2.4 .8l1 1.7z"/>
<path fill="#9f5a48" d="M301.9 53.9l-.4-4l3.2 .2l.2 3.9z"/>
<path fill="#a24539" d="M312.2 50.4l1-3.3l3-1.1l-1.2 3.4z"/>
<path fill="#a25a48" d="M306 54.1l.1-3.9l3.2-.2l-.4 4z"/>
<path fill="#a53633" d="M315 47.1l1-1.7l2.5-.9l-1.1 1.8z"/>
<path fill="#9f5a48" d="M303.9 54.1l-.2-3.9l3.2 0l-.1 3.9z"/>
<path fill="#cfcfcc" d="M274 62.4l-5.5 1.2l4.3 3.3l5-1.6z"/>
<path fill="#bd3639" d="M292.9 44.3l-2.1 .6l2.8 1.6l2-.7z"/>
<path fill="#f6c3ab" d="M284.8 56.9l-1.4 2.5l3.7 1.9l1.2-2.6z"/>
<path fill="#f3b193" d="M285.8 55l-1.4 2.7l3.6 1.9l1.2-2.8z"/>
<path fill="#f6d5c0" d="M283.9 58.6l-1.5 2.2l3.8 2l1.3-2.3z"/>
<path fill="#994236" d="M297.6 50l-1-3.2l3.2 .8l.8 3.2z"/>
<path fill="#f09f7b" d="M286.8 52.9l-1.4 2.9l3.4 1.8l1.2-3z"/>
<path fill="#f0d8c9" d="M282.9 60.1l-1.6 1.9l4 2.1l1.4-2z"/>
<path fill="#bd3639" d="M315.2 45.8l2 .8l2.9-1.5l-2.1-.6z"/>
<path fill="#9c4236" d="M310.3 50.7l.7-3.2l3.2-.8l-1 3.2z"/>
<path fill="#e48469" d="M287.7 50.7l-1.4 3l3.3 1.7l1.2-3.1z"/>
<path fill="#c63c3c" d="M291.8 44.5l-1.7 1.6l2.8 1.5l1.5-1.7z"/>
<path fill="#f0c0a8" d="M322.3 58.8l1.2 2.6l3.8-1.9l-1.4-2.5z"/>
<path fill="#cfcccc" d="M332.8 65.4l4.9 1.7l4.5-3.3l-5.4-1.3z"/>
<path fill="#edae90" d="M321.5 56.8l1.2 2.8l3.7-1.8l-1.4-2.7z"/>
<path fill="#ead5cc" d="M282 61.3l-1.7 1.6l4.1 2.2l1.4-1.7z"/>
<path fill="#d86c57" d="M288.7 48.6l-1.4 2.9l3.2 1.7l1.2-3z"/>
<path fill="#9f3333" d="M295.1 47.1l-1.2-1.8l2.9 .8l1.1 1.8z"/>
<path fill="#f3d2bd" d="M323.1 60.6l1.3 2.3l4-2l-1.5-2.2z"/>
<path fill="#ea9978" d="M320.7 54.7l1.1 3l3.5-1.8l-1.3-2.9z"/>
<path fill="#c94842" d="M290.7 45.4l-1.5 2.2l2.9 1.5l1.3-2.3z"/>
<path fill="#cf5748" d="M289.7 46.8l-1.4 2.6l3 1.6l1.2-2.7z"/>
<path fill="#c33c3c" d="M316.4 45.9l1.4 1.7l2.9-1.5l-1.6-1.6z"/>
<path fill="#de8166" d="M319.9 52.4l1.1 3.1l3.4-1.7l-1.3-3z"/>
<path fill="#edd2c3" d="M323.9 62.1l1.3 2l4.1-2l-1.5-1.9z"/>
<path fill="#a23333" d="M312.8 48l1.1-1.9l3-.8l-1.2 1.8z"/>
<path fill="#e1d5cc" d="M281 62.2l-1.8 1.3l4.3 2.2l1.5-1.5z"/>
<path fill="#d56954" d="M319 50.3l1.1 3l3.3-1.6l-1.3-2.9z"/>
<path fill="#993f36" d="M299.5 50.5l-.7-3.1l3.3 .5l.5 3.1z"/>
<path fill="#c6453f" d="M317.3 46.9l1.3 2.3l3-1.5l-1.5-2.2z"/>
<path fill="#cc5448" d="M318.2 48.4l1.2 2.7l3.1-1.6l-1.4-2.7z"/>
<path fill="#9c4236" d="M308.2 51l.4-3.1l3.3-.5l-.7 3.1z"/>
<path fill="#e4d2c9" d="M324.7 63.4l1.4 1.7l4.3-2.1l-1.6-1.6z"/>
<path fill="#963f36" d="M301.6 50.8l-.5-3.1l3.4 .3l.2 3z"/>
<path fill="#e1d2cc" d="M325.4 64.4l1.5 1.5l4.4-2.2l-1.7-1.4z"/>
<path fill="#993f36" d="M306.1 51.1l.1-3l3.4-.2l-.4 3.1z"/>
<path fill="#bd3639" d="M294.5 45.2l-1.9 .8l3.2 1.3l1.8-.9z"/>
<path fill="#993f36" d="M303.8 51l-.2-3l3.4 0l-.1 3z"/>
<path fill="#9c3330" d="M297 47.8l-1.3-1.9l3.4 .8l1.1 2z"/>
<path fill="#bd3639" d="M313.1 46.4l1.7 1l3.3-1.3l-1.9-.8z"/>
<path fill="#d8d2cf" d="M280.1 63l-4.3 2.1l4.8 2.5l3.7-2.4z"/>
<path fill="#9f3333" d="M310.5 48.6l1.1-2l3.5-.8l-1.3 1.9z"/>
<path fill="#c93c3c" d="M293.6 45.5l-1.5 1.7l3.3 1.2l1.2-1.8z"/>
<path fill="#c63c3c" d="M314.2 46.6l1.2 1.8l3.4-1.2l-1.4-1.7z"/>
<path fill="#cc4842" d="M292.6 46.4l-1.3 2.3l3.4 1.2l1.1-2.4z"/>
<path fill="#f6b496" d="M288.3 56.4l-1.2 2.8l4.2 1.5l1-2.9z"/>
<path fill="#f39f7e" d="M289.2 54.2l-1.2 3l4 1.5l1-3.1z"/>
<path fill="#d5cfcc" d="M326.1 65.3l3.6 2.4l5-2.5l-4.2-2.1z"/>
<path fill="#e78769" d="M290 52l-1.2 3.1l3.8 1.4l1-3.1z"/>
<path fill="#f9c6ae" d="M287.5 58.4l-1.2 2.6l4.3 1.6l1-2.7z"/>
<path fill="#d25a48" d="M291.8 47.9l-1.2 2.7l3.5 1.3l1-2.8z"/>
<path fill="#db6f57" d="M290.9 49.8l-1.2 3l3.7 1.4l1-3.1z"/>
<path fill="#9c3330" d="M299.1 48.3l-1.1-1.9l3.7 .6l.7 1.8z"/>
<path fill="#f9d8c3" d="M286.7 60.1l-1.3 2.3l4.5 1.6l1.1-2.4z"/>
<path fill="#c94542" d="M315 47.6l1 2.4l3.5-1.2l-1.3-2.3z"/>
<path fill="#9f3330" d="M308.4 48.8l.6-1.8l3.7-.6l-1 1.9z"/>
<path fill="#bd3639" d="M296.5 45.9l-1.7 1l3.7 1l1.4-1.1z"/>
<path fill="#ed9c7b" d="M317.7 55.7l.9 3.1l4.1-1.4l-1.1-3z"/>
<path fill="#f0b193" d="M318.3 57.9l.9 2.9l4.2-1.5l-1.2-2.8z"/>
<path fill="#e18469" d="M317 53.4l.9 3.2l3.9-1.4l-1.1-3.1z"/>
<path fill="#cf5748" d="M315.6 49.2l1 2.8l3.6-1.3l-1.2-2.7z"/>
<path fill="#d86c57" d="M316.3 51.2l.9 3.1l3.8-1.3l-1.1-3z"/>
<path fill="#f3c3ab" d="M319 60l1 2.7l4.4-1.5l-1.2-2.6z"/>
<path fill="#f3d8c9" d="M285.9 61.7l-1.4 2l4.7 1.7l1.1-2.1z"/>
<path fill="#bd3639" d="M310.9 46.8l1.3 1.1l3.7-1l-1.7-1z"/>
<path fill="#f6d5c0" d="M319.6 61.8l1 2.4l4.6-1.6l-1.3-2.3z"/>
<path fill="#9c3030" d="M301.4 48.7l-.7-1.8l3.7 .3l.3 1.8z"/>
<path fill="#9c3330" d="M306.1 49l.2-1.8l3.7-.3l-.6 1.8z"/>
<path fill="#ead8cc" d="M285 62.9l-1.5 1.7l4.8 1.8l1.2-1.8z"/>
<path fill="#9c3030" d="M303.7 48.9l-.3-1.8l3.7 0l-.2 1.7z"/>
<path fill="#f0d5c6" d="M320.2 63.4l1.1 2.1l4.8-1.7l-1.3-2z"/>
<path fill="#c93c3c" d="M295.7 46.3l-1.2 1.8l3.6 .9l.9-1.9z"/>
<path fill="#c63c3c" d="M311.7 47.1l.9 1.9l3.7-.9l-1.2-1.9z"/>
<path fill="#bd3639" d="M298.7 46.5l-1.5 1.2l4 .6l.9-1.3z"/>
<path fill="#e7d5cc" d="M320.8 64.7l1.2 1.8l5-1.7l-1.4-1.8z"/>
<path fill="#e4d5cf" d="M284.2 63.9l-1.6 1.5l5 1.8l1.3-1.6z"/>
<path fill="#cf4842" d="M294.9 47.3l-1.1 2.4l3.8 .9l.8-2.5z"/>
<path fill="#cfcfcc" d="M276.9 64.6l-5.1 1.7l5.5 2.9l4.4-2z"/>
<path fill="#bd3639" d="M308.6 47.1l.8 1.3l4-.6l-1.4-1.2z"/>
<path fill="#d55a4b" d="M294.2 48.9l-1 2.8l3.9 1l.7-2.9z"/>
<path fill="#cc4842" d="M312.3 48.2l.7 2.5l3.8-.9l-1-2.4z"/>
<path fill="#de6f57" d="M293.5 50.8l-1 3.1l4.1 1l.7-3.1z"/>
<path fill="#ea876c" d="M292.8 53l-1 3.1l4.3 1.1l.7-3.2z"/>
<path fill="#f6a27e" d="M292.1 55.3l-1 3.1l4.4 1.1l.7-3.1z"/>
<path fill="#e1d5cc" d="M321.5 65.8l1.2 1.6l5.2-1.8l-1.5-1.5z"/>
<path fill="#bd3639" d="M301.2 46.9l-1 1.3l4 .3l.4-1.3z"/>
<path fill="#d25748" d="M312.8 49.8l.7 2.9l4-1l-1-2.8z"/>
<path fill="#f9b799" d="M291.4 57.6l-1 2.9l4.6 1.2l.7-3z"/>
<path fill="#bd3639" d="M306.2 47.2l.2 1.3l4-.3l-.8-1.3z"/>
<path fill="#db6f57" d="M313.3 51.9l.7 3.1l4.2-1l-.9-3.1z"/>
<path fill="#c93c3c" d="M298.1 46.9l-.9 1.9l3.9 .6l.6-2z"/>
<path fill="#e78769" d="M313.8 54.1l.7 3.2l4.3-1l-.9-3.2z"/>
<path fill="#fcc9b1" d="M290.7 59.6l-1 2.7l4.8 1.2l.8-2.7z"/>
<path fill="#f39f7e" d="M314.2 56.5l.7 3.1l4.5-1.1l-.9-3.1z"/>
<path fill="#bd3639" d="M303.7 47.2l-.4 1.4l4 0l-.2-1.4z"/>
<path fill="#cfcfcc" d="M328.7 67.3l4.3 2.1l5.7-2.8l-5-1.7z"/>
<path fill="#c93c3c" d="M309.1 47.5l.5 2l3.9-.6l-.9-1.9z"/>
<path fill="#f6b496" d="M314.7 58.7l.7 3l4.7-1.1l-.9-2.9z"/>
<path fill="#fcdbc6" d="M290.1 61.4l-1.1 2.4l5 1.3l.8-2.5z"/>
<path fill="#f6c6ae" d="M315.2 60.8l.7 2.7l4.9-1.2l-1-2.7z"/>
<path fill="#cf4842" d="M297.5 48l-.8 2.5l4 .6l.5-2.5z"/>
<path fill="#d8d2cf" d="M283.4 64.8l-3.8 2.5l5.7 2.1l3.1-2.7z"/>
<path fill="#c93c3f" d="M300.7 47.4l-.6 2l4 .3l.2-2z"/>
<path fill="#cf4842" d="M309.4 48.6l.4 2.5l4.1-.6l-.7-2.5z"/>
<path fill="#f9d8c3" d="M315.7 62.7l.7 2.5l5.1-1.2l-1-2.4z"/>
<path fill="#f6dbcc" d="M289.4 63l-1.1 2.1l5.2 1.3l.8-2.2z"/>
<path fill="#c93c3c" d="M306.3 47.7l.2 2l4-.3l-.5-2z"/>
<path fill="#d85a4b" d="M297 49.6l-.7 2.9l4.2 .7l.5-2.9z"/>
<path fill="#c93c3f" d="M303.5 47.6l-.2 2l4.1 0l-.2-2z"/>
<path fill="#d55a4b" d="M309.7 50.3l.4 2.9l4.2-.6l-.7-2.9z"/>
<path fill="#e16f5a" d="M296.5 51.6l-.7 3.1l4.4 .7l.5-3.2z"/>
<path fill="#f3d8c9" d="M316.1 64.3l.8 2.2l5.3-1.3l-1.1-2.1z"/>
<path fill="#ea8a6c" d="M295.9 53.9l-.7 3.2l4.6 .7l.4-3.3z"/>
<path fill="#d8d2cf" d="M322 66.7l3 2.7l5.8-2l-3.7-2.5z"/>
<path fill="#de6f57" d="M310 52.3l.4 3.2l4.4-.7l-.7-3.1z"/>
<path fill="#f6a281" d="M295.4 56.2l-.7 3.1l4.8 .8l.5-3.2z"/>
<path fill="#cf4842" d="M300.4 48.5l-.5 2.5l4.2 .3l.2-2.6z"/>
<path fill="#eddbcf" d="M288.7 64.3l-1.2 1.9l5.4 1.4l.9-1.9z"/>
<path fill="#ea876c" d="M310.3 54.6l.4 3.3l4.6-.7l-.7-3.2z"/>
<path fill="#cf4842" d="M306.4 48.8l.1 2.6l4.2-.3l-.4-2.5z"/>
<path fill="#f9b799" d="M294.9 58.5l-.7 3l5 .8l.5-3z"/>
<path fill="#f6a27e" d="M310.6 57l.4 3.2l4.8-.7l-.7-3.2z"/>
<path fill="#cf4842" d="M303.4 48.8l-.2 2.6l4.3 0l-.1-2.6z"/>
<path fill="#d85a4b" d="M300 50.1l-.5 2.9l4.4 .3l.2-3z"/>
<path fill="#f9b799" d="M310.9 59.3l.4 3l5-.8l-.7-3z"/>
<path fill="#ead8cc" d="M316.6 65.6l.8 1.9l5.5-1.3l-1.2-1.9z"/>
<path fill="#fcc9b1" d="M294.4 60.6l-.8 2.7l5.2 .8l.5-2.8z"/>
<path fill="#d85a4b" d="M306.5 50.5l.1 3l4.4-.3l-.4-2.9z"/>
<path fill="#e16f5a" d="M299.7 52.2l-.5 3.2l4.6 .4l.2-3.2z"/>
<path fill="#e4d8cf" d="M288.1 65.4l-1.3 1.6l5.6 1.4l1-1.7z"/>
<path fill="#f9c9b1" d="M311.1 61.4l.4 2.8l5.2-.8l-.7-2.7z"/>
<path fill="#d85a4b" d="M303.2 50.4l-.2 3l4.5 0l-.1-3z"/>
<path fill="#e16f5a" d="M306.6 52.5l.1 3.2l4.6-.3l-.4-3.2z"/>
<path fill="#ed8a6c" d="M299.4 54.5l-.4 3.3l4.8 .4l.2-3.3z"/>
<path fill="#ffdbc6" d="M293.9 62.4l-.8 2.5l5.4 .9l.5-2.5z"/>
<path fill="#ea876c" d="M306.7 54.8l.1 3.3l4.8-.3l-.4-3.3z"/>
<path fill="#e16f5a" d="M303.1 52.5l-.2 3.2l4.7 0l-.1-3.2z"/>
<path fill="#f9a281" d="M299 56.8l-.5 3.2l5 .4l.2-3.2z"/>
<path fill="#f6a281" d="M306.7 57.2l.1 3.2l5-.4l-.4-3.2z"/>
<path fill="#e4d5cf" d="M317 66.8l.9 1.7l5.7-1.4l-1.3-1.7z"/>
<path fill="#fcd8c6" d="M311.4 63.3l.4 2.5l5.4-.8l-.7-2.5z"/>
<path fill="#ed8a6c" d="M303 54.8l-.2 3.3l4.9 0l-.1-3.3z"/>
<path fill="#fcb799" d="M298.7 59.1l-.5 3l5.2 .4l.2-3z"/>
<path fill="#f9b799" d="M306.8 59.5l.1 3l5.2-.4l-.4-3z"/>
<path fill="#f9a281" d="M302.9 57.2l-.2 3.2l5.1 0l-.1-3.2z"/>
<path fill="#f6dbcc" d="M293.4 64l-.8 2.2l5.6 .9l.5-2.2z"/>
<path fill="#fcccb1" d="M298.4 61.3l-.5 2.8l5.4 .4l.2-2.8z"/>
<path fill="#fcb799" d="M302.7 59.5l-.2 3l5.3 0l-.1-3z"/>
<path fill="#f3dbcc" d="M311.7 64.9l.5 2.3l5.6-.9l-.8-2.2z"/>
<path fill="#fcc9b1" d="M306.9 61.7l.1 2.8l5.4-.4l-.4-2.8z"/>
<path fill="#fcccb1" d="M302.6 61.6l-.2 2.8l5.5 0l-.1-2.8z"/>
<path fill="#ffdbc6" d="M298.1 63.1l-.5 2.5l5.6 .4l.2-2.5z"/>
<path fill="#eddbcf" d="M292.9 65.4l-.9 2l5.8 .9l.6-2z"/>
<path fill="#ffdbc6" d="M307 63.6l.1 2.5l5.6-.4l-.4-2.5z"/>
<path fill="#cfcfcc" d="M280.6 66.6l-4.5 2.1l6.4 2.4l3.7-2.4z"/>
<path fill="#edd8cf" d="M312 66.3l.5 2l5.9-.9l-.9-2z"/>
<path fill="#d8d2cf" d="M287.4 66.2l-3.1 2.8l6.3 1.6l2.3-3z"/>
<path fill="#ffdbc6" d="M302.5 63.5l-.2 2.5l5.7 0l-.1-2.5z"/>
<path fill="#f6dbcc" d="M297.8 64.8l-.5 2.3l5.8 .5l.2-2.3zM307.1 65.2l.1 2.3l5.9-.4l-.5-2.3z"/>
<path fill="#e4d8cf" d="M292.4 66.5l-1 1.8l6 1l.6-1.8z"/>
<path fill="#d8d2cf" d="M317.4 67.7l2.2 3l6.4-1.5l-3-2.8z"/>
<path fill="#cfcfcc" d="M324.1 68.8l3.6 2.4l6.5-2.3l-4.4-2.1z"/>
<path fill="#f6dbcc" d="M302.4 65.2l-.2 2.3l5.9 0l-.1-2.3z"/>
<path fill="#e4d8cf" d="M312.2 67.4l.6 1.8l6.1-.9l-.9-1.8z"/>
<path fill="#eddbcf" d="M297.5 66.1l-.6 2l6.1 .5l.2-2zM307.1 66.6l.1 2.1l6.1-.4l-.5-2zM302.3 66.6l-.2 2.1l6.1 0l-.2-2.1z"/>
<path fill="#e7d8d2" d="M297.2 67.3l-.6 1.8l6.3 .5l.2-1.9z"/>
<path fill="#e4d8cf" d="M307.2 67.8l.2 1.9l6.3-.5l-.6-1.8z"/>
<path fill="#e7d8d2" d="M302.2 67.7l-.2 1.9l6.4 0l-.2-1.9z"/>
<path fill="#d8d2cf" d="M292 67.4l-2.4 3l6.7 1.1l1.5-3.1zM312.5 68.4l1.3 3.2l6.8-1l-2.2-3z"/>
<path fill="#cfcfcc" d="M285.1 68.3l-3.8 2.4l7.2 1.8l2.8-2.7z"/>
<path fill="#d8d2cf" d="M296.9 68.2l-1.5 3.2l7 .6l.6-3.2z"/>
<path fill="#cfcfcc" d="M318.9 69.9l2.7 2.7l7.3-1.8l-3.7-2.5z"/>
<path fill="#d8d2cf" d="M307.3 68.7l.4 3.2l7-.5l-1.3-3.2zM302 68.7l-.6 3.2l7.1 0l-.4-3.2z"/>
<path fill="#cfcfcc" d="M290.3 69.6l-2.9 2.7l7.6 1.2l1.8-2.9zM313.3 70.7l1.6 2.9l7.7-1.2l-2.7-2.8z"/>
<path fill="#cfcfcf" d="M295.8 70.5l-1.8 2.9l7.9 .6l.7-3z"/>
<path fill="#cfcfcc" d="M307.6 71.1l.5 3l7.9-.6l-1.6-3z"/>
<path fill="#cfcfcf" d="M301.7 71l-.7 3l8 0l-.5-3z"/>
<polygon points="252.9,64.8 323.9,79.3 358.4,48.8 343.1,56.6 343.1,57.2 343.0,57.8 342.9,58.3 342.7,58.9 342.5,59.4 342.3,60.0 342.0,60.5 341.7,61.1 341.3,61.6 340.9,62.1 340.4,62.7 339.9,63.2 339.3,63.7 338.7,64.2 338.1,64.7 337.4,65.2 336.7,65.6 336.0,66.1 335.2,66.5 334.4,67.0 333.5,67.4 332.6,67.8 331.7,68.2 330.7,68.6 329.7,69.0 328.7,69.3 327.7,69.7 326.6,70.0 325.5,70.3 324.4,70.6 323.3,70.9 322.1,71.1 320.9,71.4 319.7,71.6 318.5,71.8 317.2,72.0 316.0,72.2 314.7,72.3 313.4,72.5 312.2,72.6 310.9,72.7 309.6,72.7 308.3,72.8 307.0,72.8 305.7,72.8 304.3,72.8 303.0,72.8 301.7,72.8 300.4,72.7 299.1,72.6 297.9,72.5 296.6,72.4 295.3,72.3 294.1,72.1 292.8,71.9 291.6,71.7 290.4,71.5 289.2,71.3 288.0,71.0 286.9,70.8 285.8,70.5 284.7,70.2 283.6,69.9 282.6,69.5 281.5,69.2 280.6,68.8 279.6,68.5 278.7,68.1 277.8,67.7 276.9,67.2 276.1,66.8 275.3,66.4 274.5,65.9 273.8,65.4 273.2,65.0 272.5,64.5 271.9,64.0 271.4,63.5 270.9,63.0 270.4,62.4 270.0,61.9 269.6,61.4 269.2,60.8 268.9,60.3 268.7,59.7 268.5,59.2 268.3,58.6 268.2,58.1 268.1,57.5 268.1,57.0" fill="#cdcdcd"/>
<polygon points="431.1,63.2 502.1,77.6 534.5,46.9 463.5,32.5" fill="#cdcdcd"/>
<path fill="#c6c0bd" d="M487 38.7l1.4-1.3l-7.9-.2l.6 1.4z"/>
<path fill="#c9c0bd" d="M481.9 38.5l-.6-1.4l-7.2 .6l1.6 1z"/>
<path fill="#c6c0bd" d="M492.3 39.2l1.8-.9l-6.9-.9l-1.5 1.3z"/>
<path fill="#c9c0bd" d="M476.6 38.5l-1.7-1l-6.6 1.2l2.1 .8zM497.4 40l2.4-.7l-6.4-1.4l-1.9 .9z"/>
<path fill="#c9c3bd" d="M471.1 39l-2.2-.8l-6.1 1.6l2.8 .7z"/>
<path fill="#c0aea5" d="M487 37.4l.4 1.3l-6.6-.1l.1-1.3z"/>
<path fill="#c0b1a5" d="M481.8 37.2l-.1 1.3l-6.6 .3l.6-1.3z"/>
<path fill="#c0aea5" d="M492.2 37.8l.9 1.4l-6.6-.6l-.4-1.3z"/>
<path fill="#c9c0bd" d="M502.2 41.2l3.1-.5l-5.9-1.8l-2.5 .7z"/>
<path fill="#c3b1a5" d="M476.8 37.4l-.7 1.4l-6.6 .8l1.1-1.4z"/>
<path fill="#c0a89c" d="M486.9 36.7l.3 1.6l-6.4-.1l.1-1.6z"/>
<path fill="#c0ab9c" d="M481.9 36.6l-.1 1.6l-6.3 .3l.5-1.6z"/>
<path fill="#c3b1a5" d="M497.2 38.7l1.1 1.3l-6.3-.9l-.9-1.4z"/>
<path fill="#c0a89c" d="M492 37.2l.6 1.6l-6.3-.6l-.3-1.6z"/>
<path fill="#c9c3c0" d="M466.1 39.9l-2.9-.6l-5.6 2l3.4 .4z"/>
<path fill="#c3ab9c" d="M476.8 36.7l-.5 1.6l-6.3 .8l.8-1.7z"/>
<path fill="#bd9c8d" d="M486.8 35.8l.2 1.8l-6.2-.1l.1-1.8z"/>
<path fill="#c3b1a8" d="M471.7 38l-1 1.4l-6 1l1-1.3z"/>
<path fill="#bd9f8d" d="M481.9 35.6l-.1 1.8l-6.2 .3l.4-1.8z"/>
<path fill="#c0ab9c" d="M496.8 38l1 1.7l-6.2-1l-.7-1.7z"/>
<path fill="#bd9c8d" d="M491.7 36.2l.5 1.9l-6.1-.5l-.2-1.8z"/>
<path fill="#c9c3bd" d="M506.5 42.7l3.7-.3l-5.3-2.2l-3.2 .5z"/>
<path fill="#c3b1a5" d="M501.9 39.8l1 1.2l-5.7-1.1l-.9-1.3z"/>
<path fill="#c09f8d" d="M477 35.8l-.4 1.9l-6 .7l.7-1.9z"/>
<path fill="#c6ae9f" d="M472 37.3l-.9 1.7l-6.1 1.2l1.2-1.8z"/>
<path fill="#ba907b" d="M486.7 34.7l.2 2l-6-.1l.1-2z"/>
<path fill="#bd9f8d" d="M496.4 37l.9 1.9l-6-1l-.5-1.9z"/>
<path fill="#ba907b" d="M481.9 34.5l-.1 2l-6 .3l.4-2zM491.5 35.1l.5 2l-5.9-.5l-.2-2z"/>
<path fill="#c3ab9c" d="M501.3 39.1l1.1 1.7l-5.8-1.3l-1.1-1.8z"/>
<path fill="#c6b4a8" d="M466.6 39.2l-.9 1.2l-5.3 1.2l.9-1.2z"/>
<path fill="#bd907b" d="M477.2 34.7l-.4 2l-5.9 .7l.6-2.1z"/>
<path fill="#c3a290" d="M472.3 36.3l-.7 1.9l-5.9 1.2l1-2z"/>
<path fill="#ccc3c0" d="M461.5 41.2l-3.6-.4l-5 2.4l4 .2z"/>
<path fill="#b78169" d="M486.6 33.5l.2 2.1l-5.8-.1l.1-2.1z"/>
<path fill="#ba907b" d="M496 35.9l.8 2.1l-5.8-.9l-.5-2.1z"/>
<path fill="#b78169" d="M482 33.4l-.1 2.1l-5.8 .3l.4-2.1z"/>
<path fill="#c6aea2" d="M467.3 38.2l-1 1.7l-5.5 1.4l1.1-1.6z"/>
<path fill="#c09f8d" d="M500.8 38.1l1.2 2.1l-5.8-1.4l-.9-2z"/>
<path fill="#c6b1a8" d="M506.1 41.3l.9 1.2l-5-1.3l-.8-1.2z"/>
<path fill="#b78169" d="M491.2 33.9l.5 2.1l-5.8-.5l-.2-2.1z"/>
<path fill="#bddbea" d="M485.3 62l.2-3.1l-3.9-.1l.1 3.1z"/>
<path fill="#bdd8ea" d="M482.5 61.9l-.1-3.1l-3.9 .2l.3 3.1z"/>
<path fill="#bd937e" d="M472.6 35.2l-.7 2.1l-5.7 1.1l.9-2.2z"/>
<path fill="#ba846c" d="M477.4 33.6l-.4 2.1l-5.7 .7l.6-2.1z"/>
<path fill="#bddbea" d="M488 62.3l.4-3.1l-3.9-.3l-.2 3.1z"/>
<path fill="#c6d8e4" d="M485.4 59.8l.1-4.7l-4.1-.1l.1 4.8z"/>
<path fill="#c9c3c0" d="M510.2 44.4l4.3 0l-4.7-2.6l-3.9 .2z"/>
<path fill="#c6d8e4" d="M482.4 59.7l-.1-4.8l-4 .2l.2 4.7z"/>
<path fill="#aeccde" d="M485.1 62.4l.4-1.2l-3.9-.1l.2 1.3zM482.6 62.3l-.2-1.2l-4 .2l.7 1.2z"/>
<path fill="#bad8e7" d="M479.7 62l-.3-3.1l-3.8 .5l.5 3.1z"/>
<path fill="#c6d8e4" d="M488.3 60.1l.3-4.7l-4-.4l-.1 4.7z"/>
<path fill="#aeccde" d="M487.5 62.6l.9-1.2l-4-.4l-.4 1.2z"/>
<path fill="#c6ae9f" d="M505.4 40.5l1.1 1.6l-5.1-1.5l-1-1.6z"/>
<path fill="#ba8169" d="M495.6 34.7l.8 2.2l-5.6-.9l-.5-2.1z"/>
<path fill="#b7755d" d="M486.5 32.4l.2 2l-5.7-.1l.1-2z"/>
<path fill="#c6a293" d="M467.9 37.1l-1.1 2.1l-5.5 1.5l1.2-2z"/>
<path fill="#bdd8ea" d="M490.6 62.8l.6-3.1l-3.7-.6l-.4 3.1z"/>
<path fill="#c3d8e1" d="M479.5 59.8l-.2-4.7l-3.9 .5l.4 4.7z"/>
<path fill="#b7755d" d="M482 32.3l-.1 2l-5.7 .3l.4-2z"/>
<path fill="#bd907b" d="M500.3 36.9l1.1 2.2l-5.6-1.4l-.8-2.2z"/>
<path fill="#aecfde" d="M480.2 62.4l-.7-1.2l-4 .5l1.2 1.1z"/>
<path fill="#b7755d" d="M490.9 32.8l.5 2l-5.6-.5l-.2-2z"/>
<path fill="#c9b7ab" d="M462 40.6l-.8 1.1l-4.6 1.4l.9-1.1z"/>
<path fill="#c9d2d8" d="M485.5 56l.1-5.8l-4.2-.1l.1 5.8z"/>
<path fill="#c6d8e4" d="M491.1 60.6l.5-4.7l-3.9-.6l-.3 4.7z"/>
<path fill="#aeccde" d="M490 63l1.4-1.1l-4-.6l-.9 1.1z"/>
<path fill="#c6d2d8" d="M482.4 55.9l-.1-5.8l-4.2 .2l.2 5.8z"/>
<path fill="#bad5e7" d="M477 62.3l-.5-3.1l-3.6 .7l.7 3z"/>
<path fill="#c9d2d8" d="M488.6 56.3l.3-5.8l-4.1-.4l-.1 5.8z"/>
<path fill="#bd846c" d="M472.9 34l-.6 2.2l-5.5 1.1l.9-2.2z"/>
<path fill="#9cb4c0" d="M485 60.1l.2 2.3l-3.6-.1l.1-2.3z"/>
<path fill="#b7755d" d="M477.6 32.5l-.4 2l-5.6 .7l.7-2.1z"/>
<path fill="#aecfde" d="M477.8 62.6l-1.2-1.1l-3.8 .8l1.5 1z"/>
<path fill="#9cb4c0" d="M482.6 60l-.1 2.3l-3.6 .2l.3-2.3z"/>
<path fill="#c3d5e1" d="M476.7 60.2l-.4-4.7l-3.7 .7l.6 4.7z"/>
<path fill="#bad8e7" d="M493 63.4l.8-3l-3.5-.9l-.6 3.1z"/>
<path fill="#c6cfd5" d="M479.3 56l-.2-5.8l-4.1 .5l.4 5.8z"/>
<path fill="#c3a290" d="M504.8 39.5l1.2 2l-5.2-1.6l-1.1-2z"/>
<path fill="#9cb4c0" d="M487.4 60.3l.4 2.3l-3.6-.3l-.2-2.3z"/>
<path fill="#c0937e" d="M468.3 36l-1 2.2l-5.4 1.6l1.2-2.3z"/>
<path fill="#9cb4c0" d="M480.2 60.1l-.3 2.3l-3.5 .4l.6-2.4z"/>
<path fill="#aecfde" d="M492.2 63.6l1.5-.9l-3.6-1l-1.4 1z"/>
<path fill="#b46954" d="M486.4 31.6l.2 1.7l-5.6-.1l.1-1.7z"/>
<path fill="#b7755d" d="M495.2 33.5l.8 2.1l-5.5-.9l-.5-2.1z"/>
<path fill="#c6d2d8" d="M491.5 56.8l.5-5.8l-4-.7l-.3 5.8z"/>
<path fill="#ccb1a2" d="M462.8 39.6l-1 1.6l-4.7 1.6l1-1.6z"/>
<path fill="#c3d8e1" d="M493.7 61.3l.7-4.7l-3.6-.9l-.5 4.7z"/>
<path fill="#b76c54" d="M482.1 31.5l-.1 1.7l-5.5 .3l.4-1.7z"/>
<path fill="#ba846c" d="M499.7 35.7l1 2.3l-5.4-1.3l-.8-2.2z"/>
<path fill="#ccc6c3" d="M457.6 42.7l-4.2-.1l-4.3 2.7l4.6-.2z"/>
<path fill="#9cb4c0" d="M489.8 60.7l.7 2.4l-3.5-.6l-.4-2.4z"/>
<path fill="#cccccf" d="M485.6 51l.1-6.2l-4.4-.1l.1 6.2z"/>
<path fill="#b7d2e4" d="M474.5 62.8l-.7-3l-3.4 1l.9 3z"/>
<path fill="#b46954" d="M490.6 32l.6 1.8l-5.5-.5l-.2-1.7z"/>
<path fill="#cccccf" d="M482.3 50.9l-.1-6.2l-4.3 .2l.2 6.2z"/>
<path fill="#c6b4ab" d="M509.7 43l.8 1.1l-4.2-1.5l-.7-1.1z"/>
<path fill="#c3cfd2" d="M476.3 56.3l-.4-5.8l-3.9 .8l.6 5.8z"/>
<path fill="#cccccf" d="M488.8 51.4l.3-6.2l-4.3-.4l-.1 6.2z"/>
<path fill="#aecfde" d="M475.6 62.9l-1.5-.9l-3.4 1.1l1.6 .8z"/>
<path fill="#9cb4c0" d="M477.8 60.3l-.6 2.4l-3.5 .7l.8-2.4z"/>
<path fill="#c0d2db" d="M474 60.6l-.6-4.7l-3.5 1l.8 4.7z"/>
<path fill="#ba785d" d="M473.3 32.9l-.7 2.1l-5.4 1.1l.9-2.1z"/>
<path fill="#b76c54" d="M477.8 31.6l-.4 1.7l-5.5 .7l.8-1.8z"/>
<path fill="#b7d5e4" d="M495.2 64.2l1-3l-3.2-1.1l-.8 3z"/>
<path fill="#c9cccc" d="M479.1 51.1l-.2-6.2l-4.2 .5l.4 6.2z"/>
<path fill="#bd937e" d="M504.1 38.3l1.2 2.3l-5.1-1.7l-1.1-2.3z"/>
<path fill="#c6cfd5" d="M494.2 57.5l.7-5.8l-3.8-.9l-.5 5.8z"/>
<path fill="#9cb4c0" d="M491.9 61.3l.9 2.5l-3.4-.8l-.7-2.4z"/>
<path fill="#c9a593" d="M463.5 38.4l-1 2l-4.8 1.7l1.1-1.9z"/>
<path fill="#aecfde" d="M494.3 64.3l1.7-.7l-3.2-1.3l-1.7 .8z"/>
<path fill="#c06954" d="M486.2 31.3l.5 1.2l-5.6-.1l.2-1.2z"/>
<path fill="#c0876f" d="M468.8 34.8l-.9 2.3l-5.2 1.5l1.2-2.4z"/>
<path fill="#c9cccf" d="M491.9 51.9l.5-6.2l-4.1-.7l-.3 6.2z"/>
<path fill="#b76c54" d="M494.7 32.7l.9 1.8l-5.4-.9l-.6-1.8z"/>
<path fill="#c9aea2" d="M509 42.2l1 1.5l-4.4-1.7l-.9-1.5z"/>
<path fill="#c06954" d="M482.2 31.2l-.2 1.2l-5.6 .3l.8-1.2z"/>
<path fill="#a8b7c0" d="M484.9 57.2l.2 3.8l-3.4-.1l.1-3.8z"/>
<path fill="#c3d5de" d="M496 62.1l.8-4.6l-3.3-1.2l-.7 4.7z"/>
<path fill="#a8b7c0" d="M482.6 57.1l-.1 3.8l-3.4 .2l.3-3.8z"/>
<path fill="#ead2c3" d="M485.7 45.7l.1-5.8l-4.5-.1l.1 5.8z"/>
<path fill="#b7755d" d="M499.2 34.5l1.1 2.2l-5.3-1.3l-.8-2.2z"/>
<path fill="#a8b7c0" d="M487.2 57.4l.4 3.8l-3.4-.3l-.2-3.8z"/>
<path fill="#c06954" d="M490.3 31.7l1.1 1.3l-5.6-.5l-.5-1.2z"/>
<path fill="#eacfc0" d="M482.3 45.6l-.1-5.8l-4.5 .2l.2 5.8z"/>
<path fill="#9cb4c0" d="M475.7 60.7l-.9 2.5l-3.3 1l1.1-2.6z"/>
<path fill="#b4cfde" d="M472.2 63.4l-.9-3l-3 1.2l1 2.9z"/>
<path fill="#c0cccf" d="M473.5 56.9l-.6-5.8l-3.6 1l.7 5.8z"/>
<path fill="#ead2c3" d="M489.1 46.1l.3-5.8l-4.5-.4l-.1 5.8z"/>
<path fill="#a8b7c0" d="M480.3 57.2l-.3 3.8l-3.3 .4l.5-3.8z"/>
<path fill="#ccc3c0" d="M513.2 46.4l4.8 .4l-3.9-2.9l-4.5-.1z"/>
<path fill="#c6c9c9" d="M475.9 51.4l-.4-6.2l-4 .8l.6 6.1z"/>
<path fill="#aecfde" d="M473.4 63.4l-1.8-.8l-3 1.4l1.7 .6z"/>
<path fill="#c06954" d="M478.3 31.3l-.8 1.3l-5.3 .5l1-1.1z"/>
<path fill="#ba6c57" d="M473.7 32.1l-.8 1.8l-5.3 1.1l1.1-1.9z"/>
<path fill="#a8b7c0" d="M489.4 57.8l.6 3.9l-3.3-.5l-.4-3.8z"/>
<path fill="#e7cfc0" d="M478.9 45.8l-.2-5.8l-4.4 .5l.4 5.8z"/>
<path fill="#de755d" d="M486.1 32.6l.3-1.3l-5.3-.1l.1 1.3z"/>
<path fill="#ccbaae" d="M457.8 42.3l-.7 1l-3.8 1.6l.8-1.1z"/>
<path fill="#9cb4c0" d="M493.9 62l1.2 2.6l-3.3-1.1l-1-2.6z"/>
<path fill="#bd846c" d="M503.4 37l1.2 2.4l-5-1.7l-1.1-2.4z"/>
<path fill="#bdcfd8" d="M471.5 61.3l-.8-4.7l-3.2 1.3l.9 4.6z"/>
<path fill="#de755d" d="M482.2 32.5l-.1-1.3l-5.3 .3l.6 1.3z"/>
<path fill="#c69681" d="M464.2 37.2l-1.1 2.2l-4.7 1.7l1.2-2.2z"/>
<path fill="#c9cccc" d="M494.8 52.6l.7-6.1l-3.9-1l-.5 6.2z"/>
<path fill="#f3b193" d="M485.9 40.8l.1-4.9l-4.7-.1l.1 4.9z"/>
<path fill="#c6a593" d="M508.2 41.1l1.1 1.9l-4.4-1.8l-1-1.9z"/>
<path fill="#b7d2e1" d="M497.1 65.1l1.1-2.9l-2.9-1.4l-1 3z"/>
<path fill="#c3ccd2" d="M496.7 58.4l.8-5.7l-3.5-1.2l-.7 5.8z"/>
<path fill="#a8b7c0" d="M478.1 57.4l-.5 3.8l-3.2 .6l.7-3.9z"/>
<path fill="#c06954" d="M494.2 32.3l.9 1.1l-5.1-.6l-.9-1.2z"/>
<path fill="#f0b193" d="M482.3 40.7l-.1-4.9l-4.7 .2l.2 4.9z"/>
<path fill="#de755d" d="M490 33l.8-1.3l-5.3-.5l-.3 1.3z"/>
<path fill="#eacfc0" d="M492.3 46.6l.5-5.8l-4.3-.7l-.3 5.8z"/>
<path fill="#bd7860" d="M469.3 33.6l-1 2.2l-5.1 1.5l1.2-2.3z"/>
<path fill="#aecfde" d="M496 65.2l1.8-.6l-2.9-1.5l-1.8 .7z"/>
<path fill="#f3b193" d="M489.4 41.2l.3-4.9l-4.6-.4l-.1 4.9z"/>
<path fill="#ea8166" d="M486.1 34.1l.2-2.3l-5-.1l.1 2.4z"/>
<path fill="#063369" d="M482.8 91.2l.5-1.2l-1 0zM482.8 91.2l.4-1.3l-1 0z"/>
<path fill="#093c72" d="M483.3 90.9l.1-2.3l-1.1 0l0 2.3z"/>
<path fill="#063369" d="M482.8 91.2l.7-1.2l-1-.1z"/>
<path fill="#093c6f" d="M483.2 90.9l0-2.3l-1.1 .1l.1 2.3z"/>
<path fill="#063366" d="M482.8 91.2l.3-1.3l-1 .1z"/>
<path fill="#063369" d="M482.8 91.2l.8-1.1l-1-.2z"/>
<path fill="#093c72" d="M483.3 90.9l.2-2.3l-1.1-.1l-.1 2.3z"/>
<path fill="#b76c54" d="M498.6 33.6l1.2 1.9l-5.2-1.2l-.9-1.9z"/>
<path fill="#063366" d="M482.8 91.2l.1-1.3l-1 .2z"/>
<path fill="#09396f" d="M483.2 90.8l-.1-2.3l-1.1 .1l.3 2.3z"/>
<path fill="#063366" d="M482.7 91.2l.9-1l-1-.2zM482.9 91.2l0-1.3l-1 .3z"/>
<path fill="#093c6f" d="M483.4 91l.3-2.3l-1-.2l-.2 2.3z"/>
<path fill="#063366" d="M482.7 91.2l1-.9l-1-.3z"/>
<path fill="#063363" d="M482.9 91.2l-.1-1.3l-.9 .4z"/>
<path fill="#09396f" d="M483.1 90.8l-.3-2.3l-1 .2l.4 2.3z"/>
<path fill="#063366" d="M482.7 91.2l1.1-.8l-.9-.4z"/>
<path fill="#063063" d="M482.9 91.1l-.2-1.3l-.9 .5z"/>
<path fill="#09396f" d="M483.4 91l.4-2.3l-1-.3l-.3 2.3z"/>
<path fill="#063363" d="M482.7 91.1l1.1-.7l-.8-.5z"/>
<path fill="#ed9372" d="M486 36.8l.2-3.7l-4.9-.1l.1 3.7z"/>
<path fill="#063060" d="M482.9 91.1l-.3-1.3l-.8 .6z"/>
<path fill="#09396c" d="M483.1 90.8l-.4-2.3l-1 .3l.5 2.3z"/>
<path fill="#063063" d="M482.7 91.1l1.1-.6l-.7-.7z"/>
<path fill="#a8b7c0" d="M491.4 58.3l.7 3.9l-3.2-.8l-.6-3.9z"/>
<path fill="#09396f" d="M483.4 91.1l.5-2.3l-1-.3l-.4 2.3z"/>
<path fill="#063060" d="M482.9 91.1l-.5-1.3l-.6 .7z"/>
<path fill="#ea8166" d="M482.2 34l-.1-2.4l-5 .2l.3 2.3z"/>
<path fill="#063060" d="M482.7 91.1l1.1-.5l-.5-.8z"/>
<path fill="#06305d" d="M482.8 91.1l-.6-1.3l-.4 .9z"/>
<path fill="#09396c" d="M483 90.7l-.5-2.3l-1 .4l.5 2.3z"/>
<path fill="#063060" d="M482.8 91.1l1-.3l-.3-1.1z"/>
<path fill="#9cb4c0" d="M473.7 61.1l-1.1 2.6l-3.1 1.2l1.2-2.6z"/>
<path fill="#09396c" d="M483.5 91.1l.6-2.3l-.9-.4l-.5 2.3z"/>
<path fill="#062d5d" d="M482.8 91.1l-.9-1.5l-.1 1.2z"/>
<path fill="#de755d" d="M478.3 32.7l-.6-1.3l-5.2 .6l1.1 1.2z"/>
<path fill="#06305d" d="M482.8 91.1l.9-.2l0-1.2z"/>
<path fill="#062d5a" d="M482.8 91.1l-.9-1.1l0 1z"/>
<path fill="#093669" d="M483 90.7l-.5-2.3l-.9 .5l.6 2.2z"/>
<path fill="#062d5d" d="M482.8 91.1l.8-.1l0-.8z"/>
<path fill="#ed9072" d="M482.2 36.7l-.1-3.7l-4.8 .2l.3 3.6z"/>
<path fill="#062d57" d="M482.8 91.1l-.7-.7l-.1 .6z"/>
<path fill="#09396c" d="M483.5 91.2l.7-2.2l-.9-.6l-.6 2.3z"/>
<path fill="#c0d2db" d="M498 63.1l1-4.6l-3-1.4l-.8 4.6z"/>
<path fill="#062d5a" d="M482.8 91.1l.7 0l-.1-.5z"/>
<path fill="#062a57" d="M482.8 91.1l-.5-.4l-.2 .4z"/>
<path fill="#062d57" d="M482.8 91.1l.1-.7l.4 .3z"/>
<path fill="#093666" d="M482.9 90.7l-.6-2.3l-.8 .7l.7 2.3z"/>
<path fill="#062a54" d="M482.8 91.1l-.6-.5l.5-.2z"/>
<path fill="#062a57" d="M482.8 91.1l.1-.7l.5 .2z"/>
<path fill="#062a54" d="M482.8 91.1l-.7-.6l.6-.1z"/>
<path fill="#cfb4a5" d="M458.8 41.3l-.8 1.5l-3.9 1.7l.9-1.5z"/>
<path fill="#062a54" d="M482.7 91.1l.1-.7l.7 .1z"/>
<path fill="#093669" d="M483.4 91.4l.7-2.3l-.8-.8l-.7 2.3z"/>
<path fill="#062a54" d="M482.9 91.1l-.9-.7l.8 0zM482.7 91.1l.1-.7l.9 0z"/>
<path fill="#f0ae93" d="M478.7 40.9l-.2-4.9l-4.5 .5l.4 4.9z"/>
<path fill="#062a54" d="M482.9 91.2l-1.1-.8l1.1 0z"/>
<path fill="#124b87" d="M483.3 89.4l.1-3.1l-1.1 0l0 3.1z"/>
<path fill="#062a54" d="M482.7 91.2l0-.8l1.2-.1z"/>
<path fill="#124b84" d="M483.2 89.4l0-3.1l-1.1 .1l.1 3.1z"/>
<path fill="#062a54" d="M482.9 91.3l-1.3-1.1l1.3 .2z"/>
<path fill="#e4ccbd" d="M475.6 46.1l-.4-5.8l-4.2 .8l.6 5.8z"/>
<path fill="#062a54" d="M482.7 91.3l-.1-.9l1.3-.2z"/>
<path fill="#ea8166" d="M489.9 34.4l.4-2.3l-5-.4l-.2 2.3z"/>
<path fill="#124b87" d="M483.5 89.5l.2-3.1l-1.1-.1l-.1 3.1z"/>
<path fill="#093363" d="M482.9 90.6l-.7-2.4l-.7 .9l.8 2.3z"/>
<path fill="#062a54" d="M482.9 91.4l-1-1.1l1.2 .1zM482.7 91.5l-.3-1.1l1.2-.1zM482.8 91.5l-.6-1.1l1.1 0z"/>
<path fill="#124b84" d="M483.1 89.4l-.1-3.1l-1.1 .1l.2 3.1z"/>
<path fill="#c3c6c6" d="M473 52l-.6-6.1l-3.8 1.1l.7 6.1z"/>
<path fill="#093666" d="M483.4 91.6l.8-2.4l-.7-1l-.8 2.4z"/>
<path fill="#124b84" d="M483.6 89.5l.3-3.1l-1.1-.2l-.2 3.1z"/>
<path fill="#124884" d="M483 89.4l-.2-3.1l-1.1 .2l.3 3.1z"/>
<path fill="#ed9372" d="M489.6 37.2l.4-3.6l-4.8-.4l-.2 3.7z"/>
<path fill="#093360" d="M482.8 90.6l-.9-2.4l-.6 1.1l.9 2.4z"/>
<path fill="#c36954" d="M474.1 32l-.9 1.1l-4.8 .6l.9-1z"/>
<path fill="#124b84" d="M483.7 89.6l.4-3l-1.1-.3l-.3 3.1z"/>
<path fill="#093363" d="M483.2 91.5l1-2.1l-.5-1l-.9 2.2z"/>
<path fill="#124881" d="M482.8 89.4l-.3-3.1l-1.1 .3l.4 3z"/>
<path fill="#093360" d="M482.8 90.5l-1-1.8l-.4 .7l1 1.8z"/>
<path fill="#124884" d="M483.8 89.7l.4-3l-1-.4l-.4 3.1z"/>
<path fill="#093360" d="M483.2 91l1-1.5l-.4-.5l-1 1.5z"/>
<path fill="#12487e" d="M482.7 89.4l-.4-3.1l-1 .4l.5 3z"/>
<path fill="#bdc6cc" d="M470.9 57.6l-.7-5.8l-3.3 1.3l.9 5.7z"/>
<path fill="#09305d" d="M482.8 90.5l-.9-1.2l-.4 .3l.9 1.2z"/>
<path fill="#124881" d="M483.9 89.8l.5-3l-1-.5l-.4 3.1z"/>
<path fill="#b1ccdb" d="M470.1 64.2l-1.1-2.9l-2.6 1.5l1.2 2.9z"/>
<path fill="#093060" d="M483.2 90.8l.1-1.5l.5 0l-.1 1.5z"/>
<path fill="#de755d" d="M493.8 33.6l1.2-1.2l-5.2-.8l-.8 1.2z"/>
<path fill="#a8b7c0" d="M476 57.8l-.7 3.9l-3.1 .9l.8-4z"/>
<path fill="#12457b" d="M482.6 89.3l-.5-3.1l-1 .5l.5 3z"/>
<path fill="#09305d" d="M482 90.9l-.2-1.7l.6 .2l.2 1.7zM482.9 91.2l.3-1.9l.7-.3l-.3 1.9z"/>
<path fill="#12487e" d="M483.9 89.9l.6-3l-.9-.6l-.5 3.1z"/>
<path fill="#f0b193" d="M492.7 41.8l.5-4.9l-4.4-.7l-.3 4.9z"/>
<path fill="#ba785d" d="M502.8 35.8l1.2 2.3l-4.9-1.6l-1.1-2.3z"/>
<path fill="#aecfe1" d="M471.4 64.1l-1.9-.6l-2.7 1.6l1.9 .5z"/>
<path fill="#ea8166" d="M478.3 34.1l-.3-2.3l-4.9 .6l.6 2.3z"/>
<path fill="#09305d" d="M482 90.9l-.4-2l.8 .4l.4 2z"/>
<path fill="#c0967e" d="M507.4 39.9l1.1 2.2l-4.4-1.8l-1-2.2z"/>
<path fill="#124578" d="M482.5 89.3l-.6-3.1l-.9 .7l.6 3.1z"/>
<path fill="#09305d" d="M482.7 91.4l.5-2.1l.9-.5l-.5 2.1z"/>
<path fill="#c38a6f" d="M464.9 35.9l-1.1 2.3l-4.6 1.7l1.2-2.3z"/>
<path fill="#9cb4c0" d="M495.6 62.8l1.2 2.6l-2.9-1.2l-1.1-2.6z"/>
<path fill="#ea9072" d="M478.5 36.9l-.3-3.7l-4.7 .6l.5 3.6z"/>
<path fill="#09305d" d="M482 91l-.6-2.2l1.1 .5l.6 2.2z"/>
<path fill="#12457b" d="M483.9 90.1l.6-3.1l-.9-.8l-.6 3.1z"/>
<path fill="#09305d" d="M482.4 91.6l.7-2.3l1.2-.6l-.7 2.3zM482.1 91.1l-.7-2.3l1.2 .6l.6 2.2z"/>
<path fill="#124275" d="M482.5 89.3l-.6-3.2l-.8 1l.7 3.2z"/>
<path fill="#e7cfc0" d="M495.3 47.4l.7-5.7l-4.1-1l-.5 5.8z"/>
<path fill="#09305d" d="M482.4 91.5l.6-2.2l1.2-.5l-.7 2.2zM482.1 91.1l-.6-2.2l1.2 .4l.5 2.1z"/>
<path fill="#1e60a5" d="M483.4 87.3l.1-3.7l-1.2 0l0 3.7zM483.2 87.2l0-3.7l-1.2 .1l.1 3.7z"/>
<path fill="#c9b7ab" d="M512.8 45l.7 1.1l-3.4-1.7l-.6-1z"/>
<path fill="#09305d" d="M482.4 91.4l.4-2.1l1.1-.3l-.5 2.1z"/>
<path fill="#1e60a5" d="M483.6 87.3l.2-3.7l-1.2-.1l-.1 3.7z"/>
<path fill="#124278" d="M483.9 90.4l.7-3.3l-.8-1.1l-.7 3.3z"/>
<path fill="#09305d" d="M482.2 91.2l-.5-2.1l1.1 .3l.4 2z"/>
<path fill="#1e60a2" d="M483 87.2l-.1-3.7l-1.2 .1l.2 3.7z"/>
<path fill="#09305d" d="M482.4 91.4l.3-2l1.1-.2l-.4 2z"/>
<path fill="#bd6f57" d="M469.9 32.8l-1.1 1.9l-4.9 1.3l1.2-1.9z"/>
<path fill="#1e60a5" d="M483.8 87.4l.2-3.7l-1.2-.2l-.2 3.7z"/>
<path fill="#09305d" d="M482.2 91.2l-.4-2l1.1 .2l.2 2zM482.4 91.3l.2-2l1.1-.1l-.3 2z"/>
<path fill="#0f3f72" d="M482.4 89.3l-.8-3l-.6 1l.8 3z"/>
<path fill="#abb4b7" d="M484.8 53.1l.1 5l-3.3-.1l.1-5z"/>
<path fill="#09305d" d="M482.3 91.2l-.2-2l1.1 .1l.1 2zM482.4 91.3l0-2l1.1-.1l-.2 2zM482.3 91.3l-.1-2l1.1 0l0 2z"/>
<path fill="#1e60a2" d="M482.8 87.2l-.2-3.7l-1.2 .2l.3 3.7z"/>
<path fill="#c6c9c9" d="M497.4 53.6l.8-6.1l-3.6-1.2l-.7 6.1z"/>
<path fill="#1e60a2" d="M483.9 87.5l.3-3.7l-1.1-.3l-.2 3.7z"/>
<path fill="#124275" d="M483.7 90.1l.9-2.7l-.5-.8l-.9 2.8z"/>
<path fill="#abb4b7" d="M482.7 53l-.1 5l-3.2 .2l.2-5z"/>
<path fill="#c06954" d="M497.9 33.2l.9 1l-4.5-.7l-.8-1z"/>
<path fill="#a8b7c0" d="M493.3 59l.9 4l-3-1l-.7-4z"/>
<path fill="#1e5d9f" d="M482.6 87.2l-.3-3.7l-1.1 .3l.4 3.7z"/>
<path fill="#0f3f72" d="M482.4 89.3l-.9-2.4l-.4 .6l.9 2.4z"/>
<path fill="#ea8166" d="M493.5 35.1l.7-2.3l-4.8-.8l-.4 2.3z"/>
<path fill="#1e60a2" d="M484.1 87.6l.4-3.7l-1.1-.4l-.3 3.7z"/>
<path fill="#cfc6c3" d="M454.3 44.5l-4.8 .3l-3.5 3.1l5.1-.6z"/>
<path fill="#ed9072" d="M493.1 37.8l.6-3.6l-4.6-.8l-.4 3.6z"/>
<path fill="#b7c9d5" d="M469.3 62.1l-.9-4.6l-2.8 1.5l1.1 4.6z"/>
<path fill="#0f3f72" d="M483.7 89.6l.9-2.1l-.4-.4l-.9 2.1z"/>
<path fill="#abb4b7" d="M487 53.3l.3 5l-3.2-.3l-.1-5z"/>
<path fill="#1e5d9c" d="M482.4 87.2l-.4-3.7l-1.1 .4l.4 3.7z"/>
<path fill="#ccab96" d="M459.7 40.1l-.9 1.8l-4 1.8l1-1.9z"/>
<path fill="#0f3f72" d="M481.5 89.5l0-2.2l.5 .1l0 2.1z"/>
<path fill="#de755d" d="M474.5 33l-1-1.2l-5.1 1l1.4 1.1z"/>
<path fill="#edae90" d="M475.2 41.2l-.4-4.9l-4.3 .9l.6 4.8z"/>
<path fill="#1e5d9f" d="M484.2 87.7l.5-3.7l-1.1-.5l-.4 3.7z"/>
<path fill="#0f3f72" d="M483.6 89.8l.1-2.4l.6-.2l-.1 2.4z"/>
<path fill="#c0c9cf" d="M498.8 59.5l.9-5.7l-3.1-1.5l-.8 5.8z"/>
<path fill="#1b5a99" d="M482.3 87.2l-.4-3.7l-1 .6l.5 3.7z"/>
<path fill="#b4cfde" d="M498.6 66.2l1.2-2.8l-2.5-1.6l-1.1 2.9z"/>
<path fill="#0f3f72" d="M481.5 89.6l-.2-2.6l.7 .4l.2 2.6z"/>
<path fill="#abb4b7" d="M480.5 53.1l-.2 5l-3.2 .4l.4-5.1z"/>
<path fill="#1e5d9c" d="M484.3 87.9l.5-3.7l-1-.6l-.5 3.7z"/>
<path fill="#0f3f72" d="M483.3 90.2l.3-2.8l.8-.5l-.3 2.8z"/>
<path fill="#aecfde" d="M497.5 66.1l2-.4l-2.5-1.7l-2 .5z"/>
<path fill="#1b5796" d="M482.2 87.3l-.5-3.7l-1 .7l.6 3.7z"/>
<path fill="#0f3f72" d="M481.5 89.7l-.5-2.9l.9 .6l.4 2.9zM483 90.5l.5-3l1.1-.7l-.5 3z"/>
<path fill="#9cb4c0" d="M471.7 62l-1 2.5l-2.6 1.2l1.1-2.5z"/>
<path fill="#1b5a99" d="M484.4 88.1l.6-3.7l-.9-.9l-.6 3.8z"/>
<path fill="#0f3f72" d="M481.6 89.8l-.6-3.1l1.2 .8l.6 3.1z"/>
<path fill="#e1c9ba" d="M472.5 46.7l-.6-5.8l-3.9 1.1l.7 5.7z"/>
<path fill="#abb4b7" d="M489 53.7l.5 5.1l-3.1-.5l-.3-5.1z"/>
<path fill="#0f3f72" d="M482.9 90.5l.5-3l1.2-.6l-.6 3z"/>
<path fill="#1b5790" d="M482 87.3l-.6-3.9l-.9 1l.6 3.8z"/>
<path fill="#3078b4" d="M483.4 84.5l.1-4.1l-1.3 0l0 4.1zM483.2 84.4l0-4.1l-1.3 .1l.1 4.1z"/>
<path fill="#ccb1a5" d="M511.9 44.1l.8 1.5l-3.5-1.8l-.8-1.4z"/>
<path fill="#0f3f72" d="M481.7 89.9l-.6-3l1.2 .5l.5 2.9z"/>
<path fill="#3078b4" d="M483.7 84.5l.2-4.1l-1.3-.1l-.1 4.1z"/>
<path fill="#a8b7c0" d="M474.1 58.2l-.9 4l-2.9 1.1l1-4.1z"/>
<path fill="#1b5796" d="M484.3 88.3l.7-3.8l-.8-1.1l-.7 3.8z"/>
<path fill="#e77e63" d="M474.6 34.5l-.6-2.3l-4.6 .9l.8 2.3z"/>
<path fill="#3078b1" d="M482.9 84.4l-.1-4.1l-1.2 .1l.2 4.1z"/>
<path fill="#0f3f72" d="M482.8 90.4l.4-2.9l1.1-.5l-.5 2.9z"/>
<path fill="#ea9072" d="M474.9 37.3l-.5-3.6l-4.5 .9l.7 3.6z"/>
<path fill="#3078b4" d="M484 84.6l.2-4.1l-1.2-.2l-.2 4.1z"/>
<path fill="#0f3f72" d="M481.8 90l-.5-2.9l1.1 .4l.4 2.8z"/>
<path fill="#f0ae93" d="M495.9 42.6l.7-4.8l-4.2-1l-.5 4.9z"/>
<path fill="#2d75b1" d="M482.6 84.4l-.2-4.1l-1.2 .2l.3 4.1z"/>
<path fill="#0f3f72" d="M482.7 90.3l.3-2.8l1.1-.3l-.4 2.8z"/>
<path fill="#1b548d" d="M482 87.3l-.8-3.6l-.6 .9l.8 3.5z"/>
<path fill="#ba6c57" d="M502 34.8l1.1 1.8l-4.6-1.4l-1-1.9z"/>
<path fill="#0f3f72" d="M481.9 90.1l-.4-2.8l1.1 .3l.3 2.8z"/>
<path fill="#c0876f" d="M506.7 38.5l1.1 2.3l-4.3-1.8l-1-2.3z"/>
<path fill="#3078b1" d="M484.2 84.7l.3-4.1l-1.2-.3l-.2 4.1z"/>
<path fill="#de755d" d="M497.3 34.5l1.6-1l-5-1.2l-1.2 1.1z"/>
<path fill="#c0c3c3" d="M470.2 52.7l-.7-6.1l-3.4 1.4l.9 6.1z"/>
<path fill="#0f3f72" d="M482.6 90.3l.2-2.7l1.1-.2l-.3 2.8z"/>
<path fill="#1b5490" d="M484.2 88l.9-3.3l-.5-.8l-.9 3.3z"/>
<path fill="#c07b63" d="M465.5 34.7l-1.1 2.2l-4.5 1.6l1.2-2.2z"/>
<path fill="#0f3f72" d="M482 90.1l-.3-2.7l1.1 .2l.2 2.7z"/>
<path fill="#2d75ae" d="M482.4 84.4l-.3-4.1l-1.2 .3l.4 4.1z"/>
<path fill="#0f3f72" d="M482.5 90.3l.1-2.7l1.1-.1l-.2 2.7zM482.1 90.2l-.2-2.7l1.1 .1l.1 2.7zM482.4 90.2l0-2.7l1.1-.1l-.1 2.7zM482.3 90.2l-.1-2.7l1.1 0l0 2.7z"/>
<path fill="#abb4b7" d="M478.4 53.3l-.4 5.1l-3.1 .6l.6-5.1z"/>
<path fill="#c36c54" d="M469.9 32.9l-.8 1l-4.2 .8l.8-1z"/>
<path fill="#baccd8" d="M499.6 64.3l1.1-4.6l-2.6-1.7l-1 4.6z"/>
<path fill="#2d75ae" d="M484.4 84.8l.4-4.1l-1.2-.4l-.3 4.1z"/>
<path fill="#1b548d" d="M481.9 87.3l-.9-3l-.4 .5l.9 2.9z"/>
<path fill="#2d72ab" d="M482.2 84.5l-.4-4.1l-1.1 .5l.4 4.1z"/>
<path fill="#1b548d" d="M484.1 87.6l.9-2.6l-.4-.3l-.9 2.7z"/>
<path fill="#2d72ae" d="M484.6 85l.5-4.1l-1.1-.5l-.4 4.1z"/>
<path fill="#1b548d" d="M481 87.5l0-2.8l.5 .2l0 2.8z"/>
<path fill="#9cb4c0" d="M497 63.7l1 2.5l-2.3-1.2l-1-2.5z"/>
<path fill="#2d6fa5" d="M482 84.5l-.4-4.2l-1.1 .6l.5 4.1z"/>
<path fill="#c99984" d="M460.5 38.7l-1 2.1l-4 1.9l1.1-2.1z"/>
<path fill="#1b548d" d="M484 87.9l.1-3l.6-.3l-.1 3.1z"/>
<path fill="#a8b7c0" d="M494.9 59.8l1.1 4.2l-2.8-1.3l-.9-4.1z"/>
<path fill="#e4ccbd" d="M498 48.4l.8-5.7l-3.7-1.3l-.7 5.8z"/>
<path fill="#bac3c9" d="M468.6 58.4l-.9-5.7l-2.9 1.6l1 5.7z"/>
<path fill="#abb4b7" d="M490.9 54.2l.7 5.1l-3-.7l-.5-5.1z"/>
<path fill="#ea9072" d="M496.4 38.6l.7-3.6l-4.3-1.1l-.6 3.6z"/>
<path fill="#2d72ab" d="M484.7 85.2l.5-4.1l-1-.7l-.5 4.2z"/>
<path fill="#ea8166" d="M496.9 35.9l.9-2.2l-4.5-1.1l-.7 2.3z"/>
<path fill="#aec9d8" d="M468.4 65.1l-1.2-2.9l-2.2 1.7l1.3 2.8z"/>
<path fill="#1b548d" d="M481 87.7l-.2-3.3l.7 .5l.2 3.3z"/>
<path fill="#aecfe1" d="M469.7 64.8l-2-.4l-2.3 1.9l2.1 .3z"/>
<path fill="#1b548d" d="M483.7 88.4l.3-3.4l.9-.6l-.3 3.5z"/>
<path fill="#2a6ca2" d="M481.8 84.6l-.5-4.2l-1 .8l.5 4.2z"/>
<path fill="#1b548d" d="M481.1 87.8l-.5-3.6l1 .7l.4 3.6z"/>
<path fill="#2d6fa5" d="M484.8 85.5l.6-4.2l-1-.9l-.5 4.3z"/>
<path fill="#eaab8d" d="M472 41.9l-.6-4.8l-4 1.2l.8 4.8z"/>
<path fill="#c9a896" d="M511 43l.9 1.8l-3.6-1.9l-.9-1.8z"/>
<path fill="#1b548d" d="M483.4 88.7l.5-3.7l1.1-.8l-.6 3.7z"/>
<path fill="#4290c0" d="M483.5 81.2l.1-4.4l-1.3 0l0 4.4zM483.2 81.2l0-4.4l-1.3 .1l.1 4.4zM483.8 81.3l.2-4.4l-1.3-.1l-.1 4.4z"/>
<path fill="#2a699f" d="M481.6 84.6l-.6-4.3l-.9 1.1l.6 4.3z"/>
<path fill="#c3c6c6" d="M499.6 54.7l.9-6l-3.2-1.5l-.8 6.1z"/>
<path fill="#4290bd" d="M482.8 81.2l-.1-4.4l-1.3 .2l.2 4.4z"/>
<path fill="#1b548d" d="M481.2 87.9l-.6-3.7l1.2 .8l.5 3.7z"/>
<path fill="#4290c0" d="M484.2 81.4l.2-4.4l-1.3-.2l-.2 4.4z"/>
<path fill="#de755d" d="M471 33.7l-1.4-1.1l-4.8 1.4l1.7 1z"/>
<path fill="#2a6ca2" d="M484.8 85.7l.7-4.2l-.8-1.1l-.7 4.2z"/>
<path fill="#1b548d" d="M483.2 88.6l.5-3.6l1.2-.6l-.5 3.6z"/>
<path fill="#cfbdb1" d="M454.4 44.2l-1.2 .3l-2.4 2.5l1.2-.3z"/>
<path fill="#3f8dbd" d="M482.5 81.2l-.2-4.4l-1.3 .3l.3 4.4z"/>
<path fill="#abb4b7" d="M476.5 53.6l-.6 5.1l-2.9 .8l.8-5.2z"/>
<path fill="#c36954" d="M501.3 34.4l.8 1l-4-.9l-.7-1z"/>
<path fill="#1b548d" d="M481.3 88.1l-.5-3.5l1.2 .6l.4 3.5z"/>
<path fill="#4290bd" d="M484.5 81.5l.3-4.4l-1.3-.3l-.2 4.4z"/>
<path fill="#2a669c" d="M481.5 84.6l-.8-4l-.6 .9l.8 4z"/>
<path fill="#ccc6c3" d="M515.5 48.6l5.3 .8l-3.2-3.3l-5.1-.5z"/>
<path fill="#1b548d" d="M483.1 88.6l.4-3.5l1.2-.5l-.5 3.5z"/>
<path fill="#3f8aba" d="M482.2 81.2l-.3-4.4l-1.2 .4l.4 4.4z"/>
<path fill="#1b548d" d="M481.5 88.2l-.4-3.4l1.2 .4l.3 3.4z"/>
<path fill="#2a699f" d="M484.6 85.4l.9-3.7l-.5-.7l-.9 3.7z"/>
<path fill="#bd7b60" d="M505.9 37.3l1.1 2.2l-4.2-1.7l-1-2.2z"/>
<path fill="#3f8dba" d="M484.7 81.6l.4-4.4l-1.2-.4l-.3 4.4z"/>
<path fill="#1b548d" d="M483 88.5l.3-3.4l1.2-.3l-.4 3.4z"/>
<path fill="#c06f5a" d="M466 34l-1 1.8l-4.3 1.4l1.1-1.8z"/>
<path fill="#a8b7c0" d="M472.5 58.7l-1 4.2l-2.6 1.5l1.2-4.3z"/>
<path fill="#b4c6cf" d="M467.5 63.1l-1.1-4.6l-2.3 1.8l1.2 4.6z"/>
<path fill="#1b548d" d="M481.6 88.2l-.3-3.4l1.2 .3l.3 3.4zM482.8 88.5l.2-3.3l1.2-.2l-.3 3.4z"/>
<path fill="#3f8ab4" d="M481.9 81.3l-.4-4.4l-1.2 .5l.4 4.4z"/>
<path fill="#2a669c" d="M481.5 84.7l-.9-3.4l-.5 .5l.9 3.4z"/>
<path fill="#9cb4c0" d="M469.9 63l-.9 2.4l-2 1.2l1-2.4z"/>
<path fill="#1b548d" d="M481.8 88.3l-.3-3.3l1.2 .2l.2 3.3z"/>
<path fill="#e78d6f" d="M471.5 37.9l-.7-3.6l-4.1 1.2l.8 3.5z"/>
<path fill="#bdc6cc" d="M500.5 60.7l1.1-5.7l-2.7-1.7l-1 5.7z"/>
<path fill="#1b548d" d="M482.6 88.5l.1-3.3l1.2-.1l-.2 3.3z"/>
<path fill="#e47e63" d="M471.1 35.2l-.8-2.2l-4.3 1.2l1 2.2z"/>
<path fill="#1b548d" d="M482 88.4l-.2-3.3l1.2 .1l.1 3.3z"/>
<path fill="#aecfe1" d="M498.5 67.2l2.2-.1l-2.1-2l-2 .3z"/>
<path fill="#3f8aba" d="M484.9 81.8l.4-4.4l-1.2-.5l-.4 4.4z"/>
<path fill="#1b548d" d="M482.4 88.4l0-3.3l1.2-.1l-.1 3.3zM482.2 88.4l-.1-3.3l1.2 0l0 3.3z"/>
<path fill="#b1ccdb" d="M499.8 67.4l1.4-2.8l-2-1.8l-1.3 2.9z"/>
<path fill="#dec6b7" d="M469.6 47.5l-.7-5.8l-3.5 1.4l.9 5.7z"/>
<path fill="#2a669c" d="M484.6 85l.9-3.1l-.4-.3l-.9 3.1z"/>
<path fill="#abb4b7" d="M492.6 54.8l.8 5.2l-2.8-1l-.7-5.2z"/>
<path fill="#edae90" d="M498.7 43.6l.8-4.8l-3.8-1.3l-.7 4.8z"/>
<path fill="#3c87b1" d="M481.6 81.3l-.4-4.5l-1.1 .6l.5 4.4z"/>
<path fill="#c68d72" d="M461.2 37.4l-1 2.2l-3.9 1.9l1.1-2.2z"/>
<path fill="#2a669c" d="M480.6 84.9l0-3.3l.5 .2l0 3.3z"/>
<path fill="#3f87b4" d="M485.1 82l.5-4.4l-1.1-.7l-.5 4.5z"/>
<path fill="#2a669c" d="M484.4 85.4l.1-3.5l.6-.4l-.1 3.6z"/>
<path fill="#d2baab" d="M455.4 43.2l-.7 1.3l-3 1.8l.8-1.4z"/>
<path fill="#3c81ae" d="M481.4 81.4l-.5-4.5l-1 .8l.5 4.5z"/>
<path fill="#de755d" d="M500.4 35.6l1.8-.9l-4.5-1.6l-1.5 1z"/>
<path fill="#2a669c" d="M480.6 85.1l-.2-3.8l.8 .6l.2 3.8z"/>
<path fill="#c69681" d="M510.2 41.7l1 2.1l-3.6-1.9l-.9-2.1z"/>
<path fill="#6cabcf" d="M483.6 77.7l.1-4.6l-1.4 0l0 4.6zM483.1 77.7l0-4.6l-1.4 .1l.1 4.6z"/>
<path fill="#3c84b1" d="M485.2 82.3l.6-4.5l-1-.9l-.5 4.5z"/>
<path fill="#6cabcf" d="M484 77.8l.2-4.6l-1.4-.1l-.1 4.6z"/>
<path fill="#2a669c" d="M484.1 85.9l.3-3.9l.9-.7l-.3 3.9z"/>
<path fill="#a8b7c0" d="M496.2 60.7l1.1 4.2l-2.4-1.5l-1-4.2z"/>
<path fill="#6cabcc" d="M482.7 77.6l-.1-4.6l-1.4 .2l.2 4.6z"/>
<path fill="#bdbdc0" d="M467.8 53.6l-.9-6.1l-3 1.6l1 6z"/>
<path fill="#aeaeb1" d="M484.7 48l.1 6l-3.1-.1l.1-6z"/>
<path fill="#6cabcf" d="M484.3 77.9l.2-4.6l-1.4-.2l-.2 4.6z"/>
<path fill="#aeaeb1" d="M482.7 47.9l-.1 6l-3.1 .1l.2-6z"/>
<path fill="#2a669c" d="M480.7 85.3l-.5-4.1l1 .8l.4 4.1z"/>
<path fill="#397ea8" d="M481.2 81.5l-.6-4.6l-.9 1.1l.6 4.6z"/>
<path fill="#abb4b7" d="M474.7 54l-.8 5.2l-2.7 1.1l.9-5.3z"/>
<path fill="#69a8c9" d="M482.3 77.7l-.2-4.6l-1.3 .3l.3 4.6z"/>
<path fill="#9cb4c0" d="M498.1 64.8l.9 2.3l-1.8-1.1l-.8-2.3z"/>
<path fill="#2a669c" d="M483.7 86.2l.5-4.2l1.2-.9l-.6 4.2z"/>
<path fill="#e79072" d="M499.3 39.7l.9-3.5l-4-1.4l-.7 3.6z"/>
<path fill="#aeaeb1" d="M486.7 48.2l.3 6l-3.1-.3l-.1-6z"/>
<path fill="#6cabcc" d="M484.7 78l.3-4.5l-1.3-.3l-.2 4.6z"/>
<path fill="#3c81ae" d="M485.2 82.6l.7-4.5l-.8-1.1l-.7 4.5z"/>
<path fill="#b7c9d5" d="M500.8 65.6l1.2-4.6l-2.1-2l-1.1 4.6z"/>
<path fill="#c66c57" d="M466.2 34l-.7 .9l-3.6 1l.7-.9z"/>
<path fill="#e77e63" d="M499.9 37l1.1-2.1l-4.1-1.4l-.9 2.2z"/>
<path fill="#69a5c6" d="M481.9 77.7l-.3-4.6l-1.3 .4l.4 4.5z"/>
<path fill="#2a669c" d="M480.8 85.4l-.5-4.1l1.2 .8l.5 4.1z"/>
<path fill="#e1c9ba" d="M500.4 49.6l.9-5.7l-3.3-1.6l-.8 5.7z"/>
<path fill="#bd6f57" d="M505.1 36.3l1 1.8l-3.9-1.5l-1-1.8z"/>
<path fill="#2a669c" d="M483.6 86.1l.5-4l1.2-.7l-.5 4z"/>
<path fill="#397ea5" d="M481.1 81.5l-.8-4.3l-.7 .9l.8 4.2z"/>
<path fill="#69a8c9" d="M485 78.2l.4-4.5l-1.3-.4l-.3 4.6z"/>
<path fill="#aeaeb1" d="M480.7 48l-.2 6l-3 .4l.4-6z"/>
<path fill="#2a669c" d="M481 85.6l-.5-4l1.2 .6l.4 4z"/>
<path fill="#66a2c3" d="M481.6 77.8l-.4-4.6l-1.2 .5l.4 4.5z"/>
<path fill="#b1cfe1" d="M468.3 65.7l-2-.2l-1.7 2l2.1 .1z"/>
<path fill="#397ea8" d="M485.1 82.3l.9-4l-.6-.8l-.9 4z"/>
<path fill="#2a669c" d="M483.4 86.1l.4-3.9l1.2-.5l-.4 3.9z"/>
<path fill="#b4bdc3" d="M466.6 59.4l-1-5.7l-2.4 1.9l1.1 5.7z"/>
<path fill="#e7a88d" d="M469 42.7l-.8-4.8l-3.6 1.5l.9 4.8z"/>
<path fill="#a8c3d2" d="M467 66.1l-1.3-2.9l-1.7 2l1.4 2.8z"/>
<path fill="#aeaeb1" d="M488.6 48.6l.5 6l-3-.5l-.3-6z"/>
<path fill="#69a5c6" d="M485.3 78.4l.4-4.5l-1.2-.6l-.4 4.6z"/>
<path fill="#2a669c" d="M481.2 85.7l-.4-3.9l1.2 .4l.3 3.9z"/>
<path fill="#abb4b7" d="M494.1 55.5l1 5.4l-2.6-1.2l-.9-5.3z"/>
<path fill="#d2ae9c" d="M456.3 42l-.8 1.7l-3.1 1.9l.9-1.7z"/>
<path fill="#397ea5" d="M481 81.6l-.9-3.7l-.5 .5l.9 3.6z"/>
<path fill="#ccbaae" d="M514.5 47.8l1.4 .5l-2.2-2.6l-1.3-.4z"/>
<path fill="#2a669c" d="M483.2 86.1l.3-3.8l1.2-.4l-.4 3.9z"/>
<path fill="#c67e63" d="M461.9 36.2l-1 2.1l-3.8 1.8l1.1-2.1z"/>
<path fill="#669fc0" d="M481.3 77.9l-.4-4.6l-1.2 .6l.5 4.6z"/>
<path fill="#2a669c" d="M481.4 85.8l-.3-3.8l1.2 .3l.2 3.8z"/>
<path fill="#397ea5" d="M485 81.9l.9-3.3l-.4-.3l-.9 3.4z"/>
<path fill="#a8b7c0" d="M470.9 59.6l-1 4.1l-2.1 1.4l1-4.2z"/>
<path fill="#2a669c" d="M482.9 86.1l.2-3.8l1.2-.2l-.3 3.8zM481.6 85.9l-.2-3.8l1.3 .2l.2 3.8z"/>
<path fill="#66a2c3" d="M485.5 78.6l.5-4.6l-1.1-.7l-.5 4.6z"/>
<path fill="#2a669c" d="M482.7 86.1l.1-3.8l1.3-.2l-.2 3.8z"/>
<path fill="#c0c3c3" d="M501.4 56l1-6l-2.8-1.8l-.9 6.1z"/>
<path fill="#c38a6f" d="M509.3 40.3l1 2.2l-3.5-1.9l-.9-2.2z"/>
<path fill="#2a669c" d="M481.9 86l-.2-3.8l1.3 .1l.1 3.8z"/>
<path fill="#aeaeb1" d="M478.8 48.2l-.4 6l-2.9 .6l.6-6z"/>
<path fill="#2a669c" d="M482.4 86l0-3.8l1.3-.1l-.1 3.8z"/>
<path fill="#de755d" d="M467.6 34.5l-1.6-.9l-4.3 1.7l1.9 .8z"/>
<path fill="#397ea5" d="M480.1 81.9l-.1-3.6l.5 .3l0 3.6z"/>
<path fill="#2a669c" d="M482.2 86l-.1-3.8l1.3 0l0 3.8z"/>
<path fill="#93c3db" d="M483.6 74l.1-4.6l-1.5 0l0 4.6zM483.1 74l0-4.6l-1.5 .1l.1 4.6zM484.1 74.1l.2-4.6l-1.5-.1l-.1 4.6z"/>
<path fill="#639cba" d="M481 77.9l-.5-4.6l-1.1 .8l.5 4.6z"/>
<path fill="#93c0d8" d="M482.6 74l-.1-4.6l-1.4 .2l.2 4.6z"/>
<path fill="#397ea5" d="M484.9 82.4l.1-3.8l.6-.5l-.1 3.9z"/>
<path fill="#93c3db" d="M484.5 74.2l.2-4.6l-1.4-.2l-.2 4.6z"/>
<path fill="#9cb4c3" d="M468.5 64.2l-.7 2.1l-1.4 1.1l.8-2.2z"/>
<path fill="#639fc0" d="M485.7 78.9l.6-4.6l-1-1l-.5 4.7z"/>
<path fill="#e18a6f" d="M468.4 38.8l-.8-3.6l-3.7 1.5l1 3.5z"/>
<path fill="#90c0d5" d="M482.2 74l-.2-4.6l-1.4 .3l.3 4.5z"/>
<path fill="#397ea5" d="M480.2 82.1l-.2-4.1l.8 .6l.2 4.1z"/>
<path fill="#aeaeb1" d="M490.3 49l.7 6.1l-2.8-.7l-.5-6z"/>
<path fill="#c36c54" d="M504.2 35.8l.7 .9l-3.3-1.1l-.6-.9z"/>
<path fill="#93c0d8" d="M485 74.4l.3-4.5l-1.4-.3l-.2 4.6z"/>
<path fill="#e17b63" d="M467.8 36.1l-1-2.2l-3.9 1.5l1.2 2.1z"/>
<path fill="#6096b7" d="M480.8 78l-.6-4.8l-1 1.1l.6 4.7z"/>
<path fill="#abb4b7" d="M473.1 54.5l-.9 5.4l-2.5 1.4l1.1-5.5z"/>
<path fill="#397ea5" d="M484.5 82.9l.3-4.2l.9-.8l-.3 4.2z"/>
<path fill="#cfb4a8" d="M514.1 46.2l.7 1.3l-2.6-1.8l-.6-1.3z"/>
<path fill="#aecfe1" d="M499.2 68.3l2.1 0l-1.4-2.1l-2 .1z"/>
<path fill="#aec0c9" d="M466 64.2l-1.2-4.7l-1.8 2.1l1.3 4.6z"/>
<path fill="#cfc9c6" d="M451.8 46.4l-5.4 .8l-2.7 3.5l5.6-1.1z"/>
<path fill="#8dbdd2" d="M481.7 74.1l-.3-4.6l-1.4 .4l.4 4.5z"/>
<path fill="#d8c3b4" d="M467.1 48.5l-.9-5.7l-3.1 1.7l1 5.7z"/>
<path fill="#eaab8d" d="M501.1 44.8l1-4.7l-3.4-1.6l-.8 4.8z"/>
<path fill="#639cba" d="M485.7 79.2l.7-4.6l-.8-1.1l-.7 4.7z"/>
<path fill="#90c0d5" d="M485.3 74.5l.4-4.5l-1.3-.5l-.3 4.6z"/>
<path fill="#397ea5" d="M480.3 82.3l-.5-4.4l1.1 .9l.4 4.4z"/>
<path fill="#abc9d5" d="M500.4 68.7l1.5-2.8l-1.4-2.1l-1.4 2.9z"/>
<path fill="#bac3c9" d="M501.8 62.1l1.2-5.7l-2.2-2l-1.1 5.8z"/>
<path fill="#a8b7c0" d="M497.2 61.6l1 4.1l-1.9-1.4l-.9-4z"/>
<path fill="#cc9f87" d="M457.2 40.6l-.8 2l-3.1 1.9l.9-2z"/>
<path fill="#397ea5" d="M484.1 83.3l.5-4.5l1.2-.9l-.6 4.5z"/>
<path fill="#8dbacf" d="M481.3 74.1l-.4-4.6l-1.3 .5l.4 4.5z"/>
<path fill="#5d93b1" d="M480.7 78.1l-.8-4.4l-.7 .9l.8 4.4z"/>
<path fill="#aeaeb1" d="M477 48.5l-.6 6.1l-2.8 .8l.7-6.1z"/>
<path fill="#c3725a" d="M462.6 35.4l-.9 1.7l-3.5 1.5l1-1.7z"/>
<path fill="#397ea5" d="M480.4 82.5l-.5-4.4l1.2 .8l.5 4.4z"/>
<path fill="#8dbdd2" d="M485.7 74.8l.4-4.5l-1.3-.6l-.4 4.6z"/>
<path fill="#6096b4" d="M485.5 79l.9-4.1l-.6-.8l-.9 4.1z"/>
<path fill="#397ea5" d="M483.9 83.2l.4-4.3l1.2-.7l-.5 4.3z"/>
<path fill="#8ab4cc" d="M481 74.2l-.4-4.6l-1.2 .7l.5 4.6z"/>
<path fill="#de755d" d="M503.2 36.9l1.9-.7l-4-1.9l-1.7 .8z"/>
<path fill="#abb4b7" d="M495.3 56.3l1.1 5.6l-2.4-1.5l-1-5.5z"/>
<path fill="#9cb4c0" d="M498.8 65.9l.7 2.1l-1.2-1l-.6-2z"/>
<path fill="#c07b63" d="M508.4 38.9l1 2.1l-3.4-1.8l-.9-2z"/>
<path fill="#397ea5" d="M480.6 82.6l-.5-4.3l1.2 .6l.4 4.2z"/>
<path fill="#abccde" d="M483.7 70.4l.1-4.5l-1.5 0l0 4.5z"/>
<path fill="#5d93b1" d="M480.6 78.2l-.9-3.8l-.5 .5l.9 3.8z"/>
<path fill="#abccde" d="M483.1 70.3l0-4.5l-1.5 .1l.1 4.5zM484.2 70.4l.2-4.5l-1.5-.1l-.1 4.5z"/>
<path fill="#397ea5" d="M483.7 83.2l.4-4.2l1.3-.5l-.4 4.2z"/>
<path fill="#8dbacf" d="M485.9 75l.5-4.6l-1.2-.8l-.5 4.6z"/>
<path fill="#b7baba" d="M465.8 54.7l-1-6.1l-2.5 1.9l1.1 6z"/>
<path fill="#abc9db" d="M482.5 70.3l-.1-4.5l-1.5 .2l.2 4.5z"/>
<path fill="#e48d6f" d="M501.9 41l1.1-3.5l-3.5-1.7l-.9 3.5z"/>
<path fill="#aeaeb1" d="M491.9 49.6l.8 6.2l-2.7-.9l-.7-6.1z"/>
<path fill="#5d93b1" d="M485.5 78.6l.9-3.5l-.4-.3l-.9 3.5z"/>
<path fill="#abccde" d="M484.7 70.6l.2-4.5l-1.5-.2l-.2 4.5z"/>
<path fill="#397ea5" d="M480.9 82.8l-.4-4.2l1.3 .4l.3 4.2z"/>
<path fill="#ccab99" d="M513.2 45l.8 1.7l-2.7-1.9l-.7-1.6z"/>
<path fill="#397ea5" d="M483.4 83.2l.3-4.1l1.3-.4l-.4 4.1z"/>
<path fill="#87b1c6" d="M480.6 74.4l-.5-4.6l-1.1 .9l.5 4.6z"/>
<path fill="#e47e63" d="M502.6 38.3l1.3-2.1l-3.6-1.7l-1.1 2.1z"/>
<path fill="#a8c9d8" d="M482 70.4l-.2-4.5l-1.5 .3l.3 4.5z"/>
<path fill="#397ea5" d="M481.1 82.9l-.3-4.1l1.3 .3l.2 4.1z"/>
<path fill="#b4c6cf" d="M501.6 67.1l1.3-4.6l-1.5-2.3l-1.3 4.7z"/>
<path fill="#5d93b1" d="M479.7 78.5l-.1-3.8l.5 .3l0 3.7z"/>
<path fill="#abc9db" d="M485.2 70.7l.3-4.4l-1.5-.4l-.2 4.5z"/>
<path fill="#dec6b7" d="M502.3 50.9l1.1-5.7l-2.8-1.8l-1 5.7z"/>
<path fill="#397ea5" d="M483.1 83.2l.2-4.1l1.3-.3l-.3 4.1z"/>
<path fill="#8ab4c9" d="M486.1 75.4l.6-4.6l-1.1-1l-.5 4.7z"/>
<path fill="#a8b7c0" d="M469.5 60.8l-.8 3.9l-1.6 1.3l.9-3.9z"/>
<path fill="#397ea5" d="M481.4 83l-.2-4.1l1.3 .2l.2 4.1z"/>
<path fill="#b1cfe1" d="M467.1 66.8l-1.9-.1l-1 2.1l2-.1z"/>
<path fill="#a5c6d5" d="M481.5 70.4l-.3-4.5l-1.4 .4l.4 4.4z"/>
<path fill="#397ea5" d="M482.8 83.2l.1-4.1l1.3-.2l-.2 4.1z"/>
<path fill="#5d93b1" d="M485.3 79.2l.1-4l.7-.5l-.1 4z"/>
<path fill="#397ea5" d="M481.8 83.1l-.2-4.1l1.3 .1l.1 4.1zM482.4 83.2l0-4l1.3-.1l-.1 4.1zM482.1 83.2l-.1-4l1.3 0l0 4z"/>
<path fill="#e1a58a" d="M466.3 43.7l-.9-4.8l-3.2 1.7l1 4.7z"/>
<path fill="#cc9075" d="M458.1 39.2l-.9 2.1l-3 1.9l.9-2.1z"/>
<path fill="#a8c9d8" d="M485.6 70.9l.4-4.4l-1.4-.5l-.3 4.5z"/>
<path fill="#c96f57" d="M462.9 35.3l-.6 .8l-3 1.1l.7-.9z"/>
<path fill="#81abc0" d="M480.4 74.5l-.6-4.8l-1 1.2l.6 4.7z"/>
<path fill="#a5c0cc" d="M466 67.1l-1.5-2.9l-1 2.3l1.5 2.8z"/>
<path fill="#aeaeb1" d="M475.3 48.9l-.8 6.2l-2.6 1l.9-6.2z"/>
<path fill="#5d93b1" d="M479.7 78.8l-.2-4.2l.8 .7l.2 4.2z"/>
<path fill="#d5c0b4" d="M452 46l-1.5 .6l-1.8 2.8l1.5-.6z"/>
<path fill="#b1bac0" d="M465.1 60.6l-1.1-5.8l-1.9 2.2l1.2 5.7z"/>
<path fill="#abb4b7" d="M471.7 55.2l-1 5.5l-2.1 1.5l1.1-5.5z"/>
<path fill="#a2c3d2" d="M481 70.5l-.4-4.5l-1.3 .5l.4 4.4z"/>
<path fill="#84b1c6" d="M486.1 75.7l.7-4.6l-.9-1.1l-.7 4.6z"/>
<path fill="#5d93b1" d="M484.9 79.7l.3-4.4l.9-.8l-.3 4.4z"/>
<path fill="#a5c6d5" d="M486 71.2l.4-4.4l-1.3-.6l-.4 4.5z"/>
<path fill="#c06f5a" d="M507.5 37.9l.9 1.7l-3.2-1.6l-.8-1.6z"/>
<path fill="#c0d5e1" d="M483.7 66.8l.1-4.3l-1.6 0l0 4.3z"/>
<path fill="#81a8bd" d="M480.2 74.6l-.8-4.4l-.7 1l.8 4.4z"/>
<path fill="#a2bac6" d="M467.5 65.3l-1.4 1.6l-.2 1.5l1.5-1.7z"/>
<path fill="#c0d5e1" d="M483.1 66.8l0-4.3l-1.6 .1l.1 4.3z"/>
<path fill="#5d93b1" d="M479.8 79l-.5-4.5l1.1 .9l.4 4.5z"/>
<path fill="#c0d5e1" d="M484.3 66.9l.2-4.3l-1.6-.1l-.1 4.3z"/>
<path fill="#a58a7e" d="M484.6 42.7l.1 6.2l-2.9-.1l.1-6.2z"/>
<path fill="#c99c84" d="M512.3 43.6l.8 1.9l-2.7-1.9l-.8-1.9z"/>
<path fill="#9fbdcf" d="M480.6 70.6l-.4-4.5l-1.3 .7l.5 4.5z"/>
<path fill="#bdbdc0" d="M502.8 57.4l1.1-6.1l-2.2-2.1l-1.1 6.1z"/>
<path fill="#c0d2de" d="M482.5 66.8l-.1-4.3l-1.6 .2l.2 4.3z"/>
<path fill="#a58d7e" d="M482.7 42.6l-.1 6.2l-2.9 .1l.2-6.3z"/>
<path fill="#5d93b1" d="M484.5 80.1l.5-4.6l1.2-1l-.6 4.6z"/>
<path fill="#c0d5e1" d="M484.9 67l.2-4.3l-1.6-.3l-.2 4.3z"/>
<path fill="#81abc0" d="M486 75.5l.9-4.1l-.6-.8l-.9 4.1z"/>
<path fill="#aeaeb1" d="M493.3 50.3l1 6.3l-2.5-1.2l-.8-6.2z"/>
<path fill="#a58a7e" d="M486.4 42.9l.3 6.3l-2.9-.3l-.1-6.2z"/>
<path fill="#a8b7c0" d="M497.8 62.7l.8 3.8l-1.3-1.2l-.7-3.8z"/>
<path fill="#de755d" d="M464.7 35.6l-1.8-.7l-3.7 2.1l2 .6z"/>
<path fill="#a2c0d2" d="M486.3 71.5l.5-4.5l-1.2-.8l-.5 4.5z"/>
<path fill="#cfc6c3" d="M516.9 50.9l5.8 1.4l-2.3-3.7l-5.6-1.1z"/>
<path fill="#bdcfdb" d="M481.9 66.8l-.2-4.3l-1.5 .3l.3 4.3z"/>
<path fill="#5d93b1" d="M480 79.2l-.5-4.5l1.3 .8l.5 4.5z"/>
<path fill="#de876c" d="M465.6 39.8l-1-3.5l-3.2 1.8l1.1 3.4z"/>
<path fill="#d8bdae" d="M452.8 45.2l-1.3 .7l-1.6 2.6l1.4-.8z"/>
<path fill="#b1cfe1" d="M499.4 69.4l2 .1l-.6-2.2l-1.9 0z"/>
<path fill="#c0d2de" d="M485.4 67.2l.3-4.3l-1.5-.4l-.2 4.3z"/>
<path fill="#81a8bd" d="M480.1 74.7l-.9-3.8l-.5 .6l.9 3.8z"/>
<path fill="#a88d7e" d="M480.9 42.7l-.2 6.3l-2.9 .3l.4-6.3z"/>
<path fill="#abb4b7" d="M496.3 57.2l1 5.4l-1.8-1.5l-.9-5.4z"/>
<path fill="#5d93b1" d="M484.3 80l.4-4.4l1.3-.7l-.5 4.5z"/>
<path fill="#9cbac9" d="M480.3 70.8l-.5-4.5l-1.1 .9l.5 4.5z"/>
<path fill="#de7b60" d="M465 37.1l-1.2-2.1l-3.3 1.8l1.3 2z"/>
<path fill="#baccd8" d="M481.3 66.9l-.3-4.3l-1.5 .4l.4 4.3z"/>
<path fill="#abbac6" d="M465 65.3l-1.4-4.6l-1.2 2.3l1.4 4.5z"/>
<path fill="#81a8bd" d="M485.9 75.2l.9-3.5l-.4-.4l-.9 3.5z"/>
<path fill="#5d93b1" d="M480.3 79.4l-.5-4.4l1.3 .6l.4 4.4z"/>
<path fill="#c98166" d="M458.9 37.9l-.8 2l-2.9 1.8l.9-2z"/>
<path fill="#e4a88a" d="M503.1 46.2l1.1-4.7l-2.9-1.9l-1 4.8z"/>
<path fill="#a58d7e" d="M488.2 43.2l.5 6.3l-2.8-.5l-.3-6.3z"/>
<path fill="#a8c3d2" d="M500.6 70.2l1.6-2.9l-.7-2.5l-1.6 2.9z"/>
<path fill="#d5bdae" d="M465 49.6l-1-5.7l-2.6 2l1.1 5.7z"/>
<path fill="#9fbdcc" d="M486.5 71.9l.6-4.5l-1.1-1l-.5 4.6z"/>
<path fill="#bdcfdb" d="M485.9 67.4l.4-4.3l-1.4-.5l-.3 4.3z"/>
<path fill="#5d93b1" d="M484 80l.4-4.3l1.3-.5l-.4 4.3z"/>
<path fill="#b4bdc3" d="M502.6 63.6l1.3-5.8l-1.6-2.4l-1.2 5.9z"/>
<path fill="#c66c57" d="M506.1 38.1l1.2 .2l-2.3-2l-1.1-.1z"/>
<path fill="#81a8bd" d="M479.2 75.1l-.1-3.8l.6 .4l0 3.7z"/>
<path fill="#5d93b1" d="M480.6 79.6l-.4-4.3l1.3 .5l.3 4.3z"/>
<path fill="#aeaeb1" d="M473.9 49.4l-.9 6.3l-2.4 1.3l1-6.4z"/>
<path fill="#b7c9d5" d="M480.8 67l-.4-4.3l-1.4 .6l.4 4.3z"/>
<path fill="#9cb4c3" d="M498.3 67.3l1.6 2l0-1.6l-1.5-1.9z"/>
<path fill="#96b4c3" d="M480 70.9l-.6-4.7l-1 1.2l.6 4.6z"/>
<path fill="#c6d2d8" d="M483.8 63.4l.1-4.1l-1.7 0l0 4.1z"/>
<path fill="#5d93b1" d="M483.6 80l.3-4.3l1.3-.4l-.4 4.3z"/>
<path fill="#ab9081" d="M479.1 42.8l-.4 6.3l-2.8 .5l.6-6.3z"/>
<path fill="#c3d2d8" d="M483.1 63.3l0-4.1l-1.7 .1l.1 4.1z"/>
<path fill="#c6d2d8" d="M484.4 63.5l.2-4.1l-1.7-.1l-.1 4.1z"/>
<path fill="#81a8bd" d="M485.7 75.7l.1-4l.7-.5l-.1 4z"/>
<path fill="#baccd8" d="M486.4 67.7l.5-4.3l-1.4-.6l-.4 4.3z"/>
<path fill="#5d93b1" d="M480.9 79.7l-.3-4.3l1.4 .3l.2 4.2z"/>
<path fill="#c3cfd5" d="M482.4 63.3l-.1-4.1l-1.7 .2l.2 4.1z"/>
<path fill="#c98d72" d="M511.3 42.2l.8 2l-2.6-1.9l-.8-2z"/>
<path fill="#9cbac9" d="M486.6 72.2l.7-4.5l-.9-1.2l-.7 4.6z"/>
<path fill="#5d93b1" d="M483.3 80.1l.2-4.2l1.4-.3l-.3 4.2z"/>
<path fill="#c3cfd8" d="M485.1 63.6l.2-4.1l-1.6-.3l-.2 4.1z"/>
<path fill="#d5b19f" d="M453.6 44.1l-.6 1.5l-2.2 1.9l.7-1.5z"/>
<path fill="#5d93b1" d="M481.2 79.9l-.2-4.2l1.4 .2l.2 4.2z"/>
<path fill="#81a8bd" d="M479.3 75.3l-.2-4.2l.8 .7l.2 4.2z"/>
<path fill="#5d93b1" d="M482.9 80.1l.1-4.2l1.4-.2l-.2 4.2z"/>
<path fill="#a8b7c0" d="M468.5 62.1l-.6 3.5l-1 1.1l.6-3.6z"/>
<path fill="#a88d81" d="M489.8 43.6l.7 6.4l-2.7-.7l-.5-6.3z"/>
<path fill="#b4c6cf" d="M480.3 67.1l-.4-4.3l-1.3 .7l.5 4.3z"/>
<path fill="#c0ccd5" d="M481.7 63.4l-.2-4.1l-1.6 .3l.3 4.1z"/>
<path fill="#5d93b1" d="M481.6 79.9l-.2-4.2l1.4 .1l.1 4.2zM482.5 80l0-4.2l1.4-.1l-.1 4.2zM482 80l-.1-4.2l1.4 0l0 4.2z"/>
<path fill="#abb4b7" d="M470.5 56.3l-.8 5.2l-1.5 1.4l.9-5.3z"/>
<path fill="#93b1c0" d="M479.8 71.1l-.8-4.3l-.7 1l.8 4.3z"/>
<path fill="#c3cfd5" d="M485.7 63.8l.3-4.1l-1.6-.4l-.2 4.1z"/>
<path fill="#81a8bd" d="M485.3 76.3l.3-4.4l1-.8l-.3 4.4z"/>
<path fill="#e18a6c" d="M503.9 42.4l1.2-3.4l-3-1.9l-1.1 3.5z"/>
<path fill="#de755d" d="M505.4 38.4l2.1-.5l-3.4-2.2l-1.9 .6z"/>
<path fill="#b4b4b7" d="M464.2 55.9l-1.1-6.2l-1.9 2.3l1.2 6.1z"/>
<path fill="#b7c9d5" d="M486.7 68l.5-4.3l-1.2-.8l-.5 4.3z"/>
<path fill="#aeaeb1" d="M494.5 51.1l1.1 6.5l-2.2-1.5l-1-6.4z"/>
<path fill="#cfbdb1" d="M515.9 50l1.7 .8l-1.5-3l-1.6-.8z"/>
<path fill="#b1d2e1" d="M466.4 67.8l-1.9 .1l-.2 2.2l1.9-.2z"/>
<path fill="#bdc9d2" d="M481.1 63.5l-.3-4.1l-1.5 .4l.4 4.1z"/>
<path fill="#96b4c3" d="M486.4 72l.9-4l-.6-.8l-.9 4z"/>
<path fill="#c6755d" d="M459.6 37.1l-.8 1.5l-2.7 1.6l.8-1.6z"/>
<path fill="#81a8bd" d="M479.4 75.6l-.5-4.5l1.1 .9l.4 4.5z"/>
<path fill="#aec0c9" d="M501.7 68.1l1.5-4.3l-.8-2.2l-1.5 4.3z"/>
<path fill="#e17b63" d="M504.7 39.8l1.4-2l-3.1-2l-1.3 2.1z"/>
<path fill="#ae9384" d="M477.4 43.1l-.6 6.4l-2.6 .8l.7-6.4z"/>
<path fill="#aec0cc" d="M479.9 67.3l-.5-4.4l-1.2 .9l.5 4.3z"/>
<path fill="#c0ccd5" d="M486.2 64.1l.4-4.1l-1.5-.5l-.3 4.1z"/>
<path fill="#d8c0b4" d="M503.7 52.4l1.2-5.7l-2.3-2.2l-1.1 5.7z"/>
<path fill="#81a8bd" d="M484.9 76.7l.5-4.6l1.3-1l-.6 4.6z"/>
<path fill="#c9cfd2" d="M483.8 60.1l.1-4l-1.8 0l0 4z"/>
<path fill="#93b1c0" d="M479.7 71.3l-.9-3.7l-.5 .6l.9 3.7z"/>
<path fill="#c6cfd2" d="M483 60.1l0-4l-1.8 .1l.1 4z"/>
<path fill="#a2bac9" d="M465.4 68.2l-1.6-2.6l-.4 2.2l1.7 2.5z"/>
<path fill="#c9cfd2" d="M484.6 60.2l.2-4l-1.7-.2l-.1 4z"/>
<path fill="#b1c6cf" d="M486.9 68.4l.6-4.4l-1.1-1l-.5 4.4z"/>
<path fill="#bac6cc" d="M480.5 63.6l-.4-4.1l-1.4 .6l.4 4.1z"/>
<path fill="#db9f87" d="M464.1 44.9l-1.1-4.8l-2.6 2l1.2 4.7z"/>
<path fill="#81a8bd" d="M479.6 75.9l-.5-4.5l1.3 .8l.5 4.5z"/>
<path fill="#c6cccf" d="M482.3 60.1l-.1-4l-1.7 .2l.2 4z"/>
<path fill="#a5bdcc" d="M467.1 65.9l-1.6 2.3l.2 1.9l1.6-2.3z"/>
<path fill="#93b1c0" d="M486.4 71.7l.9-3.4l-.4-.4l-.9 3.4z"/>
<path fill="#d2a28a" d="M454.6 42.7l-.7 1.7l-2.2 1.9l.7-1.8z"/>
<path fill="#c6ccd2" d="M485.3 60.4l.2-4l-1.7-.3l-.2 4z"/>
<path fill="#c67e63" d="M510.4 40.8l.8 1.9l-2.5-1.8l-.8-1.9z"/>
<path fill="#a8b7c0" d="M497.3 64l1.4 3.2l.1-1.2l-1.4-3.1z"/>
<path fill="#ab9081" d="M491.3 44.1l.8 6.5l-2.6-.9l-.7-6.4z"/>
<path fill="#abb4b7" d="M496.9 58.2l.8 5.1l-1.3-1.3l-.7-5.1z"/>
<path fill="#bdc9d2" d="M486.7 64.3l.5-4.1l-1.4-.7l-.4 4.1z"/>
<path fill="#81a8bd" d="M484.6 76.7l.4-4.4l1.3-.7l-.5 4.5z"/>
<path fill="#abb4ba" d="M464 61.8l-1.3-5.6l-1.2 2.3l1.4 5.5z"/>
<path fill="#d2baab" d="M514.9 49l1.5 1l-1.3-2.7l-1.5-.9z"/>
<path fill="#abbac6" d="M479.6 67.5l-.6-4.5l-1 1.2l.6 4.5z"/>
<path fill="#c3c9cf" d="M481.5 60.2l-.2-4l-1.7 .3l.3 4z"/>
<path fill="#aeaeb1" d="M472.6 49.9l-1 6.4l-2 1.5l1.1-6.5z"/>
<path fill="#81a8bd" d="M479.9 76.1l-.5-4.4l1.3 .6l.4 4.4z"/>
<path fill="#93b1c0" d="M478.8 71.6l-.1-3.7l.6 .4l0 3.6z"/>
<path fill="#c6cccf" d="M485.9 60.6l.3-3.9l-1.6-.4l-.2 4z"/>
<path fill="#b7c3c9" d="M480 63.8l-.4-4.1l-1.3 .7l.5 4.1z"/>
<path fill="#aec0cc" d="M487 68.8l.7-4.4l-.9-1.2l-.7 4.4z"/>
<path fill="#cc6f5a" d="M460.4 36.7l-1.3 .2l-2 2.1l1.3-.3z"/>
<path fill="#81a8bd" d="M484.3 76.7l.4-4.3l1.4-.5l-.4 4.3z"/>
<path fill="#93b1c0" d="M486.2 72.3l.1-3.9l.7-.6l-.1 3.9z"/>
<path fill="#c0c6cc" d="M480.8 60.3l-.3-4l-1.6 .5l.4 3.9z"/>
<path fill="#b1cfe1" d="M499.2 70.5l1.9 .3l.2-2.2l-1.9-.1z"/>
<path fill="#bac6cc" d="M487.1 64.7l.5-4.1l-1.3-.8l-.5 4.2z"/>
<path fill="#b7baba" d="M503.6 59l1.2-6.1l-1.6-2.5l-1.2 6.2z"/>
<path fill="#81a8bd" d="M480.2 76.3l-.4-4.3l1.4 .5l.3 4.3z"/>
<path fill="#b19687" d="M475.9 43.5l-.7 6.4l-2.4 1l.9-6.5z"/>
<path fill="#c9cccf" d="M483.9 57.1l.1-3.8l-1.8 0l0 3.8z"/>
<path fill="#c9cccc" d="M483 57l0-3.8l-1.8 .1l.1 3.8z"/>
<path fill="#c3c9cc" d="M486.5 60.9l.4-3.9l-1.6-.5l-.3 4z"/>
<path fill="#a8b7c3" d="M479.4 67.7l-.8-4.2l-.7 1l.8 4.1z"/>
<path fill="#81a8bd" d="M483.9 76.7l.3-4.3l1.4-.4l-.4 4.3z"/>
<path fill="#d2ccc6" d="M449.7 48.5l-5.6 1.2l-1.7 3.7l5.8-1.6z"/>
<path fill="#c9cccf" d="M484.7 57.2l.2-3.8l-1.8-.2l-.1 3.8z"/>
<path fill="#93b1c0" d="M478.8 71.9l-.2-4.1l.8 .7l.2 4.1z"/>
<path fill="#81a8bd" d="M480.6 76.4l-.3-4.3l1.4 .3l.2 4.2z"/>
<path fill="#c9c9cc" d="M482.2 57l-.1-3.8l-1.8 .2l.2 3.8z"/>
<path fill="#d88469" d="M463.3 41l-1.1-3.5l-2.7 2.1l1.2 3.4z"/>
<path fill="#b1bdc3" d="M479.5 64l-.5-4.2l-1.2 .9l.5 4.2z"/>
<path fill="#d2ae9c" d="M513.9 47.7l1.4 1.1l-1.1-2.5l-1.4-1z"/>
<path fill="#81a8bd" d="M483.4 76.8l.2-4.2l1.4-.3l-.3 4.2z"/>
<path fill="#aeaeb1" d="M495.3 51.9l1 6.4l-1.8-1.5l-.9-6.4z"/>
<path fill="#bdc3c6" d="M480.2 60.4l-.4-4l-1.5 .6l.4 3.9z"/>
<path fill="#a5c0cc" d="M500.4 70.9l1.6-2.2l-.1-2l-1.6 2.3z"/>
<path fill="#c9cccc" d="M485.5 57.3l.2-3.8l-1.8-.3l-.2 3.8z"/>
<path fill="#a2bac9" d="M498.2 68.3l1.6 2.6l.4-2.1l-1.7-2.6z"/>
<path fill="#abbac6" d="M486.9 68.6l.9-3.9l-.6-.9l-.9 3.9z"/>
<path fill="#db755d" d="M462.1 36.9l-1.9-.6l-3 2.3l2.1 .4z"/>
<path fill="#93b1c0" d="M485.7 72.9l.3-4.3l1-.8l-.3 4.3z"/>
<path fill="#a8b7c0" d="M464.4 66.5l-1.5-4l-.5 1.9l1.5 3.9z"/>
<path fill="#d29378" d="M455.6 41.2l-.7 1.8l-2.1 1.9l.7-1.9z"/>
<path fill="#81a8bd" d="M481.1 76.6l-.2-4.2l1.4 .2l.2 4.2z"/>
<path fill="#c3725a" d="M509.4 39.7l.7 1.5l-2.4-1.6l-.7-1.5z"/>
<path fill="#81a8bd" d="M483 76.8l.1-4.2l1.5-.2l-.2 4.2z"/>
<path fill="#abb4b7" d="M469.5 57.5l-.6 4.9l-1 1.1l.7-4.9z"/>
<path fill="#c6c9c9" d="M481.4 57.1l-.2-3.8l-1.7 .3l.3 3.8z"/>
<path fill="#b7c0c9" d="M487.3 65.1l.6-4.2l-1.1-1.1l-.5 4.2z"/>
<path fill="#81a8bd" d="M481.5 76.7l-.2-4.2l1.5 .1l.1 4.2z"/>
<path fill="#c0c6c9" d="M487.1 61.2l.5-3.9l-1.4-.7l-.4 4z"/>
<path fill="#81a8bd" d="M482.5 76.8l0-4.2l1.5-.1l-.1 4.2z"/>
<path fill="#abbac6" d="M468 62.9l-1.5 3.5l.3 1.5l1.5-3.6z"/>
<path fill="#ae9384" d="M492.5 44.8l.9 6.6l-2.4-1.1l-.8-6.5z"/>
<path fill="#9f634e" d="M484.5 38.3l.1 5.3l-2.8-.1l.1-5.3z"/>
<path fill="#e1a58a" d="M504.6 47.7l1.2-4.7l-2.4-2.2l-1.1 4.8z"/>
<path fill="#81a8bd" d="M482 76.7l-.1-4.2l1.5 0l0 4.2z"/>
<path fill="#db7860" d="M462.5 38.4l-1.3-2l-2.7 2.1l1.5 1.9z"/>
<path fill="#cfb7ab" d="M463.3 50.8l-1.1-5.8l-2 2.4l1.2 5.7z"/>
<path fill="#a2664e" d="M482.8 38.2l-.1 5.3l-2.8 .1l.2-5.3z"/>
<path fill="#c6c9cc" d="M486.2 57.6l.3-3.8l-1.7-.4l-.2 3.8z"/>
<path fill="#a8b7c3" d="M479.2 67.9l-.9-3.6l-.5 .6l.9 3.5z"/>
<path fill="#93b1c0" d="M479 72.2l-.5-4.4l1.2 .9l.4 4.4z"/>
<path fill="#b1babd" d="M502.8 64.6l1.5-5.3l-.9-2.1l-1.4 5.3z"/>
<path fill="#a2634e" d="M486.1 38.5l.3 5.3l-2.8-.2l-.1-5.3z"/>
<path fill="#aeb7c0" d="M479.2 64.2l-.6-4.3l-1.1 1.3l.6 4.3z"/>
<path fill="#bac0c3" d="M479.6 60.6l-.4-4l-1.4 .8l.5 3.9z"/>
<path fill="#93b1c0" d="M485.2 73.3l.5-4.5l1.3-1l-.6 4.5z"/>
<path fill="#c3c6c6" d="M480.6 57.2l-.3-3.8l-1.7 .5l.4 3.8z"/>
<path fill="#a8b7c3" d="M486.8 68.4l.9-3.2l-.4-.4l-.9 3.3z"/>
<path fill="#a26651" d="M481.1 38.3l-.2 5.3l-2.7 .3l.4-5.3z"/>
<path fill="#c6c6c9" d="M486.8 57.8l.4-3.8l-1.6-.6l-.3 3.8z"/>
<path fill="#bdc3c6" d="M487.5 61.6l.5-4l-1.3-.9l-.5 4z"/>
<path fill="#93b1c0" d="M479.2 72.5l-.5-4.4l1.3 .9l.5 4.4z"/>
<path fill="#b1bdc3" d="M487.4 65.5l.7-4.2l-.9-1.2l-.7 4.2z"/>
<path fill="#a2664e" d="M487.7 38.8l.5 5.3l-2.7-.4l-.3-5.3z"/>
<path fill="#b1d2e1" d="M466.2 69l-1.9 .2l.6 2.1l1.9-.3z"/>
<path fill="#cf9f87" d="M512.9 46.2l1.4 1.2l-1-2.4l-1.3-1.2z"/>
<path fill="#a8b7c3" d="M478.3 68.2l0-3.5l.6 .4l0 3.5z"/>
<path fill="#aeaeb1" d="M471.4 50.9l-.8 6.2l-1.5 1.4l.9-6.3z"/>
<path fill="#c96f57" d="M507.9 39.8l1.5 .4l-1.8-2.3l-1.4-.4z"/>
<path fill="#b7998a" d="M474.6 43.9l-.9 6.6l-2.2 1.2l1-6.7z"/>
<path fill="#93b1c0" d="M484.9 73.3l.4-4.3l1.4-.8l-.5 4.4z"/>
<path fill="#d8c3b7" d="M450.4 47.8l-1.8 1l-1.1 3.2l1.8-1.1z"/>
<path fill="#c0c0c3" d="M479.9 57.4l-.4-3.8l-1.5 .6l.4 3.8z"/>
<path fill="#abb4b7" d="M497.2 59.2l.6 4.7l-.7-1l-.6-4.7z"/>
<path fill="#e1cfc3" d="M483.9 54.1l.1-7.1l-2 0l0 7.1z"/>
<path fill="#b4babd" d="M479.1 60.8l-.5-4l-1.2 1l.6 4z"/>
<path fill="#e1ccc3" d="M483 54.1l0-7.1l-2 .1l.2 7.1z"/>
<path fill="#cf8469" d="M456.4 39.9l-.7 1.7l-2.1 1.8l.7-1.8z"/>
<path fill="#a8b4ba" d="M478.9 64.4l-.8-4l-.7 1.1l.8 4z"/>
<path fill="#a56651" d="M479.5 38.4l-.4 5.3l-2.6 .5l.6-5.4z"/>
<path fill="#a8b7c3" d="M486.6 69l.1-3.7l.7-.6l-.1 3.7z"/>
<path fill="#e1cfc3" d="M484.8 54.2l.3-7.1l-2-.2l-.1 7.1z"/>
<path fill="#93b1c0" d="M479.6 72.7l-.5-4.3l1.4 .7l.4 4.3z"/>
<path fill="#a8b7c0" d="M497.2 64.9l1.5 3.9l.5-1.7l-1.5-3.8z"/>
<path fill="#aeb1b1" d="M463 57.1l-1.3-5.9l-1.2 2.3l1.4 5.9z"/>
<path fill="#a8c3d2" d="M467 66.5l-1.6 2.9l.7 2.3l1.6-3z"/>
<path fill="#de876c" d="M505.5 44l1.3-3.4l-2.4-2.2l-1.2 3.5z"/>
<path fill="#c3c3c6" d="M487.4 58.2l.5-3.8l-1.5-.7l-.4 3.8z"/>
<path fill="#abbac6" d="M501.6 68.9l1.5-3.6l-.3-1.7l-1.5 3.6z"/>
<path fill="#deccc0" d="M482.1 54.1l-.2-7.1l-1.9 .2l.4 7.1z"/>
<path fill="#93b1c0" d="M484.5 73.4l.4-4.2l1.4-.6l-.4 4.2z"/>
<path fill="#9cb7c3" d="M465.3 69.4l-1.6-1.9l.1 1.8l1.6 1.9z"/>
<path fill="#b7c0c3" d="M487.8 62l.6-4l-1.2-1.1l-.5 4.1z"/>
<path fill="#e1ccc3" d="M485.6 54.4l.5-7.1l-1.9-.3l-.3 7.1z"/>
<path fill="#aeb7bd" d="M487.3 65.4l.9-3.7l-.6-.9l-.9 3.7z"/>
<path fill="#a8b7c3" d="M478.4 68.6l-.2-4l.9 .8l.2 3.9z"/>
<path fill="#a26651" d="M489.2 39.2l.7 5.4l-2.6-.6l-.5-5.4z"/>
<path fill="#de755d" d="M507 40l2.1-.3l-2.6-2.5l-1.9 .5z"/>
<path fill="#93b1c0" d="M479.9 72.9l-.4-4.2l1.4 .5l.3 4.2z"/>
<path fill="#b19687" d="M493.6 45.5l1.1 6.8l-2.2-1.4l-1-6.7z"/>
<path fill="#babdbd" d="M479.3 57.6l-.4-3.8l-1.4 .8l.5 3.8z"/>
<path fill="#dbc9c0" d="M481.2 54.2l-.4-7.1l-1.9 .4l.6 7.1z"/>
<path fill="#d2bdae" d="M504.6 54.1l1.3-5.8l-1.7-2.5l-1.2 5.8z"/>
<path fill="#dbc0b1" d="M451.2 47l-1.7 1.2l-.9 3l1.7-1.2z"/>
<path fill="#de7b60" d="M506.3 41.4l1.5-1.9l-2.4-2.3l-1.4 2z"/>
<path fill="#93b1c0" d="M484.1 73.4l.3-4.2l1.5-.4l-.4 4.2z"/>
<path fill="#aeaeb1" d="M495.9 52.8l.8 6.1l-1.3-1.3l-.7-6.1z"/>
<path fill="#a8b7c3" d="M486.1 69.6l.3-4.1l1-.9l-.3 4.1z"/>
<path fill="#b1b7ba" d="M478.8 61l-.6-4.2l-1.1 1.3l.6 4.1z"/>
<path fill="#a8b4ba" d="M478.8 64.6l-.9-3.4l-.5 .7l.9 3.4z"/>
<path fill="#deccc0" d="M486.4 54.7l.6-7l-1.8-.5l-.5 7.1z"/>
<path fill="#93b1c0" d="M480.4 73.1l-.3-4.2l1.5 .4l.2 4.1z"/>
<path fill="#c0c0c3" d="M487.9 58.6l.5-3.8l-1.4-.9l-.5 3.9z"/>
<path fill="#cc9075" d="M512.6 44.2l.6 1.8l-1.7-1.8l-.6-1.7z"/>
<path fill="#d59c81" d="M462.4 46.2l-1.2-4.8l-2 2.4l1.3 4.7z"/>
<path fill="#abb4b7" d="M463.4 63l-1.5-5l-.5 1.9l1.5 4.9z"/>
<path fill="#a86954" d="M478 38.7l-.6 5.4l-2.5 .7l.8-5.4z"/>
<path fill="#93b1c0" d="M483.6 73.5l.2-4.1l1.5-.3l-.3 4.1z"/>
<path fill="#b1d2e1" d="M498.5 71.6l1.9 .4l.9-2.1l-1.9-.3z"/>
<path fill="#d8c6bd" d="M480.4 54.3l-.6-7.1l-1.8 .5l.7 7z"/>
<path fill="#a8b7c3" d="M478.6 68.9l-.5-4.3l1.2 1l.4 4.2z"/>
<path fill="#93b1c0" d="M480.9 73.3l-.2-4.1l1.5 .2l.2 4.1z"/>
<path fill="#b4babd" d="M487.9 62.5l.7-4.1l-.9-1.3l-.7 4.1z"/>
<path fill="#a8b4ba" d="M487.3 65.2l.9-3.1l-.4-.5l-.9 3.1z"/>
<path fill="#cfc9c6" d="M517.5 53.2l5.7 1.8l-1.1-3.8l-5.6-1.4z"/>
<path fill="#cc785d" d="M457.3 38.9l-1.3 .8l-1.2 2.2l1.3-.8z"/>
<path fill="#abb4ba" d="M469 58.6l-1.5 4.6l.3 1.3l1.5-4.7z"/>
<path fill="#93b1c0" d="M483.1 73.5l.1-4.1l1.5-.2l-.2 4.1zM481.4 73.4l-.2-4.1l1.5 .1l.1 4.1zM482.5 73.5l0-4.1l1.5-.1l-.1 4.1z"/>
<path fill="#b7baba" d="M478.8 57.8l-.5-3.9l-1.3 1l.6 3.9z"/>
<path fill="#a5c0cc" d="M497.7 69.3l1.5 3l1-2.2l-1.5-2.9z"/>
<path fill="#93b1c0" d="M481.9 73.5l-.1-4.1l1.5 0l0 4.1z"/>
<path fill="#dbc9bd" d="M487.1 55l.8-7l-1.7-.6l-.6 7.1z"/>
<path fill="#a8b7c3" d="M485.6 70.1l.5-4.4l1.3-1l-.6 4.4z"/>
<path fill="#aec0c9" d="M467.9 63.4l-1.5 4.2l.8 1.9l1.5-4.2z"/>
<path fill="#a56651" d="M490.6 39.6l.8 5.5l-2.4-.8l-.7-5.5z"/>
<path fill="#dbb4a2" d="M452.1 45.9l-1.6 1.3l-.8 2.7l1.6-1.4z"/>
<path fill="#ba9f90" d="M473.4 44.4l-1 6.7l-2 1.5l1.1-6.8z"/>
<path fill="#a8b4ba" d="M477.9 65l0-3.3l.6 .4l0 3.3z"/>
<path fill="#abb1b4" d="M478.5 61.3l-.8-3.8l-.7 1.1l.8 3.8z"/>
<path fill="#b4b4b7" d="M503.8 60l1.4-5.6l-.9-2.2l-1.4 5.7z"/>
<path fill="#a2bac9" d="M500 71.6l1.4-1.6l.2-1.6l-1.5 1.7z"/>
<path fill="#babdbd" d="M488.2 59.1l.6-3.9l-1.2-1.1l-.5 3.9z"/>
<path fill="#a8b7c3" d="M478.9 69.2l-.5-4.3l1.4 .9l.5 4.3z"/>
<path fill="#d5c3ba" d="M479.6 54.5l-.7-7.1l-1.7 .7l.9 7z"/>
<path fill="#aeaeb1" d="M470.5 52.1l-.6 5.9l-1 1.1l.7-5.9z"/>
<path fill="#a8b4ba" d="M487 65.8l.1-3.5l.7-.6l-.1 3.5z"/>
<path fill="#a8b7c0" d="M464.3 67.7l-1.4-3.3l0 1.5l1.4 3.2z"/>
<path fill="#aeb4ba" d="M487.8 62.4l.9-3.5l-.6-1l-.9 3.6z"/>
<path fill="#a8b7c3" d="M485.2 70.1l.4-4.2l1.4-.8l-.5 4.2z"/>
<path fill="#f0a88a" d="M484 47.9l.1-6.4l-2.1 0l.1 6.4z"/>
<path fill="#eda88a" d="M483 47.9l-.1-6.4l-2.1 .1l.2 6.4z"/>
<path fill="#d8c6bd" d="M487.7 55.3l.9-7l-1.6-.8l-.8 7z"/>
<path fill="#c98166" d="M510.9 43.2l1.4 1.2l-.9-2.3l-1.3-1.2z"/>
<path fill="#cf725a" d="M458.6 38.1l-1.6 .5l-1.6 2.4l1.6-.6z"/>
<path fill="#9c4839" d="M484.3 36.3l.2 2.9l-2.6-.1l.1-2.9z"/>
<path fill="#f0a88a" d="M485.1 48l.3-6.4l-2.1-.2l-.1 6.4z"/>
<path fill="#ae6c54" d="M476.6 39l-.8 5.5l-2.4 .9l.9-5.6z"/>
<path fill="#b1b4b4" d="M478.4 58.1l-.6-4l-1.1 1.3l.6 4z"/>
<path fill="#9c4839" d="M482.8 36.3l-.1 2.9l-2.6 .1l.3-2.9z"/>
<path fill="#d58166" d="M461.5 42.4l-1.3-3.5l-2 2.4l1.3 3.4z"/>
<path fill="#a8b7c3" d="M479.2 69.5l-.5-4.1l1.4 .7l.4 4.1z"/>
<path fill="#abb4b7" d="M496.2 60.3l1.5 5l.5-1.5l-1.5-5z"/>
<path fill="#eda887" d="M481.9 47.9l-.2-6.4l-2.1 .3l.4 6.4z"/>
<path fill="#9c4839" d="M485.8 36.5l.4 2.9l-2.6-.2l-.2-2.9z"/>
<path fill="#b79c8a" d="M494.4 46.3l1 6.7l-1.7-1.4l-.9-6.6z"/>
<path fill="#a8b4ba" d="M478 65.4l-.2-3.8l.9 .8l.2 3.8z"/>
<path fill="#d5c0b4" d="M516.5 52.3l1.9 1.3l-.8-3.4l-1.9-1.3z"/>
<path fill="#abb1b4" d="M478.3 61.5l-.9-3.2l-.5 .7l.9 3.2z"/>
<path fill="#eda88a" d="M486.1 48.2l.5-6.4l-2.1-.3l-.3 6.4z"/>
<path fill="#abb4ba" d="M502.6 65.4l1.5-4.6l-.3-1.7l-1.5 4.7z"/>
<path fill="#a8b7c3" d="M484.8 70.2l.4-4.1l1.5-.6l-.4 4.1z"/>
<path fill="#d8a58d" d="M453 44.5l-1.5 1.4l-.7 2.6l1.5-1.5z"/>
<path fill="#cfc0b4" d="M479 54.7l-.9-7l-1.5 .8l1 7z"/>
<path fill="#b1d2e4" d="M466.4 70.1l-2 .3l1.3 2l1.9-.5z"/>
<path fill="#9c4b3c" d="M481.3 36.3l-.3 2.9l-2.6 .3l.5-2.9z"/>
<path fill="#c9b4a5" d="M462.1 52.2l-1.3-5.6l-1.3 2.4l1.4 5.5z"/>
<path fill="#b7b7ba" d="M488.3 59.6l.7-3.9l-1-1.3l-.7 4z"/>
<path fill="#db9f84" d="M505.5 49.5l1.3-4.8l-1.7-2.6l-1.2 4.9z"/>
<path fill="#abbac6" d="M496.7 65.8l1.4 4.5l1-2.1l-1.4-4.4z"/>
<path fill="#a8b4ba" d="M486.6 66.5l.3-3.9l1-.9l-.3 3.9z"/>
<path fill="#db755d" d="M459.9 38.3l-1.9-.4l-2.2 2.6l2 .3z"/>
<path fill="#eaa587" d="M480.9 48l-.4-6.4l-2 .4l.6 6.4z"/>
<path fill="#a8b7c3" d="M479.6 69.7l-.4-4.1l1.5 .5l.3 4z"/>
<path fill="#a86954" d="M491.7 40.2l1 5.6l-2.3-1.1l-.8-5.6z"/>
<path fill="#9c4839" d="M487.3 36.7l.6 3l-2.6-.4l-.4-2.9z"/>
<path fill="#d8755d" d="M460.6 39.8l-1.5-1.9l-2 2.4l1.6 1.8z"/>
<path fill="#aec6d5" d="M467.1 67.8l-1.5 2.8l1.3 2l1.4-2.9z"/>
<path fill="#abb1b4" d="M487.7 62.2l.9-2.9l-.4-.5l-.9 2.9z"/>
<path fill="#aeaeb1" d="M496.1 53.7l.6 5.7l-.7-1l-.6-5.6z"/>
<path fill="#d5c3b7" d="M488.2 55.7l1-7l-1.4-.9l-.9 7z"/>
<path fill="#a8b7c3" d="M484.3 70.2l.3-4l1.5-.4l-.4 4z"/>
<path fill="#eda887" d="M487 48.5l.6-6.4l-2-.5l-.5 6.4z"/>
<path fill="#d8bdae" d="M515.5 51.2l1.8 1.5l-.6-3.2l-1.8-1.4z"/>
<path fill="#a8b4ba" d="M478.2 65.8l-.5-4.1l1.2 1l.4 4.1z"/>
<path fill="#aeaeb1" d="M478.1 58.4l-.8-3.7l-.8 1.2l.8 3.7z"/>
<path fill="#a8b7c3" d="M480.1 69.9l-.3-4l1.5 .4l.2 4z"/>
<path fill="#9f4b3c" d="M479.9 36.4l-.5 2.9l-2.5 .5l.7-3z"/>
<path fill="#c6755d" d="M509.9 42.1l1.5 1l-1-2.3l-1.4-1z"/>
<path fill="#a8b7c3" d="M483.7 70.3l.2-4l1.6-.3l-.3 4z"/>
<path fill="#abb1b4" d="M477.4 62l0-3.1l.6 .4l0 3.1z"/>
<path fill="#9cb4c0" d="M464.8 71l-.6-2l1.2 1.1l.6 1.9z"/>
<path fill="#e7a284" d="M479.9 48.1l-.6-6.4l-1.9 .6l.7 6.4z"/>
<path fill="#a8b7c0" d="M501 70l.6-3.6l1.1-1.4l-.6 3.7z"/>
<path fill="#c0a593" d="M472.3 45.3l-.8 6.5l-1.4 1.3l.9-6.6z"/>
<path fill="#a8b4ba" d="M486 67l.5-4.2l1.4-1l-.6 4.2z"/>
<path fill="#ccbab1" d="M478.4 55l-1-7.1l-1.3 1l1.1 7z"/>
<path fill="#a8b7c3" d="M480.7 70.1l-.2-4l1.6 .3l.2 3.9z"/>
<path fill="#de755d" d="M484.1 42.4l.1-4.9l-2.3 0l.1 4.9z"/>
<path fill="#b1b4b4" d="M488.2 59.5l.9-3.4l-.6-1l-.9 3.4z"/>
<path fill="#9c4b3c" d="M488.6 37.1l.8 3l-2.5-.6l-.6-3z"/>
<path fill="#de755d" d="M482.9 42.3l-.1-4.9l-2.3 .1l.2 4.9z"/>
<path fill="#a8b7c3" d="M483.1 70.3l.1-3.9l1.6-.2l-.2 3.9z"/>
<path fill="#b16f57" d="M475.4 39.4l-.9 5.6l-2.2 1.2l1.1-5.7z"/>
<path fill="#b1babd" d="M468.9 59l-1.5 5.3l.8 1.7l1.4-5.4z"/>
<path fill="#de755d" d="M485.3 42.5l.3-4.8l-2.3-.2l-.1 4.9z"/>
<path fill="#d5967b" d="M453.9 43.1l-1.5 1.5l-.6 2.5l1.5-1.5z"/>
<path fill="#aeaeb1" d="M462.4 58.5l-1.5-5.3l-.6 1.9l1.5 5.2z"/>
<path fill="#a8b7c3" d="M481.3 70.2l-.2-3.9l1.6 .1l.1 3.9z"/>
<path fill="#eaa587" d="M487.8 48.9l.8-6.3l-1.9-.6l-.7 6.4z"/>
<path fill="#db604e" d="M484.2 38.4l.2-2.1l-2.5-.1l.1 2.1z"/>
<path fill="#a8b7c3" d="M482.5 70.3l0-3.9l1.6-.1l-.1 3.9z"/>
<path fill="#abb1b4" d="M487.5 62.8l.1-3.3l.7-.6l-.1 3.4z"/>
<path fill="#a8b7c3" d="M481.9 70.3l-.1-3.9l1.6 0l0 3.9z"/>
<path fill="#db604e" d="M482.9 38.4l-.1-2.1l-2.5 .1l.3 2.1z"/>
<path fill="#a8b4ba" d="M478.5 66.1l-.5-4.1l1.4 .9l.5 4.1z"/>
<path fill="#b1d2e1" d="M497.4 72.6l1.9 .5l1.6-1.9l-2-.4z"/>
<path fill="#db755d" d="M481.7 42.4l-.2-4.9l-2.3 .3l.4 4.8z"/>
<path fill="#cfc0b4" d="M488.6 56.2l1.1-7l-1.3-1.2l-1 7.1z"/>
<path fill="#db604e" d="M485.5 38.6l.5-2.1l-2.5-.2l-.2 2.1z"/>
<path fill="#d5b19f" d="M514.5 49.8l1.7 1.6l-.5-2.9l-1.7-1.6z"/>
<path fill="#d88469" d="M506.4 45.7l1.4-3.4l-1.7-2.6l-1.3 3.5z"/>
<path fill="#a8c3d2" d="M496.8 70.3l1.3 2.9l1.6-1.9l-1.4-2.8z"/>
<path fill="#de755d" d="M486.5 42.7l.5-4.8l-2.2-.4l-.3 4.8z"/>
<path fill="#b4c6cf" d="M468 64.2l-1.3 4.5l1.4 2.1l1.3-4.6z"/>
<path fill="#a24b3c" d="M478.6 36.6l-.7 3l-2.5 .7l.9-3.1z"/>
<path fill="#aeaeb1" d="M477.9 58.6l-.9-3.1l-.5 .8l.9 3.1z"/>
<path fill="#a8b4ba" d="M485.6 67l.5-4l1.5-.8l-.5 4z"/>
<path fill="#db604e" d="M481.6 38.4l-.3-2.1l-2.4 .3l.6 2.1z"/>
<path fill="#cc6f5a" d="M509 41.5l1.7 .8l-1.3-2.6l-1.7-.7z"/>
<path fill="#e19f81" d="M479 48.4l-.7-6.4l-1.8 .7l.9 6.3z"/>
<path fill="#aeaeb1" d="M470 53.2l-1.5 5.5l.3 1.2l1.5-5.6z"/>
<path fill="#abb1b4" d="M477.5 62.4l-.2-3.6l.9 .8l.2 3.6z"/>
<path fill="#cfb7ab" d="M504.8 55.2l1.5-5.2l-.9-2.3l-1.4 5.3z"/>
<path fill="#ae6c54" d="M492.7 40.9l1.1 5.8l-2.1-1.4l-1-5.8z"/>
<path fill="#bd9f90" d="M494.9 47.1l.8 6.4l-1.2-1.2l-.7-6.4z"/>
<path fill="#db604e" d="M486.8 38.8l.7-2l-2.4-.4l-.5 2.1z"/>
<path fill="#d8725a" d="M480.5 42.5l-.4-4.8l-2.2 .4l.6 4.8z"/>
<path fill="#abb4b7" d="M462.4 64.5l-.6-4.7l.9 1.4l.6 4.6z"/>
<path fill="#c6b7ab" d="M478 55.3l-1.1-7.1l-1.1 1.4l1.2 7.1z"/>
<path fill="#a8b4ba" d="M478.9 66.4l-.5-4l1.5 .7l.4 3.9z"/>
<path fill="#aeaeb1" d="M488.2 59.4l.9-2.8l-.4-.6l-.9 2.8z"/>
<path fill="#9f4b3c" d="M489.8 37.5l1 3.2l-2.4-.8l-.8-3.1z"/>
<path fill="#e7a284" d="M488.5 49.3l.9-6.3l-1.7-.8l-.8 6.4z"/>
<path fill="#abb1b4" d="M487 63.5l.3-3.7l1.1-.9l-.3 3.8z"/>
<path fill="#d5ccc9" d="M448.4 50.9l-5.6 1.6l-.3 3.7l5.6-1.9z"/>
<path fill="#db755d" d="M487.5 43l.7-4.8l-2.1-.5l-.5 4.8zM508.1 41.7l2-.2l-1.7-2.7l-1.9 .3z"/>
<path fill="#d85d4b" d="M480.3 38.5l-.6-2.1l-2.4 .5l.9 2z"/>
<path fill="#a8b4ba" d="M485.1 67.1l.4-3.9l1.5-.6l-.4 3.9z"/>
<path fill="#db7860" d="M507.3 43.1l1.6-1.8l-1.7-2.5l-1.5 1.9z"/>
<path fill="#9cb4c3" d="M499 72.8l.7-2.1l1.5-1.2l-.7 2.1z"/>
<path fill="#abb4ba" d="M495.7 61.2l1.3 5.6l1-1.9l-1.4-5.6z"/>
<path fill="#d2997e" d="M461.1 47.6l-1.4-4.7l-1.3 2.6l1.4 4.7z"/>
<path fill="#d2876c" d="M454.9 41.6l-1.5 1.4l-.6 2.5l1.5-1.5z"/>
<path fill="#ccbab1" d="M488.8 56.8l1.2-7l-1-1.4l-1.2 7.1z"/>
<path fill="#d2a28a" d="M513.4 48.3l1.6 1.8l-.4-2.8l-1.6-1.7z"/>
<path fill="#a8b4ba" d="M479.3 66.6l-.4-3.9l1.6 .5l.3 3.9z"/>
<path fill="#db604e" d="M488 39.1l1-2l-2.3-.6l-.7 2z"/>
<path fill="#abb1b4" d="M477.7 62.8l-.5-3.9l1.2 1l.4 3.9z"/>
<path fill="#aeaeb1" d="M477 59.1l0-3l.6 .5l0 3z"/>
<path fill="#d5725a" d="M479.4 42.7l-.6-4.8l-2 .6l.8 4.8z"/>
<path fill="#de9c81" d="M478.2 48.6l-.9-6.4l-1.6 .9l1 6.3z"/>
<path fill="#a54e3f" d="M477.4 36.9l-1 3.2l-2.4 .9l1.1-3.2z"/>
<path fill="#b1c0c9" d="M495.9 66.7l1.2 4.6l1.6-1.9l-1.3-4.5z"/>
<path fill="#a8b4ba" d="M484.5 67.2l.3-3.8l1.6-.5l-.4 3.9z"/>
<path fill="#a8b7c0" d="M463.8 69.3l-.8-3.9l1.5 1.5l.7 3.9z"/>
<path fill="#aeaeb1" d="M495.2 54.8l1.5 5.9l.5-1.4l-1.5-5.8z"/>
<path fill="#b7725a" d="M474.3 39.9l-1 5.7l-1.9 1.3l1.1-5.8z"/>
<path fill="#aeb1b1" d="M503.6 60.9l1.5-4.9l-.3-1.7l-1.5 5z"/>
<path fill="#b1d2e4" d="M467 71.2l-2 .5l2 1.9l1.8-.6z"/>
<path fill="#abb1b4" d="M486.4 64l.5-4l1.4-1l-.6 4z"/>
<path fill="#a8b4ba" d="M479.9 66.8l-.3-3.8l1.6 .4l.2 3.8z"/>
<path fill="#d8725a" d="M488.5 43.4l.8-4.7l-2-.7l-.7 4.8z"/>
<path fill="#aeaeb1" d="M487.9 60l.1-3.2l.7-.6l-.1 3.2z"/>
<path fill="#b1ccdb" d="M467.7 69l-1.4 2.8l1.8 1.7l1.3-2.9z"/>
<path fill="#d85d4b" d="M479 38.7l-.9-2l-2.2 .6l1.1 1.9z"/>
<path fill="#c6a899" d="M471.4 46.5l-.6 6.2l-.9 1.1l.7-6.2z"/>
<path fill="#c0b1a8" d="M477.6 55.6l-1.3-6.8l-.8 1.3l1.4 6.8z"/>
<path fill="#e19f81" d="M489.1 49.7l1-6.3l-1.5-1l-.9 6.3z"/>
<path fill="#a8b4ba" d="M483.9 67.3l.2-3.8l1.6-.3l-.3 3.8z"/>
<path fill="#dbc6ba" d="M449.4 49.7l-2 1.6l-.3 3.6l2-1.7z"/>
<path fill="#a24b3c" d="M490.9 38.1l1.2 3.3l-2.3-1.1l-1.1-3.3z"/>
<path fill="#a8b4ba" d="M480.5 67l-.2-3.8l1.7 .3l.2 3.8z"/>
<path fill="#abb1b4" d="M478.1 63.1l-.6-4l1.5 1l.5 3.9z"/>
<path fill="#cf7b60" d="M456 40.4l-1.6 1.2l-.7 2.5l1.6-1.3z"/>
<path fill="#a8b4ba" d="M483.2 67.3l.1-3.8l1.7-.2l-.2 3.8z"/>
<path fill="#d85d4b" d="M489 39.5l1.2-1.9l-2.1-.7l-1 2z"/>
<path fill="#d26f5a" d="M478.4 42.9l-.8-4.8l-1.9 .8l.9 4.7z"/>
<path fill="#c6b4ab" d="M488.7 56.8l1.4-6.5l-.6-1.1l-1.4 6.5z"/>
<path fill="#aeaeb1" d="M477.1 59.6l-.2-3.5l.9 .8l.2 3.4z"/>
<path fill="#a8b4ba" d="M481.2 67.2l-.2-3.8l1.7 .1l.1 3.8z"/>
<path fill="#abb4b7" d="M502 66.8l.6-4.8l1.2-1.5l-.7 4.9z"/>
<path fill="#d29378" d="M512.4 46.7l1.6 1.8l-.4-2.7l-1.6-1.8z"/>
<path fill="#b16f57" d="M493.4 41.6l1 5.7l-1.6-1.3l-.9-5.6z"/>
<path fill="#a8b4ba" d="M482.5 67.3l0-3.7l1.7-.1l-.1 3.8z"/>
<path fill="#b4bdc3" d="M468.9 59.5l-1.3 5.9l1.3 2l1.2-5.9z"/>
<path fill="#a8b4ba" d="M481.8 67.3l-.1-3.7l1.7 0l0 3.7z"/>
<path fill="#d8997e" d="M477.6 48.9l-1-6.4l-1.4 1.1l1.1 6.3z"/>
<path fill="#abb1b4" d="M485.9 64.1l.5-3.8l1.5-.8l-.5 3.9z"/>
<path fill="#e1c3b4" d="M450.3 48.7l-1.8 1.8l-.1 3.4l1.8-1.8z"/>
<path fill="#cf7e63" d="M460.1 43.8l-1.4-3.6l-1.3 2.8l1.5 3.5z"/>
<path fill="#9cb4c0" d="M465.6 72.3l-.9-2.2l1.9 1.2l.8 2.2z"/>
<path fill="#aeaeb1" d="M487.4 60.7l.3-3.6l1.1-.9l-.3 3.6z"/>
<path fill="#d5725a" d="M489.3 43.9l1-4.7l-1.8-.8l-.8 4.8z"/>
<path fill="#c3aea2" d="M461.4 53.6l-1.5-5l-.6 2l1.5 4.9z"/>
<path fill="#c3a593" d="M495.1 48l.6 6l-.7-.9l-.6-5.9z"/>
<path fill="#d55d4b" d="M477.9 39l-1.1-1.9l-2 .8l1.3 1.8z"/>
<path fill="#b1b4b4" d="M469.9 53.5l-1.4 6.2l.8 1.6l1.4-6.3z"/>
<path fill="#a8513f" d="M476.2 37.3l-1.1 3.2l-2.1 1l1.2-3.2z"/>
<path fill="#abb1b4" d="M478.5 63.4l-.5-3.8l1.5 .7l.4 3.8z"/>
<path fill="#b7c9d5" d="M468.6 65.4l-1.2 4.5l1.8 1.7l1.1-4.5z"/>
<path fill="#d59c81" d="M505.8 50.8l1.5-4.4l-.9-2.4l-1.5 4.4z"/>
<path fill="#b1d2e4" d="M496 73.5l1.8 .7l2.3-1.8l-2-.6z"/>
<path fill="#baaba2" d="M477.4 55.9l-1.5-6.2l-.5 .9l1.5 6.1z"/>
<path fill="#aec9d5" d="M495.5 71.1l1.2 3l2-1.6l-1.3-2.9z"/>
<path fill="#de9c7e" d="M489.5 50.3l1.1-6.3l-1.3-1.2l-1.1 6.4z"/>
<path fill="#a8b7c0" d="M499.8 71.6l.8-4l1.8-1.6l-.9 4.1z"/>
<path fill="#d2725a" d="M457.3 39.5l-1.9 1l-1 2.8l1.9-1z"/>
<path fill="#abb1b4" d="M485.4 64.2l.4-3.7l1.6-.6l-.5 3.8z"/>
<path fill="#aeaeb1" d="M477.3 60l-.5-3.8l1.3 1l.4 3.7z"/>
<path fill="#d85d4b" d="M489.9 40l1.3-1.8l-1.9-.9l-1.2 1.9z"/>
<path fill="#cf6c57" d="M477.5 43.2l-.9-4.7l-1.7 .9l1 4.7z"/>
<path fill="#bd755d" d="M473.2 40.7l-.8 5.5l-1.4 1.2l.9-5.6z"/>
<path fill="#debaa5" d="M451.2 47.5l-1.7 1.9l0 3.2l1.7-2z"/>
<path fill="#d2755d" d="M459.2 41.3l-1.6-1.9l-1.2 2.7l1.7 1.8z"/>
<path fill="#c0b1a8" d="M488.6 56.7l1.5-5.8l-.4-.7l-1.5 5.9z"/>
<path fill="#cf8469" d="M511.4 45.1l1.6 1.8l-.4-2.7l-1.6-1.7z"/>
<path fill="#db755d" d="M458.4 39.9l-1.9-.2l-1.2 2.7l2 .1z"/>
<path fill="#abb1b4" d="M479 63.7l-.4-3.7l1.6 .6l.3 3.7z"/>
<path fill="#b1bac0" d="M495 62l1.1 5.9l1.6-1.8l-1.2-5.8z"/>
<path fill="#a54e3f" d="M491.8 38.7l1.1 3.2l-1.9-1l-1-3.2z"/>
<path fill="#aeaeb1" d="M486.7 61.2l.5-3.9l1.4-1.1l-.6 3.9z"/>
<path fill="#d29678" d="M477 49.3l-1.1-6.4l-1.2 1.4l1.2 6.4z"/>
<path fill="#abb1b4" d="M484.7 64.3l.3-3.7l1.6-.5l-.4 3.7z"/>
<path fill="#aeaeb1" d="M461.4 60l-.6-5l.9 1.5l.6 5zM494.8 55.5l1.3 6.5l1-1.7l-1.4-6.5z"/>
<path fill="#d26f57" d="M489.9 44.4l1.1-4.7l-1.6-1l-1 4.7z"/>
<path fill="#d2ccc6" d="M517.2 55.6l5.5 2.1l.3-3.7l-5.6-1.8z"/>
<path fill="#ccae9c" d="M471 47.5l-1.5 5.8l.4 1.1l1.5-5.9z"/>
<path fill="#9cb4c0" d="M497.4 74.2l.9-2.3l2.2-1.3l-.9 2.3z"/>
<path fill="#abb1b4" d="M479.6 64l-.3-3.7l1.7 .4l.3 3.6z"/>
<path fill="#b4c6cf" d="M494.7 67.5l1.1 4.5l2-1.6l-1.2-4.5z"/>
<path fill="#b7a89f" d="M476.5 56.4l-.6-6l.6 .5l.6 5.9z"/>
<path fill="#d25a4b" d="M476.9 39.3l-1.3-1.8l-1.8 1l1.4 1.7z"/>
<path fill="#aeaeb1" d="M477.7 60.3l-.6-3.8l1.5 1l.5 3.8z"/>
<path fill="#abb1b4" d="M484 64.4l.2-3.6l1.7-.3l-.3 3.6z"/>
<path fill="#d8997b" d="M489.7 51l1.2-6.4l-1-1.5l-1.2 6.4z"/>
<path fill="#b7725a" d="M493.9 42.4l.8 5.4l-1.2-1.1l-.7-5.4z"/>
<path fill="#abb4b7" d="M462.8 65.9l-.8-5.1l1.5 1.7l.7 5z"/>
<path fill="#dba890" d="M452.2 46.1l-1.7 2l0 3l1.7-2.1z"/>
<path fill="#b4cfde" d="M468.7 70.1l-1.2 2.9l2.3 1.5l1.1-3z"/>
<path fill="#b1d2e4" d="M468.1 72.3l-2 .7l2.6 1.7l1.8-.8z"/>
<path fill="#abb1b4" d="M480.3 64.2l-.3-3.6l1.7 .3l.2 3.6z"/>
<path fill="#ae5142" d="M475 38l-.9 3.1l-1.7 1l1-3.1z"/>
<path fill="#cc785d" d="M510.4 43.9l1.7 1.6l-.4-2.7l-1.7-1.5z"/>
<path fill="#aeaeb1" d="M486.2 61.4l.5-3.7l1.6-.9l-.5 3.7z"/>
<path fill="#abb1b4" d="M483.3 64.4l.1-3.6l1.7-.2l-.2 3.6z"/>
<path fill="#baaba2" d="M488.3 57.3l.6-6.2l.7-.7l-.7 6.2z"/>
<path fill="#d28166" d="M506.7 47.4l1.6-3.3l-.9-2.7l-1.5 3.4z"/>
<path fill="#c9b4a5" d="M504.6 56.2l1.5-4.6l-.3-1.8l-1.5 4.6z"/>
<path fill="#abb1b4" d="M481 64.3l-.2-3.6l1.7 .2l.1 3.6z"/>
<path fill="#c96c54" d="M476.7 43.6l-1.1-4.7l-1.5 1.1l1.2 4.7z"/>
<path fill="#d55d4b" d="M490.6 40.5l1.5-1.7l-1.7-1.1l-1.3 1.8z"/>
<path fill="#abb1b4" d="M482.6 64.4l0-3.6l1.8-.1l-.1 3.6zM481.8 64.4l-.1-3.6l1.8 0l0 3.6z"/>
<path fill="#d8c3b7" d="M516.2 54.5l1.8 1.7l.3-3.5l-1.9-1.5z"/>
<path fill="#a8b7c0" d="M464.6 70.6l-1-4.2l2.1 1.7l.9 4.1z"/>
<path fill="#bac3c9" d="M469.5 60.7l-1.2 5.7l1.8 1.7l1.1-5.8z"/>
<path fill="#aeaeb1" d="M478.2 60.7l-.5-3.7l1.6 .8l.4 3.7z"/>
<path fill="#cc9075" d="M476.7 49.6l-1.3-6.2l-.8 1.4l1.4 6.1z"/>
<path fill="#c6a899" d="M494.2 48.9l1.5 6.2l.5-1.3l-1.5-6.1z"/>
<path fill="#ab513f" d="M492.4 39.3l.9 3l-1.5-.9l-.9-3z"/>
<path fill="#b1a299" d="M476.6 56.9l-.8-6.4l.9 .9l.7 6.4z"/>
<path fill="#b7b7ba" d="M469.9 54l-1.2 6.8l1.3 1.9l1.2-6.8z"/>
<path fill="#cf725a" d="M509.4 43.3l2 1.3l-.7-3l-2-1.2z"/>
<path fill="#cc937b" d="M460.4 49l-1.5-4.1l-.5 2.2l1.5 4z"/>
<path fill="#cf6c57" d="M490.4 45l1.2-4.7l-1.4-1.3l-1.1 4.7z"/>
<path fill="#aeaeb1" d="M485.6 61.5l.4-3.6l1.6-.7l-.5 3.6z"/>
<path fill="#bdcfd8" d="M469.5 66.5l-1.1 4.5l2.2 1.4l1-4.5z"/>
<path fill="#dbc0b1" d="M515.2 53.3l1.8 2.1l.3-3.6l-1.8-2z"/>
<path fill="#db997e" d="M453.2 44.6l-1.7 2.1l0 2.9l1.7-2.2z"/>
<path fill="#c07860" d="M472.4 41.8l-.6 5.1l-.9 1l.7-5.2z"/>
<path fill="#b1ccdb" d="M494 71.9l1 3l2.5-1.4l-1.2-2.9z"/>
<path fill="#d5755d" d="M507.6 44.9l1.7-1.8l-.8-2.8l-1.7 1.9z"/>
<path fill="#cf5a48" d="M476 39.7l-1.4-1.7l-1.5 1.2l1.5 1.6z"/>
<path fill="#aeaeb1" d="M502.9 62.5l.6-5.2l1.2-1.6l-.7 5.2z"/>
<path fill="#b1d2e4" d="M494.3 74.3l1.7 .9l2.8-1.5l-1.9-.8z"/>
<path fill="#d29378" d="M489.7 51l1.4-5.8l-.6-1.2l-1.4 5.9z"/>
<path fill="#9cb4c0" d="M466.8 73.4l-1-2.4l2.5 1.3l1 2.4z"/>
<path fill="#db755d" d="M508.5 43.5l1.9 0l-.8-2.8l-1.9 .2z"/>
<path fill="#aeaeb1" d="M478.7 61l-.4-3.6l1.7 .6l.3 3.6z"/>
<path fill="#b4a59c" d="M487.8 58l.8-6.5l1.1-1l-.9 6.6z"/>
<path fill="#abb4b7" d="M500.7 68.5l.8-5.2l1.9-1.8l-.9 5.2z"/>
<path fill="#b4bdc3" d="M493.9 62.7l1 5.8l1.9-1.5l-1.1-5.7z"/>
<path fill="#aeaeb1" d="M485 61.6l.3-3.5l1.7-.5l-.4 3.6z"/>
<path fill="#c36954" d="M476.1 44l-1.2-4.8l-1.2 1.4l1.3 4.7z"/>
<path fill="#dbb7a2" d="M514.2 51.9l1.7 2.3l.4-3.4l-1.8-2.2z"/>
<path fill="#b45442" d="M474 38.8l-.8 2.9l-1.2 .8l.8-2.9z"/>
<path fill="#d25a4b" d="M491.1 41.1l1.6-1.6l-1.3-1.3l-1.5 1.7z"/>
<path fill="#aeaeb1" d="M479.4 61.3l-.3-3.5l1.7 .4l.3 3.5z"/>
<path fill="#a8b7c0" d="M498.1 73l1-4.2l2.4-1.7l-1 4.3z"/>
<path fill="#d2b19f" d="M470.9 47.8l-1.4 6.5l.7 1.5l1.4-6.5z"/>
<path fill="#b4b4b4" d="M494.1 56.3l1.1 6.8l1.5-1.8l-1.2-6.8z"/>
<path fill="#ab9c96" d="M476.9 57.3l-1-6.7l1.3 1l.9 6.7z"/>
<path fill="#c68d72" d="M476.4 50l-1.5-5.5l-.5 1l1.5 5.5z"/>
<path fill="#bd755d" d="M494.1 43.2l.6 5l-.7-.8l-.6-4.9z"/>
<path fill="#b7c9d5" d="M493.3 68.3l.9 4.5l2.4-1.3l-1.1-4.5z"/>
<path fill="#d88a6c" d="M454.2 43.1l-1.7 2l0 2.9l1.7-2.1z"/>
<path fill="#aeaeb1" d="M484.2 61.7l.2-3.5l1.8-.3l-.3 3.5zM480.1 61.5l-.3-3.5l1.8 .3l.2 3.5z"/>
<path fill="#c96c54" d="M490.7 45.8l1.3-4.8l-1.1-1.6l-1.2 4.8z"/>
<path fill="#b7d2e1" d="M470.1 71l-1.1 3l2.7 1.3l1-3z"/>
<path fill="#b1a299" d="M487.1 58.6l1-6.7l1.5-1.1l-1.1 6.8z"/>
<path fill="#aeaeb1" d="M483.4 61.8l.1-3.5l1.8-.2l-.2 3.5z"/>
<path fill="#9cb4c0" d="M495.4 75.3l1-2.4l2.8-1.3l-1.1 2.4z"/>
<path fill="#bda89c" d="M460.4 55.2l-.6-4.7l.9 1.5l.6 4.6z"/>
<path fill="#b1d2e4" d="M469.5 73.3l-1.9 .8l3 1.4l1.6-1z"/>
<path fill="#cc9075" d="M489.6 51l1.5-5.2l-.4-.8l-1.5 5.2z"/>
<path fill="#aeaeb1" d="M480.9 61.6l-.2-3.5l1.8 .2l.1 3.5z"/>
<path fill="#d8a58d" d="M513.2 50.3l1.7 2.4l.4-3.2l-1.7-2.4z"/>
<path fill="#ae5142" d="M492.9 40l.7 2.8l-1-.7l-.7-2.7z"/>
<path fill="#aeaeb1" d="M482.6 61.8l0-3.5l1.8-.1l-.1 3.5zM481.7 61.7l-.1-3.5l1.8 0l0 3.4z"/>
<path fill="#c97b63" d="M459.4 45.4l-1.6-3l-.5 2.5l1.6 3z"/>
<path fill="#cc5748" d="M475.3 40.1l-1.5-1.6l-1.1 1.3l1.6 1.5z"/>
<path fill="#bdc6cc" d="M470.4 61.7l-1.1 5.7l2.1 1.4l.9-5.8z"/>
<path fill="#cf997e" d="M505.6 51.8l1.5-3.7l-.3-2l-1.5 3.8z"/>
<path fill="#ccae9c" d="M493.8 49.6l1.3 6.8l1-1.7l-1.4-6.8z"/>
<path fill="#a89990" d="M477.3 57.7l-1.1-6.8l1.6 1.1l1 6.7z"/>
<path fill="#d57e63" d="M455.3 41.8l-1.8 1.9l0 3l1.8-1.9z"/>
<path fill="#c67b63" d="M472 42.7l-1.5 4.9l.4 1.1l1.5-5z"/>
<path fill="#babdbd" d="M470.4 55l-1.1 6.7l1.7 1.6l1-6.8z"/>
<path fill="#c06651" d="M475.7 44.4l-1.4-4.7l-.8 1.6l1.4 4.6z"/>
<path fill="#c0d2db" d="M470.8 67.4l-1 4.5l2.6 1.2l.9-4.6z"/>
<path fill="#aeaeb1" d="M461.8 61.5l-.8-5.5l1.6 1.8l.7 5.4z"/>
<path fill="#c0876f" d="M475.5 50.6l-.6-5.3l.6 .5l.6 5.2z"/>
<path fill="#b4cfde" d="M492.2 72.6l.9 3.1l2.8-1.1l-1-3z"/>
<path fill="#d5cfc9" d="M448 53.3l-5.5 1.9l1 3.6l5.4-2.3z"/>
<path fill="#ab9c93" d="M486.5 58.8l.9-6.6l1.7-.9l-1 6.7z"/>
<path fill="#cf5a48" d="M491.4 41.8l1.7-1.5l-.9-1.4l-1.6 1.6z"/>
<path fill="#abb4b7" d="M463.7 67.3l-1-5.4l2.2 1.8l.9 5.3z"/>
<path fill="#a8b7c0" d="M465.9 71.8l-1.1-4.3l2.8 1.7l1 4.3z"/>
<path fill="#d5967b" d="M512.2 48.6l1.7 2.5l.4-3.1l-1.7-2.4z"/>
<path fill="#b1d2e4" d="M492.4 74.9l1.5 1l3.2-1.3l-1.8-.9z"/>
<path fill="#b75745" d="M473.3 39.8l-.6 2.5l-.8 .6l.6-2.6z"/>
<path fill="#d8755d" d="M456.5 41l-2 1.3l-.3 3.1l2-1.5z"/>
<path fill="#cf725a" d="M458.4 42.9l-1.8-2l-.2 3l1.8 1.8z"/>
<path fill="#bac3c9" d="M492.6 63.4l.9 5.8l2.3-1.3l-1-5.7z"/>
<path fill="#c36951" d="M490.7 46l1.5-4.4l-.6-1.4l-1.5 4.4z"/>
<path fill="#a2968d" d="M477.8 58.1l-.9-6.6l1.7 .8l.8 6.5z"/>
<path fill="#9cb4c0" d="M468.4 74.4l-1.2-2.5l3.1 1.3l1.1 2.5z"/>
<path fill="#dec9bd" d="M449 52.2l-1.8 1.5l.9 3.4l1.7-1.6z"/>
<path fill="#c68d72" d="M489.3 51.6l.6-5.4l.8-.7l-.7 5.5z"/>
<path fill="#db755d" d="M457.4 41.6l-1.9-.1l-.2 2.8l1.9 0z"/>
<path fill="#c37860" d="M493.2 44l1.5 5.3l.5-1.3l-1.5-5.2z"/>
<path fill="#bdcfd8" d="M491.6 68.9l.8 4.6l2.7-1.1l-.9-4.5z"/>
<path fill="#d8b7a5" d="M470.9 48.2l-1.2 7l1.3 1.8l1.2-7.1z"/>
<path fill="#b7baba" d="M493.1 57l1 6.8l1.9-1.5l-1.1-6.7z"/>
<path fill="#a89990" d="M485.9 58.9l.7-6.5l1.8-.7l-.9 6.5z"/>
<path fill="#c3aea2" d="M503.9 57.7l.6-4.8l1.2-1.7l-.7 4.9z"/>
<path fill="#e4c9b7" d="M449.9 51l-1.7 1.9l.9 3.4l1.7-2z"/>
<path fill="#c95748" d="M474.8 40.6l-1.7-1.5l-.7 1.5l1.7 1.4z"/>
<path fill="#bad5e4" d="M471.7 71.9l-1 3l3 1l.8-3.1z"/>
<path fill="#b45442" d="M492.3 41l1.5 2.4l.2-1.1l-1.5-2.4z"/>
<path fill="#d2876c" d="M511.2 47.1l1.7 2.4l.4-3.1l-1.7-2.3z"/>
<path fill="#bd846c" d="M475.7 51.2l-.8-5.7l1 .9l.7 5.7z"/>
<path fill="#9f938a" d="M478.4 58.4l-.8-6.5l1.8 .6l.7 6.4z"/>
<path fill="#ba634e" d="M475.4 44.9l-1.5-4.1l-.5 1.2l1.5 4z"/>
<path fill="#b1d2e4" d="M471.3 74.1l-1.7 1l3.4 1.2l1.4-1.1z"/>
<path fill="#cf7e63" d="M506.5 48.5l1.6-2.6l-.2-2.3l-1.6 2.7z"/>
<path fill="#a8b7c0" d="M496.1 74.1l1-4.3l3-1.7l-1.2 4.4z"/>
<path fill="#c0c9cf" d="M471.5 62.6l-.9 5.7l2.5 1.2l.8-5.8z"/>
<path fill="#aeaeb1" d="M501.6 64.2l.8-5.5l1.9-1.9l-.9 5.6z"/>
<path fill="#9cb4c0" d="M493.2 76.3l1.1-2.6l3.3-1.2l-1.2 2.5z"/>
<path fill="#a2968d" d="M485.2 59l.6-6.4l1.8-.5l-.7 6.4z"/>
<path fill="#abb4b7" d="M498.9 69.9l1-5.4l2.6-1.9l-1.1 5.4z"/>
<path fill="#e4bda8" d="M450.9 49.5l-1.7 2.3l.9 3.4l1.7-2.4z"/>
<path fill="#c3d5de" d="M472.4 68.2l-.8 4.5l2.8 1l.7-4.6z"/>
<path fill="#d2b4a2" d="M493.2 50.3l1.1 7.1l1.5-1.7l-1.2-7.1z"/>
<path fill="#cc5748" d="M491.4 42.4l1.8-1.4l-.5-1.6l-1.7 1.5z"/>
<path fill="#cc8166" d="M471.9 42.9l-1.4 5.6l.7 1.5l1.4-5.6z"/>
<path fill="#b7d2e1" d="M490.1 73.1l.7 3.1l3.1-.9l-.9-3z"/>
<path fill="#c69078" d="M460.2 50.5l-1.4-3.4l0 1.8l1.4 3.4z"/>
<path fill="#c0876f" d="M488.7 52.4l.8-5.8l1.2-1l-.9 5.9z"/>
<path fill="#9c9087" d="M479.2 58.7l-.7-6.4l1.9 .5l.5 6.3z"/>
<path fill="#c0c0c3" d="M471.2 56l-1 6.7l2.1 1.3l.9-6.7z"/>
<path fill="#cf7b60" d="M510.2 45.8l1.8 2.2l.3-3.2l-1.8-2.2z"/>
<path fill="#c06651" d="M490.6 46l1.5-3.7l-.3-1l-1.5 3.7z"/>
<path fill="#bd5a48" d="M473.1 40l-1.6 2.7l.3 1.3l1.6-2.8z"/>
<path fill="#9f938a" d="M484.4 59.1l.4-6.3l1.9-.4l-.6 6.3z"/>
<path fill="#b1d2e4" d="M490.3 75.5l1.3 1.2l3.5-1l-1.6-1.1z"/>
<path fill="#bdc6cc" d="M491 64l.7 5.8l2.6-1l-.9-5.8z"/>
<path fill="#e1ae96" d="M451.9 47.9l-1.7 2.6l.9 3.4l1.6-2.7z"/>
<path fill="#9c8d87" d="M479.9 58.9l-.5-6.3l1.9 .3l.3 6.3z"/>
<path fill="#d2755d" d="M507.2 46.7l1.9-1.7l.1-2.9l-1.9 1.8z"/>
<path fill="#c0d2db" d="M489.7 69.4l.6 4.6l3-.9l-.8-4.6z"/>
<path fill="#b78169" d="M476 51.7l-1-6l1.4 1.1l.9 5.9z"/>
<path fill="#d2755d" d="M509.2 45.1l1.9 1.5l.2-3l-1.9-1.3z"/>
<path fill="#9c9087" d="M483.5 59.2l.2-6.3l2-.2l-.4 6.3z"/>
<path fill="#bad8e7" d="M473.7 72.6l-.8 3.1l3.2 .8l.6-3.1z"/>
<path fill="#c65745" d="M474.4 41.1l-1.8-1.5l-.1 1.8l1.9 1.4z"/>
<path fill="#998d87" d="M480.8 59.1l-.3-6.3l2 .2l.1 6.3z"/>
<path fill="#c97b63" d="M492.8 44.7l1.3 5.9l.9-1.6l-1.4-5.8z"/>
<path fill="#db755d" d="M508.2 45.2l1.9 .1l.2-2.8l-1.9 0z"/>
<path fill="#9cb4c0" d="M470.3 75.4l-1.2-2.6l3.5 1.2l1 2.5z"/>
<path fill="#9c8d87" d="M482.6 59.2l.1-6.2l2-.1l-.2 6.3z"/>
<path fill="#bdbdbd" d="M491.8 57.6l.9 6.8l2.2-1.2l-1-6.7z"/>
<path fill="#998d87" d="M481.7 59.2l-.1-6.2l2 0l-.1 6.2z"/>
<path fill="#b4604b" d="M475.4 45.3l-1.4-3.4l-.3 .7l1.4 3.3z"/>
<path fill="#debda8" d="M471.3 49.1l-1.1 7l1.7 1.6l1-7.1z"/>
<path fill="#a8b7c0" d="M467.6 72.9l-1.1-4.3l3.2 1.5l.9 4.2z"/>
<path fill="#b75745" d="M492.2 41.6l1.6 3.1l.4-1.5l-1.6-3z"/>
<path fill="#d5ccc9" d="M516 57.8l5.3 2.5l1.6-3.5l-5.5-2.1z"/>
<path fill="#ba846c" d="M488 53l1-6l1.6-1.1l-1.1 6.1z"/>
<path fill="#b4d2e4" d="M473.3 74.8l-1.4 1.2l3.6 .9l1.1-1.2z"/>
<path fill="#b7a599" d="M460.8 56.8l-.8-5.1l1.6 1.8l.7 5z"/>
<path fill="#e19f81" d="M452.9 46.2l-1.7 2.7l.9 3.3l1.6-2.8z"/>
<path fill="#c3ccd2" d="M473 63.3l-.8 5.8l2.7 .9l.7-5.8z"/>
<path fill="#c3d8e1" d="M474.2 68.9l-.7 4.6l3.1 .8l.5-4.6z"/>
<path fill="#bad5e4" d="M487.9 73.6l.5 3.1l3.3-.7l-.7-3.1z"/>
<path fill="#dbc6ba" d="M515.1 56.7l1.7 1.7l1.5-3.2l-1.7-1.5z"/>
<path fill="#abb4b7" d="M465 68.6l-1.1-5.5l2.9 1.9l1 5.5z"/>
<path fill="#c95745" d="M491.1 43.2l2-1.4l.2-1.9l-2 1.5z"/>
<path fill="#ba634e" d="M490.3 46.5l.6-3.8l.8-.6l-.7 3.8z"/>
<path fill="#aeaeb1" d="M462.7 63l-1-5.7l2.3 1.9l.9 5.7z"/>
<path fill="#b17e66" d="M476.4 52.1l-1.1-6.1l1.7 1.1l1 6z"/>
<path fill="#9cb4c0" d="M490.9 76.8l.9-2.4l3.6-1l-1.1 2.5z"/>
<path fill="#e1c6b4" d="M514.2 55.5l1.6 2l1.4-3.2l-1.7-1.9z"/>
<path fill="#c9937b" d="M504.9 53.3l.6-3.8l1.2-1.7l-.7 3.9z"/>
<path fill="#b1d2e4" d="M488 75.9l.9 1.3l3.7-.7l-1.3-1.2z"/>
<path fill="#d8b7a5" d="M492.2 51l1 7.1l1.8-1.4l-1.1-7z"/>
<path fill="#c37860" d="M459.2 46.9l-1.5-2.4l.1 2l1.5 2.3z"/>
<path fill="#c3c6c6" d="M472.3 56.8l-.9 6.7l2.4 1.1l.8-6.8z"/>
<path fill="#d28466" d="M471.9 43.2l-1.3 6.1l1.2 1.8l1.2-6.2z"/>
<path fill="#c3d5e1" d="M487.5 69.8l.4 4.6l3.2-.6l-.6-4.6z"/>
<path fill="#bdd8ea" d="M475.8 73.1l-.6 3.1l3.4 .6l.4-3.2z"/>
<path fill="#c0c9cf" d="M489.2 64.5l.6 5.8l2.8-.8l-.7-5.8z"/>
<path fill="#c05a48" d="M473 40.2l-1.5 3.4l.6 1.7l1.5-3.4z"/>
<path fill="#de8d6f" d="M453.9 44.7l-1.7 2.5l.9 3.2l1.6-2.7z"/>
<path fill="#a8b7c0" d="M494 74.8l.8-4.1l3.3-1.3l-1 4.2z"/>
<path fill="#b78169" d="M487.3 53.3l.9-5.9l1.8-1l-1 6z"/>
<path fill="#e1baa5" d="M513.2 54l1.6 2.4l1.4-3.2l-1.6-2.3z"/>
<path fill="#bad8e7" d="M485.5 73.8l.3 3.2l3.5-.4l-.5-3.1z"/>
<path fill="#b15d4b" d="M474.7 46.2l-.8-4l1 .8l.7 4z"/>
<path fill="#c35445" d="M474.3 41.7l-1.9-1.3l.3 1.7l2 1.2z"/>
<path fill="#b4d2e4" d="M475.6 75.4l-1.1 1.3l3.8 .6l.7-1.3z"/>
<path fill="#c6d8e4" d="M476.2 69.4l-.5 4.6l3.3 .5l.3-4.6z"/>
<path fill="#c0c0c3" d="M490.4 58.2l.7 6.8l2.5-1l-.9-6.7z"/>
<path fill="#9cb4c0" d="M472.5 76.2l-1-2.4l3.7 .9l.7 2.4z"/>
<path fill="#abb4b7" d="M496.9 70.9l.9-5.3l3.1-1.7l-1.1 5.4z"/>
<path fill="#c6cfd5" d="M474.7 64l-.7 5.8l2.9 .7l.5-5.9z"/>
<path fill="#ae7b63" d="M477 52.6l-1-5.9l1.8 .9l.8 5.8z"/>
<path fill="#bddbea" d="M478.1 73.6l-.4 3.2l3.5 .3l.2-3.2z"/>
<path fill="#cc8166" d="M492.2 45.3l1.1 6.2l1.4-1.7l-1.2-6.1z"/>
<path fill="#d87e66" d="M455 43.6l-1.7 2.1l.9 3.1l1.7-2.2z"/>
<path fill="#c3d8e1" d="M485.3 70l.2 4.7l3.3-.4l-.4-4.6z"/>
<path fill="#b4d2e4" d="M485.5 76.1l.5 1.4l3.8-.5l-.9-1.3z"/>
<path fill="#e1c0ab" d="M472.1 50l-1 7l2 1.3l.9-7z"/>
<path fill="#bd5a48" d="M491.8 42.2l1.4 3.7l.8-1.9l-1.5-3.6z"/>
<path fill="#bda89c" d="M502.5 59.5l.8-5.2l2-1.9l-.9 5.2z"/>
<path fill="#bdd8ea" d="M483 73.9l.1 3.2l3.6-.2l-.3-3.2z"/>
<path fill="#deab93" d="M512.2 52.3l1.5 2.6l1.4-3.2l-1.6-2.5z"/>
<path fill="#cc6f57" d="M458.2 44.5l-1.8-1.4l.5 2.7l1.8 1.4z"/>
<path fill="#b4604b" d="M489.7 47.3l.8-4.1l1.2-.9l-.9 4.2z"/>
<path fill="#bddbea" d="M480.6 73.8l-.2 3.2l3.6 .1l-.1-3.2z"/>
<path fill="#aeaeb1" d="M499.7 65.7l1-5.8l2.6-1.9l-1.1 5.8z"/>
<path fill="#b17e66" d="M486.5 53.5l.8-5.8l1.9-.8l-.9 5.8z"/>
<path fill="#c65445" d="M490.8 43.5l1.9-1l.4-1.6l-1.9 1z"/>
<path fill="#c6d8e4" d="M478.4 69.8l-.3 4.6l3.4 .3l.1-4.7z"/>
<path fill="#c3ccd2" d="M487.2 64.8l.4 5.9l3-.6l-.6-5.8z"/>
<path fill="#b4d2e4" d="M478 75.8l-.7 1.4l3.8 .3l.3-1.4z"/>
<path fill="#db785d" d="M456 43l-1.8 1.3l.8 2.9l1.7-1.4z"/>
<path fill="#9cb4c0" d="M488.5 77.2l.6-2.3l3.8-.7l-.8 2.4z"/>
<path fill="#a8b7c0" d="M469.6 73.9l-.9-4.1l3.5 1.2l.7 4.1z"/>
<path fill="#c6d8e4" d="M483 70.1l.1 4.7l3.4-.2l-.2-4.6z"/>
<path fill="#db755d" d="M457.1 43.3l-1.9 0l.8 2.8l1.9-.2z"/>
<path fill="#b4d2e4" d="M483 76.2l.1 1.4l3.9-.2l-.5-1.4z"/>
<path fill="#c6c9c9" d="M473.7 57.5l-.8 6.7l2.6 .9l.6-6.8z"/>
<path fill="#c6d8e4" d="M480.7 70.1l-.1 4.7l3.4 .1l-.1-4.7z"/>
<path fill="#b4d2e4" d="M480.5 76.1l-.3 1.4l3.9 .1l-.1-1.4z"/>
<path fill="#ab7863" d="M477.8 52.9l-.8-5.8l1.9 .7l.7 5.7z"/>
<path fill="#debda8" d="M491.1 51.5l.9 7l2.1-1.2l-1-7z"/>
<path fill="#db997e" d="M511.3 50.6l1.5 2.7l1.4-3.1l-1.6-2.6z"/>
<path fill="#ab5a48" d="M475 46.7l-1-4.3l1.4 1l.9 4.3z"/>
<path fill="#c97b60" d="M505.9 49.6l.6-2.4l1.2-1.5l-.6 2.5z"/>
<path fill="#d88769" d="M472.3 44.2l-1.1 6l1.6 1.5l1.1-6.1z"/>
<path fill="#c6d2d8" d="M476.6 64.5l-.5 5.8l3.1 .5l.3-5.9z"/>
<path fill="#c65d4b" d="M473 40.9l-1.4 3.5l1.1 1.7l1.3-3.6z"/>
<path fill="#ae7b63" d="M485.7 53.7l.6-5.7l2-.6l-.8 5.7z"/>
<path fill="#c08d75" d="M459.8 52.4l-.8-4.1l1.6 1.8l.7 4z"/>
<path fill="#9cb4c0" d="M475 76.8l-.7-2.3l3.8 .6l.5 2.3z"/>
<path fill="#c05442" d="M474.4 42.2l-1.7-.8l.5 1.4l1.7 .7z"/>
<path fill="#c3c6c6" d="M488.7 58.6l.6 6.8l2.7-.8l-.7-6.7z"/>
<path fill="#c6cfd5" d="M485.1 65.1l.2 5.9l3.2-.4l-.4-5.9z"/>
<path fill="#abb4b7" d="M466.8 69.8l-1-5.3l3.3 1.5l.9 5.3z"/>
<path fill="#a8b7c0" d="M491.6 75.4l.7-4l3.6-1l-.8 4.1z"/>
<path fill="#a87560" d="M478.6 53.3l-.7-5.7l2 .5l.5 5.6z"/>
<path fill="#ae5d4b" d="M488.8 48.1l1-4.3l1.6-1.1l-1 4.4z"/>
<path fill="#d88a6f" d="M510.3 48.9l1.5 2.6l1.4-3l-1.6-2.5z"/>
<path fill="#9cb4c0" d="M485.8 77.5l.3-2.3l3.9-.5l-.6 2.3z"/>
<path fill="#c9d2d8" d="M478.6 64.8l-.3 5.9l3.2 .3l.1-5.9z"/>
<path fill="#e7c3b1" d="M473.1 50.8l-.9 7l2.2 1.1l.8-7z"/>
<path fill="#d28469" d="M491.4 45.9l1 6.1l1.7-1.3l-1.1-6z"/>
<path fill="#ab7863" d="M484.7 53.8l.4-5.6l2.1-.4l-.6 5.7z"/>
<path fill="#d8cfcc" d="M448.6 55.7l-5.4 2.3l2.2 3.4l5.2-2.7z"/>
<path fill="#c35a48" d="M491.3 42.8l1.3 3.6l1.3-1.5l-1.3-3.5z"/>
<path fill="#c6d2d8" d="M482.9 65.1l.1 5.9l3.2-.2l-.2-5.9z"/>
<path fill="#e4cfc0" d="M449.5 54.6l-1.7 1.6l2 3.1l1.6-1.7z"/>
<path fill="#c05445" d="M490.5 43.7l1.6-.5l.5-1.3l-1.6 .6z"/>
<path fill="#c9d2d8" d="M480.8 65.1l-.1 5.9l3.3 .1l-.1-5.9z"/>
<path fill="#c9c9cc" d="M475.3 58.1l-.6 6.8l2.8 .7l.5-6.8z"/>
<path fill="#a57560" d="M479.5 53.5l-.5-5.6l2.1 .3l.3 5.6z"/>
<path fill="#9cb4c0" d="M477.6 77.2l-.5-2.3l3.9 .3l.2 2.2z"/>
<path fill="#aeaeb1" d="M464.1 64.3l-1.1-5.9l3 1.9l1 5.8z"/>
<path fill="#e7ccba" d="M450.4 53.4l-1.6 1.9l2 3.1l1.5-2z"/>
<path fill="#b49f93" d="M461.8 58.3l-1-5.3l2.4 2l.9 5.3z"/>
<path fill="#cf725a" d="M506.6 47.9l1.7-1.1l.7-2.5l-1.7 1.2z"/>
<path fill="#a85745" d="M475.6 47.3l-1.1-4.5l1.8 1.1l1 4.4z"/>
<path fill="#a87560" d="M483.7 53.9l.2-5.6l2.1-.3l-.4 5.6z"/>
<path fill="#d57e63" d="M509.3 47.6l1.6 2.2l1.3-2.9l-1.6-2.1z"/>
<path fill="#9cb4c0" d="M483.1 77.6l.1-2.2l3.9-.2l-.3 2.3z"/>
<path fill="#a57560" d="M480.5 53.7l-.3-5.6l2.1 .2l.1 5.6z"/>
<path fill="#a8b7c0" d="M471.9 74.7l-.7-4l3.7 .9l.6 4z"/>
<path fill="#9cb4c0" d="M480.3 77.5l-.2-2.2l3.9 .1l-.1 2.2z"/>
<path fill="#e4c0ae" d="M489.7 52l.7 7.1l2.4-.9l-.9-7z"/>
<path fill="#c6c9c9" d="M486.8 58.9l.4 6.8l2.9-.6l-.6-6.8z"/>
<path fill="#a57560" d="M482.6 53.9l.1-5.6l2.1-.1l-.2 5.6z"/>
<path fill="#eac0ab" d="M451.4 51.9l-1.5 2.2l2 3l1.5-2.3z"/>
<path fill="#a57560" d="M481.6 53.8l-.1-5.6l2.1 0l-.1 5.6z"/>
<path fill="#abb4b7" d="M494.7 71.7l.8-5.2l3.4-1.4l-.9 5.2z"/>
<path fill="#d8755d" d="M508.3 46.8l1.7 1.5l1.2-2.8l-1.7-1.4z"/>
<path fill="#db755d" d="M507.2 46.9l1.9 .2l1.2-2.7l-2-.1z"/>
<path fill="#db8a6c" d="M473 45l-1 6l1.9 1.2l.9-6.1z"/>
<path fill="#c9604b" d="M473.3 41.7l-1.3 3.5l1.5 1.4l1.2-3.6z"/>
<path fill="#ab5a48" d="M487.9 48.5l1-4.4l1.9-1.1l-1.1 4.5z"/>
<path fill="#bd5142" d="M474.8 42.8l-1.4-.4l.6 1.1l1.4 .4z"/>
<path fill="#c69078" d="M503.4 55.1l.8-4.2l2-1.9l-.9 4.2z"/>
<path fill="#c9cccc" d="M477 58.6l-.5 6.8l3 .5l.3-6.8z"/>
<path fill="#e7b199" d="M452.3 50.2l-1.5 2.5l1.9 3l1.4-2.6z"/>
<path fill="#a8b7c0" d="M488.9 75.9l.5-3.9l3.8-.8l-.7 4z"/>
<path fill="#eac6b1" d="M474.4 51.4l-.8 7l2.5 .9l.6-7.1z"/>
<path fill="#c0755d" d="M458.9 48.9l-.7-2.7l1.6 1.6l.7 2.6z"/>
<path fill="#c9c9cc" d="M484.9 59.1l.2 6.8l3-.4l-.4-6.8z"/>
<path fill="#a25745" d="M476.3 47.7l-1.1-4.4l2 .9l.9 4.3z"/>
<path fill="#bd5442" d="M490.1 44.1l1.2-.2l.6-1l-1.3 .3z"/>
<path fill="#d88769" d="M490.3 46.4l.9 6.1l2-1.1l-1-6z"/>
<path fill="#aeaeb1" d="M497.7 66.7l.9-5.7l3.1-1.7l-1 5.7z"/>
<path fill="#c65d4b" d="M490.5 43.3l1.1 3.6l1.6-1.2l-1.2-3.5z"/>
<path fill="#cccccc" d="M478.9 58.9l-.3 6.8l3.1 .3l.1-6.8z"/>
<path fill="#b7a599" d="M500.6 61l1-5.4l2.7-2l-1.1 5.4z"/>
<path fill="#e4a284" d="M453.3 48.5l-1.5 2.6l1.9 2.9l1.4-2.7z"/>
<path fill="#c9cccc" d="M482.9 59.2l.1 6.8l3.1-.1l-.2-6.8z"/>
<path fill="#e7c3b1" d="M488.2 52.5l.6 7.1l2.6-.7l-.7-7z"/>
<path fill="#a8b7c0" d="M474.5 75.4l-.5-3.9l3.9 .6l.4 3.9z"/>
<path fill="#a55745" d="M487.1 48.7l.8-4.2l2-.8l-1 4.3z"/>
<path fill="#abb4b7" d="M468.9 70.8l-.8-5.2l3.6 1.2l.7 5.1z"/>
<path fill="#cccccc" d="M480.9 59.1l-.1 6.8l3.1 .1l-.1-6.8z"/>
<path fill="#ba5142" d="M475.3 43.3l-1.1-.2l.6 .9l1 .1z"/>
<path fill="#e18a6f" d="M473.9 45.7l-.9 6l2.1 1l.8-6.1z"/>
<path fill="#a8b7c0" d="M486.1 76.1l.3-3.9l4-.5l-.5 3.9z"/>
<path fill="#cf604e" d="M473.9 42.4l-1.2 3.5l1.8 1.1l1.1-3.6z"/>
<path fill="#9f5442" d="M477.1 48.2l-.9-4.2l2.1 .7l.7 4.2z"/>
<path fill="#e19072" d="M454.3 46.9l-1.5 2.5l1.9 2.8l1.4-2.6z"/>
<path fill="#edc9b4" d="M475.8 52l-.6 7l2.7 .7l.5-7.1z"/>
<path fill="#deccbd" d="M513.2 58.8l1.5 1.7l2.5-3l-1.6-1.6z"/>
<path fill="#c66c57" d="M458.6 46.2l-1.6-.9l1 2.3l1.5 .9z"/>
<path fill="#d5cfc9" d="M514.1 60l5.1 2.9l2.8-3.3l-5.4-2.5z"/>
<path fill="#e4c9b7" d="M512.3 57.5l1.5 2.1l2.4-2.9l-1.5-1.9z"/>
<path fill="#a25745" d="M486.1 48.9l.7-4.1l2.1-.6l-.8 4.2z"/>
<path fill="#a8b7c0" d="M477.3 75.9l-.4-3.9l4 .4l.1 3.9z"/>
<path fill="#abb4b7" d="M492.1 72.3l.6-5.1l3.7-1.1l-.8 5.1z"/>
<path fill="#ba5142" d="M489.3 44.5l.6-.9l1.3-.2l-.7 1z"/>
<path fill="#eac6b4" d="M486.5 52.8l.4 7.1l2.7-.5l-.6-7.1z"/>
<path fill="#db8a6c" d="M489.1 46.9l.7 6.1l2.2-.9l-.9-6z"/>
<path fill="#de8166" d="M455.3 45.6l-1.6 2.1l1.8 2.7l1.5-2.2z"/>
<path fill="#a8b7c0" d="M483.2 76.3l.1-3.9l4-.2l-.3 3.9z"/>
<path fill="#e4bda8" d="M511.4 55.9l1.4 2.4l2.4-2.9l-1.5-2.3z"/>
<path fill="#cc604b" d="M489.6 43.7l1 3.6l1.9-1l-1.1-3.5z"/>
<path fill="#aeaeb1" d="M466 65.5l-1-5.7l3.4 1.6l.8 5.6z"/>
<path fill="#ba8772" d="M460.8 53.9l-1-4.3l2.4 1.9l.9 4.3z"/>
<path fill="#c37860" d="M504.4 51.5l.8-2.7l2-1.7l-.8 2.8z"/>
<path fill="#a8b7c0" d="M480.2 76.2l-.1-3.9l4.1 .1l-.1 3.9z"/>
<path fill="#db755d" d="M457.5 45.1l-2 .2l1.7 2.7l1.9-.3z"/>
<path fill="#9c5442" d="M478.1 48.5l-.7-4.1l2.2 .5l.5 4.1z"/>
<path fill="#de7860" d="M456.4 44.9l-1.7 1.4l1.7 2.6l1.6-1.5z"/>
<path fill="#f0c9b7" d="M477.4 52.4l-.5 7.1l2.8 .5l.3-7.1z"/>
<path fill="#9f5442" d="M485 49.1l.5-4l2.2-.4l-.6 4.1z"/>
<path fill="#e1ae96" d="M510.5 54.2l1.4 2.6l2.4-2.8l-1.5-2.5z"/>
<path fill="#b74e3f" d="M475.6 44.6l-.7-1l1.4 .2l.7 1z"/>
<path fill="#ae9c90" d="M463.2 59.7l-1.1-5.5l3.1 2l1 5.4z"/>
<path fill="#e48d6f" d="M475.1 46.3l-.8 6l2.4 .8l.7-6.1z"/>
<path fill="#edc9b4" d="M484.7 52.9l.2 7.1l2.9-.3l-.4-7.1z"/>
<path fill="#d2634e" d="M474.8 43l-1 3.6l2 .9l.9-3.6z"/>
<path fill="#9c5442" d="M479.1 48.8l-.5-4.1l2.3 .4l.4 4z"/>
<path fill="#abb4b7" d="M471.4 71.7l-.7-5.1l3.8 .9l.5 5.1z"/>
<path fill="#f0ccb7" d="M479.2 52.7l-.3 7.1l2.9 .3l.1-7.1z"/>
<path fill="#9c5442" d="M483.9 49.2l.3-4l2.3-.3l-.5 4z"/>
<path fill="#ba5142" d="M488 45l.7-1l1.6-.2l-.8 1z"/>
<path fill="#e19f81" d="M509.6 52.4l1.4 2.7l2.3-2.7l-1.4-2.6z"/>
<path fill="#f0c9b7" d="M482.9 53l0 7.1l2.9-.1l-.2-7.1z"/>
<path fill="#e18d6f" d="M487.7 47.3l.6 6.1l2.4-.7l-.7-6.1z"/>
<path fill="#f0ccb7" d="M481 52.9l-.1 7.1l2.9 .1l0-7.1z"/>
<path fill="#9c5142" d="M480.3 49l-.3-4l2.3 .2l.1 4z"/>
<path fill="#aeaeb1" d="M495.3 67.5l.8-5.5l3.5-1.4l-.9 5.6z"/>
<path fill="#9c5442" d="M482.7 49.2l.1-4l2.3-.1l-.3 4z"/>
<path fill="#9c5142" d="M481.5 49.2l-.1-4l2.3 0l-.1 4z"/>
<path fill="#cf604e" d="M488.4 44.1l.8 3.6l2.1-.8l-1-3.6z"/>
<path fill="#c96f57" d="M505.4 49.2l1.4-.7l1.2-2.1l-1.4 .7z"/>
<path fill="#abb4b7" d="M489.3 72.8l.4-5l3.9-.8l-.6 5.1z"/>
<path fill="#b44e3f" d="M476.6 45l-.8-1l1.8 .2l.7 1z"/>
<path fill="#de8d6f" d="M508.7 50.7l1.4 2.6l2.2-2.7l-1.5-2.5z"/>
<path fill="#c08d75" d="M501.4 56.7l1-4.4l2.8-2l-1 4.4z"/>
<path fill="#e79072" d="M476.4 46.8l-.7 6.1l2.5 .6l.5-6.1z"/>
<path fill="#d56351" d="M475.8 43.6l-.9 3.6l2.2 .8l.7-3.7z"/>
<path fill="#b49f93" d="M498.4 62.2l.9-5.3l3.3-1.8l-1.1 5.4z"/>
<path fill="#b74e3f" d="M486.7 45.4l.8-1.1l1.9-.2l-.9 1z"/>
<path fill="#d87e66" d="M507.8 49.3l1.4 2.2l2.2-2.6l-1.5-2.1z"/>
<path fill="#e48d6f" d="M486.1 47.5l.4 6.1l2.6-.5l-.6-6.1z"/>
<path fill="#db755d" d="M505.7 48.5l1.9 .4l2.2-2.6l-2-.2z"/>
<path fill="#ba725a" d="M459.9 50.5l-.9-2.9l2.4 1.8l.9 2.9z"/>
<path fill="#db7860" d="M506.8 48.4l1.6 1.6l2.1-2.5l-1.6-1.5z"/>
<path fill="#abb4b7" d="M474.1 72.4l-.5-5l4 .7l.3 5z"/>
<path fill="#d2634e" d="M487.2 44.5l.7 3.7l2.3-.7l-.8-3.6z"/>
<path fill="#b44e3f" d="M477.7 45.4l-.9-1.1l2.1 .2l.8 1.1z"/>
<path fill="#e7d2c3" d="M450.8 56.9l-1.6 1.7l3 2.8l1.5-1.8z"/>
<path fill="#e79072" d="M477.9 47.2l-.5 6.1l2.7 .4l.3-6.1z"/>
<path fill="#aeaeb1" d="M468.2 66.6l-.8-5.5l3.7 1.3l.7 5.5z"/>
<path fill="#edcfc0" d="M451.7 55.6l-1.5 2l2.9 2.8l1.4-2.1z"/>
<path fill="#abb4b7" d="M486.3 73.2l.2-5l4.1-.5l-.4 5z"/>
<path fill="#e79072" d="M484.5 47.7l.2 6.2l2.7-.3l-.4-6.1z"/>
<path fill="#b44e3f" d="M485.1 45.9l.9-1.2l2.3-.2l-.9 1.1z"/>
<path fill="#edc6b1" d="M452.6 54.1l-1.4 2.3l2.9 2.7l1.3-2.4z"/>
<path fill="#d8d2cc" d="M450 58l-5.2 2.7l3.4 3.1l4.9-3z"/>
<path fill="#d86651" d="M477 44l-.7 3.7l2.4 .6l.6-3.7z"/>
<path fill="#e79072" d="M479.5 47.5l-.3 6.1l2.7 .2l.1-6.2z"/>
<path fill="#b14e3f" d="M478.9 45.7l-1-1.2l2.5 .2l1 1.3z"/>
<path fill="#e79072" d="M482.8 47.7l.1 6.2l2.8-.1l-.2-6.1z"/>
<path fill="#abb4b7" d="M477 72.9l-.3-5l4.2 .4l.1 5z"/>
<path fill="#eab49c" d="M453.6 52.4l-1.4 2.5l2.8 2.6l1.3-2.6z"/>
<path fill="#ea9072" d="M481.1 47.7l-.1 6.2l2.8 .1l-.1-6.2z"/>
<path fill="#d56351" d="M485.8 44.7l.5 3.7l2.5-.5l-.7-3.7z"/>
<path fill="#b44e3f" d="M483.7 46.1l.8-1.3l2.7-.2l-1 1.2z"/>
<path fill="#abb4b7" d="M483.2 73.3l.1-5l4.2-.2l-.2 5z"/>
<path fill="#aeaeb1" d="M492.6 68.2l.6-5.4l3.8-1.1l-.8 5.5z"/>
<path fill="#b7846f" d="M462.4 55.4l-1.1-4.5l3.1 2l1 4.5z"/>
<path fill="#b14e3f" d="M480.2 45.9l-1-1.3l2.8 .3l.4 1.3z"/>
<path fill="#ab998d" d="M465.2 60.9l-1-5.3l3.5 1.6l.9 5.2z"/>
<path fill="#abb4b7" d="M480.1 73.2l-.1-5l4.2 .1l-.1 5z"/>
<path fill="#b14e3f" d="M482.7 46.1l.2-1.2l2.7-.1l-.7 1.3z"/>
<path fill="#d86651" d="M478.3 44.4l-.6 3.7l2.5 .4l.4-3.7z"/>
<path fill="#c36c54" d="M459.7 47.8l-1.3-.5l1.4 2l1.2 .5z"/>
<path fill="#eaa587" d="M454.5 50.6l-1.4 2.6l2.8 2.6l1.3-2.7z"/>
<path fill="#b14e3f" d="M481.5 46.1l-.4-1.2l2.7 .1l-.2 1.2z"/>
<path fill="#d86651" d="M484.3 44.9l.3 3.7l2.6-.3l-.5-3.7z"/>
<path fill="#bd755d" d="M502.4 53.2l.9-3l2.7-1.8l-1 3z"/>
<path fill="#e79375" d="M455.5 48.9l-1.4 2.5l2.7 2.5l1.3-2.6z"/>
<path fill="#d86651" d="M479.7 44.7l-.4 3.7l2.6 .2l.2-3.7zM482.8 44.9l.1 3.7l2.6-.1l-.3-3.7zM481.2 44.8l-.2 3.7l2.6 .1l-.1-3.7z"/>
<path fill="#db755d" d="M458.6 46.8l-2.1 .3l2.6 2.5l1.9-.5z"/>
<path fill="#e18469" d="M456.4 47.6l-1.5 2.1l2.6 2.4l1.4-2.2z"/>
<path fill="#aeaeb1" d="M470.8 67.5l-.7-5.4l4 1l.5 5.4z"/>
<path fill="#e17b60" d="M457.5 46.8l-1.6 1.5l2.5 2.4l1.5-1.6z"/>
<path fill="#ae9c90" d="M495.9 63l.8-5.2l3.6-1.5l-.9 5.2z"/>
<path fill="#e4cfc3" d="M510.6 60.7l1.4 1.8l3.4-2.7l-1.5-1.7z"/>
<path fill="#eaccbd" d="M509.8 59.4l1.3 2.1l3.3-2.6l-1.4-2z"/>
<path fill="#ba8772" d="M499.1 58l1-4.4l3.4-1.9l-1.1 4.5z"/>
<path fill="#eac3ae" d="M509 57.7l1.3 2.4l3.3-2.5l-1.4-2.3z"/>
<path fill="#aeaeb1" d="M489.6 68.8l.4-5.4l4.1-.8l-.6 5.4z"/>
<path fill="#e7b199" d="M508.2 56l1.2 2.6l3.2-2.5l-1.3-2.5z"/>
<path fill="#c66c57" d="M503.6 50.6l.6-1.2l2.4-1.3l-.7 1.2z"/>
<path fill="#d8cfcc" d="M511.3 61.9l4.7 3.2l3.8-3l-5.1-2.9z"/>
<path fill="#e4a284" d="M507.3 54.1l1.2 2.7l3.1-2.4l-1.3-2.6z"/>
<path fill="#b76f57" d="M461.5 52.1l-1.1-3.1l3.1 1.8l1 3.1z"/>
<path fill="#aeaeb1" d="M473.7 68.3l-.5-5.4l4.2 .7l.3 5.4z"/>
<path fill="#a8968a" d="M467.5 62.1l-.8-5.2l3.8 1.3l.7 5.1z"/>
<path fill="#e19072" d="M506.5 52.3l1.2 2.6l3-2.4l-1.3-2.5z"/>
<path fill="#db755d" d="M503.5 49.9l1.9 .6l3-2.3l-2.1-.4z"/>
<path fill="#de8166" d="M505.6 50.8l1.3 2.3l2.9-2.3l-1.4-2.2z"/>
<path fill="#de7860" d="M504.7 49.9l1.4 1.7l2.9-2.2l-1.6-1.6z"/>
<path fill="#aeaeb1" d="M486.5 69.1l.2-5.3l4.2-.5l-.4 5.4z"/>
<path fill="#b1816c" d="M464.4 56.7l-1.1-4.4l3.6 1.7l.9 4.3z"/>
<path fill="#aeaeb1" d="M476.8 68.8l-.3-5.3l4.3 .4l.1 5.3z"/>
<path fill="#ab998d" d="M493.1 63.8l.6-5.1l4-1.1l-.8 5.1z"/>
<path fill="#aeaeb1" d="M483.3 69.2l.1-5.3l4.3-.2l-.2 5.3z"/>
<path fill="#ba725a" d="M499.8 54.7l1.1-3.1l3.5-1.8l-1.2 3.1z"/>
<path fill="#c06954" d="M460.7 50l-.8-1.3l2.8 1.3l.7 1.3z"/>
<path fill="#aeaeb1" d="M480 69.1l-.1-5.3l4.4 .1l-.1 5.3z"/>
<path fill="#f0d2c3" d="M453.9 57.7l-1.4 2.1l3.8 2.4l1.2-2.2z"/>
<path fill="#ead5c6" d="M453 59.1l-1.5 1.8l3.9 2.5l1.3-1.9z"/>
<path fill="#f0c9b4" d="M454.7 56.1l-1.3 2.3l3.7 2.4l1.2-2.4z"/>
<path fill="#f0b79f" d="M455.6 54.4l-1.3 2.6l3.6 2.3l1.2-2.6z"/>
<path fill="#b4846f" d="M496.5 58.9l.8-4.3l3.8-1.5l-1 4.3z"/>
<path fill="#eda887" d="M456.4 52.6l-1.3 2.6l3.5 2.3l1.1-2.7z"/>
<path fill="#a59387" d="M470.2 63l-.7-5.1l4.1 1l.5 5z"/>
<path fill="#db755d" d="M460.2 48.4l-2.1 .5l3.4 2.2l1.9-.6z"/>
<path fill="#dbd2cf" d="M452.2 60.2l-4.9 3.1l4.3 2.8l4.4-3.4z"/>
<path fill="#ea9678" d="M457.3 50.8l-1.3 2.5l3.4 2.2l1.2-2.6z"/>
<path fill="#e47b63" d="M459.2 48.5l-1.5 1.6l3.3 2.1l1.3-1.7z"/>
<path fill="#e48769" d="M458.2 49.4l-1.3 2.2l3.3 2.2l1.2-2.3z"/>
<path fill="#c36c54" d="M500.9 52.1l.8-1.3l3.1-1.2l-.9 1.3z"/>
<path fill="#a8968a" d="M490 64.3l.4-5l4.2-.8l-.6 5z"/>
<path fill="#b16c57" d="M463.6 53.5l-1.2-3.2l3.8 1.8l1.1 3.2z"/>
<path fill="#ae7e69" d="M466.9 57.9l-.9-4.3l4 1.4l.7 4.2z"/>
<path fill="#edcfc0" d="M506.6 61.1l1.2 2.2l4.1-2.3l-1.3-2.1z"/>
<path fill="#edc6b1" d="M505.9 59.4l1.1 2.5l4-2.2l-1.3-2.4z"/>
<path fill="#e7d2c6" d="M507.3 62.5l1.2 1.9l4.2-2.3l-1.4-1.8z"/>
<path fill="#a29087" d="M473.3 63.8l-.5-5l4.3 .7l.3 5z"/>
<path fill="#eab49c" d="M505.1 57.5l1.1 2.7l3.9-2.2l-1.2-2.6z"/>
<path fill="#db755d" d="M500.9 51.2l1.8 .7l3.7-2.1l-2-.6z"/>
<path fill="#eaa587" d="M504.4 55.6l1.1 2.8l3.8-2.1l-1.2-2.7z"/>
<path fill="#e79375" d="M503.7 53.8l1.1 2.7l3.7-2.1l-1.2-2.6z"/>
<path fill="#a59387" d="M486.7 64.7l.2-5l4.4-.5l-.4 5z"/>
<path fill="#e17b60" d="M502.1 51.3l1.3 1.8l3.5-2l-1.4-1.7z"/>
<path fill="#b1816c" d="M493.6 59.7l.6-4.2l4.1-1.2l-.8 4.2z"/>
<path fill="#b46f57" d="M497 55.7l1-3.1l4-1.6l-1.2 3.2z"/>
<path fill="#e18469" d="M502.9 52.3l1.1 2.4l3.6-2l-1.3-2.3z"/>
<path fill="#d8d2cc" d="M507.9 63.7l4.2 3.6l4.8-2.6l-4.7-3.3z"/>
<path fill="#bd6951" d="M462.9 51.5l-.9-1.4l3.4 1.2l.8 1.4z"/>
<path fill="#a29087" d="M476.5 64.4l-.3-5l4.5 .4l.1 5zM483.3 64.8l.1-4.9l4.5-.2l-.2 5zM479.9 64.7l-.1-4.9l4.5 .1l-.1 4.9z"/>
<path fill="#ab7e69" d="M469.7 58.9l-.7-4.2l4.3 1l.5 4.1z"/>
<path fill="#db755d" d="M462.4 49.9l-1.9 .7l4 1.9l1.7-.8z"/>
<path fill="#ae6c54" d="M466.2 54.7l-1-3.1l4.2 1.4l.9 3z"/>
<path fill="#f6ccb4" d="M457.5 58l-1.2 2.4l4.4 2.1l1-2.5z"/>
<path fill="#f3d5c3" d="M456.7 59.6l-1.2 2.2l4.5 2.1l1.1-2.2z"/>
<path fill="#f3ba9f" d="M458.2 56.2l-1.2 2.6l4.3 2l1-2.7z"/>
<path fill="#edd5c9" d="M455.9 61l-1.3 1.9l4.6 2.2l1.1-2z"/>
<path fill="#c06954" d="M497.8 53.4l.9-1.4l3.7-1.1l-1 1.4z"/>
<path fill="#f3ab8a" d="M459 54.3l-1.1 2.7l4.2 2l1-2.8z"/>
<path fill="#e77e63" d="M461.5 50l-1.4 1.7l3.9 1.8l1.2-1.8z"/>
<path fill="#ae7e69" d="M490.3 60.3l.5-4.1l4.4-.9l-.6 4.1z"/>
<path fill="#ed9978" d="M459.8 52.5l-1.2 2.6l4.1 1.9l1-2.7z"/>
<path fill="#e7876c" d="M460.6 51l-1.2 2.3l4 1.9l1-2.4z"/>
<path fill="#b16c57" d="M494 56.5l.8-2.9l4.3-1.2l-1 3z"/>
<path fill="#ab7b66" d="M472.8 59.7l-.5-4.1l4.5 .7l.3 4.1z"/>
<path fill="#db755d" d="M497.9 52.3l1.7 .9l4.2-1.7l-1.9-.8z"/>
<path fill="#dbd5cf" d="M455.2 62.2l-4.5 3.4l5.2 2.5l3.9-3.7z"/>
<path fill="#f3c9b4" d="M502.2 60.8l.9 2.5l4.7-1.9l-1.1-2.5z"/>
<path fill="#ba6651" d="M465.6 52.7l-1-1.5l4.1 1.1l.9 1.5z"/>
<path fill="#ab7e69" d="M486.9 60.6l.3-4l4.6-.5l-.5 4.1z"/>
<path fill="#f0b79f" d="M501.6 58.9l.9 2.7l4.5-1.8l-1.1-2.7z"/>
<path fill="#f0d2c3" d="M502.8 62.5l1 2.3l4.8-1.9l-1.2-2.2z"/>
<path fill="#e47b63" d="M499 52.4l1.1 1.9l4.1-1.6l-1.3-1.8z"/>
<path fill="#eda88a" d="M501 57l.9 2.8l4.4-1.8l-1.1-2.8z"/>
<path fill="#ea9678" d="M500.3 55.1l.9 2.7l4.3-1.7l-1.1-2.7z"/>
<path fill="#e48769" d="M499.7 53.5l1 2.4l4.2-1.7l-1.1-2.4z"/>
<path fill="#ead5c6" d="M503.4 64l1 2l4.9-2l-1.2-1.9z"/>
<path fill="#ab6954" d="M469.2 55.7l-.8-3l4.5 1.1l.6 2.9z"/>
<path fill="#a87b66" d="M476.2 60.3l-.3-4l4.6 .4l.1 4z"/>
<path fill="#ab7b66" d="M483.3 60.8l.1-4l4.7-.2l-.3 4z"/>
<path fill="#a87b66" d="M479.7 60.7l-.1-4l4.7 .1l-.1 4z"/>
<path fill="#db755d" d="M465.2 51.2l-1.8 .9l4.5 1.6l1.5-1z"/>
<path fill="#bd6951" d="M494.3 54.4l1-1.5l4.3-1l-1.1 1.5z"/>
<path fill="#ae6c54" d="M490.6 57.1l.5-2.9l4.6-.9l-.7 2.9z"/>
<path fill="#dbd2cf" d="M503.9 65.2l3.6 3.9l5.5-2.2l-4.2-3.6z"/>
<path fill="#e77e63" d="M464.3 51.4l-1.2 1.8l4.4 1.5l1-1.9z"/>
<path fill="#f6bda2" d="M461.5 57.8l-1 2.7l4.8 1.7l.8-2.8z"/>
<path fill="#f9cfb7" d="M460.9 59.7l-1 2.5l5 1.7l.8-2.6z"/>
<path fill="#f6ab8d" d="M462.2 55.9l-1 2.8l4.7 1.6l.8-2.8z"/>
<path fill="#ea8a6c" d="M463.6 52.5l-1 2.4l4.5 1.5l.9-2.5z"/>
<path fill="#f09c7b" d="M462.9 54l-1 2.7l4.6 1.6l.8-2.8z"/>
<path fill="#f6d8c6" d="M460.2 61.3l-1.1 2.2l5.1 1.8l.9-2.3z"/>
<path fill="#ab6954" d="M472.5 56.6l-.6-2.9l4.7 .8l.4 2.8z"/>
<path fill="#db755d" d="M494.6 53.1l1.4 1.1l4.7-1.4l-1.7-1z"/>
<path fill="#b76651" d="M468.7 53.8l-1.1-1.5l4.6 1l1 1.6z"/>
<path fill="#f0d8cc" d="M459.5 62.8l-1.1 2l5.2 1.8l.9-2z"/>
<path fill="#ab6954" d="M487.1 57.5l.3-2.8l4.7-.6l-.5 2.8z"/>
<path fill="#e77e63" d="M495.5 53.4l.9 2l4.6-1.3l-1.1-1.9z"/>
<path fill="#ba6651" d="M490.7 55.3l1-1.6l4.9-.9l-1.1 1.6z"/>
<path fill="#e7876c" d="M496 54.5l.8 2.5l4.7-1.3l-1-2.4z"/>
<path fill="#ab6951" d="M476 57.2l-.4-2.8l4.8 .4l.2 2.8z"/>
<path fill="#f3ba9f" d="M497.5 60l.7 2.8l5.1-1.5l-.9-2.7z"/>
<path fill="#f3ab8a" d="M497.1 58l.7 2.9l4.9-1.4l-.9-2.8z"/>
<path fill="#ed9978" d="M496.6 56.1l.7 2.8l4.8-1.4l-.9-2.7z"/>
<path fill="#f6ccb7" d="M498 62l.7 2.6l5.2-1.5l-.9-2.5z"/>
<path fill="#db755d" d="M468.3 52.3l-1.6 1l5 1.2l1.2-1.1z"/>
<path fill="#ab6954" d="M483.4 57.6l.1-2.8l4.8-.2l-.3 2.8z"/>
<path fill="#f3d5c6" d="M498.5 63.7l.8 2.3l5.3-1.5l-1-2.3z"/>
<path fill="#ab6951" d="M479.6 57.5l-.2-2.8l4.9 .1l-.1 2.8z"/>
<path fill="#ded5d2" d="M458.9 64l-3.9 3.7l5.9 2l3.2-4z"/>
<path fill="#edd8c9" d="M499 65.2l.8 2.1l5.5-1.6l-1.1-2z"/>
<path fill="#b76651" d="M472.1 54.7l-1.1-1.6l5.1 .8l.7 1.6z"/>
<path fill="#ea8166" d="M467.6 52.6l-1 1.9l4.8 1.2l.7-2z"/>
<path fill="#db755d" d="M491.1 53.7l1 1.2l5.1-1l-1.4-1.1z"/>
<path fill="#ed8a6f" d="M467 53.7l-.9 2.5l4.9 1.2l.6-2.5z"/>
<path fill="#b76651" d="M487.1 55.6l.5-1.5l5.1-.6l-.9 1.6z"/>
<path fill="#f39c7b" d="M466.4 55.3l-.8 2.8l5 1.2l.6-2.8z"/>
<path fill="#f6ae8d" d="M465.9 57.2l-.8 2.8l5.2 1.3l.6-2.9z"/>
<path fill="#f9c0a2" d="M465.3 59.2l-.8 2.8l5.3 1.3l.6-2.8z"/>
<path fill="#f9cfba" d="M464.8 61.1l-.8 2.6l5.5 1.3l.6-2.6z"/>
<path fill="#f9dbc9" d="M464.2 62.8l-.9 2.3l5.6 1.4l.7-2.4z"/>
<path fill="#e77e63" d="M491.7 54.1l.6 2l4.9-1l-.9-2z"/>
<path fill="#b7634e" d="M475.8 55.3l-.7-1.5l5.1 .5l.3 1.5z"/>
<path fill="#db755d" d="M471.8 53.2l-1.2 1.2l5.2 .8l.8-1.2z"/>
<path fill="#dbd5cf" d="M499.4 66.5l2.8 4.1l6.2-1.8l-3.6-3.9z"/>
<path fill="#f0dbcc" d="M463.7 64.2l-.9 2l5.7 1.4l.7-2.1z"/>
<path fill="#b76651" d="M483.4 55.7l.1-1.5l5.1-.2l-.5 1.5z"/>
<path fill="#ea8a6c" d="M492.1 55.2l.5 2.5l5.1-1l-.8-2.5z"/>
<path fill="#b7634e" d="M479.6 55.6l-.3-1.5l5.1 .1l-.1 1.5z"/>
<path fill="#f09c7b" d="M492.4 56.9l.5 2.8l5.2-1l-.7-2.8z"/>
<path fill="#f6ab8d" d="M492.8 58.8l.5 2.9l5.3-1.1l-.7-2.9z"/>
<path fill="#f6bda2" d="M493.1 60.9l.5 2.8l5.5-1.1l-.7-2.8z"/>
<path fill="#db755d" d="M487.3 54.1l.6 1.3l5.2-.6l-1.1-1.2z"/>
<path fill="#f9cfb7" d="M493.5 62.8l.5 2.6l5.6-1.1l-.7-2.6z"/>
<path fill="#ea8166" d="M471.3 53.5l-.7 2l5.1 .8l.5-2z"/>
<path fill="#f6d8c6" d="M493.8 64.6l.6 2.4l5.8-1.1l-.8-2.4z"/>
<path fill="#db755d" d="M475.6 53.8l-.8 1.3l5.3 .5l.3-1.3z"/>
<path fill="#ed8d6f" d="M470.8 54.7l-.6 2.5l5.2 .8l.4-2.6z"/>
<path fill="#f0d8cc" d="M494.2 66.1l.6 2.1l5.9-1.2l-.8-2.1z"/>
<path fill="#f69c7b" d="M470.4 56.3l-.6 2.8l5.4 .9l.4-2.8z"/>
<path fill="#ea8166" d="M487.7 54.5l.4 2.1l5.2-.6l-.6-2z"/>
<path fill="#db755d" d="M483.4 54.3l.1 1.3l5.3-.3l-.6-1.3z"/>
<path fill="#f9ae90" d="M470 58.2l-.6 2.9l5.5 .9l.4-2.9z"/>
<path fill="#f9c0a5" d="M469.5 60.2l-.6 2.8l5.7 .9l.4-2.8z"/>
<path fill="#db755d" d="M479.5 54.2l-.4 1.3l5.3 .1l-.1-1.3z"/>
<path fill="#fcd2ba" d="M469.1 62.2l-.6 2.6l5.8 .9l.4-2.7z"/>
<path fill="#ed8a6f" d="M487.9 55.7l.3 2.6l5.3-.6l-.5-2.5z"/>
<path fill="#ded5d2" d="M463.2 65.5l-3.2 4l6.5 1.6l2.4-4.2z"/>
<path fill="#ea8166" d="M475.2 54.2l-.5 2l5.3 .5l.2-2.1z"/>
<path fill="#f39c7b" d="M488.1 57.4l.3 2.9l5.5-.7l-.5-2.8z"/>
<path fill="#f9dbc9" d="M468.7 63.9l-.7 2.4l6 1l.4-2.4z"/>
<path fill="#f6ae8d" d="M488.3 59.3l.3 2.9l5.6-.7l-.5-2.9z"/>
<path fill="#ea8166" d="M483.5 54.7l.1 2.1l5.3-.3l-.4-2.1z"/>
<path fill="#f9c0a5" d="M488.5 61.4l.3 2.9l5.8-.7l-.5-2.8z"/>
<path fill="#f08d6f" d="M474.9 55.4l-.4 2.6l5.4 .5l.2-2.6z"/>
<path fill="#ea8166" d="M479.3 54.6l-.2 2.1l5.4 .1l-.1-2.1z"/>
<path fill="#f3dbcf" d="M468.3 65.4l-.7 2.1l6.1 1l.5-2.2z"/>
<path fill="#f9cfba" d="M488.7 63.3l.3 2.7l5.9-.7l-.5-2.6z"/>
<path fill="#f69f7b" d="M474.6 57l-.4 2.8l5.6 .5l.2-2.9z"/>
<path fill="#ed8d6f" d="M483.5 55.9l.1 2.6l5.5-.3l-.3-2.6z"/>
<path fill="#f9ae90" d="M474.4 59l-.4 2.9l5.7 .5l.2-2.9z"/>
<path fill="#f9dbc9" d="M488.9 65.1l.3 2.4l6.1-.7l-.6-2.4z"/>
<path fill="#fcc0a5" d="M474.1 61l-.4 2.8l5.9 .5l.2-2.9z"/>
<path fill="#f08d6f" d="M479.2 55.8l-.2 2.6l5.5 .1l-.1-2.6z"/>
<path fill="#f69c7b" d="M483.6 57.6l.1 2.9l5.6-.3l-.3-2.9z"/>
<path fill="#ded5d2" d="M494.4 67.4l2 4.3l6.7-1.3l-2.9-4.1z"/>
<path fill="#f9ae90" d="M483.6 59.5l.1 3l5.8-.3l-.3-2.9z"/>
<path fill="#fcd2ba" d="M473.8 63l-.4 2.7l6 .5l.2-2.7z"/>
<path fill="#f69f7b" d="M479.1 57.4l-.2 2.9l5.7 .1l-.1-2.9z"/>
<path fill="#f0dbcc" d="M489.1 66.7l.3 2.2l6.3-.7l-.6-2.1z"/>
<path fill="#f9c0a5" d="M483.7 61.6l.1 2.9l5.9-.3l-.3-2.9z"/>
<path fill="#f9b190" d="M479 59.4l-.2 2.9l5.8 .1l-.1-3z"/>
<path fill="#f9dbc9" d="M473.6 64.7l-.4 2.4l6.2 .6l.2-2.4z"/>
<path fill="#fcc0a5" d="M478.8 61.5l-.2 2.9l6 .1l-.1-2.9z"/>
<path fill="#fcd2ba" d="M483.7 63.6l.1 2.7l6.1-.3l-.3-2.7zM478.7 63.4l-.2 2.7l6.1 .1l-.1-2.7z"/>
<path fill="#f9dbc9" d="M483.8 65.3l.1 2.4l6.3-.3l-.3-2.4z"/>
<path fill="#f3dbcf" d="M473.3 66.3l-.5 2.2l6.4 .6l.2-2.2z"/>
<path fill="#f9dbc9" d="M478.6 65.2l-.2 2.4l6.3 .1l-.1-2.4z"/>
<path fill="#f3dbcf" d="M483.8 66.9l.1 2.2l6.4-.3l-.3-2.2z"/>
<path fill="#ded8d2" d="M468 66.7l-2.4 4.2l6.9 1.1l1.6-4.4z"/>
<path fill="#f3dbcf" d="M478.5 66.8l-.2 2.2l6.5 .1l-.1-2.2z"/>
<path fill="#ded5d2" d="M489.2 68l1.2 4.4l7-.8l-2-4.3z"/>
<path fill="#ded8d2" d="M473.1 67.5l-1.6 4.4l7.1 .6l.7-4.5zM483.8 68.2l.3 4.5l7.2-.3l-1.2-4.4zM478.4 68l-.7 4.5l7.2 .1l-.3-4.5z"/>
<polygon points="431.1,63.2 502.1,77.6 534.5,46.9 521.0,55.4 521.0,56.0 520.9,56.5 520.8,57.1 520.6,57.7 520.4,58.3 520.1,58.8 519.8,59.4 519.5,59.9 519.1,60.5 518.6,61.0 518.1,61.6 517.6,62.1 517.0,62.6 516.4,63.1 515.7,63.6 515.0,64.1 514.3,64.6 513.5,65.1 512.7,65.5 511.9,66.0 511.0,66.4 510.1,66.8 509.1,67.2 508.1,67.6 507.1,68.0 506.1,68.3 505.0,68.7 503.9,69.0 502.8,69.3 501.6,69.6 500.4,69.9 499.2,70.1 498.0,70.4 496.8,70.6 495.5,70.8 494.3,71.0 493.0,71.1 491.7,71.2 490.4,71.4 489.1,71.5 487.8,71.5 486.4,71.6 485.1,71.6 483.8,71.7 482.4,71.7 481.1,71.6 479.8,71.6 478.5,71.5 477.1,71.5 475.8,71.4 474.5,71.2 473.2,71.1 471.9,70.9 470.6,70.7 469.4,70.5 468.1,70.3 466.9,70.1 465.7,69.8 464.5,69.6 463.4,69.3 462.2,69.0 461.1,68.6 460.0,68.3 459.0,67.9 457.9,67.6 457.0,67.2 456.0,66.8 455.0,66.4 454.1,65.9 453.3,65.5 452.4,65.0 451.7,64.5 450.9,64.1 450.2,63.6 449.5,63.1 448.9,62.6 448.3,62.0 447.7,61.5 447.2,61.0 446.7,60.4 446.3,59.9 445.9,59.3 445.6,58.8 445.3,58.2 445.1,57.6 444.9,57.0 444.7,56.5 444.6,55.9 444.6,55.3 444.6,54.7" fill="#cdcdcd"/>
<path d="M75.3 100.2H192.5V96.5L206.5 106L192.5 115.5V111.8H75.3z" fill="#95abbe"/>
<path d="M246 101.3H346.5V97.3L360.5 106.8L346.5 116.3V112.3H246z" fill="#95abbe"/>
<rect x="413.3" y="100.6" width="10.5" height="10.4" fill="#95abbe"/>
<rect x="429.1" y="100.6" width="10.5" height="10.4" fill="#95abbe"/>
<rect x="445.5" y="100.6" width="10.5" height="10.4" fill="#95abbe"/>
<rect x="461.5" y="100.6" width="10.5" height="10.4" fill="#95abbe"/>
<path d="M478.5 100.4H554.5V96.4L568.5 105.9L554.5 115.4V111.4H478.5z" fill="#95abbe"/>
<path d="M611 100.6H648.5V96.6L662.5 106.1L648.5 115.6V111.6H611z" fill="#95abbe"/>
<path d="M220.15 79V43.8H216.4L225.9 28.5L235.4 43.8H231.65V79z" fill="#c71f1f"/>
<path d="M220.15 183.2V146.6H216.4L225.9 131.3L235.4 146.6H231.65V183.2z" fill="#c71f1f"/>
<rect x="205.7" y="78.6" width="40.1" height="52.4" rx="3.5" fill="#ebebeb" stroke="#2e2e2e" stroke-width="1.3"/><text x="209.02" y="110.4" font-size="16" textLength="13.35" lengthAdjust="spacingAndGlyphs" stroke="#000" stroke-width="0.3">H</text><text x="220.78" y="114.3" font-size="12.2" textLength="19.26" lengthAdjust="spacingAndGlyphs" stroke="#000" stroke-width="0.3">PA</text>
<text x="208.9" y="26.6" font-size="17" textLength="43.72" lengthAdjust="spacingAndGlyphs" stroke="#000" stroke-width="0.3">APDs</text>
<text transform="translate(201.58,188.39) rotate(-90)" font-size="17" font-family="Liberation Serif, serif" stroke="#000" stroke-width="0.25" textLength="42.79" lengthAdjust="spacingAndGlyphs">|0⟩⟨0|</text>
<path d="M375.65 79V43.8H371.9L381.4 28.5L390.9 43.8H387.15V79z" fill="#c71f1f"/>
<path d="M375.65 183.2V146.6H371.9L381.4 131.3L390.9 146.6H387.15V183.2z" fill="#c71f1f"/>
<rect x="362" y="78.6" width="39.6" height="52.4" rx="3.5" fill="#ebebeb" stroke="#2e2e2e" stroke-width="1.3"/><text x="365.52" y="110.4" font-size="16" textLength="13.35" lengthAdjust="spacingAndGlyphs" stroke="#000" stroke-width="0.3">H</text><text x="378.38" y="114.3" font-size="12.2" textLength="19.26" lengthAdjust="spacingAndGlyphs" stroke="#000" stroke-width="0.3">PA</text>
<text x="364.2" y="26.6" font-size="17" textLength="43.72" lengthAdjust="spacingAndGlyphs" stroke="#000" stroke-width="0.3">APDs</text>
<text transform="translate(362.53,188.39) rotate(-90)" font-size="17" font-family="Liberation Serif, serif" stroke="#000" stroke-width="0.25" textLength="42.79" lengthAdjust="spacingAndGlyphs">|0⟩⟨0|</text>
<path d="M586.05 79V43.8H582.3L591.8 28.5L601.3 43.8H597.55V79z" fill="#c71f1f"/>
<path d="M586.05 183.2V146.6H582.3L591.8 131.3L601.3 146.6H597.55V183.2z" fill="#c71f1f"/>
<rect x="570.7" y="78.6" width="40.2" height="52.4" rx="3.5" fill="#ebebeb" stroke="#2e2e2e" stroke-width="1.3"/><text x="574.82" y="110.4" font-size="16" textLength="13.35" lengthAdjust="spacingAndGlyphs" stroke="#000" stroke-width="0.3">H</text><text x="588.08" y="114.3" font-size="12.2" textLength="18.63" lengthAdjust="spacingAndGlyphs" stroke="#000" stroke-width="0.3">BS</text>
<text x="571.4" y="26.6" font-size="17" textLength="43.72" lengthAdjust="spacingAndGlyphs" stroke="#000" stroke-width="0.3">APDs</text>
<text transform="translate(571.98,188.39) rotate(-90)" font-size="17" font-family="Liberation Serif, serif" stroke="#000" stroke-width="0.25" textLength="42.79" lengthAdjust="spacingAndGlyphs">|0⟩⟨0|</text>
<text x="127.95" y="132.4" font-size="20" font-family="Liberation Serif, serif" font-style="italic" textLength="9.55" lengthAdjust="spacingAndGlyphs" stroke="#000" stroke-width="0.2">ρ</text>
<text x="136.79" y="134.6" font-size="13.5" textLength="10.1" lengthAdjust="spacingAndGlyphs" stroke="#000" stroke-width="0.3">B</text>
<text x="148.52" y="132.4" font-size="18.5" stroke="#000" stroke-width="0.3">(</text>
<text x="153.88" y="132.4" font-size="17.5" textLength="10.66" lengthAdjust="spacingAndGlyphs" stroke="#000" stroke-width="0.3">0</text>
<text x="164.83" y="132.4" font-size="18.5" stroke="#000" stroke-width="0.3">)</text>
<text x="268.25" y="132.4" font-size="20" font-family="Liberation Serif, serif" font-style="italic" textLength="9.55" lengthAdjust="spacingAndGlyphs" stroke="#000" stroke-width="0.2">ρ</text>
<text x="276.59" y="134.6" font-size="13.5" textLength="10.1" lengthAdjust="spacingAndGlyphs" stroke="#000" stroke-width="0.3">B</text>
<text x="288.32" y="132.4" font-size="18.5" stroke="#000" stroke-width="0.3">(</text>
<text x="295.29" y="130.9" font-size="19" font-family="Liberation Serif, serif" font-style="italic" textLength="7.26" lengthAdjust="spacingAndGlyphs" stroke="#000" stroke-width="0.2">τ</text>
<text x="303.82" y="133.5" font-size="13.5" stroke="#000" stroke-width="0.3">1</text>
<text x="314.93" y="132.4" font-size="18.5" stroke="#000" stroke-width="0.3">)</text>
<text x="446.55" y="132.4" font-size="20" font-family="Liberation Serif, serif" font-style="italic" textLength="9.55" lengthAdjust="spacingAndGlyphs" stroke="#000" stroke-width="0.2">ρ</text>
<text x="454.59" y="134.6" font-size="13.5" textLength="10.1" lengthAdjust="spacingAndGlyphs" stroke="#000" stroke-width="0.3">B</text>
<text x="466.32" y="132.4" font-size="18.5" stroke="#000" stroke-width="0.3">(</text>
<text x="473.29" y="130.9" font-size="19" font-family="Liberation Serif, serif" font-style="italic" textLength="7.26" lengthAdjust="spacingAndGlyphs" stroke="#000" stroke-width="0.2">τ</text>
<text x="483.69" y="133.9" font-size="14.5" font-family="Liberation Serif, serif" font-style="italic" stroke="#000" stroke-width="0.3">i</text>
<text x="491.13" y="132.4" font-size="18.5" stroke="#000" stroke-width="0.3">)</text>
<text x="451.89" y="28.1" font-size="16.5" stroke="#000" stroke-width="0.3">i</text>
<text x="461.5" y="29.1" font-size="16.5" textLength="14.73" lengthAdjust="spacingAndGlyphs" stroke="#000" stroke-width="0.3">=</text>
<text x="481.03" y="28.1" font-size="16.5" textLength="9.95" lengthAdjust="spacingAndGlyphs" stroke="#000" stroke-width="0.3">3</text>
<text x="87.95" y="207.2" font-size="17" fill="#16429a" textLength="353.78" lengthAdjust="spacingAndGlyphs" stroke="#16429a" stroke-width="0.3">Generation of higher-order non-Gaussian state</text>
<text x="524.53" y="206" font-size="17" fill="#931616" textLength="139.84" lengthAdjust="spacingAndGlyphs" stroke="#931616" stroke-width="0.3">Optical verification</text>
<rect x="70.8" y="225.2" width="611.4" height="53.0" fill="none" stroke="#333" stroke-width="1.3"/>
<path d="M91 237.8H143.5" stroke="#3fb992" stroke-width="3.4" stroke-dasharray="3.6 2.6"/>
<path d="M91 249.8H143.5" stroke="#3fb992" stroke-width="3.4" stroke-dasharray="8.7 5.5"/>
<path d="M91 261.8H143.5" stroke="#3fb992" stroke-width="3.4"/>
<path d="M324.7 237.8H376.8" stroke="#3a8af2" stroke-width="3.4" stroke-dasharray="3.6 2.6"/>
<path d="M324.7 249.8H376.8" stroke="#3a8af2" stroke-width="3.4" stroke-dasharray="8.7 5.5"/>
<path d="M324.7 261.8H376.8" stroke="#3a8af2" stroke-width="3.4"/>
<path d="M558.2 237.8H610.3" stroke="#f73c3c" stroke-width="3.4" stroke-dasharray="3.6 2.6"/>
<path d="M558.2 249.8H610.3" stroke="#f73c3c" stroke-width="3.4" stroke-dasharray="8.7 5.5"/>
<path d="M558.2 261.8H610.3" stroke="#f73c3c" stroke-width="3.4"/>
<text x="150.58" y="254.5" font-size="24" textLength="19.42" lengthAdjust="spacingAndGlyphs" stroke="#000" stroke-width="0.3">Q</text>
<text x="396.48" y="254.5" font-size="24" textLength="19.42" lengthAdjust="spacingAndGlyphs" stroke="#000" stroke-width="0.3">Q</text>
<text x="618.08" y="254.5" font-size="24" textLength="19.42" lengthAdjust="spacingAndGlyphs" stroke="#000" stroke-width="0.3">Q</text>
<text x="171" y="258.5" font-size="17" stroke="#000" stroke-width="0.3">j</text>
<text x="416" y="258.5" font-size="17" stroke="#000" stroke-width="0.3">j</text>
<text x="637.49" y="258.5" font-size="17" stroke="#000" stroke-width="0.3">j</text>
<rect x="175.5" y="253.55" width="11.2" height="1.1"/>
<text x="188.85" y="258.9" font-size="17" textLength="10.03" lengthAdjust="spacingAndGlyphs" stroke="#000" stroke-width="0.3">1</text>
<rect x="643.7" y="253.55" width="11.8" height="1.1"/>
<rect x="649.05" y="248" width="1.1" height="12.2"/>
<text x="656.37" y="258.9" font-size="17" textLength="8.36" lengthAdjust="spacingAndGlyphs" stroke="#000" stroke-width="0.3">1</text>
<text x="53.94" y="301.4" font-size="23.3" textLength="10.8" lengthAdjust="spacingAndGlyphs" stroke="#000" stroke-width="0.3">1</text>
<text x="34.48" y="412.2" font-size="23.3" textLength="30.4" lengthAdjust="spacingAndGlyphs" stroke="#000" stroke-width="0.3">0.5</text>
<text x="53.48" y="522.6" font-size="23.3" textLength="12.17" lengthAdjust="spacingAndGlyphs" stroke="#000" stroke-width="0.3">0</text>
<text transform="translate(17.34,418.78) rotate(-90)" font-size="24" stroke="#000" stroke-width="0.3">Q</text>
<text transform="translate(17.34,418.78) rotate(-90)" font-size="15" x="18.9" y="4.26">n</text>
<clipPath id="clipb"><rect x="71" y="291.5" width="297.8" height="225.60000000000002"/></clipPath>
<rect x="71" y="291.5" width="297.8" height="99.7" fill="#e8e8f9"/>
<g stroke="#e2e2e2" stroke-width="1" stroke-dasharray="8.5 8.5" fill="none"><path d="M74 291.5V517.1" stroke-dashoffset="3.6"/><path d="M147 291.5V517.1" stroke-dashoffset="3.6"/><path d="M220 291.5V517.1" stroke-dashoffset="3.6"/><path d="M293 291.5V517.1" stroke-dashoffset="3.6"/><path d="M366 291.5V517.1" stroke-dashoffset="3.6"/><path d="M71 514.8H368.8"/><path d="M71 459.6H368.8"/><path d="M71 404.4H368.8"/><path d="M71 349.2H368.8"/><path d="M71 294H368.8"/></g>
<g stroke="#cdcdcd" stroke-width="1.1" fill="none"><path d="M74 291.5v12.3M74 517.1v-12.3"/><path d="M147 291.5v12.3M147 517.1v-12.3"/><path d="M220 291.5v12.3M220 517.1v-12.3"/><path d="M293 291.5v12.3M293 517.1v-12.3"/><path d="M366 291.5v12.3M366 517.1v-12.3"/></g>
<g stroke="#707070" stroke-width="1" fill="none"><path d="M71 514.8h12M368.8 514.8h-12"/><path d="M71 459.6h12M368.8 459.6h-12"/><path d="M71 404.4h12M368.8 404.4h-12"/><path d="M71 349.2h12M368.8 349.2h-12"/><path d="M71 294h12M368.8 294h-12"/></g>
<path d="M71 391.2H368.8" stroke="#929292" stroke-width="1.6" stroke-dasharray="8.4 5.7" stroke-dashoffset="11.6"/>
<text x="268.24" y="388.7" font-size="16.3" fill="#4a4acb" stroke="#4a4acb" stroke-width="0.3">QNG Region</text>
<text x="319.09" y="330.8" font-size="24" font-weight="bold" textLength="32.39" lengthAdjust="spacingAndGlyphs">(b)</text>
<g clip-path="url(#clipb)"><path d="M74 492.59L77.7 492.58L81.39 492.57L85.09 492.56L88.78 492.56L92.48 492.55L96.18 492.55L99.87 492.55L103.57 492.55L107.27 492.56L110.96 492.58L114.66 492.6L118.35 492.63L122.05 492.66L125.75 492.71L129.44 492.77L133.14 492.84L136.84 492.93L140.53 493.04L144.23 493.16L147.92 493.3L151.62 493.47L155.32 493.65L159.01 493.86L162.71 494.07L166.41 494.31L170.1 494.55L173.8 494.81L177.49 495.07L181.19 495.34L184.89 495.62L188.58 495.9L192.28 496.18L195.97 496.46L199.67 496.73L203.37 497.01L207.06 497.27L210.76 497.53L214.46 497.77L218.15 498.01L221.85 498.22L225.54 498.42L229.24 498.61L232.94 498.79L236.63 498.96L240.33 499.12L244.03 499.27L247.72 499.42L251.42 499.57L255.11 499.72L258.81 499.88L262.51 500.03L266.2 500.19L269.9 500.36L273.59 500.54L277.29 500.74L280.99 500.94L284.68 501.16L288.38 501.4L292.08 501.66L295.77 501.94L299.47 502.24L303.16 502.56L306.86 502.9L310.56 503.26L314.25 503.63L317.95 504.01L321.65 504.41L325.34 504.83L329.04 505.25L332.73 505.69L336.43 506.13L340.13 506.58L343.82 507.05L347.52 507.51L351.22 507.99L354.91 508.46L358.61 508.94L362.3 509.43L366 509.91" fill="none" stroke="#3fb992" stroke-width="3.3"/>
<path d="M74 448.68L77.7 448.74L81.39 448.81L85.09 448.88L88.78 448.95L92.48 449.02L96.18 449.09L99.87 449.16L103.57 449.24L107.27 449.33L110.96 449.41L114.66 449.51L118.35 449.6L122.05 449.7L125.75 449.81L129.44 449.93L133.14 450.05L136.84 450.18L140.53 450.31L144.23 450.46L147.92 450.61L151.62 450.77L155.32 450.94L159.01 451.12L162.71 451.31L166.41 451.52L170.1 451.74L173.8 451.97L177.49 452.23L181.19 452.49L184.89 452.78L188.58 453.08L192.28 453.41L195.97 453.76L199.67 454.13L203.37 454.53L207.06 454.96L210.76 455.42L214.46 455.9L218.15 456.42L221.85 456.98L225.54 457.56L229.24 458.18L232.94 458.82L236.63 459.48L240.33 460.16L244.03 460.84L247.72 461.54L251.42 462.24L255.11 462.95L258.81 463.69L262.51 464.43L266.2 465.2L269.9 465.99L273.59 466.8L277.29 467.63L280.99 468.48L284.68 469.36L288.38 470.25L292.08 471.17L295.77 472.11L299.47 473.07L303.16 474.05L306.86 475.07L310.56 476.12L314.25 477.21L317.95 478.35L321.65 479.52L325.34 480.75L329.04 482.03L332.73 483.36L336.43 484.75L340.13 486.18L343.82 487.66L347.52 489.17L351.22 490.7L354.91 492.26L358.61 493.84L362.3 495.43L366 497.02" fill="none" stroke="#3a8af2" stroke-width="3.3"/>
<path d="M74 456.4L77.7 456.42L81.39 456.44L85.09 456.46L88.78 456.48L92.48 456.5L96.18 456.52L99.87 456.54L103.57 456.57L107.27 456.59L110.96 456.62L114.66 456.64L118.35 456.67L122.05 456.7L125.75 456.73L129.44 456.75L133.14 456.78L136.84 456.8L140.53 456.82L144.23 456.84L147.92 456.85L151.62 456.86L155.32 456.87L159.01 456.88L162.71 456.89L166.41 456.9L170.1 456.92L173.8 456.94L177.49 456.97L181.19 457.01L184.89 457.06L188.58 457.12L192.28 457.19L195.97 457.28L199.67 457.39L203.37 457.51L207.06 457.66L210.76 457.83L214.46 458.03L218.15 458.26L221.85 458.52L225.54 458.81L229.24 459.12L232.94 459.45L236.63 459.8L240.33 460.15L244.03 460.51L247.72 460.87L251.42 461.23L255.11 461.59L258.81 461.96L262.51 462.33L266.2 462.72L269.9 463.12L273.59 463.53L277.29 463.97L280.99 464.44L284.68 464.95L288.38 465.5L292.08 466.1L295.77 466.76L299.47 467.47L303.16 468.24L306.86 469.06L310.56 469.93L314.25 470.85L317.95 471.82L321.65 472.83L325.34 473.88L329.04 474.97L332.73 476.11L336.43 477.27L340.13 478.47L343.82 479.69L347.52 480.94L351.22 482.21L354.91 483.49L358.61 484.78L362.3 486.08L366 487.39" fill="none" stroke="#f73c3c" stroke-width="3.3"/>
<path d="M74 505.52L77.7 505.54L81.39 505.56L85.09 505.58L88.78 505.6L92.48 505.62L96.18 505.64L99.87 505.66L103.57 505.68L107.27 505.7L110.96 505.72L114.66 505.74L118.35 505.76L122.05 505.78L125.75 505.81L129.44 505.83L133.14 505.86L136.84 505.88L140.53 505.91L144.23 505.94L147.92 505.97L151.62 506L155.32 506.03L159.01 506.07L162.71 506.1L166.41 506.14L170.1 506.18L173.8 506.23L177.49 506.28L181.19 506.33L184.89 506.38L188.58 506.44L192.28 506.5L195.97 506.56L199.67 506.63L203.37 506.71L207.06 506.79L210.76 506.87L214.46 506.96L218.15 507.06L221.85 507.16L225.54 507.27L229.24 507.38L232.94 507.5L236.63 507.63L240.33 507.75L244.03 507.89L247.72 508.03L251.42 508.17L255.11 508.32L258.81 508.47L262.51 508.62L266.2 508.78L269.9 508.94L273.59 509.11L277.29 509.27L280.99 509.44L284.68 509.61L288.38 509.79L292.08 509.96L295.77 510.14L299.47 510.32L303.16 510.5L306.86 510.68L310.56 510.86L314.25 511.05L317.95 511.23L321.65 511.42L325.34 511.6L329.04 511.79L332.73 511.98L336.43 512.17L340.13 512.36L343.82 512.55L347.52 512.74L351.22 512.93L354.91 513.12L358.61 513.31L362.3 513.5L366 513.69" fill="none" stroke="#3fb992" stroke-width="3.3" stroke-dasharray="8.8 5.4"/>
<path d="M74 351.64L77.7 351.9L81.39 352.17L85.09 352.43L88.78 352.7L92.48 352.98L96.18 353.27L99.87 353.56L103.57 353.87L107.27 354.2L110.96 354.53L114.66 354.89L118.35 355.26L122.05 355.66L125.75 356.08L129.44 356.52L133.14 357L136.84 357.5L140.53 358.03L144.23 358.59L147.92 359.19L151.62 359.83L155.32 360.52L159.01 361.26L162.71 362.05L166.41 362.92L170.1 363.86L173.8 364.88L177.49 365.99L181.19 367.2L184.89 368.51L188.58 369.93L192.28 371.43L195.97 373.01L199.67 374.66L203.37 376.36L207.06 378.1L210.76 379.88L214.46 381.72L218.15 383.62L221.85 385.59L225.54 387.64L229.24 389.78L232.94 391.99L236.63 394.29L240.33 396.67L244.03 399.12L247.72 401.63L251.42 404.2L255.11 406.82L258.81 409.47L262.51 412.12L266.2 414.77L269.9 417.43L273.59 420.11L277.29 422.79L280.99 425.5L284.68 428.23L288.38 430.97L292.08 433.74L295.77 436.52L299.47 439.3L303.16 442.06L306.86 444.78L310.56 447.46L314.25 450.11L317.95 452.74L321.65 455.37L325.34 458.01L329.04 460.67L332.73 463.37L336.43 466.08L340.13 468.82L343.82 471.55L347.52 474.29L351.22 477.04L354.91 479.8L358.61 482.58L362.3 485.36L366 488.15" fill="none" stroke="#3a8af2" stroke-width="3.3" stroke-dasharray="8.8 5.4"/>
<path d="M74 473.22L77.7 473.06L81.39 472.91L85.09 472.76L88.78 472.6L92.48 472.44L96.18 472.28L99.87 472.12L103.57 471.95L107.27 471.78L110.96 471.6L114.66 471.42L118.35 471.23L122.05 471.03L125.75 470.82L129.44 470.6L133.14 470.37L136.84 470.12L140.53 469.86L144.23 469.58L147.92 469.28L151.62 468.96L155.32 468.61L159.01 468.24L162.71 467.84L166.41 467.41L170.1 466.94L173.8 466.43L177.49 465.88L181.19 465.29L184.89 464.65L188.58 463.97L192.28 463.24L195.97 462.48L199.67 461.68L203.37 460.85L207.06 460L210.76 459.13L214.46 458.24L218.15 457.34L221.85 456.43L225.54 455.52L229.24 454.62L232.94 453.73L236.63 452.86L240.33 452.01L244.03 451.19L247.72 450.41L251.42 449.67L255.11 448.98L258.81 448.34L262.51 447.77L266.2 447.26L269.9 446.83L273.59 446.5L277.29 446.28L280.99 446.18L284.68 446.22L288.38 446.42L292.08 446.77L295.77 447.29L299.47 447.99L303.16 448.84L306.86 449.83L310.56 450.95L314.25 452.19L317.95 453.54L321.65 454.98L325.34 456.5L329.04 458.08L332.73 459.72L336.43 461.38L340.13 463.07L343.82 464.76L347.52 466.44L351.22 468.12L354.91 469.79L358.61 471.44L362.3 473.09L366 474.74" fill="none" stroke="#f73c3c" stroke-width="3.3" stroke-dasharray="8.8 5.4"/>
<path d="M74 513.03L77.7 513.04L81.39 513.06L85.09 513.07L88.78 513.08L92.48 513.09L96.18 513.1L99.87 513.11L103.57 513.12L107.27 513.13L110.96 513.15L114.66 513.16L118.35 513.17L122.05 513.18L125.75 513.19L129.44 513.2L133.14 513.21L136.84 513.22L140.53 513.23L144.23 513.25L147.92 513.26L151.62 513.27L155.32 513.28L159.01 513.29L162.71 513.3L166.41 513.31L170.1 513.32L173.8 513.34L177.49 513.35L181.19 513.36L184.89 513.37L188.58 513.38L192.28 513.39L195.97 513.4L199.67 513.41L203.37 513.42L207.06 513.44L210.76 513.45L214.46 513.46L218.15 513.47L221.85 513.48L225.54 513.49L229.24 513.5L232.94 513.51L236.63 513.53L240.33 513.54L244.03 513.55L247.72 513.56L251.42 513.57L255.11 513.58L258.81 513.59L262.51 513.6L266.2 513.61L269.9 513.63L273.59 513.64L277.29 513.65L280.99 513.66L284.68 513.67L288.38 513.68L292.08 513.69L295.77 513.7L299.47 513.72L303.16 513.73L306.86 513.74L310.56 513.75L314.25 513.76L317.95 513.77L321.65 513.78L325.34 513.79L329.04 513.81L332.73 513.82L336.43 513.83L340.13 513.84L343.82 513.85L347.52 513.86L351.22 513.87L354.91 513.88L358.61 513.89L362.3 513.91L366 513.92" fill="none" stroke="#3fb992" stroke-width="3.3" stroke-dasharray="3.3 2.7"/>
<path d="M74 303.53L77.7 303.73L81.39 303.93L85.09 304.14L88.78 304.37L92.48 304.61L96.18 304.86L99.87 305.15L103.57 305.46L107.27 305.8L110.96 306.18L114.66 306.6L118.35 307.06L122.05 307.58L125.75 308.15L129.44 308.8L133.14 309.51L136.84 310.31L140.53 311.19L144.23 312.17L147.92 313.24L151.62 314.42L155.32 315.69L159.01 317.05L162.71 318.49L166.41 320.01L170.1 321.6L173.8 323.24L177.49 324.94L181.19 326.69L184.89 328.49L188.58 330.33L192.28 332.24L195.97 334.21L199.67 336.27L203.37 338.42L207.06 340.68L210.76 343.07L214.46 345.59L218.15 348.27L221.85 351.1L225.54 354.09L229.24 357.2L232.94 360.41L236.63 363.73L240.33 367.14L244.03 370.63L247.72 374.18L251.42 377.79L255.11 381.43L258.81 385.1L262.51 388.76L266.2 392.42L269.9 396.05L273.59 399.66L277.29 403.23L280.99 406.75L284.68 410.25L288.38 413.71L292.08 417.14L295.77 420.56L299.47 423.95L303.16 427.32L306.86 430.69L310.56 434.05L314.25 437.39L317.95 440.72L321.65 444.03L325.34 447.33L329.04 450.63L332.73 453.93L336.43 457.26L340.13 460.61L343.82 464.01L347.52 467.45L351.22 470.94L354.91 474.48L358.61 478.05L362.3 481.65L366 485.26" fill="none" stroke="#3a8af2" stroke-width="3.3" stroke-dasharray="3.3 2.7"/>
<path d="M74 506.07L77.7 505.81L81.39 505.55L85.09 505.27L88.78 504.99L92.48 504.7L96.18 504.38L99.87 504.05L103.57 503.69L107.27 503.31L110.96 502.89L114.66 502.44L118.35 501.95L122.05 501.42L125.75 500.83L129.44 500.18L133.14 499.48L136.84 498.7L140.53 497.85L144.23 496.92L147.92 495.9L151.62 494.8L155.32 493.62L159.01 492.37L162.71 491.06L166.41 489.69L170.1 488.28L173.8 486.83L177.49 485.36L181.19 483.86L184.89 482.36L188.58 480.85L192.28 479.33L195.97 477.8L199.67 476.27L203.37 474.72L207.06 473.16L210.76 471.58L214.46 469.98L218.15 468.37L221.85 466.74L225.54 465.09L229.24 463.42L232.94 461.75L236.63 460.07L240.33 458.4L244.03 456.73L247.72 455.08L251.42 453.49L255.11 451.97L258.81 450.57L262.51 449.31L266.2 448.23L269.9 447.33L273.59 446.64L277.29 446.14L280.99 445.87L284.68 445.82L288.38 445.98L292.08 446.36L295.77 446.93L299.47 447.68L303.16 448.59L306.86 449.64L310.56 450.82L314.25 452.1L317.95 453.49L321.65 454.96L325.34 456.49L329.04 458.09L332.73 459.73L336.43 461.4L340.13 463.09L343.82 464.78L347.52 466.46L351.22 468.13L354.91 469.8L358.61 471.45L362.3 473.1L366 474.74" fill="none" stroke="#f73c3c" stroke-width="3.3" stroke-dasharray="3.3 2.7"/></g>
<rect x="71" y="291.5" width="297.8" height="225.6" fill="none" stroke="#3c3c3c" stroke-width="1.4"/>
<clipPath id="clipc"><rect x="385" y="291.5" width="298" height="225.60000000000002"/></clipPath>
<rect x="385" y="291.5" width="298" height="92.1" fill="#e8e8f9"/>
<g stroke="#e2e2e2" stroke-width="1" stroke-dasharray="8.5 8.5" fill="none"><path d="M388 291.5V517.1" stroke-dashoffset="3.6"/><path d="M461 291.5V517.1" stroke-dashoffset="3.6"/><path d="M534 291.5V517.1" stroke-dashoffset="3.6"/><path d="M607 291.5V517.1" stroke-dashoffset="3.6"/><path d="M680 291.5V517.1" stroke-dashoffset="3.6"/><path d="M385 514.8H683"/><path d="M385 459.6H683"/><path d="M385 404.4H683"/><path d="M385 349.2H683"/><path d="M385 294H683"/></g>
<g stroke="#cdcdcd" stroke-width="1.1" fill="none"><path d="M388 291.5v12.3M388 517.1v-12.3"/><path d="M461 291.5v12.3M461 517.1v-12.3"/><path d="M534 291.5v12.3M534 517.1v-12.3"/><path d="M607 291.5v12.3M607 517.1v-12.3"/><path d="M680 291.5v12.3M680 517.1v-12.3"/></g>
<g stroke="#707070" stroke-width="1" fill="none"><path d="M385 514.8h12M683 514.8h-12"/><path d="M385 459.6h12M683 459.6h-12"/><path d="M385 404.4h12M683 404.4h-12"/><path d="M385 349.2h12M683 349.2h-12"/><path d="M385 294h12M683 294h-12"/></g>
<path d="M385 383.6H683" stroke="#929292" stroke-width="1.6" stroke-dasharray="8.4 5.7" stroke-dashoffset="11.6"/>
<text x="582.24" y="379.6" font-size="16.3" fill="#4a4acb" stroke="#4a4acb" stroke-width="0.3">QNG Region</text>
<text x="633.1" y="330.8" font-size="24" font-weight="bold" textLength="30.89" lengthAdjust="spacingAndGlyphs">(c)</text>
<g clip-path="url(#clipc)"><path d="M388 501.3L391.7 501.41L395.39 501.51L399.09 501.62L402.78 501.73L406.48 501.84L410.18 501.96L413.87 502.08L417.57 502.21L421.27 502.34L424.96 502.49L428.66 502.64L432.35 502.8L436.05 502.97L439.75 503.15L443.44 503.33L447.14 503.52L450.84 503.72L454.53 503.93L458.23 504.14L461.92 504.36L465.62 504.59L469.32 504.82L473.01 505.06L476.71 505.3L480.41 505.55L484.1 505.79L487.8 506.04L491.49 506.29L495.19 506.54L498.89 506.79L502.58 507.04L506.28 507.28L509.97 507.53L513.67 507.76L517.37 508L521.06 508.22L524.76 508.44L528.46 508.65L532.15 508.86L535.85 509.05L539.54 509.24L543.24 509.42L546.94 509.59L550.63 509.77L554.33 509.95L558.03 510.13L561.72 510.31L565.42 510.51L569.11 510.72L572.81 510.94L576.51 511.18L580.2 511.42L583.9 511.67L587.59 511.92L591.29 512.17L594.99 512.41L598.68 512.64L602.38 512.86L606.08 513.05L609.77 513.23L613.47 513.39L617.16 513.52L620.86 513.63L624.56 513.73L628.25 513.81L631.95 513.87L635.65 513.92L639.34 513.95L643.04 513.97L646.73 513.98L650.43 513.98L654.13 513.97L657.82 513.95L661.52 513.92L665.22 513.89L668.91 513.86L672.61 513.82L676.3 513.77L680 513.73" fill="none" stroke="#3fb992" stroke-width="3.3"/>
<path d="M388 487.99L391.7 488.09L395.39 488.19L399.09 488.3L402.78 488.4L406.48 488.51L410.18 488.62L413.87 488.72L417.57 488.84L421.27 488.95L424.96 489.06L428.66 489.18L432.35 489.31L436.05 489.45L439.75 489.61L443.44 489.79L447.14 490L450.84 490.24L454.53 490.52L458.23 490.83L461.92 491.2L465.62 491.61L469.32 492.06L473.01 492.56L476.71 493.08L480.41 493.63L484.1 494.21L487.8 494.8L491.49 495.41L495.19 496.02L498.89 496.63L502.58 497.25L506.28 497.86L509.97 498.48L513.67 499.1L517.37 499.73L521.06 500.36L524.76 501L528.46 501.65L532.15 502.31L535.85 502.98L539.54 503.67L543.24 504.36L546.94 505.05L550.63 505.73L554.33 506.4L558.03 507.06L561.72 507.7L565.42 508.3L569.11 508.88L572.81 509.41L576.51 509.91L580.2 510.37L583.9 510.79L587.59 511.18L591.29 511.53L594.99 511.85L598.68 512.13L602.38 512.38L606.08 512.6L609.77 512.79L613.47 512.95L617.16 513.09L620.86 513.2L624.56 513.29L628.25 513.36L631.95 513.42L635.65 513.47L639.34 513.51L643.04 513.54L646.73 513.57L650.43 513.59L654.13 513.61L657.82 513.63L661.52 513.65L665.22 513.66L668.91 513.68L672.61 513.69L676.3 513.7L680 513.71" fill="none" stroke="#3a8af2" stroke-width="3.3"/>
<path d="M388 481.88L391.7 482.01L395.39 482.13L399.09 482.26L402.78 482.39L406.48 482.52L410.18 482.65L413.87 482.79L417.57 482.94L421.27 483.09L424.96 483.24L428.66 483.4L432.35 483.57L436.05 483.76L439.75 483.96L443.44 484.18L447.14 484.42L450.84 484.69L454.53 484.98L458.23 485.31L461.92 485.67L465.62 486.06L469.32 486.49L473.01 486.95L476.71 487.44L480.41 487.96L484.1 488.51L487.8 489.08L491.49 489.68L495.19 490.3L498.89 490.95L502.58 491.61L506.28 492.29L509.97 492.99L513.67 493.71L517.37 494.44L521.06 495.19L524.76 495.96L528.46 496.75L532.15 497.55L535.85 498.36L539.54 499.18L543.24 500.02L546.94 500.85L550.63 501.67L554.33 502.49L558.03 503.29L561.72 504.06L565.42 504.81L569.11 505.53L572.81 506.2L576.51 506.84L580.2 507.43L583.9 507.99L587.59 508.51L591.29 508.99L594.99 509.43L598.68 509.83L602.38 510.19L606.08 510.51L609.77 510.8L613.47 511.06L617.16 511.27L620.86 511.45L624.56 511.6L628.25 511.72L631.95 511.8L635.65 511.86L639.34 511.88L643.04 511.87L646.73 511.83L650.43 511.77L654.13 511.69L657.82 511.58L661.52 511.46L665.22 511.33L668.91 511.18L672.61 511.02L676.3 510.86L680 510.69" fill="none" stroke="#f73c3c" stroke-width="3.3"/>
<path d="M388 499.75L391.7 499.75L395.39 499.74L399.09 499.73L402.78 499.73L406.48 499.73L410.18 499.74L413.87 499.75L417.57 499.77L421.27 499.8L424.96 499.84L428.66 499.89L432.35 499.94L436.05 500.01L439.75 500.08L443.44 500.16L447.14 500.25L450.84 500.34L454.53 500.44L458.23 500.55L461.92 500.66L465.62 500.77L469.32 500.89L473.01 501.01L476.71 501.14L480.41 501.28L484.1 501.42L487.8 501.58L491.49 501.74L495.19 501.91L498.89 502.09L502.58 502.29L506.28 502.49L509.97 502.71L513.67 502.93L517.37 503.17L521.06 503.41L524.76 503.66L528.46 503.92L532.15 504.19L535.85 504.47L539.54 504.76L543.24 505.05L546.94 505.35L550.63 505.65L554.33 505.95L558.03 506.24L561.72 506.54L565.42 506.83L569.11 507.12L572.81 507.39L576.51 507.66L580.2 507.92L583.9 508.18L587.59 508.43L591.29 508.67L594.99 508.91L598.68 509.15L602.38 509.38L606.08 509.61L609.77 509.83L613.47 510.06L617.16 510.28L620.86 510.49L624.56 510.7L628.25 510.9L631.95 511.1L635.65 511.28L639.34 511.45L643.04 511.62L646.73 511.77L650.43 511.9L654.13 512.03L657.82 512.15L661.52 512.26L665.22 512.36L668.91 512.46L672.61 512.56L676.3 512.65L680 512.74" fill="none" stroke="#3fb992" stroke-width="3.3" stroke-dasharray="8.8 5.4"/>
<path d="M388 393.04L391.7 393.32L395.39 393.59L399.09 393.87L402.78 394.15L406.48 394.43L410.18 394.71L413.87 395L417.57 395.3L421.27 395.62L424.96 395.97L428.66 396.36L432.35 396.79L436.05 397.28L439.75 397.84L443.44 398.49L447.14 399.22L450.84 400.06L454.53 401L458.23 402.02L461.92 403.12L465.62 404.3L469.32 405.53L473.01 406.82L476.71 408.15L480.41 409.53L484.1 410.94L487.8 412.4L491.49 413.9L495.19 415.45L498.89 417.04L502.58 418.68L506.28 420.36L509.97 422.07L513.67 423.82L517.37 425.6L521.06 427.4L524.76 429.22L528.46 431.06L532.15 432.91L535.85 434.77L539.54 436.65L543.24 438.54L546.94 440.44L550.63 442.36L554.33 444.29L558.03 446.23L561.72 448.18L565.42 450.15L569.11 452.12L572.81 454.09L576.51 456.07L580.2 458.05L583.9 460.02L587.59 461.98L591.29 463.93L594.99 465.85L598.68 467.74L602.38 469.59L606.08 471.38L609.77 473.12L613.47 474.8L617.16 476.42L620.86 477.98L624.56 479.48L628.25 480.92L631.95 482.31L635.65 483.67L639.34 485L643.04 486.31L646.73 487.61L650.43 488.91L654.13 490.22L657.82 491.54L661.52 492.89L665.22 494.27L668.91 495.68L672.61 497.1L676.3 498.55L680 500" fill="none" stroke="#3a8af2" stroke-width="3.3" stroke-dasharray="8.8 5.4"/>
<path d="M388 458.7L391.7 458.59L395.39 458.47L399.09 458.36L402.78 458.24L406.48 458.13L410.18 458.02L413.87 457.92L417.57 457.81L421.27 457.72L424.96 457.62L428.66 457.53L432.35 457.45L436.05 457.37L439.75 457.29L443.44 457.22L447.14 457.15L450.84 457.08L454.53 457.02L458.23 456.96L461.92 456.91L465.62 456.85L469.32 456.81L473.01 456.76L476.71 456.72L480.41 456.69L484.1 456.66L487.8 456.64L491.49 456.63L495.19 456.63L498.89 456.64L502.58 456.66L506.28 456.69L509.97 456.73L513.67 456.78L517.37 456.84L521.06 456.92L524.76 457L528.46 457.1L532.15 457.2L535.85 457.32L539.54 457.45L543.24 457.59L546.94 457.73L550.63 457.88L554.33 458.05L558.03 458.23L561.72 458.46L565.42 458.72L569.11 459.04L572.81 459.42L576.51 459.86L580.2 460.38L583.9 460.97L587.59 461.64L591.29 462.38L594.99 463.2L598.68 464.08L602.38 465.01L606.08 465.98L609.77 466.98L613.47 468.01L617.16 469.05L620.86 470.12L624.56 471.2L628.25 472.29L631.95 473.4L635.65 474.52L639.34 475.66L643.04 476.8L646.73 477.97L650.43 479.14L654.13 480.32L657.82 481.51L661.52 482.69L665.22 483.87L668.91 485.05L672.61 486.22L676.3 487.39L680 488.56" fill="none" stroke="#f73c3c" stroke-width="3.3" stroke-dasharray="8.8 5.4"/>
<path d="M388 513.48L391.7 513.48L395.39 513.49L399.09 513.49L402.78 513.5L406.48 513.5L410.18 513.51L413.87 513.51L417.57 513.52L421.27 513.53L424.96 513.53L428.66 513.54L432.35 513.54L436.05 513.55L439.75 513.55L443.44 513.56L447.14 513.56L450.84 513.57L454.53 513.58L458.23 513.58L461.92 513.59L465.62 513.59L469.32 513.6L473.01 513.6L476.71 513.61L480.41 513.61L484.1 513.62L487.8 513.63L491.49 513.63L495.19 513.64L498.89 513.64L502.58 513.65L506.28 513.65L509.97 513.66L513.67 513.67L517.37 513.67L521.06 513.68L524.76 513.68L528.46 513.69L532.15 513.69L535.85 513.7L539.54 513.7L543.24 513.71L546.94 513.72L550.63 513.72L554.33 513.73L558.03 513.73L561.72 513.74L565.42 513.74L569.11 513.75L572.81 513.75L576.51 513.76L580.2 513.77L583.9 513.77L587.59 513.78L591.29 513.78L594.99 513.79L598.68 513.79L602.38 513.8L606.08 513.81L609.77 513.81L613.47 513.82L617.16 513.82L620.86 513.83L624.56 513.83L628.25 513.84L631.95 513.84L635.65 513.85L639.34 513.86L643.04 513.86L646.73 513.87L650.43 513.87L654.13 513.88L657.82 513.88L661.52 513.89L665.22 513.89L668.91 513.9L672.61 513.91L676.3 513.91L680 513.92" fill="none" stroke="#3fb992" stroke-width="3.3" stroke-dasharray="3.3 2.7"/>
<path d="M388 305.99L391.7 306.68L395.39 307.37L399.09 308.05L402.78 308.74L406.48 309.42L410.18 310.09L413.87 310.77L417.57 311.45L421.27 312.13L424.96 312.82L428.66 313.52L432.35 314.25L436.05 315.03L439.75 315.88L443.44 316.82L447.14 317.86L450.84 319.02L454.53 320.3L458.23 321.71L461.92 323.25L465.62 324.93L469.32 326.72L473.01 328.64L476.71 330.66L480.41 332.78L484.1 335L487.8 337.31L491.49 339.71L495.19 342.2L498.89 344.77L502.58 347.44L506.28 350.19L509.97 353.03L513.67 355.96L517.37 358.99L521.06 362.12L524.76 365.35L528.46 368.69L532.15 372.14L535.85 375.71L539.54 379.39L543.24 383.17L546.94 387.03L550.63 390.95L554.33 394.92L558.03 398.9L561.72 402.9L565.42 406.92L569.11 410.94L572.81 414.96L576.51 418.98L580.2 422.97L583.9 426.89L587.59 430.73L591.29 434.46L594.99 438.09L598.68 441.59L602.38 444.99L606.08 448.28L609.77 451.45L613.47 454.52L617.16 457.49L620.86 460.38L624.56 463.2L628.25 465.96L631.95 468.67L635.65 471.33L639.34 473.94L643.04 476.52L646.73 479.07L650.43 481.6L654.13 484.11L657.82 486.6L661.52 489.09L665.22 491.58L668.91 494.07L672.61 496.56L676.3 499.05L680 501.54" fill="none" stroke="#3a8af2" stroke-width="3.3" stroke-dasharray="3.3 2.7"/>
<path d="M388 504.39L391.7 503.78L395.39 503.16L399.09 502.54L402.78 501.91L406.48 501.26L410.18 500.6L413.87 499.92L417.57 499.21L421.27 498.48L424.96 497.71L428.66 496.92L432.35 496.08L436.05 495.21L439.75 494.29L443.44 493.32L447.14 492.3L450.84 491.22L454.53 490.08L458.23 488.88L461.92 487.61L465.62 486.27L469.32 484.88L473.01 483.44L476.71 481.97L480.41 480.48L484.1 478.97L487.8 477.47L491.49 475.97L495.19 474.5L498.89 473.06L502.58 471.65L506.28 470.29L509.97 468.98L513.67 467.7L517.37 466.48L521.06 465.3L524.76 464.16L528.46 463.08L532.15 462.05L535.85 461.07L539.54 460.14L543.24 459.24L546.94 458.36L550.63 457.51L554.33 456.67L558.03 455.86L561.72 455.08L565.42 454.33L569.11 453.62L572.81 452.95L576.51 452.34L580.2 451.81L583.9 451.37L587.59 451.05L591.29 450.87L594.99 450.86L598.68 451.03L602.38 451.42L606.08 452.04L609.77 452.9L613.47 453.98L617.16 455.28L620.86 456.76L624.56 458.4L628.25 460.19L631.95 462.11L635.65 464.12L639.34 466.21L643.04 468.36L646.73 470.54L650.43 472.76L654.13 474.98L657.82 477.22L661.52 479.45L665.22 481.66L668.91 483.86L672.61 486.05L676.3 488.23L680 490.41" fill="none" stroke="#f73c3c" stroke-width="3.3" stroke-dasharray="3.3 2.7"/></g>
<rect x="385" y="291.5" width="298" height="225.6" fill="none" stroke="#3c3c3c" stroke-width="1.4"/>
<rect x="59.65" y="530.7" width="15" height="1.4"/>
<text x="76.48" y="537.5" font-size="23.3" textLength="13.01" lengthAdjust="spacingAndGlyphs" stroke="#000" stroke-width="0.3">2</text>
<rect x="123.55" y="530.7" width="15" height="1.4"/>
<text x="139.85" y="537.5" font-size="23.3" textLength="31.51" lengthAdjust="spacingAndGlyphs" stroke="#000" stroke-width="0.3">1.5</text>
<rect x="205.9" y="530.7" width="15" height="1.4"/>
<text x="222.13" y="537.5" font-size="23.3" textLength="13.12" lengthAdjust="spacingAndGlyphs" stroke="#000" stroke-width="0.3">1</text>
<rect x="268.9" y="530.7" width="15" height="1.4"/>
<text x="286.04" y="537.5" font-size="23.3" textLength="31.99" lengthAdjust="spacingAndGlyphs" stroke="#000" stroke-width="0.3">0.5</text>
<text x="359.93" y="537.5" font-size="23.3" textLength="12.17" lengthAdjust="spacingAndGlyphs" stroke="#000" stroke-width="0.3">0</text>
<rect x="373.65" y="530.7" width="15" height="1.4"/>
<text x="390.48" y="537.5" font-size="23.3" textLength="13.01" lengthAdjust="spacingAndGlyphs" stroke="#000" stroke-width="0.3">2</text>
<rect x="437.55" y="530.7" width="15" height="1.4"/>
<text x="453.85" y="537.5" font-size="23.3" textLength="31.51" lengthAdjust="spacingAndGlyphs" stroke="#000" stroke-width="0.3">1.5</text>
<rect x="519.9" y="530.7" width="15" height="1.4"/>
<text x="536.13" y="537.5" font-size="23.3" textLength="13.12" lengthAdjust="spacingAndGlyphs" stroke="#000" stroke-width="0.3">1</text>
<rect x="582.9" y="530.7" width="15" height="1.4"/>
<text x="600.04" y="537.5" font-size="23.3" textLength="31.99" lengthAdjust="spacingAndGlyphs" stroke="#000" stroke-width="0.3">0.5</text>
<text x="673.93" y="537.5" font-size="23.3" textLength="12.17" lengthAdjust="spacingAndGlyphs" stroke="#000" stroke-width="0.3">0</text>
<text x="182.49" y="570.1" font-size="23" textLength="33" lengthAdjust="spacingAndGlyphs" stroke="#000" stroke-width="0.3">log</text>
<text x="214.41" y="573.6" font-size="17" textLength="17.62" lengthAdjust="spacingAndGlyphs" stroke="#000" stroke-width="0.3">10</text>
<text x="233.99" y="570.1" font-size="20.5" textLength="12.88" lengthAdjust="spacingAndGlyphs" stroke="#000" stroke-width="0.3">n</text>
<text x="246.18" y="573.6" font-size="17" textLength="9.15" lengthAdjust="spacingAndGlyphs" stroke="#000" stroke-width="0.3">0</text>
<text x="496.49" y="570.1" font-size="23" textLength="33" lengthAdjust="spacingAndGlyphs" stroke="#000" stroke-width="0.3">log</text>
<text x="528.41" y="573.6" font-size="17" textLength="17.62" lengthAdjust="spacingAndGlyphs" stroke="#000" stroke-width="0.3">10</text>
<text x="547.99" y="570.1" font-size="20.5" textLength="12.88" lengthAdjust="spacingAndGlyphs" stroke="#000" stroke-width="0.3">n</text>
<text x="560.18" y="573.6" font-size="17" textLength="9.15" lengthAdjust="spacingAndGlyphs" stroke="#000" stroke-width="0.3">0</text>
</svg>
</body></html>
